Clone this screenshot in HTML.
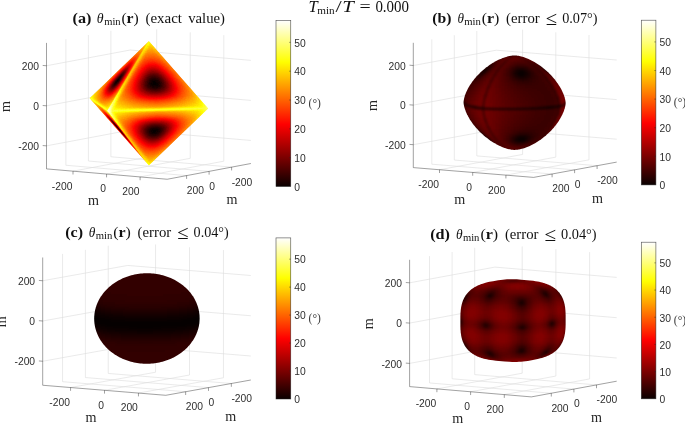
<!DOCTYPE html>
<html lang="en"><head><meta charset="utf-8"><title>theta min figure</title>
<style>
html,body{margin:0;padding:0;background:#fff;width:685px;height:423px;overflow:hidden}
svg{display:block}
.g{stroke:#dcdcdc;stroke-width:.6;fill:none}
.ax{stroke:#262626;stroke-width:.6;fill:none;stroke-opacity:.72}
.cbx{stroke:#262626;stroke-width:.62;fill:none;stroke-opacity:.8}
.tk{font-family:'Liberation Sans', sans-serif;font-size:10.3px;fill:#2e2e2e}
.m{font-family:'Liberation Serif', serif;font-size:14px;fill:#262626}
.deg{font-family:'Liberation Serif', serif;font-size:11.5px;fill:#3a3a3a}
.tt{font-family:'Liberation Serif', serif;font-size:14.4px;fill:#111}
.st{font-family:'Liberation Serif', serif;font-size:16px;fill:#111}
.b{font-weight:bold}
.i{font-style:italic}
.tt.sub{font-size:9.4px}
.tt.le{font-size:19.5px}
.st.sub{font-size:10.6px}
</style></head>
<body>
<svg width="685" height="423" viewBox="0 0 685 423">
<rect width="685" height="423" fill="#fff"/>
<defs>
<linearGradient id="hot" x1="0" y1="1" x2="0" y2="0">
<stop offset="0" stop-color="#0a0000"/><stop offset="0.375" stop-color="#ff0000"/>
<stop offset="0.75" stop-color="#ffff00"/><stop offset="1" stop-color="#ffffff"/>
</linearGradient>
<filter id="hm-a" x="-5%" y="-5%" width="110%" height="110%" color-interpolation-filters="sRGB"><feGaussianBlur stdDeviation="0.7"/><feComponentTransfer><feFuncR type="table" tableValues="0.02 0.3333 0.6667 1 1 1 1 1 1"/><feFuncG type="table" tableValues="0 0 0 0 0.3333 0.6667 1 1 1"/><feFuncB type="table" tableValues="0 0 0 0 0 0 0 0.5 1"/></feComponentTransfer></filter>
<filter id="hm-b" x="-5%" y="-5%" width="110%" height="110%" color-interpolation-filters="sRGB"><feGaussianBlur stdDeviation="0.8"/><feComponentTransfer><feFuncR type="table" tableValues="0.02 0.3333 0.6667 1 1 1 1 1 1"/><feFuncG type="table" tableValues="0 0 0 0 0.3333 0.6667 1 1 1"/><feFuncB type="table" tableValues="0 0 0 0 0 0 0 0.5 1"/></feComponentTransfer></filter>
<filter id="hm-c" x="-5%" y="-5%" width="110%" height="110%" color-interpolation-filters="sRGB"><feGaussianBlur stdDeviation="1.0"/><feComponentTransfer><feFuncR type="table" tableValues="0.02 0.3333 0.6667 1 1 1 1 1 1"/><feFuncG type="table" tableValues="0 0 0 0 0.3333 0.6667 1 1 1"/><feFuncB type="table" tableValues="0 0 0 0 0 0 0 0.5 1"/></feComponentTransfer></filter>
<filter id="hm-d" x="-5%" y="-5%" width="110%" height="110%" color-interpolation-filters="sRGB"><feGaussianBlur stdDeviation="0.8"/><feComponentTransfer><feFuncR type="table" tableValues="0.02 0.3333 0.6667 1 1 1 1 1 1"/><feFuncG type="table" tableValues="0 0 0 0 0.3333 0.6667 1 1 1"/><feFuncB type="table" tableValues="0 0 0 0 0 0 0 0.5 1"/></feComponentTransfer></filter>
</defs>
<g id="panel-a">
<g class="grid"><line class="g" x1="110.9" y1="156.78" x2="110.9" y2="30.78"/><line class="g" x1="46.5" y1="145.85" x2="130.2" y2="130.1"/><line class="g" x1="156.7" y1="155.42" x2="156.7" y2="29.42"/><line class="g" x1="130.2" y1="130.1" x2="250.9" y2="140.45"/><line class="g" x1="156.7" y1="155.42" x2="73" y2="171.17"/><line class="g" x1="110.9" y1="156.78" x2="231.6" y2="167.13"/><line class="g" x1="88.4" y1="161.02" x2="88.4" y2="35.02"/><line class="g" x1="46.5" y1="105.8" x2="130.2" y2="90.05"/><line class="g" x1="190.25" y1="158.3" x2="190.25" y2="32.3"/><line class="g" x1="130.2" y1="90.05" x2="250.9" y2="100.4"/><line class="g" x1="190.25" y1="158.3" x2="106.55" y2="174.05"/><line class="g" x1="88.4" y1="161.02" x2="209.1" y2="171.37"/><line class="g" x1="65.9" y1="165.25" x2="65.9" y2="39.25"/><line class="g" x1="46.5" y1="65.75" x2="130.2" y2="50"/><line class="g" x1="223.8" y1="161.18" x2="223.8" y2="35.18"/><line class="g" x1="130.2" y1="50" x2="250.9" y2="60.35"/><line class="g" x1="223.8" y1="161.18" x2="140.1" y2="176.93"/><line class="g" x1="65.9" y1="165.25" x2="186.6" y2="175.6"/></g>
<defs><g id="octa-face"><path fill="#000000" d="M24.97 23.97h3.06v1.06h-3.06zM23.97 24.97h4.06v1.06h-4.06zM23.97 25.97h4.06v1.06h-4.06zM23.97 26.97h3.06v1.06h-3.06z"/><path fill="#030303" d="M24.97 22.97h5.06v1.06h-5.06zM23.97 23.97h1.06v1.06h-1.06zM27.97 23.97h2.06v1.06h-2.06zM22.97 24.97h1.06v1.06h-1.06zM27.97 24.97h2.06v1.06h-2.06zM22.97 25.97h1.06v1.06h-1.06zM27.97 25.97h1.06v1.06h-1.06zM22.97 26.97h1.06v1.06h-1.06zM26.97 26.97h1.06v1.06h-1.06zM22.97 27.97h4.06v1.06h-4.06zM22.97 28.97h3.06v1.06h-3.06z"/><path fill="#060606" d="M24.97 21.97h5.06v1.06h-5.06zM23.97 22.97h1.06v1.06h-1.06zM29.97 22.97h1.06v1.06h-1.06zM22.97 23.97h1.06v1.06h-1.06zM29.97 23.97h1.06v1.06h-1.06zM21.97 24.97h1.06v1.06h-1.06zM21.97 25.97h1.06v1.06h-1.06zM28.97 25.97h1.06v1.06h-1.06zM21.97 26.97h1.06v1.06h-1.06zM27.97 26.97h1.06v1.06h-1.06zM21.97 27.97h1.06v1.06h-1.06zM26.97 27.97h1.06v1.06h-1.06zM21.97 28.97h1.06v1.06h-1.06zM25.97 28.97h1.06v1.06h-1.06zM22.97 29.97h2.06v1.06h-2.06z"/><path fill="#090909" d="M25.97 20.97h5.06v1.06h-5.06zM23.97 21.97h1.06v1.06h-1.06zM29.97 21.97h1.06v1.06h-1.06zM22.97 22.97h1.06v1.06h-1.06zM30.97 22.97h1.06v1.06h-1.06zM21.97 23.97h1.06v1.06h-1.06zM30.97 23.97h1.06v1.06h-1.06zM29.97 24.97h1.06v1.06h-1.06zM20.97 25.97h1.06v1.06h-1.06zM29.97 25.97h1.06v1.06h-1.06zM20.97 26.97h1.06v1.06h-1.06zM28.97 26.97h1.06v1.06h-1.06zM20.97 27.97h1.06v1.06h-1.06zM27.97 27.97h1.06v1.06h-1.06zM20.97 28.97h1.06v1.06h-1.06zM26.97 28.97h1.06v1.06h-1.06zM20.97 29.97h2.06v1.06h-2.06zM24.97 29.97h2.06v1.06h-2.06zM22.97 30.97h2.06v1.06h-2.06z"/><path fill="#0c0c0c" d="M26.97 19.97h3.06v1.06h-3.06zM23.97 20.97h2.06v1.06h-2.06zM30.97 20.97h1.06v1.06h-1.06zM22.97 21.97h1.06v1.06h-1.06zM30.97 21.97h1.06v1.06h-1.06zM21.97 22.97h1.06v1.06h-1.06zM20.97 23.97h1.06v1.06h-1.06zM20.97 24.97h1.06v1.06h-1.06zM30.97 24.97h1.06v1.06h-1.06zM19.97 26.97h1.06v1.06h-1.06zM29.97 26.97h1.06v1.06h-1.06zM19.97 27.97h1.06v1.06h-1.06zM28.97 27.97h1.06v1.06h-1.06zM19.97 28.97h1.06v1.06h-1.06zM27.97 28.97h1.06v1.06h-1.06zM26.97 29.97h1.06v1.06h-1.06zM20.97 30.97h2.06v1.06h-2.06zM24.97 30.97h1.06v1.06h-1.06z"/><path fill="#0f0f0f" d="M24.97 19.97h2.06v1.06h-2.06zM29.97 19.97h2.06v1.06h-2.06zM22.97 20.97h1.06v1.06h-1.06zM31.97 20.97h1.06v1.06h-1.06zM21.97 21.97h1.06v1.06h-1.06zM31.97 21.97h1.06v1.06h-1.06zM20.97 22.97h1.06v1.06h-1.06zM31.97 22.97h1.06v1.06h-1.06zM31.97 23.97h1.06v1.06h-1.06zM19.97 24.97h1.06v1.06h-1.06zM19.97 25.97h1.06v1.06h-1.06zM30.97 25.97h1.06v1.06h-1.06zM19.97 29.97h1.06v1.06h-1.06zM19.97 30.97h1.06v1.06h-1.06zM25.97 30.97h1.06v1.06h-1.06zM20.97 31.97h4.06v1.06h-4.06z"/><path fill="#121212" d="M25.97 18.97h6.06v1.06h-6.06zM23.97 19.97h1.06v1.06h-1.06zM31.97 19.97h1.06v1.06h-1.06zM32.97 20.97h1.06v1.06h-1.06zM32.97 21.97h1.06v1.06h-1.06zM32.97 22.97h1.06v1.06h-1.06zM19.97 23.97h1.06v1.06h-1.06zM31.97 24.97h1.06v1.06h-1.06zM18.97 25.97h1.06v1.06h-1.06zM18.97 26.97h1.06v1.06h-1.06zM30.97 26.97h1.06v1.06h-1.06zM18.97 27.97h1.06v1.06h-1.06zM29.97 27.97h1.06v1.06h-1.06zM18.97 28.97h1.06v1.06h-1.06zM28.97 28.97h1.06v1.06h-1.06zM18.97 29.97h1.06v1.06h-1.06zM27.97 29.97h1.06v1.06h-1.06zM18.97 30.97h1.06v1.06h-1.06zM26.97 30.97h1.06v1.06h-1.06zM19.97 31.97h1.06v1.06h-1.06zM24.97 31.97h1.06v1.06h-1.06zM20.97 32.97h3.06v1.06h-3.06z"/><path fill="#151515" d="M24.97 18.97h1.06v1.06h-1.06zM31.97 18.97h1.06v1.06h-1.06zM22.97 19.97h1.06v1.06h-1.06zM32.97 19.97h1.06v1.06h-1.06zM21.97 20.97h1.06v1.06h-1.06zM20.97 21.97h1.06v1.06h-1.06zM19.97 22.97h1.06v1.06h-1.06zM32.97 23.97h1.06v1.06h-1.06zM18.97 24.97h1.06v1.06h-1.06zM31.97 25.97h1.06v1.06h-1.06zM29.97 28.97h1.06v1.06h-1.06zM28.97 29.97h1.06v1.06h-1.06zM18.97 31.97h1.06v1.06h-1.06zM25.97 31.97h1.06v1.06h-1.06zM19.97 32.97h1.06v1.06h-1.06zM23.97 32.97h1.06v1.06h-1.06z"/><path fill="#181818" d="M25.97 17.97h6.06v1.06h-6.06zM23.97 18.97h1.06v1.06h-1.06zM32.97 18.97h1.06v1.06h-1.06zM21.97 19.97h1.06v1.06h-1.06zM33.97 19.97h1.06v1.06h-1.06zM20.97 20.97h1.06v1.06h-1.06zM33.97 20.97h1.06v1.06h-1.06zM19.97 21.97h1.06v1.06h-1.06zM33.97 21.97h1.06v1.06h-1.06zM33.97 22.97h1.06v1.06h-1.06zM18.97 23.97h1.06v1.06h-1.06zM32.97 24.97h1.06v1.06h-1.06zM17.97 25.97h1.06v1.06h-1.06zM17.97 26.97h1.06v1.06h-1.06zM31.97 26.97h1.06v1.06h-1.06zM17.97 27.97h1.06v1.06h-1.06zM30.97 27.97h1.06v1.06h-1.06zM17.97 28.97h1.06v1.06h-1.06zM17.97 29.97h1.06v1.06h-1.06zM17.97 30.97h1.06v1.06h-1.06zM27.97 30.97h1.06v1.06h-1.06zM26.97 31.97h1.06v1.06h-1.06zM18.97 32.97h1.06v1.06h-1.06zM24.97 32.97h1.06v1.06h-1.06zM19.97 33.97h4.06v1.06h-4.06z"/><path fill="#1b1b1b" d="M24.97 17.97h1.06v1.06h-1.06zM31.97 17.97h2.06v1.06h-2.06zM22.97 18.97h1.06v1.06h-1.06zM33.97 18.97h1.06v1.06h-1.06zM34.97 20.97h1.06v1.06h-1.06zM34.97 21.97h1.06v1.06h-1.06zM18.97 22.97h1.06v1.06h-1.06zM33.97 23.97h1.06v1.06h-1.06zM17.97 24.97h1.06v1.06h-1.06zM32.97 25.97h1.06v1.06h-1.06zM30.97 28.97h1.06v1.06h-1.06zM29.97 29.97h1.06v1.06h-1.06zM28.97 30.97h1.06v1.06h-1.06zM17.97 31.97h1.06v1.06h-1.06zM17.97 32.97h1.06v1.06h-1.06zM25.97 32.97h1.06v1.06h-1.06zM18.97 33.97h1.06v1.06h-1.06zM23.97 33.97h1.06v1.06h-1.06zM20.97 34.97h2.06v1.06h-2.06z"/><path fill="#1e1e1e" d="M26.97 16.97h6.06v1.06h-6.06zM23.97 17.97h1.06v1.06h-1.06zM33.97 17.97h1.06v1.06h-1.06zM21.97 18.97h1.06v1.06h-1.06zM34.97 18.97h1.06v1.06h-1.06zM20.97 19.97h1.06v1.06h-1.06zM34.97 19.97h1.06v1.06h-1.06zM19.97 20.97h1.06v1.06h-1.06zM18.97 21.97h1.06v1.06h-1.06zM34.97 22.97h1.06v1.06h-1.06zM17.97 23.97h1.06v1.06h-1.06zM33.97 24.97h1.06v1.06h-1.06zM16.97 26.97h1.06v1.06h-1.06zM32.97 26.97h1.06v1.06h-1.06zM16.97 27.97h1.06v1.06h-1.06zM31.97 27.97h1.06v1.06h-1.06zM16.97 28.97h1.06v1.06h-1.06zM16.97 29.97h1.06v1.06h-1.06zM16.97 30.97h1.06v1.06h-1.06zM16.97 31.97h1.06v1.06h-1.06zM27.97 31.97h1.06v1.06h-1.06zM26.97 32.97h1.06v1.06h-1.06zM17.97 33.97h1.06v1.06h-1.06zM24.97 33.97h1.06v1.06h-1.06zM18.97 34.97h2.06v1.06h-2.06zM22.97 34.97h1.06v1.06h-1.06z"/><path fill="#212121" d="M24.97 16.97h2.06v1.06h-2.06zM32.97 16.97h1.06v1.06h-1.06zM22.97 17.97h1.06v1.06h-1.06zM34.97 17.97h1.06v1.06h-1.06zM19.97 19.97h1.06v1.06h-1.06zM35.97 19.97h1.06v1.06h-1.06zM35.97 20.97h1.06v1.06h-1.06zM35.97 21.97h1.06v1.06h-1.06zM17.97 22.97h1.06v1.06h-1.06zM34.97 23.97h1.06v1.06h-1.06zM16.97 24.97h1.06v1.06h-1.06zM16.97 25.97h1.06v1.06h-1.06zM33.97 25.97h1.06v1.06h-1.06zM30.97 29.97h1.06v1.06h-1.06zM29.97 30.97h1.06v1.06h-1.06zM16.97 32.97h1.06v1.06h-1.06zM25.97 33.97h1.06v1.06h-1.06zM17.97 34.97h1.06v1.06h-1.06zM23.97 34.97h1.06v1.06h-1.06zM19.97 35.97h3.06v1.06h-3.06z"/><path fill="#242424" d="M26.97 15.97h6.06v1.06h-6.06zM23.97 16.97h1.06v1.06h-1.06zM33.97 16.97h2.06v1.06h-2.06zM21.97 17.97h1.06v1.06h-1.06zM35.97 17.97h1.06v1.06h-1.06zM20.97 18.97h1.06v1.06h-1.06zM35.97 18.97h1.06v1.06h-1.06zM18.97 20.97h1.06v1.06h-1.06zM17.97 21.97h1.06v1.06h-1.06zM35.97 22.97h1.06v1.06h-1.06zM16.97 23.97h1.06v1.06h-1.06zM34.97 24.97h1.06v1.06h-1.06zM15.97 26.97h1.06v1.06h-1.06zM33.97 26.97h1.06v1.06h-1.06zM15.97 27.97h1.06v1.06h-1.06zM32.97 27.97h1.06v1.06h-1.06zM15.97 28.97h1.06v1.06h-1.06zM31.97 28.97h1.06v1.06h-1.06zM15.97 29.97h1.06v1.06h-1.06zM15.97 30.97h1.06v1.06h-1.06zM15.97 31.97h1.06v1.06h-1.06zM28.97 31.97h1.06v1.06h-1.06zM27.97 32.97h1.06v1.06h-1.06zM16.97 33.97h1.06v1.06h-1.06zM26.97 33.97h1.06v1.06h-1.06zM16.97 34.97h1.06v1.06h-1.06zM24.97 34.97h1.06v1.06h-1.06zM17.97 35.97h2.06v1.06h-2.06zM22.97 35.97h1.06v1.06h-1.06z"/><path fill="#272727" d="M25.97 15.97h1.06v1.06h-1.06zM32.97 15.97h2.06v1.06h-2.06zM22.97 16.97h1.06v1.06h-1.06zM19.97 18.97h1.06v1.06h-1.06zM36.97 18.97h1.06v1.06h-1.06zM18.97 19.97h1.06v1.06h-1.06zM36.97 19.97h1.06v1.06h-1.06zM36.97 20.97h1.06v1.06h-1.06zM36.97 21.97h1.06v1.06h-1.06zM16.97 22.97h1.06v1.06h-1.06zM35.97 23.97h1.06v1.06h-1.06zM15.97 25.97h1.06v1.06h-1.06zM34.97 25.97h1.06v1.06h-1.06zM30.97 30.97h1.06v1.06h-1.06zM15.97 32.97h1.06v1.06h-1.06zM15.97 33.97h1.06v1.06h-1.06zM25.97 34.97h1.06v1.06h-1.06zM23.97 35.97h1.06v1.06h-1.06zM18.97 36.97h4.06v1.06h-4.06z"/><path fill="#2a2a2a" d="M27.97 14.97h5.06v1.06h-5.06zM23.97 15.97h2.06v1.06h-2.06zM34.97 15.97h1.06v1.06h-1.06zM21.97 16.97h1.06v1.06h-1.06zM35.97 16.97h1.06v1.06h-1.06zM20.97 17.97h1.06v1.06h-1.06zM36.97 17.97h1.06v1.06h-1.06zM17.97 20.97h1.06v1.06h-1.06zM16.97 21.97h1.06v1.06h-1.06zM36.97 22.97h1.06v1.06h-1.06zM15.97 23.97h1.06v1.06h-1.06zM15.97 24.97h1.06v1.06h-1.06zM35.97 24.97h1.06v1.06h-1.06zM14.97 27.97h1.06v1.06h-1.06zM33.97 27.97h1.06v1.06h-1.06zM14.97 28.97h1.06v1.06h-1.06zM32.97 28.97h1.06v1.06h-1.06zM14.97 29.97h1.06v1.06h-1.06zM31.97 29.97h1.06v1.06h-1.06zM14.97 30.97h1.06v1.06h-1.06zM14.97 31.97h1.06v1.06h-1.06zM29.97 31.97h1.06v1.06h-1.06zM28.97 32.97h1.06v1.06h-1.06zM27.97 33.97h1.06v1.06h-1.06zM15.97 34.97h1.06v1.06h-1.06zM16.97 35.97h1.06v1.06h-1.06zM24.97 35.97h1.06v1.06h-1.06zM17.97 36.97h1.06v1.06h-1.06zM22.97 36.97h1.06v1.06h-1.06z"/><path fill="#2d2d2d" d="M25.97 14.97h2.06v1.06h-2.06zM32.97 14.97h2.06v1.06h-2.06zM22.97 15.97h1.06v1.06h-1.06zM35.97 15.97h1.06v1.06h-1.06zM36.97 16.97h1.06v1.06h-1.06zM19.97 17.97h1.06v1.06h-1.06zM37.97 17.97h1.06v1.06h-1.06zM18.97 18.97h1.06v1.06h-1.06zM37.97 18.97h1.06v1.06h-1.06zM17.97 19.97h1.06v1.06h-1.06zM37.97 19.97h1.06v1.06h-1.06zM37.97 20.97h1.06v1.06h-1.06zM15.97 22.97h1.06v1.06h-1.06zM36.97 23.97h1.06v1.06h-1.06zM14.97 25.97h1.06v1.06h-1.06zM14.97 26.97h1.06v1.06h-1.06zM34.97 26.97h1.06v1.06h-1.06zM14.97 32.97h1.06v1.06h-1.06zM14.97 33.97h1.06v1.06h-1.06zM26.97 34.97h1.06v1.06h-1.06zM15.97 35.97h1.06v1.06h-1.06zM16.97 36.97h1.06v1.06h-1.06zM23.97 36.97h1.06v1.06h-1.06zM17.97 37.97h4.06v1.06h-4.06z"/><path fill="#303030" d="M24.97 14.97h1.06v1.06h-1.06zM34.97 14.97h1.06v1.06h-1.06zM36.97 15.97h1.06v1.06h-1.06zM20.97 16.97h1.06v1.06h-1.06zM37.97 16.97h1.06v1.06h-1.06zM16.97 20.97h1.06v1.06h-1.06zM37.97 21.97h1.06v1.06h-1.06zM37.97 22.97h1.06v1.06h-1.06zM14.97 24.97h1.06v1.06h-1.06zM35.97 25.97h1.06v1.06h-1.06zM33.97 28.97h1.06v1.06h-1.06zM32.97 29.97h1.06v1.06h-1.06zM31.97 30.97h1.06v1.06h-1.06zM30.97 31.97h1.06v1.06h-1.06zM29.97 32.97h1.06v1.06h-1.06zM28.97 33.97h1.06v1.06h-1.06zM14.97 34.97h1.06v1.06h-1.06zM25.97 35.97h1.06v1.06h-1.06zM15.97 36.97h1.06v1.06h-1.06zM16.97 37.97h1.06v1.06h-1.06zM21.97 37.97h2.06v1.06h-2.06z"/><path fill="#333333" d="M26.97 13.97h8.06v1.06h-8.06zM23.97 14.97h1.06v1.06h-1.06zM35.97 14.97h2.06v1.06h-2.06zM21.97 15.97h1.06v1.06h-1.06zM37.97 15.97h1.06v1.06h-1.06zM19.97 16.97h1.06v1.06h-1.06zM38.97 16.97h1.06v1.06h-1.06zM18.97 17.97h1.06v1.06h-1.06zM38.97 17.97h1.06v1.06h-1.06zM17.97 18.97h1.06v1.06h-1.06zM38.97 18.97h1.06v1.06h-1.06zM16.97 19.97h1.06v1.06h-1.06zM38.97 19.97h1.06v1.06h-1.06zM38.97 20.97h1.06v1.06h-1.06zM15.97 21.97h1.06v1.06h-1.06zM14.97 23.97h1.06v1.06h-1.06zM36.97 24.97h1.06v1.06h-1.06zM13.97 26.97h1.06v1.06h-1.06zM35.97 26.97h1.06v1.06h-1.06zM13.97 27.97h1.06v1.06h-1.06zM34.97 27.97h1.06v1.06h-1.06zM13.97 28.97h1.06v1.06h-1.06zM13.97 29.97h1.06v1.06h-1.06zM13.97 30.97h1.06v1.06h-1.06zM13.97 31.97h1.06v1.06h-1.06zM13.97 32.97h1.06v1.06h-1.06zM13.97 33.97h1.06v1.06h-1.06zM27.97 34.97h1.06v1.06h-1.06zM14.97 35.97h1.06v1.06h-1.06zM26.97 35.97h1.06v1.06h-1.06zM14.97 36.97h1.06v1.06h-1.06zM24.97 36.97h1.06v1.06h-1.06zM15.97 37.97h1.06v1.06h-1.06zM16.97 38.97h5.06v1.06h-5.06z"/><path fill="#363636" d="M25.97 13.97h1.06v1.06h-1.06zM34.97 13.97h2.06v1.06h-2.06zM22.97 14.97h1.06v1.06h-1.06zM37.97 14.97h1.06v1.06h-1.06zM20.97 15.97h1.06v1.06h-1.06zM38.97 15.97h1.06v1.06h-1.06zM17.97 17.97h1.06v1.06h-1.06zM39.97 18.97h1.06v1.06h-1.06zM15.97 20.97h1.06v1.06h-1.06zM38.97 21.97h1.06v1.06h-1.06zM14.97 22.97h1.06v1.06h-1.06zM37.97 23.97h1.06v1.06h-1.06zM13.97 25.97h1.06v1.06h-1.06zM36.97 25.97h1.06v1.06h-1.06zM32.97 30.97h1.06v1.06h-1.06zM31.97 31.97h1.06v1.06h-1.06zM30.97 32.97h1.06v1.06h-1.06zM13.97 34.97h1.06v1.06h-1.06zM13.97 35.97h1.06v1.06h-1.06zM25.97 36.97h1.06v1.06h-1.06zM14.97 37.97h1.06v1.06h-1.06zM23.97 37.97h1.06v1.06h-1.06zM15.97 38.97h1.06v1.06h-1.06zM21.97 38.97h1.06v1.06h-1.06zM18.97 39.97h1.06v1.06h-1.06z"/><path fill="#393939" d="M28.97 12.97h5.06v1.06h-5.06zM23.97 13.97h2.06v1.06h-2.06zM36.97 13.97h1.06v1.06h-1.06zM21.97 14.97h1.06v1.06h-1.06zM19.97 15.97h1.06v1.06h-1.06zM18.97 16.97h1.06v1.06h-1.06zM39.97 16.97h1.06v1.06h-1.06zM39.97 17.97h1.06v1.06h-1.06zM16.97 18.97h1.06v1.06h-1.06zM15.97 19.97h1.06v1.06h-1.06zM39.97 19.97h1.06v1.06h-1.06zM39.97 20.97h1.06v1.06h-1.06zM14.97 21.97h1.06v1.06h-1.06zM38.97 22.97h1.06v1.06h-1.06zM13.97 23.97h1.06v1.06h-1.06zM13.97 24.97h1.06v1.06h-1.06zM37.97 24.97h1.06v1.06h-1.06zM35.97 27.97h1.06v1.06h-1.06zM12.97 28.97h1.06v1.06h-1.06zM34.97 28.97h1.06v1.06h-1.06zM12.97 29.97h1.06v1.06h-1.06zM33.97 29.97h1.06v1.06h-1.06zM12.97 30.97h1.06v1.06h-1.06zM12.97 31.97h1.06v1.06h-1.06zM12.97 32.97h1.06v1.06h-1.06zM29.97 33.97h1.06v1.06h-1.06zM28.97 34.97h1.06v1.06h-1.06zM27.97 35.97h1.06v1.06h-1.06zM13.97 36.97h1.06v1.06h-1.06zM24.97 37.97h1.06v1.06h-1.06zM22.97 38.97h1.06v1.06h-1.06zM16.97 39.97h2.06v1.06h-2.06zM19.97 39.97h2.06v1.06h-2.06z"/><path fill="#3c3c3c" d="M26.97 12.97h2.06v1.06h-2.06zM33.97 12.97h3.06v1.06h-3.06zM22.97 13.97h1.06v1.06h-1.06zM37.97 13.97h1.06v1.06h-1.06zM20.97 14.97h1.06v1.06h-1.06zM38.97 14.97h1.06v1.06h-1.06zM39.97 15.97h1.06v1.06h-1.06zM17.97 16.97h1.06v1.06h-1.06zM16.97 17.97h1.06v1.06h-1.06zM40.97 17.97h1.06v1.06h-1.06zM40.97 18.97h1.06v1.06h-1.06zM14.97 20.97h1.06v1.06h-1.06zM39.97 21.97h1.06v1.06h-1.06zM13.97 22.97h1.06v1.06h-1.06zM38.97 23.97h1.06v1.06h-1.06zM12.97 26.97h1.06v1.06h-1.06zM36.97 26.97h1.06v1.06h-1.06zM12.97 27.97h1.06v1.06h-1.06zM12.97 33.97h1.06v1.06h-1.06zM12.97 34.97h1.06v1.06h-1.06zM12.97 35.97h1.06v1.06h-1.06zM26.97 36.97h1.06v1.06h-1.06zM13.97 37.97h1.06v1.06h-1.06zM14.97 38.97h1.06v1.06h-1.06zM23.97 38.97h1.06v1.06h-1.06zM15.97 39.97h1.06v1.06h-1.06zM21.97 39.97h1.06v1.06h-1.06zM17.97 40.97h2.06v1.06h-2.06z"/><path fill="#3f3f3f" d="M24.97 12.97h2.06v1.06h-2.06zM36.97 12.97h1.06v1.06h-1.06zM21.97 13.97h1.06v1.06h-1.06zM38.97 13.97h1.06v1.06h-1.06zM19.97 14.97h1.06v1.06h-1.06zM39.97 14.97h1.06v1.06h-1.06zM18.97 15.97h1.06v1.06h-1.06zM40.97 15.97h1.06v1.06h-1.06zM40.97 16.97h1.06v1.06h-1.06zM15.97 18.97h1.06v1.06h-1.06zM14.97 19.97h1.06v1.06h-1.06zM40.97 19.97h1.06v1.06h-1.06zM13.97 21.97h1.06v1.06h-1.06zM39.97 22.97h1.06v1.06h-1.06zM12.97 24.97h1.06v1.06h-1.06zM12.97 25.97h1.06v1.06h-1.06zM37.97 25.97h1.06v1.06h-1.06zM34.97 29.97h1.06v1.06h-1.06zM33.97 30.97h1.06v1.06h-1.06zM32.97 31.97h1.06v1.06h-1.06zM31.97 32.97h1.06v1.06h-1.06zM30.97 33.97h1.06v1.06h-1.06zM29.97 34.97h1.06v1.06h-1.06zM12.97 36.97h1.06v1.06h-1.06zM25.97 37.97h1.06v1.06h-1.06zM13.97 38.97h1.06v1.06h-1.06zM14.97 39.97h1.06v1.06h-1.06zM22.97 39.97h1.06v1.06h-1.06zM15.97 40.97h2.06v1.06h-2.06zM19.97 40.97h1.06v1.06h-1.06z"/><path fill="#424242" d="M27.97 11.97h8.06v1.06h-8.06zM23.97 12.97h1.06v1.06h-1.06zM37.97 12.97h1.06v1.06h-1.06zM20.97 13.97h1.06v1.06h-1.06zM39.97 13.97h1.06v1.06h-1.06zM40.97 14.97h1.06v1.06h-1.06zM17.97 15.97h1.06v1.06h-1.06zM16.97 16.97h1.06v1.06h-1.06zM41.97 16.97h1.06v1.06h-1.06zM15.97 17.97h1.06v1.06h-1.06zM41.97 17.97h1.06v1.06h-1.06zM41.97 18.97h1.06v1.06h-1.06zM13.97 20.97h1.06v1.06h-1.06zM40.97 20.97h1.06v1.06h-1.06zM12.97 23.97h1.06v1.06h-1.06zM38.97 24.97h1.06v1.06h-1.06zM11.97 27.97h1.06v1.06h-1.06zM36.97 27.97h1.06v1.06h-1.06zM11.97 28.97h1.06v1.06h-1.06zM35.97 28.97h1.06v1.06h-1.06zM11.97 29.97h1.06v1.06h-1.06zM11.97 30.97h1.06v1.06h-1.06zM11.97 31.97h1.06v1.06h-1.06zM11.97 32.97h1.06v1.06h-1.06zM11.97 33.97h1.06v1.06h-1.06zM11.97 34.97h1.06v1.06h-1.06zM28.97 35.97h1.06v1.06h-1.06zM27.97 36.97h1.06v1.06h-1.06zM12.97 37.97h1.06v1.06h-1.06zM24.97 38.97h1.06v1.06h-1.06zM13.97 39.97h1.06v1.06h-1.06zM14.97 40.97h1.06v1.06h-1.06zM20.97 40.97h1.06v1.06h-1.06zM16.97 41.97h3.06v1.06h-3.06z"/><path fill="#454545" d="M25.97 11.97h2.06v1.06h-2.06zM35.97 11.97h2.06v1.06h-2.06zM22.97 12.97h1.06v1.06h-1.06zM38.97 12.97h1.06v1.06h-1.06zM40.97 13.97h1.06v1.06h-1.06zM18.97 14.97h1.06v1.06h-1.06zM41.97 14.97h1.06v1.06h-1.06zM41.97 15.97h1.06v1.06h-1.06zM14.97 18.97h1.06v1.06h-1.06zM41.97 19.97h1.06v1.06h-1.06zM40.97 21.97h1.06v1.06h-1.06zM12.97 22.97h1.06v1.06h-1.06zM39.97 23.97h1.06v1.06h-1.06zM11.97 25.97h1.06v1.06h-1.06zM38.97 25.97h1.06v1.06h-1.06zM11.97 26.97h1.06v1.06h-1.06zM37.97 26.97h1.06v1.06h-1.06zM33.97 31.97h1.06v1.06h-1.06zM32.97 32.97h1.06v1.06h-1.06zM31.97 33.97h1.06v1.06h-1.06zM11.97 35.97h1.06v1.06h-1.06zM11.97 36.97h1.06v1.06h-1.06zM26.97 37.97h1.06v1.06h-1.06zM12.97 38.97h1.06v1.06h-1.06zM25.97 38.97h1.06v1.06h-1.06zM23.97 39.97h1.06v1.06h-1.06zM13.97 40.97h1.06v1.06h-1.06zM21.97 40.97h1.06v1.06h-1.06zM14.97 41.97h2.06v1.06h-2.06zM19.97 41.97h1.06v1.06h-1.06z"/><path fill="#484848" d="M28.97 10.97h6.06v1.06h-6.06zM23.97 11.97h2.06v1.06h-2.06zM37.97 11.97h2.06v1.06h-2.06zM21.97 12.97h1.06v1.06h-1.06zM39.97 12.97h2.06v1.06h-2.06zM19.97 13.97h1.06v1.06h-1.06zM41.97 13.97h1.06v1.06h-1.06zM17.97 14.97h1.06v1.06h-1.06zM16.97 15.97h1.06v1.06h-1.06zM42.97 15.97h1.06v1.06h-1.06zM15.97 16.97h1.06v1.06h-1.06zM42.97 16.97h1.06v1.06h-1.06zM14.97 17.97h1.06v1.06h-1.06zM42.97 17.97h1.06v1.06h-1.06zM13.97 19.97h1.06v1.06h-1.06zM41.97 20.97h1.06v1.06h-1.06zM12.97 21.97h1.06v1.06h-1.06zM40.97 22.97h1.06v1.06h-1.06zM11.97 23.97h1.06v1.06h-1.06zM11.97 24.97h1.06v1.06h-1.06zM39.97 24.97h1.06v1.06h-1.06zM10.97 28.97h1.06v1.06h-1.06zM36.97 28.97h1.06v1.06h-1.06zM10.97 29.97h1.06v1.06h-1.06zM35.97 29.97h1.06v1.06h-1.06zM10.97 30.97h1.06v1.06h-1.06zM34.97 30.97h1.06v1.06h-1.06zM10.97 31.97h1.06v1.06h-1.06zM10.97 32.97h1.06v1.06h-1.06zM10.97 33.97h1.06v1.06h-1.06zM30.97 34.97h1.06v1.06h-1.06zM29.97 35.97h1.06v1.06h-1.06zM28.97 36.97h1.06v1.06h-1.06zM11.97 37.97h1.06v1.06h-1.06zM11.97 38.97h1.06v1.06h-1.06zM12.97 39.97h1.06v1.06h-1.06zM24.97 39.97h1.06v1.06h-1.06zM12.97 40.97h1.06v1.06h-1.06zM22.97 40.97h1.06v1.06h-1.06zM13.97 41.97h1.06v1.06h-1.06zM20.97 41.97h1.06v1.06h-1.06zM15.97 42.97h3.06v1.06h-3.06z"/><path fill="#4b4b4b" d="M26.97 10.97h2.06v1.06h-2.06zM34.97 10.97h3.06v1.06h-3.06zM22.97 11.97h1.06v1.06h-1.06zM39.97 11.97h1.06v1.06h-1.06zM20.97 12.97h1.06v1.06h-1.06zM18.97 13.97h1.06v1.06h-1.06zM42.97 14.97h1.06v1.06h-1.06zM15.97 15.97h1.06v1.06h-1.06zM13.97 18.97h1.06v1.06h-1.06zM42.97 18.97h1.06v1.06h-1.06zM42.97 19.97h1.06v1.06h-1.06zM12.97 20.97h1.06v1.06h-1.06zM41.97 21.97h1.06v1.06h-1.06zM11.97 22.97h1.06v1.06h-1.06zM40.97 23.97h1.06v1.06h-1.06zM10.97 26.97h1.06v1.06h-1.06zM38.97 26.97h1.06v1.06h-1.06zM10.97 27.97h1.06v1.06h-1.06zM37.97 27.97h1.06v1.06h-1.06zM10.97 34.97h1.06v1.06h-1.06zM10.97 35.97h1.06v1.06h-1.06zM10.97 36.97h1.06v1.06h-1.06zM27.97 37.97h1.06v1.06h-1.06zM26.97 38.97h1.06v1.06h-1.06zM11.97 39.97h1.06v1.06h-1.06zM23.97 40.97h1.06v1.06h-1.06zM21.97 41.97h1.06v1.06h-1.06zM14.97 42.97h1.06v1.06h-1.06zM18.97 42.97h2.06v1.06h-2.06z"/><path fill="#4e4e4e" d="M24.97 10.97h2.06v1.06h-2.06zM37.97 10.97h2.06v1.06h-2.06zM21.97 11.97h1.06v1.06h-1.06zM40.97 11.97h1.06v1.06h-1.06zM19.97 12.97h1.06v1.06h-1.06zM41.97 12.97h1.06v1.06h-1.06zM17.97 13.97h1.06v1.06h-1.06zM42.97 13.97h1.06v1.06h-1.06zM16.97 14.97h1.06v1.06h-1.06zM43.97 14.97h1.06v1.06h-1.06zM43.97 15.97h1.06v1.06h-1.06zM14.97 16.97h1.06v1.06h-1.06zM43.97 16.97h1.06v1.06h-1.06zM13.97 17.97h1.06v1.06h-1.06zM43.97 17.97h1.06v1.06h-1.06zM12.97 19.97h1.06v1.06h-1.06zM42.97 20.97h1.06v1.06h-1.06zM11.97 21.97h1.06v1.06h-1.06zM41.97 22.97h1.06v1.06h-1.06zM10.97 24.97h1.06v1.06h-1.06zM10.97 25.97h1.06v1.06h-1.06zM39.97 25.97h1.06v1.06h-1.06zM35.97 30.97h1.06v1.06h-1.06zM34.97 31.97h1.06v1.06h-1.06zM33.97 32.97h1.06v1.06h-1.06zM32.97 33.97h1.06v1.06h-1.06zM31.97 34.97h1.06v1.06h-1.06zM30.97 35.97h1.06v1.06h-1.06zM10.97 37.97h1.06v1.06h-1.06zM10.97 38.97h1.06v1.06h-1.06zM25.97 39.97h1.06v1.06h-1.06zM11.97 40.97h1.06v1.06h-1.06zM12.97 41.97h1.06v1.06h-1.06zM22.97 41.97h1.06v1.06h-1.06zM13.97 42.97h1.06v1.06h-1.06zM20.97 42.97h1.06v1.06h-1.06zM14.97 43.97h4.06v1.06h-4.06z"/><path fill="#515151" d="M27.97 9.97h10.06v1.06h-10.06zM23.97 10.97h1.06v1.06h-1.06zM39.97 10.97h1.06v1.06h-1.06zM20.97 11.97h1.06v1.06h-1.06zM41.97 11.97h1.06v1.06h-1.06zM18.97 12.97h1.06v1.06h-1.06zM42.97 12.97h1.06v1.06h-1.06zM43.97 13.97h1.06v1.06h-1.06zM15.97 14.97h1.06v1.06h-1.06zM14.97 15.97h1.06v1.06h-1.06zM12.97 18.97h1.06v1.06h-1.06zM43.97 18.97h1.06v1.06h-1.06zM43.97 19.97h1.06v1.06h-1.06zM11.97 20.97h1.06v1.06h-1.06zM42.97 21.97h1.06v1.06h-1.06zM10.97 23.97h1.06v1.06h-1.06zM40.97 24.97h1.06v1.06h-1.06zM9.97 27.97h1.06v1.06h-1.06zM9.97 28.97h1.06v1.06h-1.06zM37.97 28.97h1.06v1.06h-1.06zM9.97 29.97h1.06v1.06h-1.06zM36.97 29.97h1.06v1.06h-1.06zM9.97 30.97h1.06v1.06h-1.06zM9.97 31.97h1.06v1.06h-1.06zM9.97 32.97h1.06v1.06h-1.06zM9.97 33.97h1.06v1.06h-1.06zM9.97 34.97h1.06v1.06h-1.06zM9.97 35.97h1.06v1.06h-1.06zM9.97 36.97h1.06v1.06h-1.06zM29.97 36.97h1.06v1.06h-1.06zM28.97 37.97h1.06v1.06h-1.06zM10.97 39.97h1.06v1.06h-1.06zM24.97 40.97h1.06v1.06h-1.06zM11.97 41.97h1.06v1.06h-1.06zM12.97 42.97h1.06v1.06h-1.06zM21.97 42.97h1.06v1.06h-1.06zM13.97 43.97h1.06v1.06h-1.06zM18.97 43.97h2.06v1.06h-2.06z"/><path fill="#545454" d="M25.97 9.97h2.06v1.06h-2.06zM37.97 9.97h2.06v1.06h-2.06zM21.97 10.97h2.06v1.06h-2.06zM40.97 10.97h2.06v1.06h-2.06zM19.97 11.97h1.06v1.06h-1.06zM42.97 11.97h1.06v1.06h-1.06zM17.97 12.97h1.06v1.06h-1.06zM43.97 12.97h1.06v1.06h-1.06zM16.97 13.97h1.06v1.06h-1.06zM44.97 13.97h1.06v1.06h-1.06zM44.97 14.97h1.06v1.06h-1.06zM44.97 15.97h1.06v1.06h-1.06zM13.97 16.97h1.06v1.06h-1.06zM44.97 16.97h1.06v1.06h-1.06zM12.97 17.97h1.06v1.06h-1.06zM44.97 17.97h1.06v1.06h-1.06zM11.97 19.97h1.06v1.06h-1.06zM43.97 20.97h1.06v1.06h-1.06zM10.97 21.97h1.06v1.06h-1.06zM10.97 22.97h1.06v1.06h-1.06zM41.97 23.97h1.06v1.06h-1.06zM9.97 25.97h1.06v1.06h-1.06zM9.97 26.97h1.06v1.06h-1.06zM39.97 26.97h1.06v1.06h-1.06zM38.97 27.97h1.06v1.06h-1.06zM33.97 33.97h1.06v1.06h-1.06zM9.97 37.97h1.06v1.06h-1.06zM9.97 38.97h1.06v1.06h-1.06zM27.97 38.97h1.06v1.06h-1.06zM26.97 39.97h1.06v1.06h-1.06zM10.97 40.97h1.06v1.06h-1.06zM10.97 41.97h1.06v1.06h-1.06zM23.97 41.97h1.06v1.06h-1.06zM11.97 42.97h1.06v1.06h-1.06zM12.97 43.97h1.06v1.06h-1.06zM20.97 43.97h1.06v1.06h-1.06zM13.97 44.97h5.06v1.06h-5.06z"/><path fill="#575757" d="M28.97 8.97h8.06v1.06h-8.06zM23.97 9.97h2.06v1.06h-2.06zM39.97 9.97h2.06v1.06h-2.06zM20.97 10.97h1.06v1.06h-1.06zM42.97 10.97h1.06v1.06h-1.06zM18.97 11.97h1.06v1.06h-1.06zM43.97 11.97h1.06v1.06h-1.06zM16.97 12.97h1.06v1.06h-1.06zM44.97 12.97h1.06v1.06h-1.06zM15.97 13.97h1.06v1.06h-1.06zM14.97 14.97h1.06v1.06h-1.06zM13.97 15.97h1.06v1.06h-1.06zM12.97 16.97h1.06v1.06h-1.06zM11.97 18.97h1.06v1.06h-1.06zM44.97 18.97h1.06v1.06h-1.06zM10.97 20.97h1.06v1.06h-1.06zM42.97 22.97h1.06v1.06h-1.06zM9.97 23.97h1.06v1.06h-1.06zM9.97 24.97h1.06v1.06h-1.06zM41.97 24.97h1.06v1.06h-1.06zM40.97 25.97h1.06v1.06h-1.06zM8.97 28.97h1.06v1.06h-1.06zM8.97 29.97h1.06v1.06h-1.06zM37.97 29.97h1.06v1.06h-1.06zM8.97 30.97h1.06v1.06h-1.06zM36.97 30.97h1.06v1.06h-1.06zM8.97 31.97h1.06v1.06h-1.06zM35.97 31.97h1.06v1.06h-1.06zM8.97 32.97h1.06v1.06h-1.06zM34.97 32.97h1.06v1.06h-1.06zM8.97 33.97h1.06v1.06h-1.06zM8.97 34.97h1.06v1.06h-1.06zM32.97 34.97h1.06v1.06h-1.06zM8.97 35.97h1.06v1.06h-1.06zM31.97 35.97h1.06v1.06h-1.06zM30.97 36.97h1.06v1.06h-1.06zM29.97 37.97h1.06v1.06h-1.06zM9.97 39.97h1.06v1.06h-1.06zM9.97 40.97h1.06v1.06h-1.06zM25.97 40.97h1.06v1.06h-1.06zM24.97 41.97h1.06v1.06h-1.06zM10.97 42.97h1.06v1.06h-1.06zM22.97 42.97h1.06v1.06h-1.06zM11.97 43.97h1.06v1.06h-1.06zM12.97 44.97h1.06v1.06h-1.06zM18.97 44.97h1.06v1.06h-1.06z"/><path fill="#5a5a5a" d="M26.97 8.97h2.06v1.06h-2.06zM36.97 8.97h3.06v1.06h-3.06zM22.97 9.97h1.06v1.06h-1.06zM41.97 9.97h1.06v1.06h-1.06zM19.97 10.97h1.06v1.06h-1.06zM43.97 10.97h1.06v1.06h-1.06zM17.97 11.97h1.06v1.06h-1.06zM44.97 11.97h1.06v1.06h-1.06zM45.97 12.97h1.06v1.06h-1.06zM14.97 13.97h1.06v1.06h-1.06zM45.97 13.97h1.06v1.06h-1.06zM13.97 14.97h1.06v1.06h-1.06zM45.97 14.97h1.06v1.06h-1.06zM45.97 15.97h1.06v1.06h-1.06zM45.97 16.97h1.06v1.06h-1.06zM11.97 17.97h1.06v1.06h-1.06zM45.97 17.97h1.06v1.06h-1.06zM10.97 19.97h1.06v1.06h-1.06zM44.97 19.97h1.06v1.06h-1.06zM43.97 21.97h1.06v1.06h-1.06zM9.97 22.97h1.06v1.06h-1.06zM42.97 23.97h1.06v1.06h-1.06zM8.97 26.97h1.06v1.06h-1.06zM8.97 27.97h1.06v1.06h-1.06zM39.97 27.97h1.06v1.06h-1.06zM38.97 28.97h1.06v1.06h-1.06zM8.97 36.97h1.06v1.06h-1.06zM8.97 37.97h1.06v1.06h-1.06zM8.97 38.97h1.06v1.06h-1.06zM28.97 38.97h1.06v1.06h-1.06zM27.97 39.97h1.06v1.06h-1.06zM9.97 41.97h1.06v1.06h-1.06zM23.97 42.97h1.06v1.06h-1.06zM10.97 43.97h1.06v1.06h-1.06zM21.97 43.97h1.06v1.06h-1.06zM11.97 44.97h1.06v1.06h-1.06zM19.97 44.97h1.06v1.06h-1.06zM12.97 45.97h6.06v1.06h-6.06z"/><path fill="#5d5d5d" d="M30.97 7.97h5.06v1.06h-5.06zM24.97 8.97h2.06v1.06h-2.06zM39.97 8.97h2.06v1.06h-2.06zM20.97 9.97h2.06v1.06h-2.06zM42.97 9.97h1.06v1.06h-1.06zM18.97 10.97h1.06v1.06h-1.06zM44.97 10.97h1.06v1.06h-1.06zM16.97 11.97h1.06v1.06h-1.06zM45.97 11.97h1.06v1.06h-1.06zM15.97 12.97h1.06v1.06h-1.06zM46.97 13.97h1.06v1.06h-1.06zM46.97 14.97h1.06v1.06h-1.06zM12.97 15.97h1.06v1.06h-1.06zM46.97 15.97h1.06v1.06h-1.06zM11.97 16.97h1.06v1.06h-1.06zM10.97 18.97h1.06v1.06h-1.06zM45.97 18.97h1.06v1.06h-1.06zM9.97 20.97h1.06v1.06h-1.06zM44.97 20.97h1.06v1.06h-1.06zM9.97 21.97h1.06v1.06h-1.06zM43.97 22.97h1.06v1.06h-1.06zM8.97 24.97h1.06v1.06h-1.06zM8.97 25.97h1.06v1.06h-1.06zM41.97 25.97h1.06v1.06h-1.06zM40.97 26.97h1.06v1.06h-1.06zM7.97 30.97h1.06v1.06h-1.06zM7.97 31.97h1.06v1.06h-1.06zM36.97 31.97h1.06v1.06h-1.06zM7.97 32.97h1.06v1.06h-1.06zM35.97 32.97h1.06v1.06h-1.06zM7.97 33.97h1.06v1.06h-1.06zM34.97 33.97h1.06v1.06h-1.06zM7.97 34.97h1.06v1.06h-1.06zM33.97 34.97h1.06v1.06h-1.06zM32.97 35.97h1.06v1.06h-1.06zM31.97 36.97h1.06v1.06h-1.06zM8.97 39.97h1.06v1.06h-1.06zM8.97 40.97h1.06v1.06h-1.06zM26.97 40.97h1.06v1.06h-1.06zM25.97 41.97h1.06v1.06h-1.06zM9.97 42.97h1.06v1.06h-1.06zM22.97 43.97h1.06v1.06h-1.06zM10.97 44.97h1.06v1.06h-1.06zM20.97 44.97h1.06v1.06h-1.06zM11.97 45.97h1.06v1.06h-1.06zM18.97 45.97h1.06v1.06h-1.06zM13.97 46.97h3.06v1.06h-3.06z"/><path fill="#606060" d="M26.97 7.97h4.06v1.06h-4.06zM35.97 7.97h4.06v1.06h-4.06zM22.97 8.97h2.06v1.06h-2.06zM41.97 8.97h2.06v1.06h-2.06zM19.97 9.97h1.06v1.06h-1.06zM43.97 9.97h2.06v1.06h-2.06zM17.97 10.97h1.06v1.06h-1.06zM45.97 10.97h1.06v1.06h-1.06zM46.97 11.97h1.06v1.06h-1.06zM14.97 12.97h1.06v1.06h-1.06zM46.97 12.97h1.06v1.06h-1.06zM13.97 13.97h1.06v1.06h-1.06zM12.97 14.97h1.06v1.06h-1.06zM46.97 16.97h1.06v1.06h-1.06zM10.97 17.97h1.06v1.06h-1.06zM46.97 17.97h1.06v1.06h-1.06zM9.97 19.97h1.06v1.06h-1.06zM45.97 19.97h1.06v1.06h-1.06zM44.97 21.97h1.06v1.06h-1.06zM8.97 22.97h1.06v1.06h-1.06zM8.97 23.97h1.06v1.06h-1.06zM42.97 24.97h1.06v1.06h-1.06zM7.97 26.97h1.06v1.06h-1.06zM7.97 27.97h1.06v1.06h-1.06zM7.97 28.97h1.06v1.06h-1.06zM39.97 28.97h1.06v1.06h-1.06zM7.97 29.97h1.06v1.06h-1.06zM38.97 29.97h1.06v1.06h-1.06zM37.97 30.97h1.06v1.06h-1.06zM7.97 35.97h1.06v1.06h-1.06zM7.97 36.97h1.06v1.06h-1.06zM7.97 37.97h1.06v1.06h-1.06zM30.97 37.97h1.06v1.06h-1.06zM7.97 38.97h1.06v1.06h-1.06zM29.97 38.97h1.06v1.06h-1.06zM28.97 39.97h1.06v1.06h-1.06zM8.97 41.97h1.06v1.06h-1.06zM8.97 42.97h1.06v1.06h-1.06zM24.97 42.97h1.06v1.06h-1.06zM9.97 43.97h1.06v1.06h-1.06zM9.97 44.97h1.06v1.06h-1.06zM21.97 44.97h1.06v1.06h-1.06zM10.97 45.97h1.06v1.06h-1.06zM19.97 45.97h1.06v1.06h-1.06zM11.97 46.97h2.06v1.06h-2.06zM16.97 46.97h2.06v1.06h-2.06z"/><path fill="#636363" d="M24.97 7.97h2.06v1.06h-2.06zM39.97 7.97h2.06v1.06h-2.06zM20.97 8.97h2.06v1.06h-2.06zM43.97 8.97h1.06v1.06h-1.06zM18.97 9.97h1.06v1.06h-1.06zM45.97 9.97h1.06v1.06h-1.06zM16.97 10.97h1.06v1.06h-1.06zM46.97 10.97h1.06v1.06h-1.06zM15.97 11.97h1.06v1.06h-1.06zM47.97 12.97h1.06v1.06h-1.06zM47.97 13.97h1.06v1.06h-1.06zM47.97 14.97h1.06v1.06h-1.06zM11.97 15.97h1.06v1.06h-1.06zM47.97 15.97h1.06v1.06h-1.06zM10.97 16.97h1.06v1.06h-1.06zM9.97 18.97h1.06v1.06h-1.06zM46.97 18.97h1.06v1.06h-1.06zM8.97 20.97h1.06v1.06h-1.06zM45.97 20.97h1.06v1.06h-1.06zM8.97 21.97h1.06v1.06h-1.06zM43.97 23.97h1.06v1.06h-1.06zM7.97 24.97h1.06v1.06h-1.06zM7.97 25.97h1.06v1.06h-1.06zM41.97 26.97h1.06v1.06h-1.06zM40.97 27.97h1.06v1.06h-1.06zM34.97 34.97h1.06v1.06h-1.06zM7.97 39.97h1.06v1.06h-1.06zM7.97 40.97h1.06v1.06h-1.06zM27.97 40.97h1.06v1.06h-1.06zM26.97 41.97h1.06v1.06h-1.06zM8.97 43.97h1.06v1.06h-1.06zM23.97 43.97h1.06v1.06h-1.06zM9.97 45.97h1.06v1.06h-1.06zM20.97 45.97h1.06v1.06h-1.06zM10.97 46.97h1.06v1.06h-1.06zM18.97 46.97h1.06v1.06h-1.06zM12.97 47.97h4.06v1.06h-4.06z"/><path fill="#666666" d="M27.97 6.97h12.06v1.06h-12.06zM22.97 7.97h2.06v1.06h-2.06zM41.97 7.97h2.06v1.06h-2.06zM19.97 8.97h1.06v1.06h-1.06zM44.97 8.97h1.06v1.06h-1.06zM17.97 9.97h1.06v1.06h-1.06zM46.97 9.97h1.06v1.06h-1.06zM15.97 10.97h1.06v1.06h-1.06zM47.97 10.97h1.06v1.06h-1.06zM14.97 11.97h1.06v1.06h-1.06zM47.97 11.97h1.06v1.06h-1.06zM13.97 12.97h1.06v1.06h-1.06zM12.97 13.97h1.06v1.06h-1.06zM48.97 13.97h1.06v1.06h-1.06zM11.97 14.97h1.06v1.06h-1.06zM10.97 15.97h1.06v1.06h-1.06zM47.97 16.97h1.06v1.06h-1.06zM9.97 17.97h1.06v1.06h-1.06zM47.97 17.97h1.06v1.06h-1.06zM8.97 19.97h1.06v1.06h-1.06zM46.97 19.97h1.06v1.06h-1.06zM45.97 21.97h1.06v1.06h-1.06zM7.97 22.97h1.06v1.06h-1.06zM44.97 22.97h1.06v1.06h-1.06zM7.97 23.97h1.06v1.06h-1.06zM42.97 25.97h1.06v1.06h-1.06zM6.97 27.97h1.06v1.06h-1.06zM6.97 28.97h1.06v1.06h-1.06zM6.97 29.97h1.06v1.06h-1.06zM39.97 29.97h1.06v1.06h-1.06zM6.97 30.97h1.06v1.06h-1.06zM38.97 30.97h1.06v1.06h-1.06zM6.97 31.97h1.06v1.06h-1.06zM37.97 31.97h1.06v1.06h-1.06zM6.97 32.97h1.06v1.06h-1.06zM36.97 32.97h1.06v1.06h-1.06zM6.97 33.97h1.06v1.06h-1.06zM35.97 33.97h1.06v1.06h-1.06zM6.97 34.97h1.06v1.06h-1.06zM6.97 35.97h1.06v1.06h-1.06zM33.97 35.97h1.06v1.06h-1.06zM6.97 36.97h1.06v1.06h-1.06zM32.97 36.97h1.06v1.06h-1.06zM6.97 37.97h1.06v1.06h-1.06zM31.97 37.97h1.06v1.06h-1.06zM6.97 38.97h1.06v1.06h-1.06zM30.97 38.97h1.06v1.06h-1.06zM29.97 39.97h1.06v1.06h-1.06zM7.97 41.97h1.06v1.06h-1.06zM7.97 42.97h1.06v1.06h-1.06zM25.97 42.97h1.06v1.06h-1.06zM8.97 44.97h1.06v1.06h-1.06zM22.97 44.97h1.06v1.06h-1.06zM21.97 45.97h1.06v1.06h-1.06zM9.97 46.97h1.06v1.06h-1.06zM19.97 46.97h1.06v1.06h-1.06zM10.97 47.97h2.06v1.06h-2.06zM16.97 47.97h2.06v1.06h-2.06zM13.97 48.97h1.06v1.06h-1.06z"/><path fill="#696969" d="M24.97 6.97h3.06v1.06h-3.06zM39.97 6.97h3.06v1.06h-3.06zM21.97 7.97h1.06v1.06h-1.06zM43.97 7.97h2.06v1.06h-2.06zM18.97 8.97h1.06v1.06h-1.06zM45.97 8.97h2.06v1.06h-2.06zM16.97 9.97h1.06v1.06h-1.06zM47.97 9.97h1.06v1.06h-1.06zM14.97 10.97h1.06v1.06h-1.06zM48.97 10.97h1.06v1.06h-1.06zM13.97 11.97h1.06v1.06h-1.06zM48.97 11.97h1.06v1.06h-1.06zM12.97 12.97h1.06v1.06h-1.06zM48.97 12.97h1.06v1.06h-1.06zM11.97 13.97h1.06v1.06h-1.06zM10.97 14.97h1.06v1.06h-1.06zM48.97 14.97h1.06v1.06h-1.06zM48.97 15.97h1.06v1.06h-1.06zM9.97 16.97h1.06v1.06h-1.06zM48.97 16.97h1.06v1.06h-1.06zM8.97 18.97h1.06v1.06h-1.06zM47.97 18.97h1.06v1.06h-1.06zM46.97 20.97h1.06v1.06h-1.06zM7.97 21.97h1.06v1.06h-1.06zM44.97 23.97h1.06v1.06h-1.06zM6.97 24.97h1.06v1.06h-1.06zM43.97 24.97h1.06v1.06h-1.06zM6.97 25.97h1.06v1.06h-1.06zM6.97 26.97h1.06v1.06h-1.06zM41.97 27.97h1.06v1.06h-1.06zM40.97 28.97h1.06v1.06h-1.06zM6.97 39.97h1.06v1.06h-1.06zM6.97 40.97h1.06v1.06h-1.06zM28.97 40.97h1.06v1.06h-1.06zM6.97 41.97h1.06v1.06h-1.06zM27.97 41.97h1.06v1.06h-1.06zM7.97 43.97h1.06v1.06h-1.06zM24.97 43.97h1.06v1.06h-1.06zM7.97 44.97h1.06v1.06h-1.06zM23.97 44.97h1.06v1.06h-1.06zM8.97 45.97h1.06v1.06h-1.06zM8.97 46.97h1.06v1.06h-1.06zM20.97 46.97h1.06v1.06h-1.06zM9.97 47.97h1.06v1.06h-1.06zM18.97 47.97h1.06v1.06h-1.06zM10.97 48.97h3.06v1.06h-3.06zM14.97 48.97h3.06v1.06h-3.06z"/><path fill="#6c6c6c" d="M27.97 5.97h13.06v1.06h-13.06zM22.97 6.97h2.06v1.06h-2.06zM42.97 6.97h2.06v1.06h-2.06zM19.97 7.97h2.06v1.06h-2.06zM45.97 7.97h1.06v1.06h-1.06zM17.97 8.97h1.06v1.06h-1.06zM47.97 8.97h1.06v1.06h-1.06zM15.97 9.97h1.06v1.06h-1.06zM48.97 9.97h1.06v1.06h-1.06zM12.97 11.97h1.06v1.06h-1.06zM49.97 11.97h1.06v1.06h-1.06zM11.97 12.97h1.06v1.06h-1.06zM49.97 12.97h1.06v1.06h-1.06zM49.97 13.97h1.06v1.06h-1.06zM49.97 14.97h1.06v1.06h-1.06zM9.97 15.97h1.06v1.06h-1.06zM8.97 17.97h1.06v1.06h-1.06zM48.97 17.97h1.06v1.06h-1.06zM7.97 19.97h1.06v1.06h-1.06zM47.97 19.97h1.06v1.06h-1.06zM7.97 20.97h1.06v1.06h-1.06zM6.97 22.97h1.06v1.06h-1.06zM45.97 22.97h1.06v1.06h-1.06zM6.97 23.97h1.06v1.06h-1.06zM43.97 25.97h1.06v1.06h-1.06zM42.97 26.97h1.06v1.06h-1.06zM5.97 27.97h1.06v1.06h-1.06zM5.97 28.97h1.06v1.06h-1.06zM5.97 29.97h1.06v1.06h-1.06zM5.97 30.97h1.06v1.06h-1.06zM5.97 31.97h1.06v1.06h-1.06zM38.97 31.97h1.06v1.06h-1.06zM5.97 32.97h1.06v1.06h-1.06zM37.97 32.97h1.06v1.06h-1.06zM5.97 33.97h1.06v1.06h-1.06zM36.97 33.97h1.06v1.06h-1.06zM5.97 34.97h1.06v1.06h-1.06zM35.97 34.97h1.06v1.06h-1.06zM5.97 35.97h1.06v1.06h-1.06zM34.97 35.97h1.06v1.06h-1.06zM5.97 36.97h1.06v1.06h-1.06zM33.97 36.97h1.06v1.06h-1.06zM5.97 37.97h1.06v1.06h-1.06zM32.97 37.97h1.06v1.06h-1.06zM5.97 38.97h1.06v1.06h-1.06zM31.97 38.97h1.06v1.06h-1.06zM5.97 39.97h1.06v1.06h-1.06zM6.97 42.97h1.06v1.06h-1.06zM26.97 42.97h1.06v1.06h-1.06zM6.97 43.97h1.06v1.06h-1.06zM25.97 43.97h1.06v1.06h-1.06zM7.97 45.97h1.06v1.06h-1.06zM22.97 45.97h1.06v1.06h-1.06zM8.97 47.97h1.06v1.06h-1.06zM19.97 47.97h1.06v1.06h-1.06zM9.97 48.97h1.06v1.06h-1.06zM17.97 48.97h1.06v1.06h-1.06zM11.97 49.97h4.06v1.06h-4.06z"/><path fill="#6f6f6f" d="M33.97 4.97h3.06v1.06h-3.06zM24.97 5.97h3.06v1.06h-3.06zM40.97 5.97h3.06v1.06h-3.06zM20.97 6.97h2.06v1.06h-2.06zM44.97 6.97h2.06v1.06h-2.06zM18.97 7.97h1.06v1.06h-1.06zM46.97 7.97h2.06v1.06h-2.06zM16.97 8.97h1.06v1.06h-1.06zM48.97 8.97h1.06v1.06h-1.06zM14.97 9.97h1.06v1.06h-1.06zM49.97 9.97h1.06v1.06h-1.06zM13.97 10.97h1.06v1.06h-1.06zM49.97 10.97h1.06v1.06h-1.06zM50.97 12.97h1.06v1.06h-1.06zM10.97 13.97h1.06v1.06h-1.06zM9.97 14.97h1.06v1.06h-1.06zM49.97 15.97h1.06v1.06h-1.06zM8.97 16.97h1.06v1.06h-1.06zM49.97 16.97h1.06v1.06h-1.06zM7.97 18.97h1.06v1.06h-1.06zM48.97 18.97h1.06v1.06h-1.06zM6.97 20.97h1.06v1.06h-1.06zM6.97 21.97h1.06v1.06h-1.06zM46.97 21.97h1.06v1.06h-1.06zM5.97 24.97h1.06v1.06h-1.06zM44.97 24.97h1.06v1.06h-1.06zM5.97 25.97h1.06v1.06h-1.06zM5.97 26.97h1.06v1.06h-1.06zM41.97 28.97h1.06v1.06h-1.06zM40.97 29.97h1.06v1.06h-1.06zM39.97 30.97h1.06v1.06h-1.06zM30.97 39.97h1.06v1.06h-1.06zM5.97 40.97h1.06v1.06h-1.06zM29.97 40.97h1.06v1.06h-1.06zM5.97 41.97h1.06v1.06h-1.06zM28.97 41.97h1.06v1.06h-1.06zM5.97 42.97h1.06v1.06h-1.06zM6.97 44.97h1.06v1.06h-1.06zM24.97 44.97h1.06v1.06h-1.06zM6.97 45.97h1.06v1.06h-1.06zM7.97 46.97h1.06v1.06h-1.06zM21.97 46.97h1.06v1.06h-1.06zM7.97 47.97h1.06v1.06h-1.06zM8.97 48.97h1.06v1.06h-1.06zM18.97 48.97h1.06v1.06h-1.06zM9.97 49.97h2.06v1.06h-2.06zM15.97 49.97h2.06v1.06h-2.06zM12.97 50.97h1.06v1.06h-1.06z"/><path fill="#727272" d="M27.97 4.97h6.06v1.06h-6.06zM36.97 4.97h6.06v1.06h-6.06zM22.97 5.97h2.06v1.06h-2.06zM43.97 5.97h3.06v1.06h-3.06zM19.97 6.97h1.06v1.06h-1.06zM46.97 6.97h2.06v1.06h-2.06zM16.97 7.97h2.06v1.06h-2.06zM48.97 7.97h1.06v1.06h-1.06zM15.97 8.97h1.06v1.06h-1.06zM49.97 8.97h1.06v1.06h-1.06zM13.97 9.97h1.06v1.06h-1.06zM50.97 9.97h1.06v1.06h-1.06zM12.97 10.97h1.06v1.06h-1.06zM50.97 10.97h1.06v1.06h-1.06zM11.97 11.97h1.06v1.06h-1.06zM50.97 11.97h1.06v1.06h-1.06zM10.97 12.97h1.06v1.06h-1.06zM9.97 13.97h1.06v1.06h-1.06zM50.97 13.97h1.06v1.06h-1.06zM50.97 14.97h1.06v1.06h-1.06zM8.97 15.97h1.06v1.06h-1.06zM50.97 15.97h1.06v1.06h-1.06zM7.97 16.97h1.06v1.06h-1.06zM7.97 17.97h1.06v1.06h-1.06zM49.97 17.97h1.06v1.06h-1.06zM6.97 19.97h1.06v1.06h-1.06zM48.97 19.97h1.06v1.06h-1.06zM47.97 20.97h1.06v1.06h-1.06zM5.97 22.97h1.06v1.06h-1.06zM46.97 22.97h1.06v1.06h-1.06zM5.97 23.97h1.06v1.06h-1.06zM45.97 23.97h1.06v1.06h-1.06zM43.97 26.97h1.06v1.06h-1.06zM42.97 27.97h1.06v1.06h-1.06zM4.97 28.97h1.06v1.06h-1.06zM4.97 29.97h1.06v1.06h-1.06zM4.97 30.97h1.06v1.06h-1.06zM4.97 31.97h1.06v1.06h-1.06zM4.97 32.97h1.06v1.06h-1.06zM4.97 33.97h1.06v1.06h-1.06zM37.97 33.97h1.06v1.06h-1.06zM4.97 34.97h1.06v1.06h-1.06zM36.97 34.97h1.06v1.06h-1.06zM4.97 35.97h1.06v1.06h-1.06zM35.97 35.97h1.06v1.06h-1.06zM4.97 36.97h1.06v1.06h-1.06zM34.97 36.97h1.06v1.06h-1.06zM4.97 37.97h1.06v1.06h-1.06zM33.97 37.97h1.06v1.06h-1.06zM4.97 38.97h1.06v1.06h-1.06zM4.97 39.97h1.06v1.06h-1.06zM27.97 42.97h1.06v1.06h-1.06zM5.97 43.97h1.06v1.06h-1.06zM26.97 43.97h1.06v1.06h-1.06zM5.97 44.97h1.06v1.06h-1.06zM23.97 45.97h1.06v1.06h-1.06zM6.97 46.97h1.06v1.06h-1.06zM22.97 46.97h1.06v1.06h-1.06zM6.97 47.97h1.06v1.06h-1.06zM20.97 47.97h1.06v1.06h-1.06zM7.97 48.97h1.06v1.06h-1.06zM19.97 48.97h1.06v1.06h-1.06zM8.97 49.97h1.06v1.06h-1.06zM17.97 49.97h1.06v1.06h-1.06zM9.97 50.97h3.06v1.06h-3.06zM13.97 50.97h3.06v1.06h-3.06z"/><path fill="#757575" d="M32.97 3.97h6.06v1.06h-6.06zM24.97 4.97h3.06v1.06h-3.06zM42.97 4.97h3.06v1.06h-3.06zM20.97 5.97h2.06v1.06h-2.06zM46.97 5.97h2.06v1.06h-2.06zM17.97 6.97h2.06v1.06h-2.06zM48.97 6.97h1.06v1.06h-1.06zM15.97 7.97h1.06v1.06h-1.06zM49.97 7.97h1.06v1.06h-1.06zM14.97 8.97h1.06v1.06h-1.06zM50.97 8.97h1.06v1.06h-1.06zM12.97 9.97h1.06v1.06h-1.06zM51.97 9.97h1.06v1.06h-1.06zM11.97 10.97h1.06v1.06h-1.06zM51.97 10.97h1.06v1.06h-1.06zM10.97 11.97h1.06v1.06h-1.06zM51.97 11.97h1.06v1.06h-1.06zM9.97 12.97h1.06v1.06h-1.06zM51.97 12.97h1.06v1.06h-1.06zM51.97 13.97h1.06v1.06h-1.06zM8.97 14.97h1.06v1.06h-1.06zM7.97 15.97h1.06v1.06h-1.06zM50.97 16.97h1.06v1.06h-1.06zM6.97 17.97h1.06v1.06h-1.06zM6.97 18.97h1.06v1.06h-1.06zM49.97 18.97h1.06v1.06h-1.06zM5.97 20.97h1.06v1.06h-1.06zM5.97 21.97h1.06v1.06h-1.06zM47.97 21.97h1.06v1.06h-1.06zM45.97 24.97h1.06v1.06h-1.06zM4.97 25.97h1.06v1.06h-1.06zM44.97 25.97h1.06v1.06h-1.06zM4.97 26.97h1.06v1.06h-1.06zM4.97 27.97h1.06v1.06h-1.06zM41.97 29.97h1.06v1.06h-1.06zM40.97 30.97h1.06v1.06h-1.06zM39.97 31.97h1.06v1.06h-1.06zM38.97 32.97h1.06v1.06h-1.06zM32.97 38.97h1.06v1.06h-1.06zM31.97 39.97h1.06v1.06h-1.06zM4.97 40.97h1.06v1.06h-1.06zM30.97 40.97h1.06v1.06h-1.06zM4.97 41.97h1.06v1.06h-1.06zM29.97 41.97h1.06v1.06h-1.06zM4.97 42.97h1.06v1.06h-1.06zM4.97 43.97h1.06v1.06h-1.06zM25.97 44.97h1.06v1.06h-1.06zM5.97 45.97h1.06v1.06h-1.06zM24.97 45.97h1.06v1.06h-1.06zM5.97 46.97h1.06v1.06h-1.06zM21.97 47.97h1.06v1.06h-1.06zM6.97 48.97h1.06v1.06h-1.06zM7.97 49.97h1.06v1.06h-1.06zM18.97 49.97h1.06v1.06h-1.06zM8.97 50.97h1.06v1.06h-1.06zM16.97 50.97h1.06v1.06h-1.06zM9.97 51.97h5.06v1.06h-5.06z"/><path fill="#787878" d="M27.97 3.97h5.06v1.06h-5.06zM38.97 3.97h5.06v1.06h-5.06zM22.97 4.97h2.06v1.06h-2.06zM45.97 4.97h2.06v1.06h-2.06zM18.97 5.97h2.06v1.06h-2.06zM48.97 5.97h1.06v1.06h-1.06zM16.97 6.97h1.06v1.06h-1.06zM49.97 6.97h2.06v1.06h-2.06zM14.97 7.97h1.06v1.06h-1.06zM50.97 7.97h1.06v1.06h-1.06zM13.97 8.97h1.06v1.06h-1.06zM51.97 8.97h1.06v1.06h-1.06zM11.97 9.97h1.06v1.06h-1.06zM10.97 10.97h1.06v1.06h-1.06zM52.97 10.97h1.06v1.06h-1.06zM9.97 11.97h1.06v1.06h-1.06zM52.97 11.97h1.06v1.06h-1.06zM52.97 12.97h1.06v1.06h-1.06zM8.97 13.97h1.06v1.06h-1.06zM7.97 14.97h1.06v1.06h-1.06zM51.97 14.97h1.06v1.06h-1.06zM51.97 15.97h1.06v1.06h-1.06zM6.97 16.97h1.06v1.06h-1.06zM50.97 17.97h1.06v1.06h-1.06zM5.97 18.97h1.06v1.06h-1.06zM5.97 19.97h1.06v1.06h-1.06zM49.97 19.97h1.06v1.06h-1.06zM48.97 20.97h1.06v1.06h-1.06zM4.97 22.97h1.06v1.06h-1.06zM47.97 22.97h1.06v1.06h-1.06zM4.97 23.97h1.06v1.06h-1.06zM46.97 23.97h1.06v1.06h-1.06zM4.97 24.97h1.06v1.06h-1.06zM43.97 27.97h1.06v1.06h-1.06zM42.97 28.97h1.06v1.06h-1.06zM3.97 32.97h1.06v1.06h-1.06zM3.97 33.97h1.06v1.06h-1.06zM3.97 34.97h1.06v1.06h-1.06zM37.97 34.97h1.06v1.06h-1.06zM3.97 35.97h1.06v1.06h-1.06zM36.97 35.97h1.06v1.06h-1.06zM3.97 36.97h1.06v1.06h-1.06zM35.97 36.97h1.06v1.06h-1.06zM3.97 37.97h1.06v1.06h-1.06zM34.97 37.97h1.06v1.06h-1.06zM28.97 42.97h1.06v1.06h-1.06zM27.97 43.97h1.06v1.06h-1.06zM4.97 44.97h1.06v1.06h-1.06zM4.97 45.97h1.06v1.06h-1.06zM23.97 46.97h1.06v1.06h-1.06zM5.97 47.97h1.06v1.06h-1.06zM22.97 47.97h1.06v1.06h-1.06zM5.97 48.97h1.06v1.06h-1.06zM20.97 48.97h1.06v1.06h-1.06zM6.97 49.97h1.06v1.06h-1.06zM19.97 49.97h1.06v1.06h-1.06zM6.97 50.97h2.06v1.06h-2.06zM17.97 50.97h1.06v1.06h-1.06zM8.97 51.97h1.06v1.06h-1.06zM14.97 51.97h2.06v1.06h-2.06zM10.97 52.97h3.06v1.06h-3.06z"/><path fill="#7b7b7b" d="M32.97 2.97h7.06v1.06h-7.06zM23.97 3.97h4.06v1.06h-4.06zM43.97 3.97h3.06v1.06h-3.06zM20.97 4.97h2.06v1.06h-2.06zM47.97 4.97h2.06v1.06h-2.06zM17.97 5.97h1.06v1.06h-1.06zM49.97 5.97h2.06v1.06h-2.06zM15.97 6.97h1.06v1.06h-1.06zM51.97 6.97h1.06v1.06h-1.06zM13.97 7.97h1.06v1.06h-1.06zM51.97 7.97h2.06v1.06h-2.06zM12.97 8.97h1.06v1.06h-1.06zM52.97 8.97h1.06v1.06h-1.06zM10.97 9.97h1.06v1.06h-1.06zM52.97 9.97h1.06v1.06h-1.06zM9.97 10.97h1.06v1.06h-1.06zM8.97 12.97h1.06v1.06h-1.06zM7.97 13.97h1.06v1.06h-1.06zM52.97 13.97h1.06v1.06h-1.06zM52.97 14.97h1.06v1.06h-1.06zM6.97 15.97h1.06v1.06h-1.06zM51.97 16.97h1.06v1.06h-1.06zM5.97 17.97h1.06v1.06h-1.06zM50.97 18.97h1.06v1.06h-1.06zM4.97 20.97h1.06v1.06h-1.06zM4.97 21.97h1.06v1.06h-1.06zM48.97 21.97h1.06v1.06h-1.06zM46.97 24.97h1.06v1.06h-1.06zM45.97 25.97h1.06v1.06h-1.06zM3.97 26.97h1.06v1.06h-1.06zM44.97 26.97h1.06v1.06h-1.06zM3.97 27.97h1.06v1.06h-1.06zM3.97 28.97h1.06v1.06h-1.06zM3.97 29.97h1.06v1.06h-1.06zM3.97 30.97h1.06v1.06h-1.06zM41.97 30.97h1.06v1.06h-1.06zM3.97 31.97h1.06v1.06h-1.06zM40.97 31.97h1.06v1.06h-1.06zM39.97 32.97h1.06v1.06h-1.06zM38.97 33.97h1.06v1.06h-1.06zM3.97 38.97h1.06v1.06h-1.06zM33.97 38.97h1.06v1.06h-1.06zM3.97 39.97h1.06v1.06h-1.06zM32.97 39.97h1.06v1.06h-1.06zM3.97 40.97h1.06v1.06h-1.06zM31.97 40.97h1.06v1.06h-1.06zM3.97 41.97h1.06v1.06h-1.06zM30.97 41.97h1.06v1.06h-1.06zM3.97 42.97h1.06v1.06h-1.06zM26.97 44.97h1.06v1.06h-1.06zM25.97 45.97h1.06v1.06h-1.06zM4.97 46.97h1.06v1.06h-1.06zM24.97 46.97h1.06v1.06h-1.06zM4.97 47.97h1.06v1.06h-1.06zM4.97 48.97h1.06v1.06h-1.06zM21.97 48.97h1.06v1.06h-1.06zM5.97 49.97h1.06v1.06h-1.06zM5.97 50.97h1.06v1.06h-1.06zM18.97 50.97h1.06v1.06h-1.06zM6.97 51.97h2.06v1.06h-2.06zM16.97 51.97h1.06v1.06h-1.06zM7.97 52.97h3.06v1.06h-3.06zM13.97 52.97h2.06v1.06h-2.06z"/><path fill="#7e7e7e" d="M27.97 2.97h5.06v1.06h-5.06zM39.97 2.97h6.06v1.06h-6.06zM21.97 3.97h2.06v1.06h-2.06zM46.97 3.97h3.06v1.06h-3.06zM18.97 4.97h2.06v1.06h-2.06zM49.97 4.97h2.06v1.06h-2.06zM15.97 5.97h2.06v1.06h-2.06zM51.97 5.97h1.06v1.06h-1.06zM14.97 6.97h1.06v1.06h-1.06zM52.97 6.97h1.06v1.06h-1.06zM12.97 7.97h1.06v1.06h-1.06zM53.97 7.97h1.06v1.06h-1.06zM11.97 8.97h1.06v1.06h-1.06zM53.97 8.97h1.06v1.06h-1.06zM53.97 9.97h1.06v1.06h-1.06zM53.97 10.97h1.06v1.06h-1.06zM8.97 11.97h1.06v1.06h-1.06zM53.97 11.97h1.06v1.06h-1.06zM7.97 12.97h1.06v1.06h-1.06zM53.97 12.97h1.06v1.06h-1.06zM53.97 13.97h1.06v1.06h-1.06zM6.97 14.97h1.06v1.06h-1.06zM5.97 15.97h1.06v1.06h-1.06zM52.97 15.97h1.06v1.06h-1.06zM5.97 16.97h1.06v1.06h-1.06zM51.97 17.97h1.06v1.06h-1.06zM4.97 18.97h1.06v1.06h-1.06zM4.97 19.97h1.06v1.06h-1.06zM50.97 19.97h1.06v1.06h-1.06zM49.97 20.97h1.06v1.06h-1.06zM3.97 23.97h1.06v1.06h-1.06zM47.97 23.97h1.06v1.06h-1.06zM3.97 24.97h1.06v1.06h-1.06zM3.97 25.97h1.06v1.06h-1.06zM44.97 27.97h1.06v1.06h-1.06zM43.97 28.97h1.06v1.06h-1.06zM42.97 29.97h1.06v1.06h-1.06zM37.97 35.97h1.06v1.06h-1.06zM36.97 36.97h1.06v1.06h-1.06zM35.97 37.97h1.06v1.06h-1.06zM29.97 42.97h1.06v1.06h-1.06zM3.97 43.97h1.06v1.06h-1.06zM28.97 43.97h1.06v1.06h-1.06zM3.97 44.97h1.06v1.06h-1.06zM27.97 44.97h1.06v1.06h-1.06zM3.97 45.97h1.06v1.06h-1.06zM23.97 47.97h1.06v1.06h-1.06zM4.97 49.97h1.06v1.06h-1.06zM20.97 49.97h1.06v1.06h-1.06zM19.97 50.97h1.06v1.06h-1.06zM5.97 51.97h1.06v1.06h-1.06zM17.97 51.97h1.06v1.06h-1.06zM6.97 52.97h1.06v1.06h-1.06zM15.97 52.97h1.06v1.06h-1.06zM7.97 53.97h7.06v1.06h-7.06z"/><path fill="#818181" d="M34.97 1.97h5.06v1.06h-5.06zM23.97 2.97h4.06v1.06h-4.06zM45.97 2.97h3.06v1.06h-3.06zM19.97 3.97h2.06v1.06h-2.06zM49.97 3.97h2.06v1.06h-2.06zM16.97 4.97h2.06v1.06h-2.06zM51.97 4.97h2.06v1.06h-2.06zM14.97 5.97h1.06v1.06h-1.06zM52.97 5.97h2.06v1.06h-2.06zM12.97 6.97h2.06v1.06h-2.06zM53.97 6.97h1.06v1.06h-1.06zM11.97 7.97h1.06v1.06h-1.06zM54.97 7.97h1.06v1.06h-1.06zM10.97 8.97h1.06v1.06h-1.06zM54.97 8.97h1.06v1.06h-1.06zM9.97 9.97h1.06v1.06h-1.06zM54.97 9.97h1.06v1.06h-1.06zM8.97 10.97h1.06v1.06h-1.06zM54.97 10.97h1.06v1.06h-1.06zM7.97 11.97h1.06v1.06h-1.06zM54.97 11.97h1.06v1.06h-1.06zM6.97 12.97h1.06v1.06h-1.06zM54.97 12.97h1.06v1.06h-1.06zM6.97 13.97h1.06v1.06h-1.06zM5.97 14.97h1.06v1.06h-1.06zM53.97 14.97h1.06v1.06h-1.06zM4.97 16.97h1.06v1.06h-1.06zM52.97 16.97h1.06v1.06h-1.06zM4.97 17.97h1.06v1.06h-1.06zM51.97 18.97h1.06v1.06h-1.06zM3.97 21.97h1.06v1.06h-1.06zM49.97 21.97h1.06v1.06h-1.06zM3.97 22.97h1.06v1.06h-1.06zM48.97 22.97h1.06v1.06h-1.06zM46.97 25.97h1.06v1.06h-1.06zM45.97 26.97h1.06v1.06h-1.06zM42.97 30.97h1.06v1.06h-1.06zM41.97 31.97h1.06v1.06h-1.06zM40.97 32.97h1.06v1.06h-1.06zM39.97 33.97h1.06v1.06h-1.06zM38.97 34.97h1.06v1.06h-1.06zM34.97 38.97h1.06v1.06h-1.06zM33.97 39.97h1.06v1.06h-1.06zM32.97 40.97h1.06v1.06h-1.06zM31.97 41.97h1.06v1.06h-1.06zM30.97 42.97h1.06v1.06h-1.06zM26.97 45.97h1.06v1.06h-1.06zM3.97 46.97h1.06v1.06h-1.06zM25.97 46.97h1.06v1.06h-1.06zM3.97 47.97h1.06v1.06h-1.06zM3.97 48.97h1.06v1.06h-1.06zM22.97 48.97h1.06v1.06h-1.06zM21.97 49.97h1.06v1.06h-1.06zM4.97 50.97h1.06v1.06h-1.06zM4.97 51.97h1.06v1.06h-1.06zM18.97 51.97h1.06v1.06h-1.06zM5.97 52.97h1.06v1.06h-1.06zM16.97 52.97h1.06v1.06h-1.06zM5.97 53.97h2.06v1.06h-2.06zM14.97 53.97h1.06v1.06h-1.06zM7.97 54.97h6.06v1.06h-6.06z"/><path fill="#848484" d="M28.97 1.97h6.06v1.06h-6.06zM39.97 1.97h6.06v1.06h-6.06zM21.97 2.97h2.06v1.06h-2.06zM48.97 2.97h2.06v1.06h-2.06zM17.97 3.97h2.06v1.06h-2.06zM51.97 3.97h2.06v1.06h-2.06zM15.97 4.97h1.06v1.06h-1.06zM53.97 4.97h1.06v1.06h-1.06zM13.97 5.97h1.06v1.06h-1.06zM54.97 5.97h1.06v1.06h-1.06zM11.97 6.97h1.06v1.06h-1.06zM54.97 6.97h1.06v1.06h-1.06zM10.97 7.97h1.06v1.06h-1.06zM55.97 7.97h1.06v1.06h-1.06zM9.97 8.97h1.06v1.06h-1.06zM55.97 8.97h1.06v1.06h-1.06zM8.97 9.97h1.06v1.06h-1.06zM55.97 9.97h1.06v1.06h-1.06zM7.97 10.97h1.06v1.06h-1.06zM55.97 10.97h1.06v1.06h-1.06zM6.97 11.97h1.06v1.06h-1.06zM55.97 11.97h1.06v1.06h-1.06zM5.97 13.97h1.06v1.06h-1.06zM54.97 13.97h1.06v1.06h-1.06zM4.97 15.97h1.06v1.06h-1.06zM53.97 15.97h1.06v1.06h-1.06zM52.97 17.97h1.06v1.06h-1.06zM3.97 19.97h1.06v1.06h-1.06zM51.97 19.97h1.06v1.06h-1.06zM3.97 20.97h1.06v1.06h-1.06zM50.97 20.97h1.06v1.06h-1.06zM48.97 23.97h1.06v1.06h-1.06zM47.97 24.97h1.06v1.06h-1.06zM45.97 27.97h1.06v1.06h-1.06zM2.97 28.97h1.06v1.06h-1.06zM44.97 28.97h1.06v1.06h-1.06zM2.97 29.97h1.06v1.06h-1.06zM43.97 29.97h1.06v1.06h-1.06zM2.97 30.97h1.06v1.06h-1.06zM2.97 31.97h1.06v1.06h-1.06zM2.97 32.97h1.06v1.06h-1.06zM2.97 33.97h1.06v1.06h-1.06zM2.97 34.97h1.06v1.06h-1.06zM2.97 35.97h1.06v1.06h-1.06zM38.97 35.97h1.06v1.06h-1.06zM2.97 36.97h1.06v1.06h-1.06zM37.97 36.97h1.06v1.06h-1.06zM2.97 37.97h1.06v1.06h-1.06zM36.97 37.97h1.06v1.06h-1.06zM2.97 38.97h1.06v1.06h-1.06zM35.97 38.97h1.06v1.06h-1.06zM2.97 39.97h1.06v1.06h-1.06zM2.97 40.97h1.06v1.06h-1.06zM2.97 41.97h1.06v1.06h-1.06zM29.97 43.97h1.06v1.06h-1.06zM28.97 44.97h1.06v1.06h-1.06zM27.97 45.97h1.06v1.06h-1.06zM24.97 47.97h1.06v1.06h-1.06zM23.97 48.97h1.06v1.06h-1.06zM3.97 49.97h1.06v1.06h-1.06zM3.97 50.97h1.06v1.06h-1.06zM20.97 50.97h1.06v1.06h-1.06zM19.97 51.97h1.06v1.06h-1.06zM4.97 52.97h1.06v1.06h-1.06zM17.97 52.97h1.06v1.06h-1.06zM4.97 53.97h1.06v1.06h-1.06zM15.97 53.97h1.06v1.06h-1.06zM5.97 54.97h2.06v1.06h-2.06zM13.97 54.97h1.06v1.06h-1.06zM7.97 55.97h5.06v1.06h-5.06z"/><path fill="#878787" d="M35.97 0.97h4.06v1.06h-4.06zM24.97 1.97h4.06v1.06h-4.06zM45.97 1.97h4.06v1.06h-4.06zM19.97 2.97h2.06v1.06h-2.06zM50.97 2.97h2.06v1.06h-2.06zM15.97 3.97h2.06v1.06h-2.06zM53.97 3.97h2.06v1.06h-2.06zM13.97 4.97h2.06v1.06h-2.06zM54.97 4.97h2.06v1.06h-2.06zM11.97 5.97h2.06v1.06h-2.06zM55.97 5.97h1.06v1.06h-1.06zM10.97 6.97h1.06v1.06h-1.06zM55.97 6.97h2.06v1.06h-2.06zM9.97 7.97h1.06v1.06h-1.06zM56.97 7.97h1.06v1.06h-1.06zM8.97 8.97h1.06v1.06h-1.06zM56.97 8.97h1.06v1.06h-1.06zM7.97 9.97h1.06v1.06h-1.06zM56.97 9.97h1.06v1.06h-1.06zM6.97 10.97h1.06v1.06h-1.06zM56.97 10.97h1.06v1.06h-1.06zM5.97 12.97h1.06v1.06h-1.06zM55.97 12.97h1.06v1.06h-1.06zM4.97 13.97h1.06v1.06h-1.06zM55.97 13.97h1.06v1.06h-1.06zM4.97 14.97h1.06v1.06h-1.06zM54.97 14.97h1.06v1.06h-1.06zM54.97 15.97h1.06v1.06h-1.06zM53.97 16.97h1.06v1.06h-1.06zM3.97 17.97h1.06v1.06h-1.06zM3.97 18.97h1.06v1.06h-1.06zM52.97 18.97h1.06v1.06h-1.06zM50.97 21.97h1.06v1.06h-1.06zM49.97 22.97h1.06v1.06h-1.06zM2.97 24.97h1.06v1.06h-1.06zM2.97 25.97h1.06v1.06h-1.06zM47.97 25.97h1.06v1.06h-1.06zM2.97 26.97h1.06v1.06h-1.06zM46.97 26.97h1.06v1.06h-1.06zM2.97 27.97h1.06v1.06h-1.06zM43.97 30.97h1.06v1.06h-1.06zM42.97 31.97h1.06v1.06h-1.06zM41.97 32.97h1.06v1.06h-1.06zM40.97 33.97h1.06v1.06h-1.06zM39.97 34.97h1.06v1.06h-1.06zM34.97 39.97h1.06v1.06h-1.06zM33.97 40.97h1.06v1.06h-1.06zM32.97 41.97h1.06v1.06h-1.06zM2.97 42.97h1.06v1.06h-1.06zM31.97 42.97h1.06v1.06h-1.06zM2.97 43.97h1.06v1.06h-1.06zM30.97 43.97h1.06v1.06h-1.06zM2.97 44.97h1.06v1.06h-1.06zM2.97 45.97h1.06v1.06h-1.06zM26.97 46.97h1.06v1.06h-1.06zM25.97 47.97h1.06v1.06h-1.06zM22.97 49.97h1.06v1.06h-1.06zM21.97 50.97h1.06v1.06h-1.06zM3.97 51.97h1.06v1.06h-1.06zM3.97 52.97h1.06v1.06h-1.06zM18.97 52.97h1.06v1.06h-1.06zM16.97 53.97h1.06v1.06h-1.06zM4.97 54.97h1.06v1.06h-1.06zM14.97 54.97h2.06v1.06h-2.06zM5.97 55.97h2.06v1.06h-2.06zM12.97 55.97h2.06v1.06h-2.06zM6.97 56.97h5.06v1.06h-5.06z"/><path fill="#8a8a8a" d="M28.97 0.97h7.06v1.06h-7.06zM39.97 0.97h7.06v1.06h-7.06zM21.97 1.97h3.06v1.06h-3.06zM49.97 1.97h2.06v1.06h-2.06zM17.97 2.97h2.06v1.06h-2.06zM52.97 2.97h2.06v1.06h-2.06zM14.97 3.97h1.06v1.06h-1.06zM55.97 3.97h1.06v1.06h-1.06zM12.97 4.97h1.06v1.06h-1.06zM56.97 4.97h1.06v1.06h-1.06zM10.97 5.97h1.06v1.06h-1.06zM56.97 5.97h1.06v1.06h-1.06zM9.97 6.97h1.06v1.06h-1.06zM57.97 6.97h1.06v1.06h-1.06zM8.97 7.97h1.06v1.06h-1.06zM57.97 7.97h1.06v1.06h-1.06zM7.97 8.97h1.06v1.06h-1.06zM57.97 8.97h1.06v1.06h-1.06zM6.97 9.97h1.06v1.06h-1.06zM57.97 9.97h1.06v1.06h-1.06zM5.97 10.97h1.06v1.06h-1.06zM5.97 11.97h1.06v1.06h-1.06zM56.97 11.97h1.06v1.06h-1.06zM4.97 12.97h1.06v1.06h-1.06zM56.97 12.97h1.06v1.06h-1.06zM55.97 14.97h1.06v1.06h-1.06zM3.97 15.97h1.06v1.06h-1.06zM3.97 16.97h1.06v1.06h-1.06zM54.97 16.97h1.06v1.06h-1.06zM53.97 17.97h1.06v1.06h-1.06zM52.97 19.97h1.06v1.06h-1.06zM51.97 20.97h1.06v1.06h-1.06zM2.97 21.97h1.06v1.06h-1.06zM2.97 22.97h1.06v1.06h-1.06zM50.97 22.97h1.06v1.06h-1.06zM2.97 23.97h1.06v1.06h-1.06zM49.97 23.97h1.06v1.06h-1.06zM48.97 24.97h1.06v1.06h-1.06zM46.97 27.97h1.06v1.06h-1.06zM45.97 28.97h1.06v1.06h-1.06zM44.97 29.97h1.06v1.06h-1.06zM40.97 34.97h1.06v1.06h-1.06zM39.97 35.97h1.06v1.06h-1.06zM38.97 36.97h1.06v1.06h-1.06zM37.97 37.97h1.06v1.06h-1.06zM36.97 38.97h1.06v1.06h-1.06zM35.97 39.97h1.06v1.06h-1.06zM34.97 40.97h1.06v1.06h-1.06zM29.97 44.97h1.06v1.06h-1.06zM28.97 45.97h1.06v1.06h-1.06zM2.97 46.97h1.06v1.06h-1.06zM27.97 46.97h1.06v1.06h-1.06zM2.97 47.97h1.06v1.06h-1.06zM24.97 48.97h1.06v1.06h-1.06zM23.97 49.97h1.06v1.06h-1.06zM22.97 50.97h1.06v1.06h-1.06zM20.97 51.97h1.06v1.06h-1.06zM19.97 52.97h1.06v1.06h-1.06zM3.97 53.97h1.06v1.06h-1.06zM17.97 53.97h1.06v1.06h-1.06zM16.97 54.97h1.06v1.06h-1.06zM4.97 55.97h1.06v1.06h-1.06zM14.97 55.97h1.06v1.06h-1.06zM5.97 56.97h1.06v1.06h-1.06zM11.97 56.97h2.06v1.06h-2.06zM6.97 57.97h4.06v1.06h-4.06z"/><path fill="#8d8d8d" d="M31.97 -0.03h14.06v1.06h-14.06zM25.97 0.97h3.06v1.06h-3.06zM46.97 0.97h4.06v1.06h-4.06zM19.97 1.97h2.06v1.06h-2.06zM51.97 1.97h2.06v1.06h-2.06zM15.97 2.97h2.06v1.06h-2.06zM54.97 2.97h2.06v1.06h-2.06zM12.97 3.97h2.06v1.06h-2.06zM56.97 3.97h2.06v1.06h-2.06zM10.97 4.97h2.06v1.06h-2.06zM57.97 4.97h1.06v1.06h-1.06zM9.97 5.97h1.06v1.06h-1.06zM57.97 5.97h2.06v1.06h-2.06zM8.97 6.97h1.06v1.06h-1.06zM58.97 6.97h1.06v1.06h-1.06zM7.97 7.97h1.06v1.06h-1.06zM58.97 7.97h1.06v1.06h-1.06zM6.97 8.97h1.06v1.06h-1.06zM58.97 8.97h1.06v1.06h-1.06zM5.97 9.97h1.06v1.06h-1.06zM57.97 10.97h1.06v1.06h-1.06zM4.97 11.97h1.06v1.06h-1.06zM57.97 11.97h1.06v1.06h-1.06zM3.97 13.97h1.06v1.06h-1.06zM56.97 13.97h1.06v1.06h-1.06zM3.97 14.97h1.06v1.06h-1.06zM55.97 15.97h1.06v1.06h-1.06zM54.97 17.97h1.06v1.06h-1.06zM53.97 18.97h1.06v1.06h-1.06zM2.97 19.97h1.06v1.06h-1.06zM2.97 20.97h1.06v1.06h-1.06zM52.97 20.97h1.06v1.06h-1.06zM51.97 21.97h1.06v1.06h-1.06zM49.97 24.97h1.06v1.06h-1.06zM48.97 25.97h1.06v1.06h-1.06zM47.97 26.97h1.06v1.06h-1.06zM44.97 30.97h1.06v1.06h-1.06zM43.97 31.97h1.06v1.06h-1.06zM42.97 32.97h1.06v1.06h-1.06zM41.97 33.97h1.06v1.06h-1.06zM33.97 41.97h1.06v1.06h-1.06zM32.97 42.97h1.06v1.06h-1.06zM31.97 43.97h1.06v1.06h-1.06zM30.97 44.97h1.06v1.06h-1.06zM26.97 47.97h1.06v1.06h-1.06zM2.97 48.97h1.06v1.06h-1.06zM25.97 48.97h1.06v1.06h-1.06zM2.97 49.97h1.06v1.06h-1.06zM24.97 49.97h1.06v1.06h-1.06zM2.97 50.97h1.06v1.06h-1.06zM21.97 51.97h1.06v1.06h-1.06zM20.97 52.97h1.06v1.06h-1.06zM18.97 53.97h1.06v1.06h-1.06zM3.97 54.97h1.06v1.06h-1.06zM17.97 54.97h1.06v1.06h-1.06zM3.97 55.97h1.06v1.06h-1.06zM15.97 55.97h1.06v1.06h-1.06zM4.97 56.97h1.06v1.06h-1.06zM13.97 56.97h1.06v1.06h-1.06zM4.97 57.97h2.06v1.06h-2.06zM10.97 57.97h2.06v1.06h-2.06zM6.97 58.97h3.06v1.06h-3.06z"/><path fill="#909090" d="M26.97 -0.03h5.06v1.06h-5.06zM45.97 -0.03h4.06v1.06h-4.06zM22.97 0.97h3.06v1.06h-3.06zM50.97 0.97h2.06v1.06h-2.06zM17.97 1.97h2.06v1.06h-2.06zM53.97 1.97h2.06v1.06h-2.06zM13.97 2.97h2.06v1.06h-2.06zM56.97 2.97h2.06v1.06h-2.06zM11.97 3.97h1.06v1.06h-1.06zM58.97 3.97h1.06v1.06h-1.06zM9.97 4.97h1.06v1.06h-1.06zM58.97 4.97h2.06v1.06h-2.06zM8.97 5.97h1.06v1.06h-1.06zM59.97 5.97h1.06v1.06h-1.06zM7.97 6.97h1.06v1.06h-1.06zM59.97 6.97h1.06v1.06h-1.06zM6.97 7.97h1.06v1.06h-1.06zM59.97 7.97h1.06v1.06h-1.06zM5.97 8.97h1.06v1.06h-1.06zM4.97 9.97h1.06v1.06h-1.06zM58.97 9.97h1.06v1.06h-1.06zM4.97 10.97h1.06v1.06h-1.06zM58.97 10.97h1.06v1.06h-1.06zM58.97 11.97h1.06v1.06h-1.06zM3.97 12.97h1.06v1.06h-1.06zM57.97 12.97h1.06v1.06h-1.06zM57.97 13.97h1.06v1.06h-1.06zM56.97 14.97h1.06v1.06h-1.06zM55.97 16.97h1.06v1.06h-1.06zM2.97 17.97h1.06v1.06h-1.06zM2.97 18.97h1.06v1.06h-1.06zM54.97 18.97h1.06v1.06h-1.06zM53.97 19.97h1.06v1.06h-1.06zM51.97 22.97h1.06v1.06h-1.06zM50.97 23.97h1.06v1.06h-1.06zM48.97 26.97h1.06v1.06h-1.06zM47.97 27.97h1.06v1.06h-1.06zM46.97 28.97h1.06v1.06h-1.06zM45.97 29.97h1.06v1.06h-1.06zM1.97 33.97h1.06v1.06h-1.06zM42.97 33.97h1.06v1.06h-1.06zM1.97 34.97h1.06v1.06h-1.06zM41.97 34.97h1.06v1.06h-1.06zM1.97 35.97h1.06v1.06h-1.06zM40.97 35.97h1.06v1.06h-1.06zM39.97 36.97h1.06v1.06h-1.06zM38.97 37.97h1.06v1.06h-1.06zM37.97 38.97h1.06v1.06h-1.06zM36.97 39.97h1.06v1.06h-1.06zM35.97 40.97h1.06v1.06h-1.06zM34.97 41.97h1.06v1.06h-1.06zM33.97 42.97h1.06v1.06h-1.06zM29.97 45.97h1.06v1.06h-1.06zM28.97 46.97h1.06v1.06h-1.06zM27.97 47.97h1.06v1.06h-1.06zM26.97 48.97h1.06v1.06h-1.06zM23.97 50.97h1.06v1.06h-1.06zM2.97 51.97h1.06v1.06h-1.06zM22.97 51.97h1.06v1.06h-1.06zM2.97 52.97h1.06v1.06h-1.06zM19.97 53.97h1.06v1.06h-1.06zM18.97 54.97h1.06v1.06h-1.06zM16.97 55.97h1.06v1.06h-1.06zM3.97 56.97h1.06v1.06h-1.06zM14.97 56.97h1.06v1.06h-1.06zM12.97 57.97h2.06v1.06h-2.06zM4.97 58.97h2.06v1.06h-2.06zM9.97 58.97h3.06v1.06h-3.06zM5.97 59.97h3.06v1.06h-3.06z"/><path fill="#939393" d="M23.97 -0.03h3.06v1.06h-3.06zM49.97 -0.03h3.06v1.06h-3.06zM20.97 0.97h2.06v1.06h-2.06zM52.97 0.97h3.06v1.06h-3.06zM15.97 1.97h2.06v1.06h-2.06zM55.97 1.97h2.06v1.06h-2.06zM12.97 2.97h1.06v1.06h-1.06zM58.97 2.97h1.06v1.06h-1.06zM10.97 3.97h1.06v1.06h-1.06zM59.97 3.97h1.06v1.06h-1.06zM8.97 4.97h1.06v1.06h-1.06zM60.97 4.97h1.06v1.06h-1.06zM7.97 5.97h1.06v1.06h-1.06zM60.97 5.97h1.06v1.06h-1.06zM6.97 6.97h1.06v1.06h-1.06zM60.97 6.97h1.06v1.06h-1.06zM5.97 7.97h1.06v1.06h-1.06zM60.97 7.97h1.06v1.06h-1.06zM4.97 8.97h1.06v1.06h-1.06zM59.97 8.97h1.06v1.06h-1.06zM59.97 9.97h1.06v1.06h-1.06zM3.97 10.97h1.06v1.06h-1.06zM59.97 10.97h1.06v1.06h-1.06zM3.97 11.97h1.06v1.06h-1.06zM58.97 12.97h1.06v1.06h-1.06zM57.97 14.97h1.06v1.06h-1.06zM2.97 15.97h1.06v1.06h-1.06zM56.97 15.97h1.06v1.06h-1.06zM2.97 16.97h1.06v1.06h-1.06zM56.97 16.97h1.06v1.06h-1.06zM55.97 17.97h1.06v1.06h-1.06zM53.97 20.97h1.06v1.06h-1.06zM52.97 21.97h1.06v1.06h-1.06zM51.97 23.97h1.06v1.06h-1.06zM50.97 24.97h1.06v1.06h-1.06zM1.97 25.97h1.06v1.06h-1.06zM49.97 25.97h1.06v1.06h-1.06zM1.97 26.97h1.06v1.06h-1.06zM1.97 27.97h1.06v1.06h-1.06zM1.97 28.97h1.06v1.06h-1.06zM1.97 29.97h1.06v1.06h-1.06zM46.97 29.97h1.06v1.06h-1.06zM1.97 30.97h1.06v1.06h-1.06zM45.97 30.97h1.06v1.06h-1.06zM1.97 31.97h1.06v1.06h-1.06zM44.97 31.97h1.06v1.06h-1.06zM1.97 32.97h1.06v1.06h-1.06zM43.97 32.97h1.06v1.06h-1.06zM1.97 36.97h1.06v1.06h-1.06zM40.97 36.97h1.06v1.06h-1.06zM1.97 37.97h1.06v1.06h-1.06zM39.97 37.97h1.06v1.06h-1.06zM1.97 38.97h1.06v1.06h-1.06zM38.97 38.97h1.06v1.06h-1.06zM1.97 39.97h1.06v1.06h-1.06zM37.97 39.97h1.06v1.06h-1.06zM1.97 40.97h1.06v1.06h-1.06zM36.97 40.97h1.06v1.06h-1.06zM1.97 41.97h1.06v1.06h-1.06zM1.97 42.97h1.06v1.06h-1.06zM1.97 43.97h1.06v1.06h-1.06zM32.97 43.97h1.06v1.06h-1.06zM31.97 44.97h1.06v1.06h-1.06zM30.97 45.97h1.06v1.06h-1.06zM29.97 46.97h1.06v1.06h-1.06zM25.97 49.97h1.06v1.06h-1.06zM24.97 50.97h1.06v1.06h-1.06zM23.97 51.97h1.06v1.06h-1.06zM21.97 52.97h1.06v1.06h-1.06zM2.97 53.97h1.06v1.06h-1.06zM20.97 53.97h1.06v1.06h-1.06zM2.97 54.97h1.06v1.06h-1.06zM17.97 55.97h1.06v1.06h-1.06zM15.97 56.97h2.06v1.06h-2.06zM3.97 57.97h1.06v1.06h-1.06zM14.97 57.97h1.06v1.06h-1.06zM3.97 58.97h1.06v1.06h-1.06zM12.97 58.97h1.06v1.06h-1.06zM4.97 59.97h1.06v1.06h-1.06zM8.97 59.97h3.06v1.06h-3.06zM5.97 60.97h3.06v1.06h-3.06z"/><path fill="#969696" d="M21.97 -0.03h2.06v1.06h-2.06zM52.97 -0.03h3.06v1.06h-3.06zM17.97 0.97h3.06v1.06h-3.06zM55.97 0.97h2.06v1.06h-2.06zM14.97 1.97h1.06v1.06h-1.06zM57.97 1.97h2.06v1.06h-2.06zM10.97 2.97h2.06v1.06h-2.06zM59.97 2.97h2.06v1.06h-2.06zM8.97 3.97h2.06v1.06h-2.06zM60.97 3.97h2.06v1.06h-2.06zM7.97 4.97h1.06v1.06h-1.06zM61.97 4.97h1.06v1.06h-1.06zM6.97 5.97h1.06v1.06h-1.06zM61.97 5.97h1.06v1.06h-1.06zM5.97 6.97h1.06v1.06h-1.06zM61.97 6.97h1.06v1.06h-1.06zM4.97 7.97h1.06v1.06h-1.06zM61.97 7.97h1.06v1.06h-1.06zM60.97 8.97h1.06v1.06h-1.06zM3.97 9.97h1.06v1.06h-1.06zM60.97 9.97h1.06v1.06h-1.06zM59.97 11.97h1.06v1.06h-1.06zM59.97 12.97h1.06v1.06h-1.06zM2.97 13.97h1.06v1.06h-1.06zM58.97 13.97h1.06v1.06h-1.06zM2.97 14.97h1.06v1.06h-1.06zM57.97 15.97h1.06v1.06h-1.06zM56.97 17.97h1.06v1.06h-1.06zM55.97 18.97h1.06v1.06h-1.06zM54.97 19.97h1.06v1.06h-1.06zM53.97 21.97h1.06v1.06h-1.06zM1.97 22.97h1.06v1.06h-1.06zM52.97 22.97h1.06v1.06h-1.06zM1.97 23.97h1.06v1.06h-1.06zM1.97 24.97h1.06v1.06h-1.06zM50.97 25.97h1.06v1.06h-1.06zM49.97 26.97h1.06v1.06h-1.06zM48.97 27.97h1.06v1.06h-1.06zM47.97 28.97h1.06v1.06h-1.06zM45.97 31.97h1.06v1.06h-1.06zM44.97 32.97h1.06v1.06h-1.06zM43.97 33.97h1.06v1.06h-1.06zM42.97 34.97h1.06v1.06h-1.06zM41.97 35.97h1.06v1.06h-1.06zM35.97 41.97h1.06v1.06h-1.06zM34.97 42.97h1.06v1.06h-1.06zM33.97 43.97h1.06v1.06h-1.06zM1.97 44.97h1.06v1.06h-1.06zM32.97 44.97h1.06v1.06h-1.06zM1.97 45.97h1.06v1.06h-1.06zM31.97 45.97h1.06v1.06h-1.06zM1.97 46.97h1.06v1.06h-1.06zM28.97 47.97h1.06v1.06h-1.06zM27.97 48.97h1.06v1.06h-1.06zM26.97 49.97h1.06v1.06h-1.06zM25.97 50.97h1.06v1.06h-1.06zM22.97 52.97h1.06v1.06h-1.06zM21.97 53.97h1.06v1.06h-1.06zM19.97 54.97h1.06v1.06h-1.06zM2.97 55.97h1.06v1.06h-1.06zM18.97 55.97h1.06v1.06h-1.06zM17.97 56.97h1.06v1.06h-1.06zM15.97 57.97h1.06v1.06h-1.06zM13.97 58.97h1.06v1.06h-1.06zM3.97 59.97h1.06v1.06h-1.06zM11.97 59.97h2.06v1.06h-2.06zM4.97 60.97h1.06v1.06h-1.06zM8.97 60.97h2.06v1.06h-2.06zM5.97 61.97h3.06v1.06h-3.06z"/><path fill="#999999" d="M19.97 -0.03h2.06v1.06h-2.06zM55.97 -0.03h2.06v1.06h-2.06zM16.97 0.97h1.06v1.06h-1.06zM57.97 0.97h1.06v1.06h-1.06zM12.97 1.97h2.06v1.06h-2.06zM59.97 1.97h2.06v1.06h-2.06zM9.97 2.97h1.06v1.06h-1.06zM61.97 2.97h1.06v1.06h-1.06zM7.97 3.97h1.06v1.06h-1.06zM62.97 3.97h1.06v1.06h-1.06zM6.97 4.97h1.06v1.06h-1.06zM62.97 4.97h1.06v1.06h-1.06zM5.97 5.97h1.06v1.06h-1.06zM62.97 5.97h1.06v1.06h-1.06zM4.97 6.97h1.06v1.06h-1.06zM62.97 6.97h1.06v1.06h-1.06zM3.97 8.97h1.06v1.06h-1.06zM61.97 8.97h1.06v1.06h-1.06zM61.97 9.97h1.06v1.06h-1.06zM60.97 10.97h1.06v1.06h-1.06zM2.97 11.97h1.06v1.06h-1.06zM60.97 11.97h1.06v1.06h-1.06zM2.97 12.97h1.06v1.06h-1.06zM59.97 13.97h1.06v1.06h-1.06zM58.97 14.97h1.06v1.06h-1.06zM58.97 15.97h1.06v1.06h-1.06zM57.97 16.97h1.06v1.06h-1.06zM56.97 18.97h1.06v1.06h-1.06zM1.97 19.97h1.06v1.06h-1.06zM55.97 19.97h1.06v1.06h-1.06zM1.97 20.97h1.06v1.06h-1.06zM54.97 20.97h1.06v1.06h-1.06zM1.97 21.97h1.06v1.06h-1.06zM53.97 22.97h1.06v1.06h-1.06zM52.97 23.97h1.06v1.06h-1.06zM51.97 24.97h1.06v1.06h-1.06zM49.97 27.97h1.06v1.06h-1.06zM48.97 28.97h1.06v1.06h-1.06zM47.97 29.97h1.06v1.06h-1.06zM46.97 30.97h1.06v1.06h-1.06zM44.97 33.97h1.06v1.06h-1.06zM43.97 34.97h1.06v1.06h-1.06zM42.97 35.97h1.06v1.06h-1.06zM41.97 36.97h1.06v1.06h-1.06zM40.97 37.97h1.06v1.06h-1.06zM39.97 38.97h1.06v1.06h-1.06zM38.97 39.97h1.06v1.06h-1.06zM37.97 40.97h1.06v1.06h-1.06zM36.97 41.97h1.06v1.06h-1.06zM35.97 42.97h1.06v1.06h-1.06zM34.97 43.97h1.06v1.06h-1.06zM33.97 44.97h1.06v1.06h-1.06zM30.97 46.97h1.06v1.06h-1.06zM1.97 47.97h1.06v1.06h-1.06zM29.97 47.97h1.06v1.06h-1.06zM1.97 48.97h1.06v1.06h-1.06zM28.97 48.97h1.06v1.06h-1.06zM1.97 49.97h1.06v1.06h-1.06zM27.97 49.97h1.06v1.06h-1.06zM24.97 51.97h1.06v1.06h-1.06zM23.97 52.97h1.06v1.06h-1.06zM22.97 53.97h1.06v1.06h-1.06zM20.97 54.97h1.06v1.06h-1.06zM19.97 55.97h1.06v1.06h-1.06zM2.97 56.97h1.06v1.06h-1.06zM18.97 56.97h1.06v1.06h-1.06zM2.97 57.97h1.06v1.06h-1.06zM16.97 57.97h1.06v1.06h-1.06zM14.97 58.97h2.06v1.06h-2.06zM13.97 59.97h1.06v1.06h-1.06zM3.97 60.97h1.06v1.06h-1.06zM10.97 60.97h2.06v1.06h-2.06zM4.97 61.97h1.06v1.06h-1.06zM8.97 61.97h2.06v1.06h-2.06zM4.97 62.97h3.06v1.06h-3.06z"/><path fill="#9c9c9c" d="M17.97 -0.03h2.06v1.06h-2.06zM57.97 -0.03h2.06v1.06h-2.06zM14.97 0.97h2.06v1.06h-2.06zM58.97 0.97h2.06v1.06h-2.06zM11.97 1.97h1.06v1.06h-1.06zM61.97 1.97h1.06v1.06h-1.06zM8.97 2.97h1.06v1.06h-1.06zM62.97 2.97h1.06v1.06h-1.06zM6.97 3.97h1.06v1.06h-1.06zM63.97 3.97h1.06v1.06h-1.06zM5.97 4.97h1.06v1.06h-1.06zM63.97 4.97h1.06v1.06h-1.06zM4.97 5.97h1.06v1.06h-1.06zM63.97 5.97h1.06v1.06h-1.06zM3.97 6.97h1.06v1.06h-1.06zM63.97 6.97h1.06v1.06h-1.06zM3.97 7.97h1.06v1.06h-1.06zM62.97 7.97h1.06v1.06h-1.06zM62.97 8.97h1.06v1.06h-1.06zM62.97 9.97h1.06v1.06h-1.06zM2.97 10.97h1.06v1.06h-1.06zM61.97 10.97h1.06v1.06h-1.06zM61.97 11.97h1.06v1.06h-1.06zM60.97 12.97h1.06v1.06h-1.06zM59.97 14.97h1.06v1.06h-1.06zM1.97 16.97h1.06v1.06h-1.06zM58.97 16.97h1.06v1.06h-1.06zM1.97 17.97h1.06v1.06h-1.06zM57.97 17.97h1.06v1.06h-1.06zM1.97 18.97h1.06v1.06h-1.06zM56.97 19.97h1.06v1.06h-1.06zM55.97 20.97h1.06v1.06h-1.06zM54.97 21.97h1.06v1.06h-1.06zM53.97 23.97h1.06v1.06h-1.06zM52.97 24.97h1.06v1.06h-1.06zM51.97 25.97h1.06v1.06h-1.06zM50.97 26.97h1.06v1.06h-1.06zM48.97 29.97h1.06v1.06h-1.06zM47.97 30.97h1.06v1.06h-1.06zM46.97 31.97h1.06v1.06h-1.06zM45.97 32.97h1.06v1.06h-1.06zM32.97 45.97h1.06v1.06h-1.06zM31.97 46.97h1.06v1.06h-1.06zM30.97 47.97h1.06v1.06h-1.06zM29.97 48.97h1.06v1.06h-1.06zM1.97 50.97h1.06v1.06h-1.06zM26.97 50.97h1.06v1.06h-1.06zM1.97 51.97h1.06v1.06h-1.06zM25.97 51.97h1.06v1.06h-1.06zM24.97 52.97h1.06v1.06h-1.06zM23.97 53.97h1.06v1.06h-1.06zM21.97 54.97h1.06v1.06h-1.06zM20.97 55.97h1.06v1.06h-1.06zM19.97 56.97h1.06v1.06h-1.06zM17.97 57.97h1.06v1.06h-1.06zM2.97 58.97h1.06v1.06h-1.06zM16.97 58.97h1.06v1.06h-1.06zM14.97 59.97h1.06v1.06h-1.06zM12.97 60.97h1.06v1.06h-1.06zM3.97 61.97h1.06v1.06h-1.06zM10.97 61.97h2.06v1.06h-2.06zM3.97 62.97h1.06v1.06h-1.06zM7.97 62.97h3.06v1.06h-3.06zM4.97 63.97h3.06v1.06h-3.06z"/><path fill="#9f9f9f" d="M15.97 -0.03h2.06v1.06h-2.06zM59.97 -0.03h1.06v1.06h-1.06zM12.97 0.97h2.06v1.06h-2.06zM60.97 0.97h2.06v1.06h-2.06zM9.97 1.97h2.06v1.06h-2.06zM62.97 1.97h1.06v1.06h-1.06zM6.97 2.97h2.06v1.06h-2.06zM63.97 2.97h2.06v1.06h-2.06zM5.97 3.97h1.06v1.06h-1.06zM64.97 3.97h1.06v1.06h-1.06zM4.97 4.97h1.06v1.06h-1.06zM64.97 4.97h1.06v1.06h-1.06zM3.97 5.97h1.06v1.06h-1.06zM64.97 5.97h1.06v1.06h-1.06zM64.97 6.97h1.06v1.06h-1.06zM63.97 7.97h1.06v1.06h-1.06zM2.97 8.97h1.06v1.06h-1.06zM63.97 8.97h1.06v1.06h-1.06zM2.97 9.97h1.06v1.06h-1.06zM62.97 10.97h1.06v1.06h-1.06zM61.97 12.97h1.06v1.06h-1.06zM60.97 13.97h1.06v1.06h-1.06zM1.97 14.97h1.06v1.06h-1.06zM60.97 14.97h1.06v1.06h-1.06zM1.97 15.97h1.06v1.06h-1.06zM59.97 15.97h1.06v1.06h-1.06zM58.97 17.97h1.06v1.06h-1.06zM57.97 18.97h1.06v1.06h-1.06zM56.97 20.97h1.06v1.06h-1.06zM55.97 21.97h1.06v1.06h-1.06zM54.97 22.97h1.06v1.06h-1.06zM52.97 25.97h1.06v1.06h-1.06zM51.97 26.97h1.06v1.06h-1.06zM50.97 27.97h1.06v1.06h-1.06zM49.97 28.97h1.06v1.06h-1.06zM0.97 31.97h1.06v1.06h-1.06zM0.97 32.97h1.06v1.06h-1.06zM0.97 33.97h1.06v1.06h-1.06zM0.97 34.97h1.06v1.06h-1.06zM0.97 35.97h1.06v1.06h-1.06zM43.97 35.97h1.06v1.06h-1.06zM0.97 36.97h1.06v1.06h-1.06zM42.97 36.97h1.06v1.06h-1.06zM41.97 37.97h1.06v1.06h-1.06zM40.97 38.97h1.06v1.06h-1.06zM39.97 39.97h1.06v1.06h-1.06zM38.97 40.97h1.06v1.06h-1.06zM37.97 41.97h1.06v1.06h-1.06zM36.97 42.97h1.06v1.06h-1.06zM35.97 43.97h1.06v1.06h-1.06zM28.97 49.97h1.06v1.06h-1.06zM27.97 50.97h1.06v1.06h-1.06zM26.97 51.97h1.06v1.06h-1.06zM1.97 52.97h1.06v1.06h-1.06zM25.97 52.97h1.06v1.06h-1.06zM1.97 53.97h1.06v1.06h-1.06zM22.97 54.97h1.06v1.06h-1.06zM21.97 55.97h1.06v1.06h-1.06zM20.97 56.97h1.06v1.06h-1.06zM18.97 57.97h1.06v1.06h-1.06zM17.97 58.97h1.06v1.06h-1.06zM2.97 59.97h1.06v1.06h-1.06zM15.97 59.97h1.06v1.06h-1.06zM2.97 60.97h1.06v1.06h-1.06zM13.97 60.97h2.06v1.06h-2.06zM12.97 61.97h1.06v1.06h-1.06zM10.97 62.97h1.06v1.06h-1.06zM3.97 63.97h1.06v1.06h-1.06zM7.97 63.97h2.06v1.06h-2.06zM4.97 64.97h3.06v1.06h-3.06z"/><path fill="#a2a2a2" d="M13.97 -0.03h2.06v1.06h-2.06zM60.97 -0.03h2.06v1.06h-2.06zM11.97 0.97h1.06v1.06h-1.06zM62.97 0.97h1.06v1.06h-1.06zM8.97 1.97h1.06v1.06h-1.06zM63.97 1.97h2.06v1.06h-2.06zM5.97 2.97h1.06v1.06h-1.06zM65.97 2.97h1.06v1.06h-1.06zM4.97 3.97h1.06v1.06h-1.06zM65.97 3.97h1.06v1.06h-1.06zM3.97 4.97h1.06v1.06h-1.06zM65.97 4.97h1.06v1.06h-1.06zM65.97 5.97h1.06v1.06h-1.06zM65.97 6.97h1.06v1.06h-1.06zM2.97 7.97h1.06v1.06h-1.06zM64.97 7.97h1.06v1.06h-1.06zM64.97 8.97h1.06v1.06h-1.06zM63.97 9.97h1.06v1.06h-1.06zM63.97 10.97h1.06v1.06h-1.06zM62.97 11.97h1.06v1.06h-1.06zM1.97 12.97h1.06v1.06h-1.06zM62.97 12.97h1.06v1.06h-1.06zM1.97 13.97h1.06v1.06h-1.06zM61.97 13.97h1.06v1.06h-1.06zM60.97 15.97h1.06v1.06h-1.06zM59.97 16.97h1.06v1.06h-1.06zM58.97 18.97h1.06v1.06h-1.06zM57.97 19.97h1.06v1.06h-1.06zM55.97 22.97h1.06v1.06h-1.06zM54.97 23.97h1.06v1.06h-1.06zM0.97 24.97h1.06v1.06h-1.06zM53.97 24.97h1.06v1.06h-1.06zM0.97 25.97h1.06v1.06h-1.06zM0.97 26.97h1.06v1.06h-1.06zM0.97 27.97h1.06v1.06h-1.06zM0.97 28.97h1.06v1.06h-1.06zM0.97 29.97h1.06v1.06h-1.06zM0.97 30.97h1.06v1.06h-1.06zM48.97 30.97h1.06v1.06h-1.06zM47.97 31.97h1.06v1.06h-1.06zM46.97 32.97h1.06v1.06h-1.06zM45.97 33.97h1.06v1.06h-1.06zM44.97 34.97h1.06v1.06h-1.06zM0.97 37.97h1.06v1.06h-1.06zM0.97 38.97h1.06v1.06h-1.06zM0.97 39.97h1.06v1.06h-1.06zM0.97 40.97h1.06v1.06h-1.06zM0.97 41.97h1.06v1.06h-1.06zM0.97 42.97h1.06v1.06h-1.06zM0.97 43.97h1.06v1.06h-1.06zM34.97 44.97h1.06v1.06h-1.06zM33.97 45.97h1.06v1.06h-1.06zM32.97 46.97h1.06v1.06h-1.06zM31.97 47.97h1.06v1.06h-1.06zM30.97 48.97h1.06v1.06h-1.06zM24.97 53.97h1.06v1.06h-1.06zM1.97 54.97h1.06v1.06h-1.06zM23.97 54.97h1.06v1.06h-1.06zM1.97 55.97h1.06v1.06h-1.06zM22.97 55.97h1.06v1.06h-1.06zM19.97 57.97h1.06v1.06h-1.06zM18.97 58.97h1.06v1.06h-1.06zM16.97 59.97h1.06v1.06h-1.06zM15.97 60.97h1.06v1.06h-1.06zM2.97 61.97h1.06v1.06h-1.06zM13.97 61.97h1.06v1.06h-1.06zM11.97 62.97h2.06v1.06h-2.06zM9.97 63.97h2.06v1.06h-2.06zM3.97 64.97h1.06v1.06h-1.06zM7.97 64.97h2.06v1.06h-2.06zM4.97 65.97h3.06v1.06h-3.06z"/><path fill="#a5a5a5" d="M12.97 -0.03h1.06v1.06h-1.06zM62.97 -0.03h2.06v1.06h-2.06zM9.97 0.97h2.06v1.06h-2.06zM63.97 0.97h2.06v1.06h-2.06zM6.97 1.97h2.06v1.06h-2.06zM65.97 1.97h1.06v1.06h-1.06zM4.97 2.97h1.06v1.06h-1.06zM66.97 2.97h1.06v1.06h-1.06zM3.97 3.97h1.06v1.06h-1.06zM66.97 3.97h1.06v1.06h-1.06zM66.97 4.97h1.06v1.06h-1.06zM66.97 5.97h1.06v1.06h-1.06zM2.97 6.97h1.06v1.06h-1.06zM66.97 6.97h1.06v1.06h-1.06zM65.97 7.97h1.06v1.06h-1.06zM65.97 8.97h1.06v1.06h-1.06zM64.97 9.97h1.06v1.06h-1.06zM64.97 10.97h1.06v1.06h-1.06zM1.97 11.97h1.06v1.06h-1.06zM63.97 11.97h1.06v1.06h-1.06zM62.97 13.97h1.06v1.06h-1.06zM61.97 14.97h1.06v1.06h-1.06zM61.97 15.97h1.06v1.06h-1.06zM60.97 16.97h1.06v1.06h-1.06zM59.97 17.97h1.06v1.06h-1.06zM58.97 19.97h1.06v1.06h-1.06zM0.97 20.97h1.06v1.06h-1.06zM57.97 20.97h1.06v1.06h-1.06zM0.97 21.97h1.06v1.06h-1.06zM56.97 21.97h1.06v1.06h-1.06zM0.97 22.97h1.06v1.06h-1.06zM0.97 23.97h1.06v1.06h-1.06zM52.97 26.97h1.06v1.06h-1.06zM51.97 27.97h1.06v1.06h-1.06zM50.97 28.97h1.06v1.06h-1.06zM49.97 29.97h1.06v1.06h-1.06zM0.97 44.97h1.06v1.06h-1.06zM0.97 45.97h1.06v1.06h-1.06zM0.97 46.97h1.06v1.06h-1.06zM29.97 49.97h1.06v1.06h-1.06zM28.97 50.97h1.06v1.06h-1.06zM27.97 51.97h1.06v1.06h-1.06zM26.97 52.97h1.06v1.06h-1.06zM1.97 56.97h1.06v1.06h-1.06zM21.97 56.97h1.06v1.06h-1.06zM1.97 57.97h1.06v1.06h-1.06zM20.97 57.97h1.06v1.06h-1.06zM19.97 58.97h1.06v1.06h-1.06zM17.97 59.97h1.06v1.06h-1.06zM16.97 60.97h1.06v1.06h-1.06zM14.97 61.97h2.06v1.06h-2.06zM2.97 62.97h1.06v1.06h-1.06zM13.97 62.97h1.06v1.06h-1.06zM2.97 63.97h1.06v1.06h-1.06zM11.97 63.97h1.06v1.06h-1.06zM9.97 64.97h2.06v1.06h-2.06zM3.97 65.97h1.06v1.06h-1.06zM7.97 65.97h2.06v1.06h-2.06zM4.97 66.97h3.06v1.06h-3.06z"/><path fill="#a8a8a8" d="M10.97 -0.03h2.06v1.06h-2.06zM64.97 -0.03h1.06v1.06h-1.06zM8.97 0.97h1.06v1.06h-1.06zM65.97 0.97h1.06v1.06h-1.06zM5.97 1.97h1.06v1.06h-1.06zM66.97 1.97h1.06v1.06h-1.06zM3.97 2.97h1.06v1.06h-1.06zM67.97 2.97h1.06v1.06h-1.06zM67.97 3.97h1.06v1.06h-1.06zM2.97 4.97h1.06v1.06h-1.06zM67.97 4.97h1.06v1.06h-1.06zM2.97 5.97h1.06v1.06h-1.06zM67.97 5.97h1.06v1.06h-1.06zM67.97 6.97h1.06v1.06h-1.06zM66.97 7.97h1.06v1.06h-1.06zM66.97 8.97h1.06v1.06h-1.06zM1.97 9.97h1.06v1.06h-1.06zM65.97 9.97h1.06v1.06h-1.06zM1.97 10.97h1.06v1.06h-1.06zM64.97 11.97h1.06v1.06h-1.06zM63.97 12.97h1.06v1.06h-1.06zM63.97 13.97h1.06v1.06h-1.06zM62.97 14.97h1.06v1.06h-1.06zM61.97 16.97h1.06v1.06h-1.06zM0.97 17.97h1.06v1.06h-1.06zM60.97 17.97h1.06v1.06h-1.06zM0.97 18.97h1.06v1.06h-1.06zM59.97 18.97h1.06v1.06h-1.06zM0.97 19.97h1.06v1.06h-1.06zM56.97 22.97h1.06v1.06h-1.06zM55.97 23.97h1.06v1.06h-1.06zM54.97 24.97h1.06v1.06h-1.06zM53.97 25.97h1.06v1.06h-1.06zM0.97 47.97h1.06v1.06h-1.06zM0.97 48.97h1.06v1.06h-1.06zM0.97 49.97h1.06v1.06h-1.06zM25.97 53.97h1.06v1.06h-1.06zM24.97 54.97h1.06v1.06h-1.06zM23.97 55.97h1.06v1.06h-1.06zM22.97 56.97h1.06v1.06h-1.06zM1.97 58.97h1.06v1.06h-1.06zM18.97 59.97h1.06v1.06h-1.06zM17.97 60.97h1.06v1.06h-1.06zM16.97 61.97h1.06v1.06h-1.06zM14.97 62.97h1.06v1.06h-1.06zM12.97 63.97h2.06v1.06h-2.06zM2.97 64.97h1.06v1.06h-1.06zM11.97 64.97h1.06v1.06h-1.06zM9.97 65.97h1.06v1.06h-1.06zM3.97 66.97h1.06v1.06h-1.06zM7.97 66.97h2.06v1.06h-2.06zM4.97 67.97h3.06v1.06h-3.06z"/><path fill="#ababab" d="M9.97 -0.03h1.06v1.06h-1.06zM65.97 -0.03h1.06v1.06h-1.06zM7.97 0.97h1.06v1.06h-1.06zM66.97 0.97h1.06v1.06h-1.06zM4.97 1.97h1.06v1.06h-1.06zM67.97 1.97h1.06v1.06h-1.06zM68.97 2.97h1.06v1.06h-1.06zM2.97 3.97h1.06v1.06h-1.06zM68.97 3.97h1.06v1.06h-1.06zM68.97 4.97h1.06v1.06h-1.06zM68.97 5.97h1.06v1.06h-1.06zM68.97 6.97h1.06v1.06h-1.06zM1.97 7.97h1.06v1.06h-1.06zM67.97 7.97h1.06v1.06h-1.06zM1.97 8.97h1.06v1.06h-1.06zM66.97 9.97h1.06v1.06h-1.06zM65.97 10.97h1.06v1.06h-1.06zM65.97 11.97h1.06v1.06h-1.06zM64.97 12.97h1.06v1.06h-1.06zM0.97 14.97h1.06v1.06h-1.06zM63.97 14.97h1.06v1.06h-1.06zM0.97 15.97h1.06v1.06h-1.06zM62.97 15.97h1.06v1.06h-1.06zM0.97 16.97h1.06v1.06h-1.06zM59.97 19.97h1.06v1.06h-1.06zM58.97 20.97h1.06v1.06h-1.06zM57.97 21.97h1.06v1.06h-1.06zM-0.03 25.97h1.06v1.06h-1.06zM-0.03 26.97h1.06v1.06h-1.06zM-0.03 27.97h1.06v1.06h-1.06zM-0.03 28.97h1.06v1.06h-1.06zM-0.03 29.97h1.06v1.06h-1.06zM-0.03 30.97h1.06v1.06h-1.06zM-0.03 31.97h1.06v1.06h-1.06zM-0.03 32.97h1.06v1.06h-1.06zM-0.03 33.97h1.06v1.06h-1.06zM-0.03 34.97h1.06v1.06h-1.06zM-0.03 35.97h1.06v1.06h-1.06zM-0.03 36.97h1.06v1.06h-1.06zM-0.03 37.97h1.06v1.06h-1.06zM-0.03 38.97h1.06v1.06h-1.06zM41.97 38.97h1.06v1.06h-1.06zM-0.03 39.97h1.06v1.06h-1.06zM40.97 39.97h1.06v1.06h-1.06zM-0.03 40.97h1.06v1.06h-1.06zM39.97 40.97h1.06v1.06h-1.06zM-0.03 41.97h1.06v1.06h-1.06zM38.97 41.97h1.06v1.06h-1.06zM0.97 50.97h1.06v1.06h-1.06zM0.97 51.97h1.06v1.06h-1.06zM0.97 52.97h1.06v1.06h-1.06zM21.97 57.97h1.06v1.06h-1.06zM20.97 58.97h1.06v1.06h-1.06zM1.97 59.97h1.06v1.06h-1.06zM19.97 59.97h1.06v1.06h-1.06zM1.97 60.97h1.06v1.06h-1.06zM15.97 62.97h1.06v1.06h-1.06zM14.97 63.97h1.06v1.06h-1.06zM12.97 64.97h1.06v1.06h-1.06zM2.97 65.97h1.06v1.06h-1.06zM10.97 65.97h2.06v1.06h-2.06zM9.97 66.97h1.06v1.06h-1.06zM3.97 67.97h1.06v1.06h-1.06zM7.97 67.97h1.06v1.06h-1.06zM4.97 68.97h2.06v1.06h-2.06z"/><path fill="#aeaeae" d="M8.97 -0.03h1.06v1.06h-1.06zM66.97 -0.03h2.06v1.06h-2.06zM5.97 0.97h2.06v1.06h-2.06zM67.97 0.97h1.06v1.06h-1.06zM3.97 1.97h1.06v1.06h-1.06zM68.97 1.97h1.06v1.06h-1.06zM2.97 2.97h1.06v1.06h-1.06zM69.97 2.97h1.06v1.06h-1.06zM69.97 3.97h1.06v1.06h-1.06zM69.97 4.97h1.06v1.06h-1.06zM69.97 5.97h1.06v1.06h-1.06zM1.97 6.97h1.06v1.06h-1.06zM68.97 7.97h1.06v1.06h-1.06zM67.97 8.97h1.06v1.06h-1.06zM67.97 9.97h1.06v1.06h-1.06zM66.97 10.97h1.06v1.06h-1.06zM66.97 11.97h1.06v1.06h-1.06zM0.97 12.97h1.06v1.06h-1.06zM65.97 12.97h1.06v1.06h-1.06zM0.97 13.97h1.06v1.06h-1.06zM64.97 13.97h1.06v1.06h-1.06zM62.97 16.97h1.06v1.06h-1.06zM61.97 17.97h1.06v1.06h-1.06zM60.97 18.97h1.06v1.06h-1.06zM-0.03 20.97h1.06v1.06h-1.06zM-0.03 21.97h1.06v1.06h-1.06zM-0.03 22.97h1.06v1.06h-1.06zM-0.03 23.97h1.06v1.06h-1.06zM-0.03 24.97h1.06v1.06h-1.06zM49.97 30.97h1.06v1.06h-1.06zM48.97 31.97h1.06v1.06h-1.06zM47.97 32.97h1.06v1.06h-1.06zM46.97 33.97h1.06v1.06h-1.06zM45.97 34.97h1.06v1.06h-1.06zM44.97 35.97h1.06v1.06h-1.06zM43.97 36.97h1.06v1.06h-1.06zM42.97 37.97h1.06v1.06h-1.06zM-0.03 42.97h1.06v1.06h-1.06zM37.97 42.97h1.06v1.06h-1.06zM-0.03 43.97h1.06v1.06h-1.06zM36.97 43.97h1.06v1.06h-1.06zM-0.03 44.97h1.06v1.06h-1.06zM35.97 44.97h1.06v1.06h-1.06zM-0.03 45.97h1.06v1.06h-1.06zM34.97 45.97h1.06v1.06h-1.06zM33.97 46.97h1.06v1.06h-1.06zM32.97 47.97h1.06v1.06h-1.06zM31.97 48.97h1.06v1.06h-1.06zM30.97 49.97h1.06v1.06h-1.06zM0.97 53.97h1.06v1.06h-1.06zM0.97 54.97h1.06v1.06h-1.06zM18.97 60.97h1.06v1.06h-1.06zM1.97 61.97h1.06v1.06h-1.06zM17.97 61.97h1.06v1.06h-1.06zM16.97 62.97h1.06v1.06h-1.06zM13.97 64.97h1.06v1.06h-1.06zM12.97 65.97h1.06v1.06h-1.06zM2.97 66.97h1.06v1.06h-1.06zM10.97 66.97h2.06v1.06h-2.06zM8.97 67.97h2.06v1.06h-2.06zM3.97 68.97h1.06v1.06h-1.06zM6.97 68.97h2.06v1.06h-2.06zM4.97 69.97h2.06v1.06h-2.06z"/><path fill="#b1b1b1" d="M6.97 -0.03h2.06v1.06h-2.06zM68.97 -0.03h1.06v1.06h-1.06zM4.97 0.97h1.06v1.06h-1.06zM68.97 0.97h2.06v1.06h-2.06zM2.97 1.97h1.06v1.06h-1.06zM69.97 1.97h2.06v1.06h-2.06zM70.97 2.97h1.06v1.06h-1.06zM70.97 3.97h1.06v1.06h-1.06zM1.97 4.97h1.06v1.06h-1.06zM70.97 4.97h1.06v1.06h-1.06zM1.97 5.97h1.06v1.06h-1.06zM70.97 5.97h1.06v1.06h-1.06zM69.97 6.97h1.06v1.06h-1.06zM69.97 7.97h1.06v1.06h-1.06zM68.97 8.97h1.06v1.06h-1.06zM68.97 9.97h1.06v1.06h-1.06zM0.97 10.97h1.06v1.06h-1.06zM67.97 10.97h1.06v1.06h-1.06zM0.97 11.97h1.06v1.06h-1.06zM65.97 13.97h1.06v1.06h-1.06zM64.97 14.97h1.06v1.06h-1.06zM63.97 15.97h1.06v1.06h-1.06zM-0.03 17.97h1.06v1.06h-1.06zM-0.03 18.97h1.06v1.06h-1.06zM-0.03 19.97h1.06v1.06h-1.06zM54.97 25.97h1.06v1.06h-1.06zM53.97 26.97h1.06v1.06h-1.06zM52.97 27.97h1.06v1.06h-1.06zM51.97 28.97h1.06v1.06h-1.06zM50.97 29.97h1.06v1.06h-1.06zM-0.03 46.97h1.06v1.06h-1.06zM-0.03 47.97h1.06v1.06h-1.06zM-0.03 48.97h1.06v1.06h-1.06zM29.97 50.97h1.06v1.06h-1.06zM28.97 51.97h1.06v1.06h-1.06zM27.97 52.97h1.06v1.06h-1.06zM26.97 53.97h1.06v1.06h-1.06zM25.97 54.97h1.06v1.06h-1.06zM0.97 55.97h1.06v1.06h-1.06zM0.97 56.97h1.06v1.06h-1.06zM1.97 62.97h1.06v1.06h-1.06zM1.97 63.97h1.06v1.06h-1.06zM15.97 63.97h1.06v1.06h-1.06zM14.97 64.97h1.06v1.06h-1.06zM13.97 65.97h1.06v1.06h-1.06zM2.97 67.97h1.06v1.06h-1.06zM10.97 67.97h1.06v1.06h-1.06zM8.97 68.97h2.06v1.06h-2.06zM3.97 69.97h1.06v1.06h-1.06zM6.97 69.97h2.06v1.06h-2.06zM4.97 70.97h2.06v1.06h-2.06z"/><path fill="#b4b4b4" d="M5.97 -0.03h1.06v1.06h-1.06zM69.97 -0.03h1.06v1.06h-1.06zM3.97 0.97h1.06v1.06h-1.06zM70.97 0.97h1.06v1.06h-1.06zM71.97 1.97h1.06v1.06h-1.06zM71.97 2.97h1.06v1.06h-1.06zM1.97 3.97h1.06v1.06h-1.06zM71.97 3.97h1.06v1.06h-1.06zM71.97 4.97h1.06v1.06h-1.06zM71.97 5.97h1.06v1.06h-1.06zM70.97 6.97h1.06v1.06h-1.06zM70.97 7.97h1.06v1.06h-1.06zM0.97 8.97h1.06v1.06h-1.06zM69.97 8.97h1.06v1.06h-1.06zM0.97 9.97h1.06v1.06h-1.06zM67.97 11.97h1.06v1.06h-1.06zM66.97 12.97h1.06v1.06h-1.06zM-0.03 14.97h1.06v1.06h-1.06zM-0.03 15.97h1.06v1.06h-1.06zM-0.03 16.97h1.06v1.06h-1.06zM59.97 20.97h1.06v1.06h-1.06zM58.97 21.97h1.06v1.06h-1.06zM57.97 22.97h1.06v1.06h-1.06zM56.97 23.97h1.06v1.06h-1.06zM55.97 24.97h1.06v1.06h-1.06zM-0.03 49.97h1.06v1.06h-1.06zM-0.03 50.97h1.06v1.06h-1.06zM-0.03 51.97h1.06v1.06h-1.06zM24.97 55.97h1.06v1.06h-1.06zM23.97 56.97h1.06v1.06h-1.06zM0.97 57.97h1.06v1.06h-1.06zM22.97 57.97h1.06v1.06h-1.06zM21.97 58.97h1.06v1.06h-1.06zM20.97 59.97h1.06v1.06h-1.06zM1.97 64.97h1.06v1.06h-1.06zM12.97 66.97h1.06v1.06h-1.06zM11.97 67.97h1.06v1.06h-1.06zM2.97 68.97h1.06v1.06h-1.06zM8.97 69.97h1.06v1.06h-1.06zM3.97 70.97h1.06v1.06h-1.06zM6.97 70.97h2.06v1.06h-2.06zM4.97 71.97h2.06v1.06h-2.06z"/><path fill="#b7b7b7" d="M4.97 -0.03h1.06v1.06h-1.06zM70.97 -0.03h1.06v1.06h-1.06zM2.97 0.97h1.06v1.06h-1.06zM71.97 0.97h1.06v1.06h-1.06zM1.97 1.97h1.06v1.06h-1.06zM72.97 1.97h1.06v1.06h-1.06zM1.97 2.97h1.06v1.06h-1.06zM72.97 2.97h1.06v1.06h-1.06zM72.97 3.97h1.06v1.06h-1.06zM72.97 4.97h1.06v1.06h-1.06zM72.97 5.97h1.06v1.06h-1.06zM0.97 6.97h1.06v1.06h-1.06zM71.97 6.97h1.06v1.06h-1.06zM0.97 7.97h1.06v1.06h-1.06zM70.97 8.97h1.06v1.06h-1.06zM69.97 9.97h1.06v1.06h-1.06zM68.97 10.97h1.06v1.06h-1.06zM-0.03 11.97h1.06v1.06h-1.06zM-0.03 12.97h1.06v1.06h-1.06zM-0.03 13.97h1.06v1.06h-1.06zM63.97 16.97h1.06v1.06h-1.06zM62.97 17.97h1.06v1.06h-1.06zM61.97 18.97h1.06v1.06h-1.06zM60.97 19.97h1.06v1.06h-1.06zM-0.03 52.97h1.06v1.06h-1.06zM-0.03 53.97h1.06v1.06h-1.06zM0.97 58.97h1.06v1.06h-1.06zM0.97 59.97h1.06v1.06h-1.06zM19.97 60.97h1.06v1.06h-1.06zM18.97 61.97h1.06v1.06h-1.06zM17.97 62.97h1.06v1.06h-1.06zM16.97 63.97h1.06v1.06h-1.06zM1.97 65.97h1.06v1.06h-1.06zM10.97 68.97h1.06v1.06h-1.06zM2.97 69.97h1.06v1.06h-1.06zM9.97 69.97h1.06v1.06h-1.06zM8.97 70.97h1.06v1.06h-1.06zM3.97 71.97h1.06v1.06h-1.06zM6.97 71.97h1.06v1.06h-1.06zM4.97 72.97h2.06v1.06h-2.06z"/><path fill="#bababa" d="M3.97 -0.03h1.06v1.06h-1.06zM71.97 -0.03h1.06v1.06h-1.06zM1.97 0.97h1.06v1.06h-1.06zM72.97 0.97h1.06v1.06h-1.06zM73.97 1.97h1.06v1.06h-1.06zM73.97 2.97h1.06v1.06h-1.06zM73.97 3.97h1.06v1.06h-1.06zM0.97 4.97h1.06v1.06h-1.06zM73.97 4.97h1.06v1.06h-1.06zM0.97 5.97h1.06v1.06h-1.06zM72.97 6.97h1.06v1.06h-1.06zM71.97 7.97h1.06v1.06h-1.06zM-0.03 9.97h1.06v1.06h-1.06zM-0.03 10.97h1.06v1.06h-1.06zM66.97 13.97h1.06v1.06h-1.06zM65.97 14.97h1.06v1.06h-1.06zM64.97 15.97h1.06v1.06h-1.06zM-0.03 54.97h1.06v1.06h-1.06zM-0.03 55.97h1.06v1.06h-1.06zM0.97 60.97h1.06v1.06h-1.06zM0.97 61.97h1.06v1.06h-1.06zM15.97 64.97h1.06v1.06h-1.06zM14.97 65.97h1.06v1.06h-1.06zM1.97 66.97h1.06v1.06h-1.06zM13.97 66.97h1.06v1.06h-1.06zM2.97 70.97h1.06v1.06h-1.06zM7.97 71.97h1.06v1.06h-1.06zM3.97 72.97h1.06v1.06h-1.06zM6.97 72.97h1.06v1.06h-1.06zM4.97 73.97h1.06v1.06h-1.06z"/><path fill="#bdbdbd" d="M1.97 -0.03h2.06v1.06h-2.06zM72.97 -0.03h1.06v1.06h-1.06zM73.97 0.97h1.06v1.06h-1.06zM74.97 1.97h1.06v1.06h-1.06zM74.97 2.97h1.06v1.06h-1.06zM0.97 3.97h1.06v1.06h-1.06zM74.97 3.97h1.06v1.06h-1.06zM74.97 4.97h1.06v1.06h-1.06zM73.97 5.97h1.06v1.06h-1.06zM-0.03 7.97h1.06v1.06h-1.06zM-0.03 8.97h1.06v1.06h-1.06zM69.97 10.97h1.06v1.06h-1.06zM68.97 11.97h1.06v1.06h-1.06zM67.97 12.97h1.06v1.06h-1.06zM43.97 37.97h1.06v1.06h-1.06zM42.97 38.97h1.06v1.06h-1.06zM41.97 39.97h1.06v1.06h-1.06zM40.97 40.97h1.06v1.06h-1.06zM39.97 41.97h1.06v1.06h-1.06zM38.97 42.97h1.06v1.06h-1.06zM37.97 43.97h1.06v1.06h-1.06zM-0.03 56.97h1.06v1.06h-1.06zM-0.03 57.97h1.06v1.06h-1.06zM0.97 62.97h1.06v1.06h-1.06zM1.97 67.97h1.06v1.06h-1.06zM12.97 67.97h1.06v1.06h-1.06zM1.97 68.97h1.06v1.06h-1.06zM11.97 68.97h1.06v1.06h-1.06zM10.97 69.97h1.06v1.06h-1.06zM2.97 71.97h1.06v1.06h-1.06zM3.97 73.97h1.06v1.06h-1.06zM5.97 73.97h1.06v1.06h-1.06zM4.97 74.97h1.06v1.06h-1.06z"/><path fill="#c0c0c0" d="M73.97 -0.03h1.06v1.06h-1.06zM74.97 0.97h1.06v1.06h-1.06zM0.97 1.97h1.06v1.06h-1.06zM75.97 1.97h1.06v1.06h-1.06zM0.97 2.97h1.06v1.06h-1.06zM75.97 2.97h1.06v1.06h-1.06zM75.97 3.97h1.06v1.06h-1.06zM-0.03 5.97h1.06v1.06h-1.06zM-0.03 6.97h1.06v1.06h-1.06zM72.97 7.97h1.06v1.06h-1.06zM71.97 8.97h1.06v1.06h-1.06zM70.97 9.97h1.06v1.06h-1.06zM55.97 25.97h1.06v1.06h-1.06zM54.97 26.97h1.06v1.06h-1.06zM53.97 27.97h1.06v1.06h-1.06zM52.97 28.97h1.06v1.06h-1.06zM51.97 29.97h1.06v1.06h-1.06zM50.97 30.97h1.06v1.06h-1.06zM49.97 31.97h1.06v1.06h-1.06zM48.97 32.97h1.06v1.06h-1.06zM47.97 33.97h1.06v1.06h-1.06zM46.97 34.97h1.06v1.06h-1.06zM45.97 35.97h1.06v1.06h-1.06zM44.97 36.97h1.06v1.06h-1.06zM36.97 44.97h1.06v1.06h-1.06zM35.97 45.97h1.06v1.06h-1.06zM34.97 46.97h1.06v1.06h-1.06zM33.97 47.97h1.06v1.06h-1.06zM32.97 48.97h1.06v1.06h-1.06zM31.97 49.97h1.06v1.06h-1.06zM30.97 50.97h1.06v1.06h-1.06zM29.97 51.97h1.06v1.06h-1.06zM28.97 52.97h1.06v1.06h-1.06zM27.97 53.97h1.06v1.06h-1.06zM26.97 54.97h1.06v1.06h-1.06zM25.97 55.97h1.06v1.06h-1.06zM-0.03 58.97h1.06v1.06h-1.06zM-0.03 59.97h1.06v1.06h-1.06zM0.97 63.97h1.06v1.06h-1.06zM1.97 69.97h1.06v1.06h-1.06zM9.97 70.97h1.06v1.06h-1.06zM8.97 71.97h1.06v1.06h-1.06zM2.97 72.97h1.06v1.06h-1.06zM7.97 72.97h1.06v1.06h-1.06zM3.97 74.97h1.06v1.06h-1.06z"/><path fill="#c3c3c3" d="M74.97 -0.03h1.06v1.06h-1.06zM0.97 0.97h1.06v1.06h-1.06zM75.97 0.97h1.06v1.06h-1.06zM76.97 1.97h1.06v1.06h-1.06zM76.97 2.97h1.06v1.06h-1.06zM-0.03 3.97h1.06v1.06h-1.06zM-0.03 4.97h1.06v1.06h-1.06zM75.97 4.97h1.06v1.06h-1.06zM74.97 5.97h1.06v1.06h-1.06zM73.97 6.97h1.06v1.06h-1.06zM63.97 17.97h1.06v1.06h-1.06zM62.97 18.97h1.06v1.06h-1.06zM61.97 19.97h1.06v1.06h-1.06zM60.97 20.97h1.06v1.06h-1.06zM59.97 21.97h1.06v1.06h-1.06zM58.97 22.97h1.06v1.06h-1.06zM57.97 23.97h1.06v1.06h-1.06zM56.97 24.97h1.06v1.06h-1.06zM24.97 56.97h1.06v1.06h-1.06zM23.97 57.97h1.06v1.06h-1.06zM22.97 58.97h1.06v1.06h-1.06zM21.97 59.97h1.06v1.06h-1.06zM-0.03 60.97h1.06v1.06h-1.06zM20.97 60.97h1.06v1.06h-1.06zM19.97 61.97h1.06v1.06h-1.06zM18.97 62.97h1.06v1.06h-1.06zM17.97 63.97h1.06v1.06h-1.06zM0.97 64.97h1.06v1.06h-1.06zM0.97 65.97h1.06v1.06h-1.06zM1.97 70.97h1.06v1.06h-1.06zM2.97 73.97h1.06v1.06h-1.06zM6.97 73.97h1.06v1.06h-1.06zM5.97 74.97h1.06v1.06h-1.06zM3.97 75.97h2.06v1.06h-2.06z"/><path fill="#c6c6c6" d="M0.97 -0.03h1.06v1.06h-1.06zM75.97 -0.03h1.06v1.06h-1.06zM76.97 0.97h1.06v1.06h-1.06zM-0.03 1.97h1.06v1.06h-1.06zM-0.03 2.97h1.06v1.06h-1.06zM77.97 2.97h1.06v1.06h-1.06zM76.97 3.97h1.06v1.06h-1.06zM70.97 10.97h1.06v1.06h-1.06zM69.97 11.97h1.06v1.06h-1.06zM68.97 12.97h1.06v1.06h-1.06zM67.97 13.97h1.06v1.06h-1.06zM66.97 14.97h1.06v1.06h-1.06zM65.97 15.97h1.06v1.06h-1.06zM64.97 16.97h1.06v1.06h-1.06zM-0.03 61.97h1.06v1.06h-1.06zM-0.03 62.97h1.06v1.06h-1.06zM16.97 64.97h1.06v1.06h-1.06zM15.97 65.97h1.06v1.06h-1.06zM0.97 66.97h1.06v1.06h-1.06zM14.97 66.97h1.06v1.06h-1.06zM13.97 67.97h1.06v1.06h-1.06zM12.97 68.97h1.06v1.06h-1.06zM11.97 69.97h1.06v1.06h-1.06zM10.97 70.97h1.06v1.06h-1.06zM1.97 71.97h1.06v1.06h-1.06zM2.97 74.97h1.06v1.06h-1.06zM3.97 76.97h1.06v1.06h-1.06z"/><path fill="#c9c9c9" d="M76.97 -0.03h1.06v1.06h-1.06zM-0.03 0.97h1.06v1.06h-1.06zM77.97 0.97h1.06v1.06h-1.06zM77.97 1.97h1.06v1.06h-1.06zM76.97 4.97h1.06v1.06h-1.06zM75.97 5.97h1.06v1.06h-1.06zM74.97 6.97h1.06v1.06h-1.06zM73.97 7.97h1.06v1.06h-1.06zM72.97 8.97h1.06v1.06h-1.06zM71.97 9.97h1.06v1.06h-1.06zM58.97 23.97h2.06v1.06h-2.06zM57.97 24.97h2.06v1.06h-2.06zM56.97 25.97h2.06v1.06h-2.06zM55.97 26.97h2.06v1.06h-2.06zM54.97 27.97h2.06v1.06h-2.06zM53.97 28.97h2.06v1.06h-2.06zM52.97 29.97h2.06v1.06h-2.06zM51.97 30.97h2.06v1.06h-2.06zM50.97 31.97h2.06v1.06h-2.06zM49.97 32.97h2.06v1.06h-2.06zM48.97 33.97h2.06v1.06h-2.06zM47.97 34.97h2.06v1.06h-2.06zM46.97 35.97h2.06v1.06h-2.06zM45.97 36.97h2.06v1.06h-2.06zM44.97 37.97h2.06v1.06h-2.06zM43.97 38.97h2.06v1.06h-2.06zM42.97 39.97h2.06v1.06h-2.06zM41.97 40.97h2.06v1.06h-2.06zM40.97 41.97h2.06v1.06h-2.06zM39.97 42.97h2.06v1.06h-2.06zM38.97 43.97h2.06v1.06h-2.06zM37.97 44.97h2.06v1.06h-2.06zM36.97 45.97h2.06v1.06h-2.06zM35.97 46.97h2.06v1.06h-2.06zM34.97 47.97h2.06v1.06h-2.06zM33.97 48.97h2.06v1.06h-2.06zM32.97 49.97h2.06v1.06h-2.06zM31.97 50.97h2.06v1.06h-2.06zM30.97 51.97h2.06v1.06h-2.06zM29.97 52.97h2.06v1.06h-2.06zM28.97 53.97h2.06v1.06h-2.06zM27.97 54.97h2.06v1.06h-2.06zM26.97 55.97h2.06v1.06h-2.06zM25.97 56.97h2.06v1.06h-2.06zM24.97 57.97h2.06v1.06h-2.06zM23.97 58.97h2.06v1.06h-2.06zM23.97 59.97h1.06v1.06h-1.06zM-0.03 63.97h1.06v1.06h-1.06zM0.97 67.97h1.06v1.06h-1.06zM9.97 71.97h1.06v1.06h-1.06zM1.97 72.97h1.06v1.06h-1.06zM8.97 72.97h1.06v1.06h-1.06zM7.97 73.97h1.06v1.06h-1.06zM6.97 74.97h1.06v1.06h-1.06zM2.97 75.97h1.06v1.06h-1.06zM5.97 75.97h1.06v1.06h-1.06zM4.97 76.97h1.06v1.06h-1.06z"/><path fill="#cccccc" d="M-0.03 -0.03h1.06v1.06h-1.06zM77.97 -0.03h1.06v1.06h-1.06zM78.97 0.97h1.06v1.06h-1.06zM78.97 1.97h1.06v1.06h-1.06zM78.97 2.97h1.06v1.06h-1.06zM77.97 3.97h1.06v1.06h-1.06zM73.97 8.97h2.06v1.06h-2.06zM72.97 9.97h2.06v1.06h-2.06zM71.97 10.97h2.06v1.06h-2.06zM70.97 11.97h2.06v1.06h-2.06zM69.97 12.97h2.06v1.06h-2.06zM68.97 13.97h2.06v1.06h-2.06zM67.97 14.97h2.06v1.06h-2.06zM66.97 15.97h2.06v1.06h-2.06zM65.97 16.97h2.06v1.06h-2.06zM64.97 17.97h2.06v1.06h-2.06zM63.97 18.97h2.06v1.06h-2.06zM62.97 19.97h2.06v1.06h-2.06zM61.97 20.97h2.06v1.06h-2.06zM60.97 21.97h2.06v1.06h-2.06zM59.97 22.97h2.06v1.06h-2.06zM22.97 59.97h1.06v1.06h-1.06zM21.97 60.97h2.06v1.06h-2.06zM20.97 61.97h2.06v1.06h-2.06zM19.97 62.97h2.06v1.06h-2.06zM18.97 63.97h2.06v1.06h-2.06zM-0.03 64.97h1.06v1.06h-1.06zM17.97 64.97h2.06v1.06h-2.06zM-0.03 65.97h1.06v1.06h-1.06zM16.97 65.97h2.06v1.06h-2.06zM15.97 66.97h2.06v1.06h-2.06zM14.97 67.97h2.06v1.06h-2.06zM0.97 68.97h1.06v1.06h-1.06zM13.97 68.97h2.06v1.06h-2.06zM12.97 69.97h2.06v1.06h-2.06zM11.97 70.97h2.06v1.06h-2.06zM10.97 71.97h2.06v1.06h-2.06zM9.97 72.97h2.06v1.06h-2.06zM1.97 73.97h1.06v1.06h-1.06zM8.97 73.97h2.06v1.06h-2.06zM8.97 74.97h1.06v1.06h-1.06zM2.97 76.97h1.06v1.06h-1.06zM3.97 77.97h1.06v1.06h-1.06z"/><path fill="#cfcfcf" d="M78.97 -0.03h1.06v1.06h-1.06zM79.97 1.97h1.06v1.06h-1.06zM79.97 2.97h2.06v1.06h-2.06zM78.97 3.97h2.06v1.06h-2.06zM77.97 4.97h2.06v1.06h-2.06zM76.97 5.97h2.06v1.06h-2.06zM75.97 6.97h2.06v1.06h-2.06zM74.97 7.97h2.06v1.06h-2.06zM-0.03 66.97h1.06v1.06h-1.06zM0.97 69.97h1.06v1.06h-1.06zM1.97 74.97h1.06v1.06h-1.06zM7.97 74.97h1.06v1.06h-1.06zM6.97 75.97h2.06v1.06h-2.06zM5.97 76.97h2.06v1.06h-2.06zM2.97 77.97h1.06v1.06h-1.06zM4.97 77.97h2.06v1.06h-2.06zM3.97 78.97h2.06v1.06h-2.06zM3.97 79.97h1.06v1.06h-1.06z"/><path fill="#d2d2d2" d="M79.97 -0.03h1.06v1.06h-1.06zM79.97 0.97h1.06v1.06h-1.06zM80.97 1.97h2.06v1.06h-2.06zM-0.03 67.97h1.06v1.06h-1.06zM0.97 70.97h1.06v1.06h-1.06zM0.97 71.97h1.06v1.06h-1.06zM1.97 75.97h1.06v1.06h-1.06zM2.97 78.97h1.06v1.06h-1.06z"/><path fill="#d5d5d5" d="M80.97 -0.03h1.06v1.06h-1.06zM80.97 0.97h1.06v1.06h-1.06zM-0.03 68.97h1.06v1.06h-1.06zM0.97 72.97h1.06v1.06h-1.06zM1.97 76.97h1.06v1.06h-1.06zM2.97 79.97h1.06v1.06h-1.06zM2.97 80.97h1.06v1.06h-1.06z"/><path fill="#d8d8d8" d="M81.97 -0.03h1.06v1.06h-1.06zM81.97 0.97h2.06v1.06h-2.06zM-0.03 69.97h1.06v1.06h-1.06zM-0.03 70.97h1.06v1.06h-1.06zM0.97 73.97h1.06v1.06h-1.06zM1.97 77.97h1.06v1.06h-1.06z"/><path fill="#dbdbdb" d="M82.97 -0.03h2.06v1.06h-2.06zM-0.03 71.97h1.06v1.06h-1.06zM0.97 74.97h1.06v1.06h-1.06zM1.97 78.97h1.06v1.06h-1.06z"/><path fill="#dedede" d="M-0.03 72.97h1.06v1.06h-1.06zM0.97 75.97h1.06v1.06h-1.06z"/><path fill="#e1e1e1" d="M-0.03 73.97h1.06v1.06h-1.06zM0.97 76.97h1.06v1.06h-1.06zM1.97 79.97h1.06v1.06h-1.06z"/><path fill="#e4e4e4" d="M-0.03 74.97h1.06v1.06h-1.06zM0.97 77.97h1.06v1.06h-1.06zM1.97 80.97h1.06v1.06h-1.06zM1.97 81.97h1.06v1.06h-1.06z"/><path fill="#e7e7e7" d="M-0.03 75.97h1.06v1.06h-1.06z"/><path fill="#eaeaea" d="M-0.03 76.97h1.06v1.06h-1.06zM0.97 78.97h1.06v1.06h-1.06z"/><path fill="#ededed" d="M-0.03 77.97h1.06v1.06h-1.06zM0.97 79.97h1.06v1.06h-1.06z"/><path fill="#f0f0f0" d="M-0.03 78.97h1.06v1.06h-1.06zM0.97 80.97h1.06v1.06h-1.06z"/><path fill="#f3f3f3" d="M-0.03 79.97h1.06v1.06h-1.06zM0.97 81.97h1.06v1.06h-1.06zM0.97 82.97h1.06v1.06h-1.06z"/><path fill="#f9f9f9" d="M-0.03 80.97h1.06v1.06h-1.06z"/><path fill="#fcfcfc" d="M-0.03 81.97h1.06v1.06h-1.06z"/><path fill="#ffffff" d="M-0.03 82.97h1.06v1.06h-1.06zM-0.03 83.97h1.06v1.06h-1.06z"/></g><clipPath id="octa-clip-0"><polygon points="149.3,40.53 89.21,98.4 107.63,111.39"/></clipPath><clipPath id="octa-clip-1"><polygon points="149.3,166.08 89.21,97.9 107.63,110.9"/></clipPath><clipPath id="octa-clip-2"><polygon points="148.83,40.49 208.92,108.67 107.16,111.35"/></clipPath><clipPath id="octa-clip-3"><polygon points="148.83,166.04 208.92,108.17 107.16,110.86"/></clipPath></defs>
<clipPath id="clip-a"><path d="M89.52 98.22L148.9 41.04L208.28 108.41L148.9 165.59Z"/></clipPath>
<g clip-path="url(#clip-a)"><g filter="url(#hm-a)"><path fill="#5a5a5a" d="M89.52 98.22L148.9 41.04L208.28 108.41L148.9 165.59Z"/><g clip-path="url(#octa-clip-0)"><use href="#octa-face" transform="matrix(-0.70695 0.68078 -0.49018 0.83364 149.499 40.280)"/><use href="#octa-face" transform="matrix(-0.70695 0.68078 -0.49018 0.83364 148.900 41.037)"/></g><g clip-path="url(#octa-clip-1)"><use href="#octa-face" transform="matrix(-0.70695 -0.80202 -0.49018 -0.64916 149.499 166.318)"/><use href="#octa-face" transform="matrix(-0.70695 -0.80202 -0.49018 -0.64916 148.900 165.593)"/></g><g clip-path="url(#octa-clip-2)"><use href="#octa-face" transform="matrix(0.70695 0.80202 -0.49018 0.83364 148.792 40.219)"/><use href="#octa-face" transform="matrix(0.70695 0.80202 -0.49018 0.83364 148.900 41.037)"/></g><g clip-path="url(#octa-clip-3)"><use href="#octa-face" transform="matrix(0.70695 -0.68078 -0.49018 -0.64916 148.792 166.258)"/><use href="#octa-face" transform="matrix(0.70695 -0.68078 -0.49018 -0.64916 148.900 165.593)"/></g></g></g>
<g class="axes"><line class="ax" x1="46.5" y1="168.9" x2="46.5" y2="42.9"/><line class="ax" x1="46.5" y1="168.9" x2="167.2" y2="179.25"/><line class="ax" x1="167.2" y1="179.25" x2="250.9" y2="163.5"/><line class="ax" x1="73" y1="171.17" x2="73" y2="174.47"/><line class="ax" x1="231.6" y1="167.13" x2="231.6" y2="170.43"/><line class="ax" x1="46.5" y1="145.85" x2="42.7" y2="145.55"/><line class="ax" x1="106.55" y1="174.05" x2="106.55" y2="177.35"/><line class="ax" x1="209.1" y1="171.37" x2="209.1" y2="174.67"/><line class="ax" x1="46.5" y1="105.8" x2="42.7" y2="105.5"/><line class="ax" x1="140.1" y1="176.93" x2="140.1" y2="180.23"/><line class="ax" x1="186.6" y1="175.6" x2="186.6" y2="178.9"/><line class="ax" x1="46.5" y1="65.75" x2="42.7" y2="65.45"/></g>
<text class="tk" text-anchor="end" x="72.4" y="189.57">-200</text><text class="tk" x="231.7" y="185.53">-200</text><text class="tk" text-anchor="end" x="38.9" y="150.05">-200</text><text class="tk" text-anchor="end" x="105.95" y="192.45">0</text><text class="tk" x="209.2" y="189.77">0</text><text class="tk" text-anchor="end" x="38.9" y="110">0</text><text class="tk" text-anchor="end" x="139.5" y="195.33">200</text><text class="tk" x="186.7" y="194">200</text><text class="tk" text-anchor="end" x="38.9" y="69.95">200</text>
<text class="m" textLength="11" lengthAdjust="spacingAndGlyphs" x="87.9" y="205.2">m</text>
<text class="m" textLength="11" lengthAdjust="spacingAndGlyphs" x="226.5" y="204.1">m</text>
<text class="m" textLength="11" lengthAdjust="spacingAndGlyphs" transform="translate(6.6 106.4) rotate(-90)" x="-5.6" y="3.3">m</text>
<rect x="276" y="20.45" width="14.75" height="166.05" fill="url(#hot)"/>
<rect class="cbx" x="276" y="20.45" width="14.75" height="166.05"/>
<text class="tk" x="294.35" y="190.8">0</text>
<line class="ax" x1="289.15" y1="157.67" x2="290.75" y2="157.67"/>
<text class="tk" x="294.35" y="161.97">10</text>
<line class="ax" x1="289.15" y1="128.84" x2="290.75" y2="128.84"/>
<text class="tk" x="294.35" y="133.14">20</text>
<line class="ax" x1="289.15" y1="100.02" x2="290.75" y2="100.02"/>
<text class="tk" x="294.35" y="104.32">30</text>
<line class="ax" x1="289.15" y1="71.19" x2="290.75" y2="71.19"/>
<text class="tk" x="294.35" y="75.49">40</text>
<line class="ax" x1="289.15" y1="42.36" x2="290.75" y2="42.36"/>
<text class="tk" x="294.35" y="46.66">50</text>
<text class="deg" x="308.6" y="106.7">(°)</text>
</g>
<g id="panel-b">
<g class="grid"><line class="g" x1="476.8" y1="155.91" x2="476.8" y2="31.11"/><line class="g" x1="413.3" y1="144.7" x2="496.4" y2="129.4"/><line class="g" x1="522.6" y1="154.43" x2="522.6" y2="29.63"/><line class="g" x1="496.4" y1="129.4" x2="616.7" y2="139.2"/><line class="g" x1="522.6" y1="154.43" x2="439.5" y2="169.73"/><line class="g" x1="476.8" y1="155.91" x2="597.1" y2="165.71"/><line class="g" x1="454.3" y1="160.05" x2="454.3" y2="35.25"/><line class="g" x1="413.3" y1="105.1" x2="496.4" y2="89.8"/><line class="g" x1="555.8" y1="157.14" x2="555.8" y2="32.34"/><line class="g" x1="496.4" y1="89.8" x2="616.7" y2="99.6"/><line class="g" x1="555.8" y1="157.14" x2="472.7" y2="172.44"/><line class="g" x1="454.3" y1="160.05" x2="574.6" y2="169.85"/><line class="g" x1="431.8" y1="164.19" x2="431.8" y2="39.39"/><line class="g" x1="413.3" y1="65.5" x2="496.4" y2="50.2"/><line class="g" x1="589" y1="159.84" x2="589" y2="35.04"/><line class="g" x1="496.4" y1="50.2" x2="616.7" y2="60"/><line class="g" x1="589" y1="159.84" x2="505.9" y2="175.14"/><line class="g" x1="431.8" y1="164.19" x2="552.1" y2="173.99"/></g>
<clipPath id="clip-b"><path d="M565.64 103.07L565.64 103.2L565.63 103.43L565.61 103.76L565.57 104.16L565.51 104.63L565.44 105.16L565.33 105.75L565.2 106.41L565.04 107.12L564.85 107.88L564.62 108.71L564.34 109.58L564.03 110.51L563.67 111.49L563.26 112.51L562.8 113.59L562.28 114.71L561.71 115.87L561.08 117.07L560.38 118.31L559.62 119.58L558.8 120.88L557.92 122.21L556.97 123.55L555.95 124.91L554.87 126.28L553.73 127.66L552.52 129.03L551.26 130.39L549.95 131.74L548.58 133.07L547.18 134.37L545.73 135.64L544.25 136.87L542.75 138.06L541.23 139.19L539.69 140.28L538.15 141.3L536.62 142.27L535.1 143.18L533.59 144.02L532.11 144.8L530.67 145.51L529.26 146.16L527.89 146.75L526.57 147.28L525.31 147.74L524.11 148.15L522.97 148.5L521.9 148.8L520.91 149.06L520 149.26L519.17 149.43L518.41 149.56L517.65 149.67L516.91 149.76L516.2 149.82L515.52 149.87L514.87 149.89L514.28 149.9L513.73 149.89L513.25 149.87L512.86 149.85L512.48 149.81L511.96 149.75L511.33 149.66L510.61 149.54L509.8 149.37L508.9 149.17L507.93 148.92L506.88 148.63L505.76 148.28L504.57 147.88L503.32 147.42L502.01 146.89L500.65 146.31L499.25 145.66L497.8 144.95L496.31 144.16L494.79 143.31L493.26 142.4L491.7 141.42L490.15 140.38L488.59 139.28L487.04 138.12L485.5 136.91L483.99 135.65L482.51 134.35L481.07 133.02L479.67 131.66L478.32 130.27L477.02 128.87L475.78 127.45L474.6 126.04L473.49 124.63L472.44 123.23L471.47 121.84L470.55 120.48L469.71 119.14L468.93 117.83L468.22 116.56L467.57 115.33L466.98 114.14L466.45 112.99L465.98 111.89L465.56 110.84L465.2 109.85L464.87 108.9L464.6 108.01L464.36 107.17L464.16 106.4L464 105.67L463.87 105.01L463.77 104.41L463.69 103.88L463.63 103.4L463.59 103L463.57 102.68L463.56 102.44L463.56 102.31L463.56 102.18L463.57 101.95L463.59 101.62L463.63 101.22L463.69 100.75L463.76 100.22L463.87 99.63L464 98.98L464.16 98.26L464.35 97.5L464.58 96.68L464.86 95.8L465.17 94.87L465.53 93.89L465.94 92.87L466.4 91.79L466.92 90.67L467.49 89.51L468.12 88.31L468.82 87.07L469.58 85.8L470.4 84.5L471.28 83.18L472.23 81.83L473.25 80.47L474.33 79.1L475.47 77.72L476.68 76.35L477.94 74.99L479.25 73.64L480.62 72.31L482.02 71.01L483.47 69.74L484.95 68.51L486.45 67.32L487.97 66.19L489.51 65.1L491.05 64.08L492.58 63.11L494.1 62.2L495.61 61.36L497.09 60.58L498.53 59.87L499.94 59.22L501.31 58.63L502.63 58.1L503.89 57.64L505.09 57.23L506.23 56.88L507.3 56.58L508.29 56.32L509.2 56.12L510.03 55.95L510.79 55.82L511.55 55.71L512.29 55.62L513 55.56L513.68 55.51L514.33 55.49L514.92 55.48L515.47 55.49L515.95 55.51L516.34 55.53L516.72 55.57L517.24 55.63L517.87 55.72L518.59 55.84L519.4 56.01L520.3 56.21L521.27 56.46L522.32 56.75L523.44 57.1L524.63 57.5L525.88 57.96L527.19 58.49L528.55 59.07L529.95 59.72L531.4 60.44L532.89 61.22L534.41 62.07L535.94 62.98L537.5 63.96L539.05 65L540.61 66.1L542.16 67.26L543.7 68.47L545.21 69.73L546.69 71.03L548.13 72.36L549.53 73.73L550.88 75.11L552.18 76.51L553.42 77.93L554.6 79.34L555.71 80.75L556.76 82.15L557.73 83.54L558.65 84.9L559.49 86.24L560.27 87.55L560.98 88.82L561.63 90.05L562.22 91.24L562.75 92.39L563.22 93.49L563.64 94.54L564 95.53L564.33 96.48L564.6 97.37L564.84 98.21L565.04 98.99L565.2 99.71L565.33 100.37L565.43 100.97L565.51 101.5L565.57 101.98L565.61 102.38L565.63 102.7L565.64 102.94Z"/></clipPath>
<g clip-path="url(#clip-b)"><g filter="url(#hm-b)" shape-rendering="crispEdges"><path fill="#010101" d="M543.94 65.44h3.12v1.62h-3.12zM543.94 66.94h4.62v1.62h-4.62zM485.44 68.44h1.62v1.62h-1.62zM543.94 68.44h3.12v1.62h-3.12zM483.94 69.94h1.62v1.62h-1.62zM519.94 71.44h3.12v1.62h-3.12zM519.94 72.94h3.12v1.62h-3.12zM459.94 101.44h3.12v1.62h-3.12zM555.94 105.94h3.12v1.62h-3.12zM534.94 107.44h6.12v1.62h-6.12zM482.44 134.44h1.62v1.62h-1.62zM480.94 135.94h4.62v1.62h-4.62zM482.44 137.44h3.12v1.62h-3.12zM521.44 137.44h1.62v1.62h-1.62zM519.94 138.94h3.12v1.62h-3.12z"/><path fill="#020202" d="M542.44 66.94h1.62v1.62h-1.62zM518.44 71.44h1.62v1.62h-1.62zM522.94 71.44h1.62v1.62h-1.62zM518.44 72.94h1.62v1.62h-1.62zM522.94 72.94h1.62v1.62h-1.62zM519.94 74.44h3.12v1.62h-3.12zM465.94 104.44h1.62v1.62h-1.62zM470.44 105.94h1.62v1.62h-1.62zM554.44 105.94h1.62v1.62h-1.62zM558.94 105.94h1.62v1.62h-1.62zM479.44 107.44h4.62v1.62h-4.62zM531.94 107.44h3.12v1.62h-3.12zM540.94 107.44h3.12v1.62h-3.12zM480.94 134.44h1.62v1.62h-1.62zM485.44 137.44h1.62v1.62h-1.62zM518.44 137.44h3.12v1.62h-3.12zM522.94 137.44h1.62v1.62h-1.62zM483.94 138.94h1.62v1.62h-1.62zM518.44 138.94h1.62v1.62h-1.62zM522.94 138.94h1.62v1.62h-1.62z"/><path fill="#030303" d="M542.44 65.44h1.62v1.62h-1.62zM546.94 68.44h1.62v1.62h-1.62zM519.94 69.94h1.62v1.62h-1.62zM482.44 71.44h1.62v1.62h-1.62zM516.94 71.44h1.62v1.62h-1.62zM516.94 72.94h1.62v1.62h-1.62zM524.44 72.94h1.62v1.62h-1.62zM518.44 74.44h1.62v1.62h-1.62zM522.94 74.44h1.62v1.62h-1.62zM471.94 105.94h1.62v1.62h-1.62zM552.94 105.94h1.62v1.62h-1.62zM477.94 107.44h1.62v1.62h-1.62zM528.94 107.44h3.12v1.62h-3.12zM543.94 107.44h1.62v1.62h-1.62zM524.44 137.44h1.62v1.62h-1.62zM485.44 138.94h1.62v1.62h-1.62zM516.94 138.94h1.62v1.62h-1.62zM519.94 140.44h1.62v1.62h-1.62z"/><path fill="#040404" d="M542.44 63.94h1.62v1.62h-1.62zM486.94 66.94h1.62v1.62h-1.62zM548.44 68.44h1.62v1.62h-1.62zM482.44 69.94h1.62v1.62h-1.62zM518.44 69.94h1.62v1.62h-1.62zM521.44 69.94h1.62v1.62h-1.62zM546.94 69.94h1.62v1.62h-1.62zM524.44 71.44h1.62v1.62h-1.62zM524.44 74.44h1.62v1.62h-1.62zM561.94 104.44h1.62v1.62h-1.62zM551.44 105.94h1.62v1.62h-1.62zM527.44 107.44h1.62v1.62h-1.62zM545.44 107.44h1.62v1.62h-1.62zM480.94 132.94h1.62v1.62h-1.62zM479.44 134.44h1.62v1.62h-1.62zM521.44 135.94h1.62v1.62h-1.62zM516.94 137.44h1.62v1.62h-1.62zM524.44 138.94h1.62v1.62h-1.62zM485.44 140.44h1.62v1.62h-1.62zM518.44 140.44h1.62v1.62h-1.62zM521.44 140.44h1.62v1.62h-1.62z"/><path fill="#050505" d="M540.94 65.44h1.62v1.62h-1.62zM516.94 69.94h1.62v1.62h-1.62zM522.94 69.94h1.62v1.62h-1.62zM545.44 69.94h1.62v1.62h-1.62zM480.94 71.44h1.62v1.62h-1.62zM480.94 72.94h1.62v1.62h-1.62zM515.44 72.94h1.62v1.62h-1.62zM525.94 72.94h1.62v1.62h-1.62zM516.94 74.44h1.62v1.62h-1.62zM519.94 75.94h4.62v1.62h-4.62zM467.44 104.44h1.62v1.62h-1.62zM549.94 105.94h1.62v1.62h-1.62zM483.94 107.44h1.62v1.62h-1.62zM524.44 107.44h3.12v1.62h-3.12zM546.94 107.44h1.62v1.62h-1.62zM479.44 132.94h1.62v1.62h-1.62zM519.94 135.94h1.62v1.62h-1.62zM522.94 135.94h3.12v1.62h-3.12zM525.94 137.44h1.62v1.62h-1.62zM486.94 138.94h1.62v1.62h-1.62zM515.44 138.94h1.62v1.62h-1.62zM516.94 140.44h1.62v1.62h-1.62zM522.94 140.44h1.62v1.62h-1.62z"/><path fill="#060606" d="M540.94 63.94h1.62v1.62h-1.62zM483.94 68.44h1.62v1.62h-1.62zM524.44 69.94h1.62v1.62h-1.62zM548.44 69.94h1.62v1.62h-1.62zM515.44 71.44h1.62v1.62h-1.62zM525.94 71.44h1.62v1.62h-1.62zM525.94 74.44h1.62v1.62h-1.62zM518.44 75.94h1.62v1.62h-1.62zM524.44 75.94h1.62v1.62h-1.62zM464.44 102.94h1.62v1.62h-1.62zM563.44 104.44h1.62v1.62h-1.62zM476.44 107.44h1.62v1.62h-1.62zM522.94 107.44h1.62v1.62h-1.62zM548.44 107.44h1.62v1.62h-1.62zM518.44 135.94h1.62v1.62h-1.62zM515.44 137.44h1.62v1.62h-1.62zM525.94 138.94h1.62v1.62h-1.62zM486.94 140.44h1.62v1.62h-1.62z"/><path fill="#070707" d="M486.94 68.44h1.62v1.62h-1.62zM518.44 68.44h4.62v1.62h-4.62zM485.44 69.94h1.62v1.62h-1.62zM515.44 69.94h1.62v1.62h-1.62zM515.44 74.44h1.62v1.62h-1.62zM516.94 75.94h1.62v1.62h-1.62zM462.94 101.44h1.62v1.62h-1.62zM473.44 105.94h1.62v1.62h-1.62zM548.44 105.94h1.62v1.62h-1.62zM485.44 107.44h1.62v1.62h-1.62zM519.94 107.44h3.12v1.62h-3.12zM479.44 131.44h1.62v1.62h-1.62zM477.94 132.94h1.62v1.62h-1.62zM516.94 135.94h1.62v1.62h-1.62zM525.94 135.94h1.62v1.62h-1.62zM488.44 138.94h1.62v1.62h-1.62zM515.44 140.44h1.62v1.62h-1.62zM524.44 140.44h1.62v1.62h-1.62z"/><path fill="#080808" d="M540.94 62.44h1.62v1.62h-1.62zM488.44 65.44h1.62v1.62h-1.62zM488.44 66.94h1.62v1.62h-1.62zM522.94 68.44h1.62v1.62h-1.62zM525.94 69.94h1.62v1.62h-1.62zM549.94 69.94h1.62v1.62h-1.62zM483.94 71.44h1.62v1.62h-1.62zM513.94 71.44h1.62v1.62h-1.62zM479.44 72.94h1.62v1.62h-1.62zM513.94 72.94h1.62v1.62h-1.62zM527.44 72.94h1.62v1.62h-1.62zM527.44 74.44h1.62v1.62h-1.62zM525.94 75.94h1.62v1.62h-1.62zM519.94 77.44h4.62v1.62h-4.62zM567.94 102.94h1.62v1.62h-1.62zM558.94 104.44h1.62v1.62h-1.62zM468.94 105.94h1.62v1.62h-1.62zM546.94 105.94h1.62v1.62h-1.62zM486.94 107.44h1.62v1.62h-1.62zM518.44 107.44h1.62v1.62h-1.62zM549.94 107.44h1.62v1.62h-1.62zM527.44 137.44h1.62v1.62h-1.62zM513.94 138.94h1.62v1.62h-1.62zM486.94 141.94h1.62v1.62h-1.62z"/><path fill="#090909" d="M539.44 63.94h1.62v1.62h-1.62zM516.94 68.44h1.62v1.62h-1.62zM527.44 71.44h1.62v1.62h-1.62zM548.44 71.44h1.62v1.62h-1.62zM479.44 74.44h1.62v1.62h-1.62zM513.94 74.44h1.62v1.62h-1.62zM515.44 75.94h1.62v1.62h-1.62zM527.44 75.94h1.62v1.62h-1.62zM518.44 77.44h1.62v1.62h-1.62zM524.44 77.44h1.62v1.62h-1.62zM462.94 102.94h1.62v1.62h-1.62zM564.94 102.94h3.12v1.62h-3.12zM488.44 107.44h1.62v1.62h-1.62zM515.44 107.44h3.12v1.62h-3.12zM501.94 108.94h15.12v1.62h-15.12zM477.94 131.44h1.62v1.62h-1.62zM519.94 134.44h6.12v1.62h-6.12zM527.44 135.94h1.62v1.62h-1.62zM513.94 137.44h1.62v1.62h-1.62zM527.44 138.94h1.62v1.62h-1.62zM488.44 140.44h1.62v1.62h-1.62zM513.94 140.44h1.62v1.62h-1.62zM518.44 141.94h3.12v1.62h-3.12z"/><path fill="#0a0a0a" d="M485.44 66.94h1.62v1.62h-1.62zM515.44 68.44h1.62v1.62h-1.62zM524.44 68.44h1.62v1.62h-1.62zM513.94 69.94h1.62v1.62h-1.62zM482.44 72.94h1.62v1.62h-1.62zM528.94 72.94h1.62v1.62h-1.62zM528.94 74.44h1.62v1.62h-1.62zM516.94 77.44h1.62v1.62h-1.62zM525.94 77.44h1.62v1.62h-1.62zM545.44 105.94h1.62v1.62h-1.62zM489.94 107.44h1.62v1.62h-1.62zM513.94 107.44h1.62v1.62h-1.62zM551.44 107.44h1.62v1.62h-1.62zM498.94 108.94h3.12v1.62h-3.12zM516.94 108.94h4.62v1.62h-4.62zM476.44 131.44h1.62v1.62h-1.62zM518.44 134.44h1.62v1.62h-1.62zM525.94 134.44h1.62v1.62h-1.62zM515.44 135.94h1.62v1.62h-1.62zM528.94 137.44h1.62v1.62h-1.62zM525.94 140.44h1.62v1.62h-1.62zM488.44 141.94h1.62v1.62h-1.62zM516.94 141.94h1.62v1.62h-1.62zM521.44 141.94h1.62v1.62h-1.62z"/><path fill="#0b0b0b" d="M539.44 62.44h1.62v1.62h-1.62zM489.94 65.44h1.62v1.62h-1.62zM527.44 69.94h1.62v1.62h-1.62zM512.44 71.44h1.62v1.62h-1.62zM528.94 71.44h1.62v1.62h-1.62zM546.94 71.44h1.62v1.62h-1.62zM549.94 71.44h1.62v1.62h-1.62zM512.44 72.94h1.62v1.62h-1.62zM477.94 74.44h1.62v1.62h-1.62zM513.94 75.94h1.62v1.62h-1.62zM528.94 75.94h1.62v1.62h-1.62zM527.44 77.44h1.62v1.62h-1.62zM521.44 78.94h3.12v1.62h-3.12zM543.94 105.94h1.62v1.62h-1.62zM491.44 107.44h3.12v1.62h-3.12zM509.44 107.44h4.62v1.62h-4.62zM552.94 107.44h1.62v1.62h-1.62zM495.94 108.94h3.12v1.62h-3.12zM521.44 108.94h3.12v1.62h-3.12zM477.94 129.94h1.62v1.62h-1.62zM527.44 134.44h1.62v1.62h-1.62zM528.94 135.94h1.62v1.62h-1.62zM486.94 137.44h1.62v1.62h-1.62zM512.44 138.94h1.62v1.62h-1.62zM489.94 140.44h1.62v1.62h-1.62zM515.44 141.94h1.62v1.62h-1.62zM522.94 141.94h1.62v1.62h-1.62z"/><path fill="#0c0c0c" d="M513.94 54.94h1.62v1.62h-1.62zM537.94 63.94h1.62v1.62h-1.62zM518.44 66.94h4.62v1.62h-4.62zM525.94 68.44h1.62v1.62h-1.62zM480.94 74.44h1.62v1.62h-1.62zM512.44 74.44h1.62v1.62h-1.62zM515.44 77.44h1.62v1.62h-1.62zM518.44 78.94h3.12v1.62h-3.12zM524.44 78.94h3.12v1.62h-3.12zM566.44 101.44h3.12v1.62h-3.12zM464.44 104.44h1.62v1.62h-1.62zM560.44 104.44h1.62v1.62h-1.62zM560.44 105.94h1.62v1.62h-1.62zM474.94 107.44h1.62v1.62h-1.62zM494.44 107.44h3.12v1.62h-3.12zM506.44 107.44h3.12v1.62h-3.12zM494.44 108.94h1.62v1.62h-1.62zM524.44 108.94h3.12v1.62h-3.12zM476.44 129.94h1.62v1.62h-1.62zM516.94 134.44h1.62v1.62h-1.62zM528.94 134.44h1.62v1.62h-1.62zM513.94 135.94h1.62v1.62h-1.62zM512.44 137.44h1.62v1.62h-1.62zM528.94 138.94h1.62v1.62h-1.62zM512.44 140.44h1.62v1.62h-1.62zM527.44 140.44h1.62v1.62h-1.62zM488.44 143.44h1.62v1.62h-1.62z"/><path fill="#0d0d0d" d="M539.44 60.94h1.62v1.62h-1.62zM516.94 66.94h1.62v1.62h-1.62zM522.94 66.94h1.62v1.62h-1.62zM536.44 66.94h1.62v1.62h-1.62zM513.94 68.44h1.62v1.62h-1.62zM537.94 68.44h1.62v1.62h-1.62zM512.44 69.94h1.62v1.62h-1.62zM528.94 69.94h1.62v1.62h-1.62zM539.44 69.94h1.62v1.62h-1.62zM540.94 71.44h1.62v1.62h-1.62zM551.44 71.44h1.62v1.62h-1.62zM530.44 72.94h1.62v1.62h-1.62zM542.44 72.94h1.62v1.62h-1.62zM530.44 74.44h1.62v1.62h-1.62zM477.94 75.94h1.62v1.62h-1.62zM530.44 75.94h1.62v1.62h-1.62zM528.94 77.44h1.62v1.62h-1.62zM527.44 78.94h1.62v1.62h-1.62zM564.94 101.44h1.62v1.62h-1.62zM474.94 105.94h1.62v1.62h-1.62zM542.44 105.94h1.62v1.62h-1.62zM497.44 107.44h9.12v1.62h-9.12zM558.94 107.44h1.62v1.62h-1.62zM492.94 108.94h1.62v1.62h-1.62zM527.44 108.94h1.62v1.62h-1.62zM519.94 132.94h7.62v1.62h-7.62zM515.44 134.44h1.62v1.62h-1.62zM530.44 135.94h1.62v1.62h-1.62zM530.44 137.44h1.62v1.62h-1.62zM536.44 140.44h1.62v1.62h-1.62zM489.94 141.94h1.62v1.62h-1.62zM513.94 141.94h1.62v1.62h-1.62zM524.44 141.94h1.62v1.62h-1.62z"/><path fill="#0e0e0e" d="M512.44 54.94h1.62v1.62h-1.62zM530.44 62.44h1.62v1.62h-1.62zM537.94 62.44h1.62v1.62h-1.62zM489.94 63.94h1.62v1.62h-1.62zM539.44 65.44h1.62v1.62h-1.62zM515.44 66.94h1.62v1.62h-1.62zM524.44 66.94h1.62v1.62h-1.62zM488.44 68.44h1.62v1.62h-1.62zM527.44 68.44h1.62v1.62h-1.62zM486.94 69.94h1.62v1.62h-1.62zM485.44 71.44h1.62v1.62h-1.62zM530.44 71.44h1.62v1.62h-1.62zM510.94 72.94h1.62v1.62h-1.62zM549.94 72.94h1.62v1.62h-1.62zM543.94 74.44h1.62v1.62h-1.62zM512.44 75.94h1.62v1.62h-1.62zM513.94 77.44h1.62v1.62h-1.62zM530.44 77.44h1.62v1.62h-1.62zM516.94 78.94h1.62v1.62h-1.62zM546.94 78.94h1.62v1.62h-1.62zM521.44 80.44h3.12v1.62h-3.12zM548.44 80.44h1.62v1.62h-1.62zM551.44 84.94h1.62v1.62h-1.62zM552.94 87.94h1.62v1.62h-1.62zM554.44 90.94h1.62v1.62h-1.62zM555.94 93.94h1.62v1.62h-1.62zM557.44 98.44h1.62v1.62h-1.62zM459.94 102.94h1.62v1.62h-1.62zM468.94 104.44h1.62v1.62h-1.62zM557.44 104.44h1.62v1.62h-1.62zM540.94 105.94h1.62v1.62h-1.62zM554.44 107.44h1.62v1.62h-1.62zM482.44 108.94h1.62v1.62h-1.62zM491.44 108.94h1.62v1.62h-1.62zM528.94 108.94h3.12v1.62h-3.12zM555.94 116.44h1.62v1.62h-1.62zM554.44 119.44h1.62v1.62h-1.62zM552.94 122.44h1.62v1.62h-1.62zM549.94 126.94h1.62v1.62h-1.62zM476.44 128.44h1.62v1.62h-1.62zM474.94 129.94h1.62v1.62h-1.62zM518.44 132.94h1.62v1.62h-1.62zM527.44 132.94h1.62v1.62h-1.62zM530.44 134.44h1.62v1.62h-1.62zM512.44 135.94h1.62v1.62h-1.62zM510.94 138.94h1.62v1.62h-1.62zM530.44 138.94h1.62v1.62h-1.62zM537.94 138.94h1.62v1.62h-1.62zM489.94 143.44h1.62v1.62h-1.62zM528.94 144.94h1.62v1.62h-1.62z"/><path fill="#0f0f0f" d="M515.44 54.94h1.62v1.62h-1.62zM525.94 59.44h1.62v1.62h-1.62zM491.44 63.94h1.62v1.62h-1.62zM531.94 63.94h1.62v1.62h-1.62zM534.94 65.44h1.62v1.62h-1.62zM489.94 66.94h1.62v1.62h-1.62zM525.94 66.94h1.62v1.62h-1.62zM512.44 68.44h1.62v1.62h-1.62zM510.94 71.44h1.62v1.62h-1.62zM531.94 72.94h1.62v1.62h-1.62zM510.94 74.44h1.62v1.62h-1.62zM531.94 74.44h1.62v1.62h-1.62zM476.44 75.94h1.62v1.62h-1.62zM479.44 75.94h1.62v1.62h-1.62zM531.94 75.94h1.62v1.62h-1.62zM515.44 78.94h1.62v1.62h-1.62zM528.94 78.94h1.62v1.62h-1.62zM519.94 80.44h1.62v1.62h-1.62zM524.44 80.44h3.12v1.62h-3.12zM549.94 83.44h1.62v1.62h-1.62zM459.94 99.94h1.62v1.62h-1.62zM461.44 102.94h1.62v1.62h-1.62zM539.44 105.94h1.62v1.62h-1.62zM531.94 108.94h1.62v1.62h-1.62zM557.44 111.94h1.62v1.62h-1.62zM557.44 113.44h1.62v1.62h-1.62zM548.44 128.44h1.62v1.62h-1.62zM528.94 132.94h1.62v1.62h-1.62zM513.94 134.44h1.62v1.62h-1.62zM531.94 134.44h1.62v1.62h-1.62zM485.44 135.94h1.62v1.62h-1.62zM531.94 135.94h1.62v1.62h-1.62zM510.94 137.44h1.62v1.62h-1.62zM531.94 137.44h1.62v1.62h-1.62zM510.94 140.44h1.62v1.62h-1.62zM528.94 140.44h1.62v1.62h-1.62zM525.94 141.94h1.62v1.62h-1.62z"/><path fill="#101010" d="M513.94 51.94h1.62v1.62h-1.62zM513.94 53.44h1.62v1.62h-1.62zM522.94 57.94h1.62v1.62h-1.62zM537.94 60.94h1.62v1.62h-1.62zM519.94 65.44h1.62v1.62h-1.62zM513.94 66.94h1.62v1.62h-1.62zM528.94 68.44h1.62v1.62h-1.62zM510.94 69.94h1.62v1.62h-1.62zM530.44 69.94h1.62v1.62h-1.62zM531.94 71.44h1.62v1.62h-1.62zM483.94 72.94h1.62v1.62h-1.62zM548.44 72.94h1.62v1.62h-1.62zM551.44 72.94h1.62v1.62h-1.62zM545.44 75.94h1.62v1.62h-1.62zM476.44 77.44h1.62v1.62h-1.62zM512.44 77.44h1.62v1.62h-1.62zM531.94 77.44h1.62v1.62h-1.62zM545.44 77.44h1.62v1.62h-1.62zM530.44 78.94h1.62v1.62h-1.62zM516.94 80.44h3.12v1.62h-3.12zM527.44 80.44h3.12v1.62h-3.12zM549.94 81.94h1.62v1.62h-1.62zM555.94 95.44h1.62v1.62h-1.62zM557.44 96.94h1.62v1.62h-1.62zM461.44 99.94h1.62v1.62h-1.62zM557.44 99.94h1.62v1.62h-1.62zM558.94 102.94h1.62v1.62h-1.62zM489.94 108.94h1.62v1.62h-1.62zM533.44 108.94h3.12v1.62h-3.12zM551.44 123.94h1.62v1.62h-1.62zM474.94 128.44h1.62v1.62h-1.62zM522.94 131.44h6.12v1.62h-6.12zM516.94 132.94h1.62v1.62h-1.62zM530.44 132.94h1.62v1.62h-1.62zM491.44 141.94h1.62v1.62h-1.62zM512.44 141.94h1.62v1.62h-1.62zM516.94 143.44h4.62v1.62h-4.62zM531.94 143.44h1.62v1.62h-1.62z"/><path fill="#111111" d="M504.94 51.94h6.12v1.62h-6.12zM506.44 53.44h4.62v1.62h-4.62zM506.44 54.94h4.62v1.62h-4.62zM519.94 56.44h1.62v1.62h-1.62zM528.94 60.94h1.62v1.62h-1.62zM536.44 62.44h1.62v1.62h-1.62zM482.44 65.44h3.12v1.62h-3.12zM491.44 65.44h1.62v1.62h-1.62zM516.94 65.44h3.12v1.62h-3.12zM521.44 65.44h3.12v1.62h-3.12zM533.44 65.44h1.62v1.62h-1.62zM480.94 66.94h4.62v1.62h-4.62zM527.44 66.94h1.62v1.62h-1.62zM540.94 66.94h1.62v1.62h-1.62zM479.44 68.44h4.62v1.62h-4.62zM480.94 69.94h1.62v1.62h-1.62zM509.44 72.94h1.62v1.62h-1.62zM533.44 72.94h1.62v1.62h-1.62zM482.44 74.44h1.62v1.62h-1.62zM533.44 74.44h1.62v1.62h-1.62zM510.94 75.94h1.62v1.62h-1.62zM533.44 75.94h1.62v1.62h-1.62zM543.94 75.94h1.62v1.62h-1.62zM474.94 77.44h1.62v1.62h-1.62zM477.94 77.44h1.62v1.62h-1.62zM533.44 77.44h1.62v1.62h-1.62zM513.94 78.94h1.62v1.62h-1.62zM531.94 78.94h1.62v1.62h-1.62zM530.44 80.44h1.62v1.62h-1.62zM521.44 81.94h7.62v1.62h-7.62zM551.44 86.44h1.62v1.62h-1.62zM554.44 104.44h3.12v1.62h-3.12zM467.44 105.94h1.62v1.62h-1.62zM537.94 105.94h1.62v1.62h-1.62zM555.94 107.44h3.12v1.62h-3.12zM488.44 108.94h1.62v1.62h-1.62zM536.44 108.94h3.12v1.62h-3.12zM557.44 110.44h1.62v1.62h-1.62zM555.94 114.94h1.62v1.62h-1.62zM551.44 125.44h1.62v1.62h-1.62zM474.94 126.94h1.62v1.62h-1.62zM473.44 128.44h1.62v1.62h-1.62zM546.94 129.94h1.62v1.62h-1.62zM519.94 131.44h3.12v1.62h-3.12zM528.94 131.44h3.12v1.62h-3.12zM515.44 132.94h1.62v1.62h-1.62zM531.94 132.94h1.62v1.62h-1.62zM512.44 134.44h1.62v1.62h-1.62zM533.44 134.44h1.62v1.62h-1.62zM510.94 135.94h1.62v1.62h-1.62zM533.44 135.94h1.62v1.62h-1.62zM533.44 137.44h1.62v1.62h-1.62zM539.44 137.44h1.62v1.62h-1.62zM509.44 138.94h1.62v1.62h-1.62zM531.94 138.94h1.62v1.62h-1.62zM527.44 141.94h1.62v1.62h-1.62zM533.44 141.94h1.62v1.62h-1.62zM491.44 143.44h1.62v1.62h-1.62zM515.44 143.44h1.62v1.62h-1.62zM521.44 143.44h1.62v1.62h-1.62zM521.44 147.94h1.62v1.62h-1.62zM512.44 149.44h3.12v1.62h-3.12zM516.94 149.44h6.12v1.62h-6.12zM512.44 150.94h3.12v1.62h-3.12zM516.94 150.94h6.12v1.62h-6.12zM512.44 152.44h3.12v1.62h-3.12zM516.94 152.44h4.62v1.62h-4.62z"/><path fill="#121212" d="M510.94 51.94h3.12v1.62h-3.12zM515.44 51.94h1.62v1.62h-1.62zM504.94 53.44h1.62v1.62h-1.62zM510.94 53.44h3.12v1.62h-3.12zM515.44 53.44h1.62v1.62h-1.62zM504.94 54.94h1.62v1.62h-1.62zM527.44 60.94h1.62v1.62h-1.62zM483.94 63.94h3.12v1.62h-3.12zM533.44 63.94h1.62v1.62h-1.62zM485.44 65.44h3.12v1.62h-3.12zM500.44 65.44h1.62v1.62h-1.62zM515.44 65.44h1.62v1.62h-1.62zM524.44 65.44h1.62v1.62h-1.62zM498.94 66.94h1.62v1.62h-1.62zM512.44 66.94h1.62v1.62h-1.62zM534.94 66.94h1.62v1.62h-1.62zM497.44 68.44h1.62v1.62h-1.62zM510.94 68.44h1.62v1.62h-1.62zM530.44 68.44h1.62v1.62h-1.62zM477.94 69.94h3.12v1.62h-3.12zM531.94 69.94h1.62v1.62h-1.62zM477.94 71.44h3.12v1.62h-3.12zM509.44 71.44h1.62v1.62h-1.62zM533.44 71.44h1.62v1.62h-1.62zM494.44 72.94h1.62v1.62h-1.62zM552.94 72.94h1.62v1.62h-1.62zM509.44 74.44h1.62v1.62h-1.62zM534.94 74.44h1.62v1.62h-1.62zM542.44 74.44h1.62v1.62h-1.62zM534.94 75.94h1.62v1.62h-1.62zM510.94 77.44h1.62v1.62h-1.62zM534.94 77.44h1.62v1.62h-1.62zM474.94 78.94h1.62v1.62h-1.62zM512.44 78.94h1.62v1.62h-1.62zM533.44 78.94h1.62v1.62h-1.62zM515.44 80.44h1.62v1.62h-1.62zM531.94 80.44h1.62v1.62h-1.62zM518.44 81.94h3.12v1.62h-3.12zM528.94 81.94h3.12v1.62h-3.12zM548.44 81.94h1.62v1.62h-1.62zM552.94 89.44h3.12v1.62h-3.12zM554.44 92.44h1.62v1.62h-1.62zM557.44 101.44h1.62v1.62h-1.62zM552.94 104.44h1.62v1.62h-1.62zM536.44 105.94h1.62v1.62h-1.62zM473.44 107.44h1.62v1.62h-1.62zM539.44 108.94h3.12v1.62h-3.12zM558.94 108.94h1.62v1.62h-1.62zM473.44 126.94h1.62v1.62h-1.62zM518.44 131.44h1.62v1.62h-1.62zM531.94 131.44h3.12v1.62h-3.12zM545.44 131.44h1.62v1.62h-1.62zM513.94 132.94h1.62v1.62h-1.62zM533.44 132.94h3.12v1.62h-3.12zM483.94 134.44h1.62v1.62h-1.62zM534.94 134.44h1.62v1.62h-1.62zM543.94 134.44h1.62v1.62h-1.62zM534.94 135.94h1.62v1.62h-1.62zM540.94 135.94h1.62v1.62h-1.62zM509.44 137.44h1.62v1.62h-1.62zM509.44 140.44h1.62v1.62h-1.62zM530.44 140.44h1.62v1.62h-1.62zM492.94 141.94h1.62v1.62h-1.62zM510.94 141.94h1.62v1.62h-1.62zM500.44 143.44h1.62v1.62h-1.62zM522.94 143.44h1.62v1.62h-1.62zM491.44 144.94h1.62v1.62h-1.62zM501.94 144.94h1.62v1.62h-1.62zM515.44 149.44h1.62v1.62h-1.62zM515.44 150.94h1.62v1.62h-1.62zM522.94 150.94h1.62v1.62h-1.62zM515.44 152.44h1.62v1.62h-1.62z"/><path fill="#131313" d="M503.44 53.44h1.62v1.62h-1.62zM510.94 54.94h1.62v1.62h-1.62zM507.94 57.94h1.62v1.62h-1.62zM536.44 60.94h1.62v1.62h-1.62zM485.44 62.44h3.12v1.62h-3.12zM492.94 62.44h1.62v1.62h-1.62zM486.94 63.94h3.12v1.62h-3.12zM492.94 63.94h1.62v1.62h-1.62zM501.94 63.94h1.62v1.62h-1.62zM525.94 65.44h1.62v1.62h-1.62zM528.94 66.94h1.62v1.62h-1.62zM536.44 68.44h1.62v1.62h-1.62zM509.44 69.94h1.62v1.62h-1.62zM533.44 69.94h1.62v1.62h-1.62zM537.94 69.94h1.62v1.62h-1.62zM476.44 71.44h1.62v1.62h-1.62zM495.94 71.44h1.62v1.62h-1.62zM539.44 71.44h1.62v1.62h-1.62zM474.94 72.94h4.62v1.62h-4.62zM534.94 72.94h1.62v1.62h-1.62zM540.94 72.94h1.62v1.62h-1.62zM476.44 74.44h1.62v1.62h-1.62zM551.44 74.44h1.62v1.62h-1.62zM480.94 75.94h1.62v1.62h-1.62zM492.94 75.94h1.62v1.62h-1.62zM509.44 75.94h1.62v1.62h-1.62zM536.44 75.94h1.62v1.62h-1.62zM536.44 77.44h1.62v1.62h-1.62zM546.94 77.44h1.62v1.62h-1.62zM476.44 78.94h1.62v1.62h-1.62zM534.94 78.94h3.12v1.62h-3.12zM513.94 80.44h1.62v1.62h-1.62zM533.44 80.44h3.12v1.62h-3.12zM516.94 81.94h1.62v1.62h-1.62zM531.94 81.94h3.12v1.62h-3.12zM521.44 83.44h10.62v1.62h-10.62zM552.94 86.44h1.62v1.62h-1.62zM555.94 92.44h1.62v1.62h-1.62zM555.94 96.94h1.62v1.62h-1.62zM558.94 101.44h1.62v1.62h-1.62zM549.94 104.44h3.12v1.62h-3.12zM482.44 105.94h1.62v1.62h-1.62zM534.94 105.94h1.62v1.62h-1.62zM486.94 108.94h1.62v1.62h-1.62zM542.44 108.94h3.12v1.62h-3.12zM557.44 108.94h1.62v1.62h-1.62zM554.44 117.94h1.62v1.62h-1.62zM552.94 120.94h1.62v1.62h-1.62zM473.44 125.44h1.62v1.62h-1.62zM471.94 126.94h1.62v1.62h-1.62zM521.44 129.94h13.62v1.62h-13.62zM516.94 131.44h1.62v1.62h-1.62zM534.94 131.44h1.62v1.62h-1.62zM536.44 132.94h1.62v1.62h-1.62zM543.94 132.94h3.12v1.62h-3.12zM510.94 134.44h1.62v1.62h-1.62zM536.44 134.44h1.62v1.62h-1.62zM542.44 134.44h1.62v1.62h-1.62zM492.94 135.94h1.62v1.62h-1.62zM509.44 135.94h1.62v1.62h-1.62zM494.44 137.44h1.62v1.62h-1.62zM534.94 137.44h1.62v1.62h-1.62zM495.94 138.94h1.62v1.62h-1.62zM533.44 138.94h1.62v1.62h-1.62zM498.94 141.94h1.62v1.62h-1.62zM513.94 143.44h1.62v1.62h-1.62zM524.44 143.44h1.62v1.62h-1.62zM522.94 147.94h1.62v1.62h-1.62zM522.94 149.44h1.62v1.62h-1.62z"/><path fill="#141414" d="M503.44 54.94h1.62v1.62h-1.62zM503.44 56.44h1.62v1.62h-1.62zM506.44 59.44h1.62v1.62h-1.62zM536.44 59.44h1.62v1.62h-1.62zM504.94 60.94h1.62v1.62h-1.62zM488.44 62.44h1.62v1.62h-1.62zM503.44 62.44h1.62v1.62h-1.62zM513.94 65.44h1.62v1.62h-1.62zM510.94 66.94h1.62v1.62h-1.62zM530.44 66.94h1.62v1.62h-1.62zM489.94 68.44h1.62v1.62h-1.62zM509.44 68.44h1.62v1.62h-1.62zM531.94 68.44h1.62v1.62h-1.62zM542.44 68.44h1.62v1.62h-1.62zM488.44 69.94h1.62v1.62h-1.62zM486.94 71.44h1.62v1.62h-1.62zM534.94 71.44h1.62v1.62h-1.62zM507.94 72.94h1.62v1.62h-1.62zM536.44 72.94h1.62v1.62h-1.62zM473.44 74.44h3.12v1.62h-3.12zM536.44 74.44h1.62v1.62h-1.62zM549.94 74.44h1.62v1.62h-1.62zM471.94 75.94h4.62v1.62h-4.62zM537.94 75.94h1.62v1.62h-1.62zM471.94 77.44h3.12v1.62h-3.12zM479.44 77.44h1.62v1.62h-1.62zM537.94 77.44h1.62v1.62h-1.62zM473.44 78.94h1.62v1.62h-1.62zM491.44 78.94h1.62v1.62h-1.62zM510.94 78.94h1.62v1.62h-1.62zM537.94 78.94h1.62v1.62h-1.62zM473.44 80.44h1.62v1.62h-1.62zM512.44 80.44h1.62v1.62h-1.62zM536.44 80.44h3.12v1.62h-3.12zM546.94 80.44h1.62v1.62h-1.62zM515.44 81.94h1.62v1.62h-1.62zM534.94 81.94h4.62v1.62h-4.62zM518.44 83.44h3.12v1.62h-3.12zM531.94 83.44h6.12v1.62h-6.12zM524.44 84.94h10.62v1.62h-10.62zM549.94 84.94h1.62v1.62h-1.62zM462.94 99.94h1.62v1.62h-1.62zM465.94 102.94h1.62v1.62h-1.62zM557.44 102.94h1.62v1.62h-1.62zM546.94 104.44h3.12v1.62h-3.12zM476.44 105.94h1.62v1.62h-1.62zM531.94 105.94h3.12v1.62h-3.12zM545.44 108.94h7.62v1.62h-7.62zM555.94 117.94h1.62v1.62h-1.62zM470.44 125.44h3.12v1.62h-3.12zM549.94 125.44h1.62v1.62h-1.62zM488.44 128.44h1.62v1.62h-1.62zM524.44 128.44h13.62v1.62h-13.62zM518.44 129.94h3.12v1.62h-3.12zM534.94 129.94h4.62v1.62h-4.62zM489.94 131.44h1.62v1.62h-1.62zM515.44 131.44h1.62v1.62h-1.62zM536.44 131.44h3.12v1.62h-3.12zM482.44 132.94h1.62v1.62h-1.62zM512.44 132.94h1.62v1.62h-1.62zM537.94 132.94h1.62v1.62h-1.62zM537.94 134.44h1.62v1.62h-1.62zM536.44 135.94h1.62v1.62h-1.62zM542.44 135.94h1.62v1.62h-1.62zM507.94 138.94h1.62v1.62h-1.62zM491.44 140.44h1.62v1.62h-1.62zM497.44 140.44h1.62v1.62h-1.62zM531.94 140.44h1.62v1.62h-1.62zM528.94 141.94h1.62v1.62h-1.62zM492.94 143.44h1.62v1.62h-1.62zM512.44 143.44h1.62v1.62h-1.62zM504.94 146.44h1.62v1.62h-1.62zM507.94 147.94h1.62v1.62h-1.62zM510.94 149.44h1.62v1.62h-1.62zM510.94 150.94h1.62v1.62h-1.62zM524.44 150.94h1.62v1.62h-1.62zM510.94 152.44h1.62v1.62h-1.62z"/><path fill="#151515" d="M516.94 51.94h1.62v1.62h-1.62zM501.94 53.44h1.62v1.62h-1.62zM516.94 53.44h1.62v1.62h-1.62zM488.44 60.94h1.62v1.62h-1.62zM489.94 62.44h1.62v1.62h-1.62zM528.94 62.44h1.62v1.62h-1.62zM518.44 63.94h6.12v1.62h-6.12zM527.44 65.44h1.62v1.62h-1.62zM491.44 66.94h1.62v1.62h-1.62zM533.44 68.44h1.62v1.62h-1.62zM495.94 69.94h3.12v1.62h-3.12zM507.94 69.94h1.62v1.62h-1.62zM534.94 69.94h1.62v1.62h-1.62zM507.94 71.44h1.62v1.62h-1.62zM536.44 71.44h1.62v1.62h-1.62zM485.44 72.94h1.62v1.62h-1.62zM507.94 74.44h1.62v1.62h-1.62zM537.94 74.44h1.62v1.62h-1.62zM552.94 74.44h1.62v1.62h-1.62zM539.44 75.94h1.62v1.62h-1.62zM470.44 77.44h1.62v1.62h-1.62zM491.44 77.44h1.62v1.62h-1.62zM509.44 77.44h1.62v1.62h-1.62zM539.44 77.44h1.62v1.62h-1.62zM468.94 78.94h4.62v1.62h-4.62zM539.44 78.94h3.12v1.62h-3.12zM467.44 80.44h6.12v1.62h-6.12zM474.94 80.44h1.62v1.62h-1.62zM489.94 80.44h1.62v1.62h-1.62zM539.44 80.44h3.12v1.62h-3.12zM467.44 81.94h6.12v1.62h-6.12zM489.94 81.94h1.62v1.62h-1.62zM513.94 81.94h1.62v1.62h-1.62zM539.44 81.94h4.62v1.62h-4.62zM465.94 83.44h4.62v1.62h-4.62zM516.94 83.44h1.62v1.62h-1.62zM537.94 83.44h7.62v1.62h-7.62zM488.44 84.94h1.62v1.62h-1.62zM519.94 84.94h4.62v1.62h-4.62zM534.94 84.94h10.62v1.62h-10.62zM524.44 86.44h22.62v1.62h-22.62zM486.94 87.94h1.62v1.62h-1.62zM531.94 87.94h15.12v1.62h-15.12zM536.44 89.44h12.12v1.62h-12.12zM539.44 90.94h10.62v1.62h-10.62zM540.94 92.44h9.12v1.62h-9.12zM542.44 93.94h9.12v1.62h-9.12zM554.44 93.94h1.62v1.62h-1.62zM543.94 95.44h7.62v1.62h-7.62zM543.94 96.94h9.12v1.62h-9.12zM543.94 98.44h9.12v1.62h-9.12zM545.44 99.94h9.12v1.62h-9.12zM545.44 101.44h9.12v1.62h-9.12zM545.44 102.94h9.12v1.62h-9.12zM563.44 102.94h1.62v1.62h-1.62zM543.94 104.44h3.12v1.62h-3.12zM530.44 105.94h1.62v1.62h-1.62zM483.94 108.94h3.12v1.62h-3.12zM552.94 108.94h3.12v1.62h-3.12zM545.44 110.44h9.12v1.62h-9.12zM545.44 111.94h9.12v1.62h-9.12zM545.44 113.44h7.62v1.62h-7.62zM555.94 113.44h1.62v1.62h-1.62zM543.94 114.94h9.12v1.62h-9.12zM543.94 116.44h7.62v1.62h-7.62zM543.94 117.94h7.62v1.62h-7.62zM542.44 119.44h7.62v1.62h-7.62zM540.94 120.94h9.12v1.62h-9.12zM554.44 120.94h1.62v1.62h-1.62zM539.44 122.44h9.12v1.62h-9.12zM468.94 123.94h4.62v1.62h-4.62zM536.44 123.94h10.62v1.62h-10.62zM486.94 125.44h1.62v1.62h-1.62zM531.94 125.44h15.12v1.62h-15.12zM525.94 126.94h19.62v1.62h-19.62zM521.44 128.44h3.12v1.62h-3.12zM537.94 128.44h6.12v1.62h-6.12zM516.94 129.94h1.62v1.62h-1.62zM539.44 129.94h4.62v1.62h-4.62zM480.94 131.44h1.62v1.62h-1.62zM513.94 131.44h1.62v1.62h-1.62zM539.44 131.44h3.12v1.62h-3.12zM546.94 131.44h1.62v1.62h-1.62zM491.44 132.94h1.62v1.62h-1.62zM539.44 132.94h1.62v1.62h-1.62zM509.44 134.44h1.62v1.62h-1.62zM539.44 134.44h1.62v1.62h-1.62zM537.94 135.94h1.62v1.62h-1.62zM507.94 137.44h1.62v1.62h-1.62zM536.44 137.44h1.62v1.62h-1.62zM534.94 138.94h1.62v1.62h-1.62zM507.94 140.44h1.62v1.62h-1.62zM534.94 140.44h1.62v1.62h-1.62zM509.44 141.94h1.62v1.62h-1.62zM525.94 143.44h1.62v1.62h-1.62zM492.94 144.94h1.62v1.62h-1.62zM524.44 147.94h1.62v1.62h-1.62zM524.44 149.44h1.62v1.62h-1.62z"/><path fill="#161616" d="M501.94 54.94h1.62v1.62h-1.62zM509.44 56.44h1.62v1.62h-1.62zM489.94 59.44h1.62v1.62h-1.62zM524.44 59.44h1.62v1.62h-1.62zM489.94 60.94h1.62v1.62h-1.62zM534.94 60.94h1.62v1.62h-1.62zM491.44 62.44h1.62v1.62h-1.62zM494.44 62.44h1.62v1.62h-1.62zM501.94 62.44h1.62v1.62h-1.62zM515.44 63.94h3.12v1.62h-3.12zM524.44 63.94h1.62v1.62h-1.62zM492.94 65.44h1.62v1.62h-1.62zM512.44 65.44h1.62v1.62h-1.62zM528.94 65.44h1.62v1.62h-1.62zM531.94 66.94h1.62v1.62h-1.62zM536.44 69.94h1.62v1.62h-1.62zM537.94 71.44h1.62v1.62h-1.62zM537.94 72.94h1.62v1.62h-1.62zM483.94 74.44h1.62v1.62h-1.62zM492.94 74.44h3.12v1.62h-3.12zM539.44 74.44h1.62v1.62h-1.62zM507.94 75.94h1.62v1.62h-1.62zM540.94 75.94h1.62v1.62h-1.62zM540.94 77.44h1.62v1.62h-1.62zM543.94 77.44h1.62v1.62h-1.62zM477.94 78.94h1.62v1.62h-1.62zM509.44 78.94h1.62v1.62h-1.62zM542.44 78.94h1.62v1.62h-1.62zM545.44 78.94h1.62v1.62h-1.62zM510.94 80.44h1.62v1.62h-1.62zM542.44 80.44h3.12v1.62h-3.12zM473.44 81.94h1.62v1.62h-1.62zM512.44 81.94h1.62v1.62h-1.62zM543.94 81.94h1.62v1.62h-1.62zM470.44 83.44h1.62v1.62h-1.62zM488.44 83.44h1.62v1.62h-1.62zM515.44 83.44h1.62v1.62h-1.62zM545.44 83.44h1.62v1.62h-1.62zM548.44 83.44h1.62v1.62h-1.62zM464.44 84.94h6.12v1.62h-6.12zM516.94 84.94h3.12v1.62h-3.12zM545.44 84.94h3.12v1.62h-3.12zM464.44 86.44h4.62v1.62h-4.62zM521.44 86.44h3.12v1.62h-3.12zM546.94 86.44h1.62v1.62h-1.62zM462.94 87.94h4.62v1.62h-4.62zM524.44 87.94h7.62v1.62h-7.62zM546.94 87.94h3.12v1.62h-3.12zM551.44 87.94h1.62v1.62h-1.62zM462.94 89.44h4.62v1.62h-4.62zM527.44 89.44h9.12v1.62h-9.12zM548.44 89.44h1.62v1.62h-1.62zM461.44 90.94h4.62v1.62h-4.62zM530.44 90.94h9.12v1.62h-9.12zM549.94 90.94h1.62v1.62h-1.62zM552.94 90.94h1.62v1.62h-1.62zM461.44 92.44h4.62v1.62h-4.62zM485.44 92.44h1.62v1.62h-1.62zM533.44 92.44h7.62v1.62h-7.62zM549.94 92.44h1.62v1.62h-1.62zM461.44 93.94h3.12v1.62h-3.12zM534.94 93.94h7.62v1.62h-7.62zM551.44 93.94h1.62v1.62h-1.62zM536.44 95.44h7.62v1.62h-7.62zM551.44 95.44h1.62v1.62h-1.62zM483.94 96.94h1.62v1.62h-1.62zM537.94 96.94h6.12v1.62h-6.12zM552.94 96.94h1.62v1.62h-1.62zM537.94 98.44h6.12v1.62h-6.12zM552.94 98.44h1.62v1.62h-1.62zM555.94 98.44h1.62v1.62h-1.62zM539.44 99.94h6.12v1.62h-6.12zM554.44 99.94h1.62v1.62h-1.62zM539.44 101.44h6.12v1.62h-6.12zM554.44 101.44h1.62v1.62h-1.62zM540.94 102.94h4.62v1.62h-4.62zM554.44 102.94h1.62v1.62h-1.62zM482.44 104.44h1.62v1.62h-1.62zM539.44 104.44h4.62v1.62h-4.62zM528.94 105.94h1.62v1.62h-1.62zM482.44 110.44h1.62v1.62h-1.62zM540.94 110.44h4.62v1.62h-4.62zM554.44 110.44h1.62v1.62h-1.62zM539.44 111.94h6.12v1.62h-6.12zM554.44 111.94h1.62v1.62h-1.62zM539.44 113.44h6.12v1.62h-6.12zM552.94 113.44h1.62v1.62h-1.62zM539.44 114.94h4.62v1.62h-4.62zM552.94 114.94h1.62v1.62h-1.62zM537.94 116.44h6.12v1.62h-6.12zM551.44 116.44h1.62v1.62h-1.62zM554.44 116.44h1.62v1.62h-1.62zM483.94 117.94h1.62v1.62h-1.62zM536.44 117.94h7.62v1.62h-7.62zM551.44 117.94h1.62v1.62h-1.62zM534.94 119.44h7.62v1.62h-7.62zM549.94 119.44h1.62v1.62h-1.62zM467.44 120.94h4.62v1.62h-4.62zM533.44 120.94h7.62v1.62h-7.62zM549.94 120.94h1.62v1.62h-1.62zM467.44 122.44h4.62v1.62h-4.62zM485.44 122.44h1.62v1.62h-1.62zM531.94 122.44h7.62v1.62h-7.62zM548.44 122.44h1.62v1.62h-1.62zM551.44 122.44h1.62v1.62h-1.62zM528.94 123.94h7.62v1.62h-7.62zM546.94 123.94h3.12v1.62h-3.12zM525.94 125.44h6.12v1.62h-6.12zM546.94 125.44h1.62v1.62h-1.62zM522.94 126.94h3.12v1.62h-3.12zM545.44 126.94h1.62v1.62h-1.62zM548.44 126.94h1.62v1.62h-1.62zM518.44 128.44h3.12v1.62h-3.12zM543.94 128.44h1.62v1.62h-1.62zM515.44 129.94h1.62v1.62h-1.62zM543.94 129.94h1.62v1.62h-1.62zM512.44 131.44h1.62v1.62h-1.62zM542.44 131.44h1.62v1.62h-1.62zM510.94 132.94h1.62v1.62h-1.62zM540.94 132.94h1.62v1.62h-1.62zM491.44 134.44h1.62v1.62h-1.62zM507.94 135.94h1.62v1.62h-1.62zM537.94 137.44h1.62v1.62h-1.62zM489.94 138.94h1.62v1.62h-1.62zM536.44 138.94h1.62v1.62h-1.62zM533.44 140.44h1.62v1.62h-1.62zM530.44 141.94h1.62v1.62h-1.62zM494.44 143.44h1.62v1.62h-1.62zM510.94 143.44h1.62v1.62h-1.62zM530.44 143.44h1.62v1.62h-1.62z"/><path fill="#171717" d="M501.94 56.44h1.62v1.62h-1.62zM518.44 56.44h1.62v1.62h-1.62zM491.44 59.44h1.62v1.62h-1.62zM534.94 59.44h1.62v1.62h-1.62zM491.44 60.94h1.62v1.62h-1.62zM494.44 60.94h1.62v1.62h-1.62zM503.44 60.94h1.62v1.62h-1.62zM494.44 63.94h1.62v1.62h-1.62zM500.44 63.94h1.62v1.62h-1.62zM525.94 63.94h1.62v1.62h-1.62zM530.44 63.94h1.62v1.62h-1.62zM510.94 65.44h1.62v1.62h-1.62zM530.44 65.44h3.12v1.62h-3.12zM509.44 66.94h1.62v1.62h-1.62zM533.44 66.94h1.62v1.62h-1.62zM507.94 68.44h1.62v1.62h-1.62zM534.94 68.44h1.62v1.62h-1.62zM543.94 69.94h1.62v1.62h-1.62zM506.44 71.44h1.62v1.62h-1.62zM506.44 72.94h1.62v1.62h-1.62zM539.44 72.94h1.62v1.62h-1.62zM506.44 74.44h1.62v1.62h-1.62zM540.94 74.44h1.62v1.62h-1.62zM554.44 74.44h1.62v1.62h-1.62zM482.44 75.94h1.62v1.62h-1.62zM542.44 75.94h1.62v1.62h-1.62zM551.44 75.94h1.62v1.62h-1.62zM507.94 77.44h1.62v1.62h-1.62zM542.44 77.44h1.62v1.62h-1.62zM543.94 78.94h1.62v1.62h-1.62zM476.44 80.44h1.62v1.62h-1.62zM509.44 80.44h1.62v1.62h-1.62zM545.44 80.44h1.62v1.62h-1.62zM510.94 81.94h1.62v1.62h-1.62zM545.44 81.94h3.12v1.62h-3.12zM471.94 83.44h1.62v1.62h-1.62zM513.94 83.44h1.62v1.62h-1.62zM546.94 83.44h1.62v1.62h-1.62zM470.44 84.94h1.62v1.62h-1.62zM515.44 84.94h1.62v1.62h-1.62zM548.44 84.94h1.62v1.62h-1.62zM468.94 86.44h1.62v1.62h-1.62zM518.44 86.44h3.12v1.62h-3.12zM548.44 86.44h3.12v1.62h-3.12zM467.44 87.94h1.62v1.62h-1.62zM519.94 87.94h4.62v1.62h-4.62zM549.94 87.94h1.62v1.62h-1.62zM486.94 89.44h1.62v1.62h-1.62zM522.94 89.44h4.62v1.62h-4.62zM549.94 89.44h3.12v1.62h-3.12zM465.94 90.94h1.62v1.62h-1.62zM485.44 90.94h1.62v1.62h-1.62zM525.94 90.94h4.62v1.62h-4.62zM551.44 90.94h1.62v1.62h-1.62zM527.44 92.44h6.12v1.62h-6.12zM551.44 92.44h3.12v1.62h-3.12zM459.94 93.94h1.62v1.62h-1.62zM464.44 93.94h1.62v1.62h-1.62zM528.94 93.94h6.12v1.62h-6.12zM552.94 93.94h1.62v1.62h-1.62zM459.94 95.44h4.62v1.62h-4.62zM530.44 95.44h6.12v1.62h-6.12zM552.94 95.44h3.12v1.62h-3.12zM459.94 96.94h4.62v1.62h-4.62zM531.94 96.94h6.12v1.62h-6.12zM554.44 96.94h1.62v1.62h-1.62zM459.94 98.44h4.62v1.62h-4.62zM483.94 98.44h1.62v1.62h-1.62zM533.44 98.44h4.62v1.62h-4.62zM554.44 98.44h1.62v1.62h-1.62zM533.44 99.94h6.12v1.62h-6.12zM555.94 99.94h1.62v1.62h-1.62zM534.94 101.44h4.62v1.62h-4.62zM555.94 101.44h1.62v1.62h-1.62zM482.44 102.94h1.62v1.62h-1.62zM534.94 102.94h6.12v1.62h-6.12zM555.94 102.94h1.62v1.62h-1.62zM459.94 104.44h4.62v1.62h-4.62zM470.44 104.44h1.62v1.62h-1.62zM536.44 104.44h3.12v1.62h-3.12zM527.44 105.94h1.62v1.62h-1.62zM555.94 108.94h1.62v1.62h-1.62zM534.94 110.44h6.12v1.62h-6.12zM555.94 110.44h1.62v1.62h-1.62zM482.44 111.94h1.62v1.62h-1.62zM534.94 111.94h4.62v1.62h-4.62zM555.94 111.94h1.62v1.62h-1.62zM465.94 113.44h1.62v1.62h-1.62zM534.94 113.44h4.62v1.62h-4.62zM554.44 113.44h1.62v1.62h-1.62zM462.94 114.94h4.62v1.62h-4.62zM533.44 114.94h6.12v1.62h-6.12zM554.44 114.94h1.62v1.62h-1.62zM464.44 116.44h4.62v1.62h-4.62zM483.94 116.44h1.62v1.62h-1.62zM533.44 116.44h4.62v1.62h-4.62zM552.94 116.44h1.62v1.62h-1.62zM464.44 117.94h4.62v1.62h-4.62zM531.94 117.94h4.62v1.62h-4.62zM552.94 117.94h1.62v1.62h-1.62zM465.94 119.44h4.62v1.62h-4.62zM530.44 119.44h4.62v1.62h-4.62zM551.44 119.44h3.12v1.62h-3.12zM485.44 120.94h1.62v1.62h-1.62zM528.94 120.94h4.62v1.62h-4.62zM551.44 120.94h1.62v1.62h-1.62zM471.94 122.44h1.62v1.62h-1.62zM527.44 122.44h4.62v1.62h-4.62zM549.94 122.44h1.62v1.62h-1.62zM524.44 123.94h4.62v1.62h-4.62zM549.94 123.94h1.62v1.62h-1.62zM521.44 125.44h4.62v1.62h-4.62zM548.44 125.44h1.62v1.62h-1.62zM519.94 126.94h3.12v1.62h-3.12zM546.94 126.94h1.62v1.62h-1.62zM477.94 128.44h1.62v1.62h-1.62zM516.94 128.44h1.62v1.62h-1.62zM545.44 128.44h3.12v1.62h-3.12zM479.44 129.94h1.62v1.62h-1.62zM513.94 129.94h1.62v1.62h-1.62zM545.44 129.94h1.62v1.62h-1.62zM510.94 131.44h1.62v1.62h-1.62zM543.94 131.44h1.62v1.62h-1.62zM509.44 132.94h1.62v1.62h-1.62zM542.44 132.94h1.62v1.62h-1.62zM507.94 134.44h1.62v1.62h-1.62zM540.94 134.44h1.62v1.62h-1.62zM539.44 135.94h1.62v1.62h-1.62zM506.44 137.44h1.62v1.62h-1.62zM506.44 138.94h1.62v1.62h-1.62zM507.94 141.94h1.62v1.62h-1.62zM531.94 141.94h1.62v1.62h-1.62zM527.44 143.44h1.62v1.62h-1.62zM494.44 144.94h1.62v1.62h-1.62zM515.44 144.94h7.62v1.62h-7.62zM525.94 149.44h1.62v1.62h-1.62z"/><path fill="#181818" d="M500.44 53.44h1.62v1.62h-1.62zM500.44 54.94h1.62v1.62h-1.62zM510.94 56.44h1.62v1.62h-1.62zM534.94 57.94h1.62v1.62h-1.62zM492.94 59.44h1.62v1.62h-1.62zM492.94 60.94h1.62v1.62h-1.62zM495.94 60.94h1.62v1.62h-1.62zM533.44 60.94h1.62v1.62h-1.62zM534.94 62.44h1.62v1.62h-1.62zM513.94 63.94h1.62v1.62h-1.62zM527.44 63.94h1.62v1.62h-1.62zM498.94 68.44h1.62v1.62h-1.62zM506.44 69.94h1.62v1.62h-1.62zM506.44 75.94h1.62v1.62h-1.62zM552.94 75.94h1.62v1.62h-1.62zM480.94 77.44h1.62v1.62h-1.62zM479.44 78.94h1.62v1.62h-1.62zM507.94 78.94h1.62v1.62h-1.62zM548.44 78.94h1.62v1.62h-1.62zM474.94 81.94h1.62v1.62h-1.62zM473.44 83.44h1.62v1.62h-1.62zM512.44 83.44h1.62v1.62h-1.62zM551.44 83.44h1.62v1.62h-1.62zM471.94 84.94h1.62v1.62h-1.62zM513.94 84.94h1.62v1.62h-1.62zM470.44 86.44h1.62v1.62h-1.62zM486.94 86.44h1.62v1.62h-1.62zM515.44 86.44h3.12v1.62h-3.12zM468.94 87.94h1.62v1.62h-1.62zM516.94 87.94h3.12v1.62h-3.12zM467.44 89.44h1.62v1.62h-1.62zM519.94 89.44h3.12v1.62h-3.12zM521.44 90.94h4.62v1.62h-4.62zM465.94 92.44h1.62v1.62h-1.62zM522.94 92.44h4.62v1.62h-4.62zM485.44 93.94h1.62v1.62h-1.62zM524.44 93.94h4.62v1.62h-4.62zM464.44 95.44h1.62v1.62h-1.62zM483.94 95.44h1.62v1.62h-1.62zM525.94 95.44h4.62v1.62h-4.62zM557.44 95.44h1.62v1.62h-1.62zM527.44 96.94h4.62v1.62h-4.62zM528.94 98.44h4.62v1.62h-4.62zM530.44 99.94h3.12v1.62h-3.12zM530.44 101.44h4.62v1.62h-4.62zM531.94 102.94h3.12v1.62h-3.12zM531.94 104.44h4.62v1.62h-4.62zM459.94 105.94h4.62v1.62h-4.62zM524.44 105.94h3.12v1.62h-3.12zM459.94 107.44h4.62v1.62h-4.62zM471.94 107.44h1.62v1.62h-1.62zM459.94 108.94h4.62v1.62h-4.62zM480.94 108.94h1.62v1.62h-1.62zM461.44 110.44h4.62v1.62h-4.62zM530.44 110.44h4.62v1.62h-4.62zM558.94 110.44h1.62v1.62h-1.62zM461.44 111.94h4.62v1.62h-4.62zM531.94 111.94h3.12v1.62h-3.12zM462.94 113.44h3.12v1.62h-3.12zM482.44 113.44h1.62v1.62h-1.62zM530.44 113.44h4.62v1.62h-4.62zM530.44 114.94h3.12v1.62h-3.12zM557.44 114.94h1.62v1.62h-1.62zM528.94 116.44h4.62v1.62h-4.62zM468.94 117.94h1.62v1.62h-1.62zM527.44 117.94h4.62v1.62h-4.62zM525.94 119.44h4.62v1.62h-4.62zM524.44 120.94h4.62v1.62h-4.62zM522.94 122.44h4.62v1.62h-4.62zM473.44 123.94h1.62v1.62h-1.62zM521.44 123.94h3.12v1.62h-3.12zM474.94 125.44h1.62v1.62h-1.62zM518.44 125.44h3.12v1.62h-3.12zM476.44 126.94h1.62v1.62h-1.62zM486.94 126.94h1.62v1.62h-1.62zM516.94 126.94h3.12v1.62h-3.12zM513.94 128.44h3.12v1.62h-3.12zM512.44 129.94h1.62v1.62h-1.62zM506.44 135.94h1.62v1.62h-1.62zM543.94 135.94h1.62v1.62h-1.62zM488.44 137.44h1.62v1.62h-1.62zM542.44 137.44h3.12v1.62h-3.12zM543.94 138.94h1.62v1.62h-1.62zM506.44 140.44h1.62v1.62h-1.62zM509.44 143.44h1.62v1.62h-1.62zM528.94 143.44h1.62v1.62h-1.62zM513.94 144.94h1.62v1.62h-1.62zM522.94 144.94h1.62v1.62h-1.62zM494.44 146.44h1.62v1.62h-1.62zM525.94 147.94h1.62v1.62h-1.62z"/><path fill="#191919" d="M500.44 56.44h1.62v1.62h-1.62zM492.94 57.94h1.62v1.62h-1.62zM521.44 57.94h1.62v1.62h-1.62zM494.44 59.44h1.62v1.62h-1.62zM504.94 59.44h1.62v1.62h-1.62zM495.94 62.44h1.62v1.62h-1.62zM516.94 62.44h9.12v1.62h-9.12zM531.94 62.44h1.62v1.62h-1.62zM512.44 63.94h1.62v1.62h-1.62zM528.94 63.94h1.62v1.62h-1.62zM536.44 63.94h1.62v1.62h-1.62zM498.94 65.44h1.62v1.62h-1.62zM509.44 65.44h1.62v1.62h-1.62zM507.94 66.94h1.62v1.62h-1.62zM491.44 68.44h1.62v1.62h-1.62zM506.44 68.44h1.62v1.62h-1.62zM489.94 69.94h1.62v1.62h-1.62zM488.44 71.44h1.62v1.62h-1.62zM545.44 71.44h1.62v1.62h-1.62zM486.94 72.94h1.62v1.62h-1.62zM504.94 72.94h1.62v1.62h-1.62zM504.94 74.44h1.62v1.62h-1.62zM554.44 75.94h1.62v1.62h-1.62zM492.94 77.44h1.62v1.62h-1.62zM506.44 77.44h1.62v1.62h-1.62zM506.44 78.94h1.62v1.62h-1.62zM477.94 80.44h1.62v1.62h-1.62zM507.94 80.44h1.62v1.62h-1.62zM509.44 81.94h1.62v1.62h-1.62zM510.94 83.44h1.62v1.62h-1.62zM512.44 84.94h1.62v1.62h-1.62zM513.94 86.44h1.62v1.62h-1.62zM515.44 87.94h1.62v1.62h-1.62zM516.94 89.44h3.12v1.62h-3.12zM467.44 90.94h1.62v1.62h-1.62zM518.44 90.94h3.12v1.62h-3.12zM519.94 92.44h3.12v1.62h-3.12zM521.44 93.94h3.12v1.62h-3.12zM522.94 95.44h3.12v1.62h-3.12zM464.44 96.94h1.62v1.62h-1.62zM524.44 96.94h3.12v1.62h-3.12zM524.44 98.44h4.62v1.62h-4.62zM525.94 99.94h4.62v1.62h-4.62zM464.44 101.44h1.62v1.62h-1.62zM482.44 101.44h1.62v1.62h-1.62zM527.44 101.44h3.12v1.62h-3.12zM527.44 102.94h4.62v1.62h-4.62zM528.94 104.44h3.12v1.62h-3.12zM465.94 105.94h1.62v1.62h-1.62zM521.44 105.94h3.12v1.62h-3.12zM464.44 108.94h1.62v1.62h-1.62zM525.94 110.44h4.62v1.62h-4.62zM527.44 111.94h4.62v1.62h-4.62zM527.44 113.44h3.12v1.62h-3.12zM467.44 114.94h1.62v1.62h-1.62zM525.94 114.94h4.62v1.62h-4.62zM525.94 116.44h3.12v1.62h-3.12zM524.44 117.94h3.12v1.62h-3.12zM483.94 119.44h1.62v1.62h-1.62zM522.94 119.44h3.12v1.62h-3.12zM521.44 120.94h3.12v1.62h-3.12zM519.94 122.44h3.12v1.62h-3.12zM518.44 123.94h3.12v1.62h-3.12zM516.94 125.44h1.62v1.62h-1.62zM513.94 126.94h3.12v1.62h-3.12zM512.44 128.44h1.62v1.62h-1.62zM488.44 129.94h3.12v1.62h-3.12zM510.94 129.94h1.62v1.62h-1.62zM548.44 129.94h1.62v1.62h-1.62zM509.44 131.44h1.62v1.62h-1.62zM507.94 132.94h1.62v1.62h-1.62zM492.94 134.44h1.62v1.62h-1.62zM506.44 134.44h1.62v1.62h-1.62zM545.44 134.44h1.62v1.62h-1.62zM486.94 135.94h1.62v1.62h-1.62zM545.44 135.94h3.12v1.62h-3.12zM504.94 137.44h1.62v1.62h-1.62zM540.94 137.44h1.62v1.62h-1.62zM545.44 137.44h3.12v1.62h-3.12zM504.94 138.94h1.62v1.62h-1.62zM540.94 138.94h3.12v1.62h-3.12zM540.94 140.44h3.12v1.62h-3.12zM495.94 143.44h1.62v1.62h-1.62zM495.94 144.94h1.62v1.62h-1.62zM512.44 144.94h1.62v1.62h-1.62zM524.44 144.94h1.62v1.62h-1.62zM527.44 144.94h1.62v1.62h-1.62zM524.44 146.44h3.12v1.62h-3.12z"/><path fill="#1a1a1a" d="M497.44 54.94h3.12v1.62h-3.12zM494.44 56.44h1.62v1.62h-1.62zM498.94 56.44h1.62v1.62h-1.62zM494.44 57.94h3.12v1.62h-3.12zM498.94 57.94h1.62v1.62h-1.62zM495.94 59.44h1.62v1.62h-1.62zM533.44 59.44h1.62v1.62h-1.62zM525.94 60.94h1.62v1.62h-1.62zM515.44 62.44h1.62v1.62h-1.62zM525.94 62.44h3.12v1.62h-3.12zM510.94 63.94h1.62v1.62h-1.62zM494.44 65.44h1.62v1.62h-1.62zM537.94 65.44h1.62v1.62h-1.62zM492.94 66.94h1.62v1.62h-1.62zM539.44 68.44h1.62v1.62h-1.62zM504.94 69.94h1.62v1.62h-1.62zM540.94 69.94h1.62v1.62h-1.62zM494.44 71.44h1.62v1.62h-1.62zM504.94 71.44h1.62v1.62h-1.62zM542.44 71.44h1.62v1.62h-1.62zM495.94 72.94h1.62v1.62h-1.62zM485.44 74.44h1.62v1.62h-1.62zM483.94 75.94h1.62v1.62h-1.62zM504.94 75.94h1.62v1.62h-1.62zM504.94 77.44h1.62v1.62h-1.62zM552.94 77.44h1.62v1.62h-1.62zM491.44 80.44h1.62v1.62h-1.62zM506.44 80.44h1.62v1.62h-1.62zM476.44 81.94h1.62v1.62h-1.62zM507.94 81.94h1.62v1.62h-1.62zM474.94 83.44h1.62v1.62h-1.62zM509.44 83.44h1.62v1.62h-1.62zM473.44 84.94h1.62v1.62h-1.62zM509.44 84.94h3.12v1.62h-3.12zM471.94 86.44h1.62v1.62h-1.62zM488.44 86.44h1.62v1.62h-1.62zM510.94 86.44h3.12v1.62h-3.12zM470.44 87.94h1.62v1.62h-1.62zM512.44 87.94h3.12v1.62h-3.12zM468.94 89.44h1.62v1.62h-1.62zM513.94 89.44h3.12v1.62h-3.12zM515.44 90.94h3.12v1.62h-3.12zM467.44 92.44h1.62v1.62h-1.62zM516.94 92.44h3.12v1.62h-3.12zM465.94 93.94h1.62v1.62h-1.62zM518.44 93.94h3.12v1.62h-3.12zM519.94 95.44h3.12v1.62h-3.12zM519.94 96.94h4.62v1.62h-4.62zM464.44 98.44h1.62v1.62h-1.62zM521.44 98.44h3.12v1.62h-3.12zM483.94 99.94h1.62v1.62h-1.62zM522.94 99.94h3.12v1.62h-3.12zM558.94 99.94h1.62v1.62h-1.62zM522.94 101.44h4.62v1.62h-4.62zM524.44 102.94h3.12v1.62h-3.12zM524.44 104.44h4.62v1.62h-4.62zM477.94 105.94h1.62v1.62h-1.62zM519.94 105.94h1.62v1.62h-1.62zM464.44 107.44h1.62v1.62h-1.62zM522.94 110.44h3.12v1.62h-3.12zM465.94 111.94h1.62v1.62h-1.62zM524.44 111.94h3.12v1.62h-3.12zM524.44 113.44h3.12v1.62h-3.12zM522.94 114.94h3.12v1.62h-3.12zM521.44 116.44h4.62v1.62h-4.62zM521.44 117.94h3.12v1.62h-3.12zM470.44 119.44h1.62v1.62h-1.62zM519.94 119.44h3.12v1.62h-3.12zM518.44 120.94h3.12v1.62h-3.12zM516.94 122.44h3.12v1.62h-3.12zM486.94 123.94h1.62v1.62h-1.62zM515.44 123.94h3.12v1.62h-3.12zM513.94 125.44h3.12v1.62h-3.12zM488.44 126.94h1.62v1.62h-1.62zM512.44 126.94h1.62v1.62h-1.62zM510.94 128.44h1.62v1.62h-1.62zM509.44 129.94h1.62v1.62h-1.62zM507.94 131.44h1.62v1.62h-1.62zM506.44 132.94h1.62v1.62h-1.62zM485.44 134.44h1.62v1.62h-1.62zM546.94 134.44h3.12v1.62h-3.12zM504.94 135.94h1.62v1.62h-1.62zM548.44 135.94h1.62v1.62h-1.62zM495.94 140.44h1.62v1.62h-1.62zM504.94 140.44h1.62v1.62h-1.62zM539.44 140.44h1.62v1.62h-1.62zM497.44 141.94h1.62v1.62h-1.62zM506.44 141.94h1.62v1.62h-1.62zM539.44 141.94h3.12v1.62h-3.12zM507.94 143.44h1.62v1.62h-1.62zM503.44 144.94h1.62v1.62h-1.62zM525.94 144.94h1.62v1.62h-1.62zM495.94 146.44h1.62v1.62h-1.62zM527.44 149.44h1.62v1.62h-1.62zM509.44 152.44h1.62v1.62h-1.62z"/><path fill="#1b1b1b" d="M495.94 56.44h3.12v1.62h-3.12zM497.44 57.94h1.62v1.62h-1.62zM524.44 57.94h1.62v1.62h-1.62zM533.44 57.94h1.62v1.62h-1.62zM497.44 59.44h1.62v1.62h-1.62zM497.44 60.94h1.62v1.62h-1.62zM513.94 62.44h1.62v1.62h-1.62zM495.94 63.94h1.62v1.62h-1.62zM507.94 65.44h1.62v1.62h-1.62zM500.44 66.94h1.62v1.62h-1.62zM506.44 66.94h1.62v1.62h-1.62zM537.94 66.94h3.12v1.62h-3.12zM504.94 68.44h1.62v1.62h-1.62zM503.44 72.94h1.62v1.62h-1.62zM546.94 72.94h1.62v1.62h-1.62zM503.44 74.44h1.62v1.62h-1.62zM555.94 75.94h1.62v1.62h-1.62zM482.44 77.44h1.62v1.62h-1.62zM554.44 77.44h1.62v1.62h-1.62zM480.94 78.94h1.62v1.62h-1.62zM504.94 78.94h1.62v1.62h-1.62zM479.44 80.44h1.62v1.62h-1.62zM477.94 81.94h1.62v1.62h-1.62zM506.44 81.94h1.62v1.62h-1.62zM489.94 83.44h1.62v1.62h-1.62zM507.94 83.44h1.62v1.62h-1.62zM507.94 84.94h1.62v1.62h-1.62zM509.44 86.44h1.62v1.62h-1.62zM471.94 87.94h1.62v1.62h-1.62zM510.94 87.94h1.62v1.62h-1.62zM470.44 89.44h1.62v1.62h-1.62zM512.44 89.44h1.62v1.62h-1.62zM468.94 90.94h1.62v1.62h-1.62zM512.44 90.94h3.12v1.62h-3.12zM513.94 92.44h3.12v1.62h-3.12zM467.44 93.94h1.62v1.62h-1.62zM515.44 93.94h3.12v1.62h-3.12zM465.94 95.44h1.62v1.62h-1.62zM516.94 95.44h3.12v1.62h-3.12zM465.94 96.94h1.62v1.62h-1.62zM516.94 96.94h3.12v1.62h-3.12zM518.44 98.44h3.12v1.62h-3.12zM464.44 99.94h1.62v1.62h-1.62zM519.94 99.94h3.12v1.62h-3.12zM519.94 101.44h3.12v1.62h-3.12zM521.44 102.94h3.12v1.62h-3.12zM521.44 104.44h3.12v1.62h-3.12zM464.44 105.94h1.62v1.62h-1.62zM516.94 105.94h3.12v1.62h-3.12zM561.94 105.94h1.62v1.62h-1.62zM465.94 110.44h1.62v1.62h-1.62zM518.44 110.44h4.62v1.62h-4.62zM521.44 111.94h3.12v1.62h-3.12zM467.44 113.44h1.62v1.62h-1.62zM521.44 113.44h3.12v1.62h-3.12zM483.94 114.94h1.62v1.62h-1.62zM519.94 114.94h3.12v1.62h-3.12zM468.94 116.44h1.62v1.62h-1.62zM518.44 116.44h3.12v1.62h-3.12zM518.44 117.94h3.12v1.62h-3.12zM516.94 119.44h3.12v1.62h-3.12zM471.94 120.94h1.62v1.62h-1.62zM515.44 120.94h3.12v1.62h-3.12zM473.44 122.44h1.62v1.62h-1.62zM513.94 122.44h3.12v1.62h-3.12zM485.44 123.94h1.62v1.62h-1.62zM512.44 123.94h3.12v1.62h-3.12zM552.94 123.94h1.62v1.62h-1.62zM512.44 125.44h1.62v1.62h-1.62zM510.94 126.94h1.62v1.62h-1.62zM509.44 128.44h1.62v1.62h-1.62zM507.94 129.94h1.62v1.62h-1.62zM506.44 131.44h1.62v1.62h-1.62zM483.94 132.94h1.62v1.62h-1.62zM504.94 132.94h1.62v1.62h-1.62zM548.44 132.94h1.62v1.62h-1.62zM504.94 134.44h1.62v1.62h-1.62zM549.94 134.44h1.62v1.62h-1.62zM503.44 137.44h1.62v1.62h-1.62zM494.44 138.94h1.62v1.62h-1.62zM503.44 138.94h1.62v1.62h-1.62zM537.94 140.44h1.62v1.62h-1.62zM494.44 141.94h1.62v1.62h-1.62zM537.94 141.94h1.62v1.62h-1.62zM539.44 143.44h1.62v1.62h-1.62zM497.44 144.94h1.62v1.62h-1.62zM510.94 144.94h1.62v1.62h-1.62zM527.44 146.44h1.62v1.62h-1.62zM495.94 147.94h1.62v1.62h-1.62zM527.44 147.94h1.62v1.62h-1.62zM509.44 149.44h1.62v1.62h-1.62zM509.44 150.94h1.62v1.62h-1.62z"/><path fill="#1c1c1c" d="M518.44 51.94h1.62v1.62h-1.62zM516.94 54.94h1.62v1.62h-1.62zM531.94 57.94h1.62v1.62h-1.62zM498.94 59.44h1.62v1.62h-1.62zM527.44 59.44h1.62v1.62h-1.62zM531.94 59.44h1.62v1.62h-1.62zM516.94 60.94h9.12v1.62h-9.12zM497.44 62.44h1.62v1.62h-1.62zM512.44 62.44h1.62v1.62h-1.62zM509.44 63.94h1.62v1.62h-1.62zM536.44 65.44h1.62v1.62h-1.62zM497.44 66.94h1.62v1.62h-1.62zM540.94 68.44h1.62v1.62h-1.62zM491.44 69.94h1.62v1.62h-1.62zM503.44 69.94h1.62v1.62h-1.62zM489.94 71.44h1.62v1.62h-1.62zM503.44 71.44h1.62v1.62h-1.62zM488.44 72.94h1.62v1.62h-1.62zM543.94 72.94h1.62v1.62h-1.62zM503.44 75.94h1.62v1.62h-1.62zM503.44 77.44h1.62v1.62h-1.62zM555.94 77.44h1.62v1.62h-1.62zM489.94 78.94h1.62v1.62h-1.62zM503.44 78.94h1.62v1.62h-1.62zM504.94 80.44h1.62v1.62h-1.62zM504.94 81.94h1.62v1.62h-1.62zM476.44 83.44h1.62v1.62h-1.62zM506.44 83.44h1.62v1.62h-1.62zM474.94 84.94h1.62v1.62h-1.62zM506.44 84.94h1.62v1.62h-1.62zM473.44 86.44h1.62v1.62h-1.62zM507.94 86.44h1.62v1.62h-1.62zM509.44 87.94h1.62v1.62h-1.62zM485.44 89.44h1.62v1.62h-1.62zM509.44 89.44h3.12v1.62h-3.12zM470.44 90.94h1.62v1.62h-1.62zM510.94 90.94h1.62v1.62h-1.62zM468.94 92.44h1.62v1.62h-1.62zM512.44 92.44h1.62v1.62h-1.62zM483.94 93.94h1.62v1.62h-1.62zM512.44 93.94h3.12v1.62h-3.12zM467.44 95.44h1.62v1.62h-1.62zM513.94 95.44h3.12v1.62h-3.12zM515.44 96.94h1.62v1.62h-1.62zM465.94 98.44h1.62v1.62h-1.62zM515.44 98.44h3.12v1.62h-3.12zM482.44 99.94h1.62v1.62h-1.62zM516.94 99.94h3.12v1.62h-3.12zM516.94 101.44h3.12v1.62h-3.12zM467.44 102.94h1.62v1.62h-1.62zM518.44 102.94h3.12v1.62h-3.12zM518.44 104.44h3.12v1.62h-3.12zM480.94 105.94h1.62v1.62h-1.62zM515.44 105.94h1.62v1.62h-1.62zM465.94 108.94h1.62v1.62h-1.62zM515.44 110.44h3.12v1.62h-3.12zM518.44 111.94h3.12v1.62h-3.12zM518.44 113.44h3.12v1.62h-3.12zM482.44 114.94h1.62v1.62h-1.62zM516.94 114.94h3.12v1.62h-3.12zM516.94 116.44h1.62v1.62h-1.62zM470.44 117.94h1.62v1.62h-1.62zM515.44 117.94h3.12v1.62h-3.12zM513.94 119.44h3.12v1.62h-3.12zM513.94 120.94h1.62v1.62h-1.62zM512.44 122.44h1.62v1.62h-1.62zM474.94 123.94h1.62v1.62h-1.62zM510.94 123.94h1.62v1.62h-1.62zM476.44 125.44h1.62v1.62h-1.62zM509.44 125.44h3.12v1.62h-3.12zM477.94 126.94h1.62v1.62h-1.62zM507.94 126.94h3.12v1.62h-3.12zM479.44 128.44h1.62v1.62h-1.62zM507.94 128.44h1.62v1.62h-1.62zM480.94 129.94h1.62v1.62h-1.62zM506.44 129.94h1.62v1.62h-1.62zM482.44 131.44h1.62v1.62h-1.62zM504.94 131.44h1.62v1.62h-1.62zM489.94 132.94h1.62v1.62h-1.62zM549.94 132.94h1.62v1.62h-1.62zM503.44 134.44h1.62v1.62h-1.62zM494.44 135.94h1.62v1.62h-1.62zM503.44 135.94h1.62v1.62h-1.62zM492.94 140.44h1.62v1.62h-1.62zM503.44 140.44h1.62v1.62h-1.62zM504.94 141.94h1.62v1.62h-1.62zM536.44 141.94h1.62v1.62h-1.62zM506.44 143.44h1.62v1.62h-1.62zM536.44 143.44h3.12v1.62h-3.12zM509.44 144.94h1.62v1.62h-1.62zM497.44 146.44h1.62v1.62h-1.62zM516.94 146.44h4.62v1.62h-4.62zM497.44 147.94h1.62v1.62h-1.62zM528.94 149.44h1.62v1.62h-1.62z"/><path fill="#1d1d1d" d="M518.44 53.44h1.62v1.62h-1.62zM531.94 56.44h1.62v1.62h-1.62zM506.44 57.94h1.62v1.62h-1.62zM509.44 57.94h1.62v1.62h-1.62zM522.94 59.44h1.62v1.62h-1.62zM498.94 60.94h1.62v1.62h-1.62zM513.94 60.94h3.12v1.62h-3.12zM531.94 60.94h1.62v1.62h-1.62zM510.94 62.44h1.62v1.62h-1.62zM533.44 62.44h1.62v1.62h-1.62zM507.94 63.94h1.62v1.62h-1.62zM534.94 63.94h1.62v1.62h-1.62zM495.94 65.44h1.62v1.62h-1.62zM501.94 65.44h1.62v1.62h-1.62zM506.44 65.44h1.62v1.62h-1.62zM494.44 66.94h1.62v1.62h-1.62zM504.94 66.94h1.62v1.62h-1.62zM492.94 68.44h1.62v1.62h-1.62zM503.44 68.44h1.62v1.62h-1.62zM542.44 69.94h1.62v1.62h-1.62zM501.94 72.94h1.62v1.62h-1.62zM486.94 74.44h1.62v1.62h-1.62zM501.94 74.44h1.62v1.62h-1.62zM548.44 74.44h1.62v1.62h-1.62zM485.44 75.94h1.62v1.62h-1.62zM491.44 75.94h1.62v1.62h-1.62zM501.94 75.94h1.62v1.62h-1.62zM483.94 77.44h1.62v1.62h-1.62zM501.94 77.44h1.62v1.62h-1.62zM482.44 78.94h1.62v1.62h-1.62zM554.44 78.94h1.62v1.62h-1.62zM480.94 80.44h1.62v1.62h-1.62zM503.44 80.44h1.62v1.62h-1.62zM479.44 81.94h1.62v1.62h-1.62zM488.44 81.94h1.62v1.62h-1.62zM503.44 81.94h1.62v1.62h-1.62zM477.94 83.44h1.62v1.62h-1.62zM504.94 83.44h1.62v1.62h-1.62zM476.44 84.94h1.62v1.62h-1.62zM504.94 84.94h1.62v1.62h-1.62zM474.94 86.44h1.62v1.62h-1.62zM506.44 86.44h1.62v1.62h-1.62zM473.44 87.94h1.62v1.62h-1.62zM506.44 87.94h3.12v1.62h-3.12zM471.94 89.44h1.62v1.62h-1.62zM507.94 89.44h1.62v1.62h-1.62zM486.94 90.94h1.62v1.62h-1.62zM509.44 90.94h1.62v1.62h-1.62zM509.44 92.44h3.12v1.62h-3.12zM468.94 93.94h1.62v1.62h-1.62zM510.94 93.94h1.62v1.62h-1.62zM485.44 95.44h1.62v1.62h-1.62zM510.94 95.44h3.12v1.62h-3.12zM467.44 96.94h1.62v1.62h-1.62zM512.44 96.94h3.12v1.62h-3.12zM512.44 98.44h3.12v1.62h-3.12zM465.94 99.94h1.62v1.62h-1.62zM513.94 99.94h3.12v1.62h-3.12zM465.94 101.44h1.62v1.62h-1.62zM513.94 101.44h3.12v1.62h-3.12zM515.44 102.94h3.12v1.62h-3.12zM471.94 104.44h1.62v1.62h-1.62zM515.44 104.44h3.12v1.62h-3.12zM512.44 105.94h3.12v1.62h-3.12zM465.94 107.44h1.62v1.62h-1.62zM470.44 107.44h1.62v1.62h-1.62zM510.94 110.44h4.62v1.62h-4.62zM467.44 111.94h1.62v1.62h-1.62zM515.44 111.94h3.12v1.62h-3.12zM515.44 113.44h3.12v1.62h-3.12zM468.94 114.94h1.62v1.62h-1.62zM513.94 114.94h3.12v1.62h-3.12zM513.94 116.44h3.12v1.62h-3.12zM512.44 117.94h3.12v1.62h-3.12zM471.94 119.44h1.62v1.62h-1.62zM485.44 119.44h1.62v1.62h-1.62zM512.44 119.44h1.62v1.62h-1.62zM510.94 120.94h3.12v1.62h-3.12zM509.44 122.44h3.12v1.62h-3.12zM509.44 123.94h1.62v1.62h-1.62zM507.94 125.44h1.62v1.62h-1.62zM506.44 126.94h1.62v1.62h-1.62zM506.44 128.44h1.62v1.62h-1.62zM504.94 129.94h1.62v1.62h-1.62zM503.44 131.44h1.62v1.62h-1.62zM549.94 131.44h3.12v1.62h-3.12zM503.44 132.94h1.62v1.62h-1.62zM551.44 132.94h1.62v1.62h-1.62zM501.94 135.94h1.62v1.62h-1.62zM489.94 137.44h1.62v1.62h-1.62zM501.94 137.44h1.62v1.62h-1.62zM491.44 138.94h1.62v1.62h-1.62zM501.94 138.94h1.62v1.62h-1.62zM539.44 138.94h1.62v1.62h-1.62zM534.94 141.94h1.62v1.62h-1.62zM498.94 143.44h1.62v1.62h-1.62zM501.94 143.44h1.62v1.62h-1.62zM534.94 143.44h1.62v1.62h-1.62zM534.94 144.94h3.12v1.62h-3.12zM498.94 146.44h1.62v1.62h-1.62zM503.44 146.44h1.62v1.62h-1.62zM513.94 146.44h3.12v1.62h-3.12zM521.44 146.44h3.12v1.62h-3.12zM528.94 146.44h1.62v1.62h-1.62zM519.94 147.94h1.62v1.62h-1.62zM528.94 147.94h1.62v1.62h-1.62z"/><path fill="#1e1e1e" d="M518.44 54.94h1.62v1.62h-1.62zM500.44 57.94h1.62v1.62h-1.62zM530.44 57.94h1.62v1.62h-1.62zM500.44 59.44h1.62v1.62h-1.62zM519.94 59.44h3.12v1.62h-3.12zM530.44 59.44h1.62v1.62h-1.62zM512.44 60.94h1.62v1.62h-1.62zM504.94 62.44h1.62v1.62h-1.62zM509.44 62.44h1.62v1.62h-1.62zM497.44 63.94h1.62v1.62h-1.62zM503.44 63.94h1.62v1.62h-1.62zM504.94 65.44h1.62v1.62h-1.62zM495.94 68.44h1.62v1.62h-1.62zM501.94 69.94h1.62v1.62h-1.62zM497.44 71.44h1.62v1.62h-1.62zM501.94 71.44h1.62v1.62h-1.62zM543.94 71.44h1.62v1.62h-1.62zM545.44 74.44h1.62v1.62h-1.62zM494.44 75.94h1.62v1.62h-1.62zM549.94 75.94h1.62v1.62h-1.62zM501.94 78.94h1.62v1.62h-1.62zM555.94 78.94h1.62v1.62h-1.62zM501.94 80.44h1.62v1.62h-1.62zM549.94 80.44h1.62v1.62h-1.62zM501.94 81.94h1.62v1.62h-1.62zM503.44 83.44h1.62v1.62h-1.62zM503.44 84.94h1.62v1.62h-1.62zM504.94 86.44h1.62v1.62h-1.62zM504.94 87.94h1.62v1.62h-1.62zM554.44 87.94h1.62v1.62h-1.62zM473.44 89.44h1.62v1.62h-1.62zM506.44 89.44h1.62v1.62h-1.62zM471.94 90.94h1.62v1.62h-1.62zM506.44 90.94h3.12v1.62h-3.12zM555.94 90.94h1.62v1.62h-1.62zM470.44 92.44h1.62v1.62h-1.62zM507.94 92.44h1.62v1.62h-1.62zM507.94 93.94h3.12v1.62h-3.12zM468.94 95.44h1.62v1.62h-1.62zM509.44 95.44h1.62v1.62h-1.62zM509.44 96.94h3.12v1.62h-3.12zM467.44 98.44h1.62v1.62h-1.62zM510.94 98.44h1.62v1.62h-1.62zM510.94 99.94h3.12v1.62h-3.12zM483.94 101.44h1.62v1.62h-1.62zM512.44 101.44h1.62v1.62h-1.62zM512.44 102.94h3.12v1.62h-3.12zM512.44 104.44h3.12v1.62h-3.12zM479.44 105.94h1.62v1.62h-1.62zM509.44 105.94h3.12v1.62h-3.12zM467.44 110.44h1.62v1.62h-1.62zM507.94 110.44h3.12v1.62h-3.12zM512.44 111.94h3.12v1.62h-3.12zM468.94 113.44h1.62v1.62h-1.62zM483.94 113.44h1.62v1.62h-1.62zM512.44 113.44h3.12v1.62h-3.12zM512.44 114.94h1.62v1.62h-1.62zM470.44 116.44h1.62v1.62h-1.62zM510.94 116.44h3.12v1.62h-3.12zM510.94 117.94h1.62v1.62h-1.62zM509.44 119.44h3.12v1.62h-3.12zM473.44 120.94h1.62v1.62h-1.62zM507.94 120.94h3.12v1.62h-3.12zM474.94 122.44h1.62v1.62h-1.62zM507.94 122.44h1.62v1.62h-1.62zM506.44 123.94h3.12v1.62h-3.12zM506.44 125.44h1.62v1.62h-1.62zM504.94 126.94h1.62v1.62h-1.62zM503.44 128.44h3.12v1.62h-3.12zM503.44 129.94h1.62v1.62h-1.62zM551.44 129.94h1.62v1.62h-1.62zM501.94 131.44h1.62v1.62h-1.62zM552.94 131.44h1.62v1.62h-1.62zM501.94 132.94h1.62v1.62h-1.62zM546.94 132.94h1.62v1.62h-1.62zM486.94 134.44h1.62v1.62h-1.62zM501.94 134.44h1.62v1.62h-1.62zM488.44 135.94h1.62v1.62h-1.62zM492.94 137.44h1.62v1.62h-1.62zM495.94 137.44h1.62v1.62h-1.62zM501.94 140.44h1.62v1.62h-1.62zM500.44 141.94h1.62v1.62h-1.62zM503.44 141.94h1.62v1.62h-1.62zM497.44 143.44h1.62v1.62h-1.62zM504.94 143.44h1.62v1.62h-1.62zM533.44 143.44h1.62v1.62h-1.62zM498.94 144.94h1.62v1.62h-1.62zM507.94 144.94h1.62v1.62h-1.62zM530.44 144.94h4.62v1.62h-4.62zM512.44 146.44h1.62v1.62h-1.62zM530.44 146.44h6.12v1.62h-6.12zM498.94 147.94h1.62v1.62h-1.62zM530.44 147.94h3.12v1.62h-3.12zM498.94 149.44h1.62v1.62h-1.62z"/><path fill="#1f1f1f" d="M521.44 56.44h1.62v1.62h-1.62zM530.44 56.44h1.62v1.62h-1.62zM501.94 57.94h1.62v1.62h-1.62zM519.94 57.94h1.62v1.62h-1.62zM507.94 59.44h1.62v1.62h-1.62zM515.44 59.44h4.62v1.62h-4.62zM506.44 60.94h1.62v1.62h-1.62zM510.94 60.94h1.62v1.62h-1.62zM530.44 60.94h1.62v1.62h-1.62zM498.94 62.44h1.62v1.62h-1.62zM507.94 62.44h1.62v1.62h-1.62zM506.44 63.94h1.62v1.62h-1.62zM495.94 66.94h1.62v1.62h-1.62zM503.44 66.94h1.62v1.62h-1.62zM494.44 68.44h1.62v1.62h-1.62zM501.94 68.44h1.62v1.62h-1.62zM492.94 69.94h1.62v1.62h-1.62zM498.94 69.94h1.62v1.62h-1.62zM491.44 71.44h1.62v1.62h-1.62zM500.44 71.44h1.62v1.62h-1.62zM489.94 72.94h1.62v1.62h-1.62zM492.94 72.94h1.62v1.62h-1.62zM500.44 72.94h1.62v1.62h-1.62zM545.44 72.94h1.62v1.62h-1.62zM488.44 74.44h1.62v1.62h-1.62zM500.44 74.44h1.62v1.62h-1.62zM486.94 75.94h1.62v1.62h-1.62zM500.44 75.94h1.62v1.62h-1.62zM485.44 77.44h1.62v1.62h-1.62zM500.44 77.44h1.62v1.62h-1.62zM551.44 77.44h1.62v1.62h-1.62zM483.94 78.94h1.62v1.62h-1.62zM500.44 78.94h1.62v1.62h-1.62zM557.44 78.94h1.62v1.62h-1.62zM482.44 80.44h1.62v1.62h-1.62zM500.44 80.44h1.62v1.62h-1.62zM480.94 81.94h1.62v1.62h-1.62zM479.44 83.44h1.62v1.62h-1.62zM501.94 83.44h1.62v1.62h-1.62zM477.94 84.94h1.62v1.62h-1.62zM486.94 84.94h1.62v1.62h-1.62zM501.94 84.94h1.62v1.62h-1.62zM476.44 86.44h1.62v1.62h-1.62zM503.44 86.44h1.62v1.62h-1.62zM474.94 87.94h1.62v1.62h-1.62zM503.44 87.94h1.62v1.62h-1.62zM503.44 89.44h3.12v1.62h-3.12zM504.94 90.94h1.62v1.62h-1.62zM471.94 92.44h1.62v1.62h-1.62zM504.94 92.44h3.12v1.62h-3.12zM470.44 93.94h1.62v1.62h-1.62zM506.44 93.94h1.62v1.62h-1.62zM506.44 95.44h3.12v1.62h-3.12zM468.94 96.94h1.62v1.62h-1.62zM507.94 96.94h1.62v1.62h-1.62zM507.94 98.44h3.12v1.62h-3.12zM467.44 99.94h1.62v1.62h-1.62zM509.44 99.94h1.62v1.62h-1.62zM467.44 101.44h1.62v1.62h-1.62zM509.44 101.44h3.12v1.62h-3.12zM509.44 102.94h3.12v1.62h-3.12zM510.94 104.44h1.62v1.62h-1.62zM507.94 105.94h1.62v1.62h-1.62zM467.44 107.44h3.12v1.62h-3.12zM467.44 108.94h1.62v1.62h-1.62zM506.44 110.44h1.62v1.62h-1.62zM468.94 111.94h1.62v1.62h-1.62zM510.94 111.94h1.62v1.62h-1.62zM509.44 113.44h3.12v1.62h-3.12zM470.44 114.94h1.62v1.62h-1.62zM509.44 114.94h3.12v1.62h-3.12zM509.44 116.44h1.62v1.62h-1.62zM471.94 117.94h1.62v1.62h-1.62zM507.94 117.94h3.12v1.62h-3.12zM473.44 119.44h1.62v1.62h-1.62zM507.94 119.44h1.62v1.62h-1.62zM483.94 120.94h1.62v1.62h-1.62zM506.44 120.94h1.62v1.62h-1.62zM506.44 122.44h1.62v1.62h-1.62zM476.44 123.94h1.62v1.62h-1.62zM504.94 123.94h1.62v1.62h-1.62zM477.94 125.44h1.62v1.62h-1.62zM503.44 125.44h3.12v1.62h-3.12zM479.44 126.94h1.62v1.62h-1.62zM503.44 126.94h1.62v1.62h-1.62zM480.94 128.44h1.62v1.62h-1.62zM501.94 128.44h1.62v1.62h-1.62zM549.94 128.44h1.62v1.62h-1.62zM482.44 129.94h1.62v1.62h-1.62zM501.94 129.94h1.62v1.62h-1.62zM552.94 129.94h3.12v1.62h-3.12zM483.94 131.44h1.62v1.62h-1.62zM491.44 131.44h1.62v1.62h-1.62zM485.44 132.94h1.62v1.62h-1.62zM500.44 132.94h1.62v1.62h-1.62zM500.44 134.44h1.62v1.62h-1.62zM500.44 135.94h1.62v1.62h-1.62zM500.44 137.44h1.62v1.62h-1.62zM497.44 138.94h1.62v1.62h-1.62zM500.44 138.94h1.62v1.62h-1.62zM498.94 140.44h1.62v1.62h-1.62zM495.94 141.94h1.62v1.62h-1.62zM501.94 141.94h1.62v1.62h-1.62zM503.44 143.44h1.62v1.62h-1.62zM506.44 144.94h1.62v1.62h-1.62zM500.44 146.44h1.62v1.62h-1.62zM506.44 146.44h1.62v1.62h-1.62zM510.94 146.44h1.62v1.62h-1.62zM500.44 147.94h1.62v1.62h-1.62zM500.44 149.44h1.62v1.62h-1.62z"/><path fill="#202020" d="M528.94 54.94h1.62v1.62h-1.62zM516.94 56.44h1.62v1.62h-1.62zM528.94 56.44h1.62v1.62h-1.62zM528.94 57.94h1.62v1.62h-1.62zM501.94 59.44h1.62v1.62h-1.62zM513.94 59.44h1.62v1.62h-1.62zM528.94 59.44h1.62v1.62h-1.62zM500.44 60.94h1.62v1.62h-1.62zM509.44 60.94h1.62v1.62h-1.62zM500.44 62.44h1.62v1.62h-1.62zM506.44 62.44h1.62v1.62h-1.62zM498.94 63.94h1.62v1.62h-1.62zM504.94 63.94h1.62v1.62h-1.62zM497.44 65.44h1.62v1.62h-1.62zM503.44 65.44h1.62v1.62h-1.62zM501.94 66.94h1.62v1.62h-1.62zM500.44 68.44h1.62v1.62h-1.62zM494.44 69.94h1.62v1.62h-1.62zM500.44 69.94h1.62v1.62h-1.62zM498.94 72.94h1.62v1.62h-1.62zM495.94 74.44h1.62v1.62h-1.62zM498.94 74.44h1.62v1.62h-1.62zM546.94 74.44h1.62v1.62h-1.62zM498.94 75.94h1.62v1.62h-1.62zM546.94 75.94h1.62v1.62h-1.62zM498.94 77.44h1.62v1.62h-1.62zM492.94 78.94h1.62v1.62h-1.62zM498.94 78.94h1.62v1.62h-1.62zM552.94 78.94h1.62v1.62h-1.62zM498.94 80.44h1.62v1.62h-1.62zM555.94 80.44h3.12v1.62h-3.12zM500.44 81.94h1.62v1.62h-1.62zM500.44 83.44h1.62v1.62h-1.62zM500.44 84.94h1.62v1.62h-1.62zM552.94 84.94h1.62v1.62h-1.62zM477.94 86.44h1.62v1.62h-1.62zM501.94 86.44h1.62v1.62h-1.62zM476.44 87.94h1.62v1.62h-1.62zM488.44 87.94h1.62v1.62h-1.62zM501.94 87.94h1.62v1.62h-1.62zM474.94 89.44h1.62v1.62h-1.62zM501.94 89.44h1.62v1.62h-1.62zM473.44 90.94h1.62v1.62h-1.62zM503.44 90.94h1.62v1.62h-1.62zM503.44 92.44h1.62v1.62h-1.62zM471.94 93.94h1.62v1.62h-1.62zM504.94 93.94h1.62v1.62h-1.62zM470.44 95.44h1.62v1.62h-1.62zM504.94 95.44h1.62v1.62h-1.62zM470.44 96.94h1.62v1.62h-1.62zM504.94 96.94h3.12v1.62h-3.12zM468.94 98.44h1.62v1.62h-1.62zM482.44 98.44h1.62v1.62h-1.62zM506.44 98.44h1.62v1.62h-1.62zM468.94 99.94h1.62v1.62h-1.62zM506.44 99.94h3.12v1.62h-3.12zM506.44 101.44h3.12v1.62h-3.12zM468.94 102.94h1.62v1.62h-1.62zM507.94 102.94h1.62v1.62h-1.62zM507.94 104.44h3.12v1.62h-3.12zM483.94 105.94h1.62v1.62h-1.62zM504.94 105.94h3.12v1.62h-3.12zM468.94 110.44h1.62v1.62h-1.62zM503.44 110.44h3.12v1.62h-3.12zM507.94 111.94h3.12v1.62h-3.12zM470.44 113.44h1.62v1.62h-1.62zM507.94 113.44h1.62v1.62h-1.62zM506.44 114.94h3.12v1.62h-3.12zM471.94 116.44h1.62v1.62h-1.62zM506.44 116.44h3.12v1.62h-3.12zM506.44 117.94h1.62v1.62h-1.62zM504.94 119.44h3.12v1.62h-3.12zM474.94 120.94h1.62v1.62h-1.62zM504.94 120.94h1.62v1.62h-1.62zM503.44 122.44h3.12v1.62h-3.12zM503.44 123.94h1.62v1.62h-1.62zM501.94 125.44h1.62v1.62h-1.62zM501.94 126.94h1.62v1.62h-1.62zM500.44 128.44h1.62v1.62h-1.62zM552.94 128.44h3.12v1.62h-3.12zM500.44 129.94h1.62v1.62h-1.62zM500.44 131.44h1.62v1.62h-1.62zM548.44 131.44h1.62v1.62h-1.62zM498.94 132.94h1.62v1.62h-1.62zM498.94 134.44h1.62v1.62h-1.62zM498.94 135.94h1.62v1.62h-1.62zM498.94 137.44h1.62v1.62h-1.62zM492.94 138.94h1.62v1.62h-1.62zM494.44 140.44h1.62v1.62h-1.62zM500.44 140.44h1.62v1.62h-1.62zM500.44 144.94h1.62v1.62h-1.62zM504.94 144.94h1.62v1.62h-1.62zM501.94 146.44h1.62v1.62h-1.62zM509.44 146.44h1.62v1.62h-1.62zM501.94 147.94h1.62v1.62h-1.62zM509.44 147.94h1.62v1.62h-1.62z"/><path fill="#212121" d="M504.94 56.44h1.62v1.62h-1.62zM527.44 56.44h1.62v1.62h-1.62zM503.44 57.94h1.62v1.62h-1.62zM516.94 57.94h3.12v1.62h-3.12zM527.44 57.94h1.62v1.62h-1.62zM510.94 59.44h3.12v1.62h-3.12zM501.94 60.94h1.62v1.62h-1.62zM507.94 60.94h1.62v1.62h-1.62zM492.94 71.44h1.62v1.62h-1.62zM498.94 71.44h1.62v1.62h-1.62zM491.44 72.94h1.62v1.62h-1.62zM497.44 72.94h1.62v1.62h-1.62zM489.94 74.44h1.62v1.62h-1.62zM488.44 75.94h1.62v1.62h-1.62zM497.44 75.94h1.62v1.62h-1.62zM548.44 75.94h1.62v1.62h-1.62zM486.94 77.44h1.62v1.62h-1.62zM497.44 77.44h1.62v1.62h-1.62zM548.44 77.44h1.62v1.62h-1.62zM485.44 78.94h1.62v1.62h-1.62zM497.44 78.94h1.62v1.62h-1.62zM483.94 80.44h1.62v1.62h-1.62zM554.44 80.44h1.62v1.62h-1.62zM558.94 80.44h1.62v1.62h-1.62zM482.44 81.94h1.62v1.62h-1.62zM491.44 81.94h1.62v1.62h-1.62zM498.94 81.94h1.62v1.62h-1.62zM557.44 81.94h1.62v1.62h-1.62zM480.94 83.44h1.62v1.62h-1.62zM498.94 83.44h1.62v1.62h-1.62zM479.44 84.94h1.62v1.62h-1.62zM489.94 84.94h1.62v1.62h-1.62zM498.94 84.94h1.62v1.62h-1.62zM498.94 86.44h3.12v1.62h-3.12zM500.44 87.94h1.62v1.62h-1.62zM500.44 89.44h1.62v1.62h-1.62zM474.94 90.94h1.62v1.62h-1.62zM500.44 90.94h3.12v1.62h-3.12zM473.44 92.44h1.62v1.62h-1.62zM501.94 92.44h1.62v1.62h-1.62zM501.94 93.94h3.12v1.62h-3.12zM557.44 93.94h1.62v1.62h-1.62zM471.94 95.44h1.62v1.62h-1.62zM503.44 95.44h1.62v1.62h-1.62zM503.44 96.94h1.62v1.62h-1.62zM470.44 98.44h1.62v1.62h-1.62zM503.44 98.44h3.12v1.62h-3.12zM558.94 98.44h1.62v1.62h-1.62zM504.94 99.94h1.62v1.62h-1.62zM468.94 101.44h1.62v1.62h-1.62zM504.94 101.44h1.62v1.62h-1.62zM483.94 102.94h1.62v1.62h-1.62zM504.94 102.94h3.12v1.62h-3.12zM506.44 104.44h1.62v1.62h-1.62zM501.94 105.94h3.12v1.62h-3.12zM468.94 108.94h1.62v1.62h-1.62zM479.44 108.94h1.62v1.62h-1.62zM501.94 110.44h1.62v1.62h-1.62zM470.44 111.94h1.62v1.62h-1.62zM506.44 111.94h1.62v1.62h-1.62zM558.94 111.94h1.62v1.62h-1.62zM504.94 113.44h3.12v1.62h-3.12zM471.94 114.94h1.62v1.62h-1.62zM504.94 114.94h1.62v1.62h-1.62zM482.44 116.44h1.62v1.62h-1.62zM504.94 116.44h1.62v1.62h-1.62zM473.44 117.94h1.62v1.62h-1.62zM503.44 117.94h3.12v1.62h-3.12zM503.44 119.44h1.62v1.62h-1.62zM501.94 120.94h3.12v1.62h-3.12zM476.44 122.44h1.62v1.62h-1.62zM486.94 122.44h1.62v1.62h-1.62zM501.94 122.44h1.62v1.62h-1.62zM477.94 123.94h1.62v1.62h-1.62zM501.94 123.94h1.62v1.62h-1.62zM479.44 125.44h1.62v1.62h-1.62zM500.44 125.44h1.62v1.62h-1.62zM500.44 126.94h1.62v1.62h-1.62zM552.94 126.94h3.12v1.62h-3.12zM486.94 128.44h1.62v1.62h-1.62zM489.94 128.44h1.62v1.62h-1.62zM498.94 128.44h1.62v1.62h-1.62zM551.44 128.44h1.62v1.62h-1.62zM555.94 128.44h1.62v1.62h-1.62zM498.94 129.94h1.62v1.62h-1.62zM549.94 129.94h1.62v1.62h-1.62zM498.94 131.44h1.62v1.62h-1.62zM488.44 134.44h1.62v1.62h-1.62zM497.44 134.44h1.62v1.62h-1.62zM489.94 135.94h3.12v1.62h-3.12zM497.44 135.94h1.62v1.62h-1.62zM491.44 137.44h1.62v1.62h-1.62zM497.44 137.44h1.62v1.62h-1.62zM498.94 138.94h1.62v1.62h-1.62zM507.94 146.44h1.62v1.62h-1.62zM503.44 147.94h1.62v1.62h-1.62zM515.44 147.94h4.62v1.62h-4.62zM501.94 149.44h1.62v1.62h-1.62zM507.94 150.94h1.62v1.62h-1.62zM507.94 152.44h1.62v1.62h-1.62z"/><path fill="#222222" d="M525.94 54.94h3.12v1.62h-3.12zM512.44 56.44h1.62v1.62h-1.62zM525.94 56.44h1.62v1.62h-1.62zM513.94 57.94h3.12v1.62h-3.12zM525.94 57.94h1.62v1.62h-1.62zM503.44 59.44h1.62v1.62h-1.62zM509.44 59.44h1.62v1.62h-1.62zM491.44 74.44h1.62v1.62h-1.62zM497.44 74.44h1.62v1.62h-1.62zM495.94 75.94h1.62v1.62h-1.62zM489.94 77.44h1.62v1.62h-1.62zM494.44 77.44h1.62v1.62h-1.62zM549.94 77.44h1.62v1.62h-1.62zM497.44 80.44h1.62v1.62h-1.62zM497.44 81.94h1.62v1.62h-1.62zM551.44 81.94h1.62v1.62h-1.62zM555.94 81.94h1.62v1.62h-1.62zM558.94 81.94h3.12v1.62h-3.12zM482.44 83.44h1.62v1.62h-1.62zM497.44 83.44h1.62v1.62h-1.62zM480.94 84.94h1.62v1.62h-1.62zM497.44 84.94h1.62v1.62h-1.62zM479.44 86.44h1.62v1.62h-1.62zM497.44 86.44h1.62v1.62h-1.62zM477.94 87.94h1.62v1.62h-1.62zM485.44 87.94h1.62v1.62h-1.62zM498.94 87.94h1.62v1.62h-1.62zM476.44 89.44h1.62v1.62h-1.62zM498.94 89.44h1.62v1.62h-1.62zM498.94 90.94h1.62v1.62h-1.62zM474.94 92.44h1.62v1.62h-1.62zM483.94 92.44h1.62v1.62h-1.62zM500.44 92.44h1.62v1.62h-1.62zM473.44 93.94h1.62v1.62h-1.62zM500.44 93.94h1.62v1.62h-1.62zM500.44 95.44h3.12v1.62h-3.12zM471.94 96.94h1.62v1.62h-1.62zM485.44 96.94h1.62v1.62h-1.62zM501.94 96.94h1.62v1.62h-1.62zM501.94 98.44h1.62v1.62h-1.62zM470.44 99.94h1.62v1.62h-1.62zM501.94 99.94h3.12v1.62h-3.12zM470.44 101.44h1.62v1.62h-1.62zM501.94 101.44h3.12v1.62h-3.12zM470.44 102.94h1.62v1.62h-1.62zM503.44 102.94h1.62v1.62h-1.62zM473.44 104.44h1.62v1.62h-1.62zM503.44 104.44h3.12v1.62h-3.12zM500.44 105.94h1.62v1.62h-1.62zM470.44 110.44h1.62v1.62h-1.62zM498.94 110.44h3.12v1.62h-3.12zM483.94 111.94h1.62v1.62h-1.62zM503.44 111.94h3.12v1.62h-3.12zM471.94 113.44h1.62v1.62h-1.62zM503.44 113.44h1.62v1.62h-1.62zM501.94 114.94h3.12v1.62h-3.12zM473.44 116.44h1.62v1.62h-1.62zM501.94 116.44h3.12v1.62h-3.12zM485.44 117.94h1.62v1.62h-1.62zM501.94 117.94h1.62v1.62h-1.62zM474.94 119.44h1.62v1.62h-1.62zM500.44 119.44h3.12v1.62h-3.12zM476.44 120.94h1.62v1.62h-1.62zM500.44 120.94h1.62v1.62h-1.62zM500.44 122.44h1.62v1.62h-1.62zM498.94 123.94h3.12v1.62h-3.12zM488.44 125.44h1.62v1.62h-1.62zM498.94 125.44h1.62v1.62h-1.62zM554.44 125.44h3.12v1.62h-3.12zM480.94 126.94h1.62v1.62h-1.62zM498.94 126.94h1.62v1.62h-1.62zM555.94 126.94h1.62v1.62h-1.62zM482.44 128.44h1.62v1.62h-1.62zM497.44 128.44h1.62v1.62h-1.62zM483.94 129.94h1.62v1.62h-1.62zM497.44 129.94h1.62v1.62h-1.62zM485.44 131.44h1.62v1.62h-1.62zM488.44 131.44h1.62v1.62h-1.62zM497.44 131.44h1.62v1.62h-1.62zM486.94 132.94h1.62v1.62h-1.62zM492.94 132.94h1.62v1.62h-1.62zM497.44 132.94h1.62v1.62h-1.62zM495.94 135.94h1.62v1.62h-1.62zM512.44 147.94h3.12v1.62h-3.12zM503.44 149.44h1.62v1.62h-1.62zM507.94 149.44h1.62v1.62h-1.62zM503.44 150.94h1.62v1.62h-1.62z"/><path fill="#232323" d="M519.94 51.94h1.62v1.62h-1.62zM519.94 53.44h1.62v1.62h-1.62zM525.94 53.44h1.62v1.62h-1.62zM519.94 54.94h1.62v1.62h-1.62zM524.44 54.94h1.62v1.62h-1.62zM506.44 56.44h3.12v1.62h-3.12zM515.44 56.44h1.62v1.62h-1.62zM524.44 56.44h1.62v1.62h-1.62zM504.94 57.94h1.62v1.62h-1.62zM510.94 57.94h3.12v1.62h-3.12zM489.94 75.94h1.62v1.62h-1.62zM488.44 77.44h1.62v1.62h-1.62zM495.94 77.44h1.62v1.62h-1.62zM486.94 78.94h1.62v1.62h-1.62zM495.94 78.94h1.62v1.62h-1.62zM549.94 78.94h3.12v1.62h-3.12zM485.44 80.44h1.62v1.62h-1.62zM488.44 80.44h1.62v1.62h-1.62zM495.94 80.44h1.62v1.62h-1.62zM552.94 80.44h1.62v1.62h-1.62zM483.94 81.94h1.62v1.62h-1.62zM495.94 81.94h1.62v1.62h-1.62zM495.94 83.44h1.62v1.62h-1.62zM557.44 83.44h4.62v1.62h-4.62zM495.94 84.94h1.62v1.62h-1.62zM495.94 86.44h1.62v1.62h-1.62zM479.44 87.94h1.62v1.62h-1.62zM497.44 87.94h1.62v1.62h-1.62zM477.94 89.44h1.62v1.62h-1.62zM497.44 89.44h1.62v1.62h-1.62zM476.44 90.94h1.62v1.62h-1.62zM497.44 90.94h1.62v1.62h-1.62zM486.94 92.44h1.62v1.62h-1.62zM497.44 92.44h3.12v1.62h-3.12zM474.94 93.94h1.62v1.62h-1.62zM498.94 93.94h1.62v1.62h-1.62zM473.44 95.44h1.62v1.62h-1.62zM498.94 95.44h1.62v1.62h-1.62zM473.44 96.94h1.62v1.62h-1.62zM498.94 96.94h3.12v1.62h-3.12zM471.94 98.44h1.62v1.62h-1.62zM500.44 98.44h1.62v1.62h-1.62zM471.94 99.94h1.62v1.62h-1.62zM500.44 99.94h1.62v1.62h-1.62zM500.44 101.44h1.62v1.62h-1.62zM500.44 102.94h3.12v1.62h-3.12zM483.94 104.44h1.62v1.62h-1.62zM501.94 104.44h1.62v1.62h-1.62zM497.44 105.94h3.12v1.62h-3.12zM470.44 108.94h1.62v1.62h-1.62zM477.94 108.94h1.62v1.62h-1.62zM497.44 110.44h1.62v1.62h-1.62zM471.94 111.94h1.62v1.62h-1.62zM501.94 111.94h1.62v1.62h-1.62zM500.44 113.44h3.12v1.62h-3.12zM473.44 114.94h1.62v1.62h-1.62zM500.44 114.94h1.62v1.62h-1.62zM500.44 116.44h1.62v1.62h-1.62zM474.94 117.94h1.62v1.62h-1.62zM498.94 117.94h3.12v1.62h-3.12zM498.94 119.44h1.62v1.62h-1.62zM555.94 119.44h1.62v1.62h-1.62zM498.94 120.94h1.62v1.62h-1.62zM477.94 122.44h1.62v1.62h-1.62zM498.94 122.44h1.62v1.62h-1.62zM479.44 123.94h1.62v1.62h-1.62zM497.44 123.94h1.62v1.62h-1.62zM555.94 123.94h3.12v1.62h-3.12zM485.44 125.44h1.62v1.62h-1.62zM497.44 125.44h1.62v1.62h-1.62zM557.44 125.44h1.62v1.62h-1.62zM497.44 126.94h1.62v1.62h-1.62zM551.44 126.94h1.62v1.62h-1.62zM495.94 128.44h1.62v1.62h-1.62zM495.94 129.94h1.62v1.62h-1.62zM495.94 131.44h1.62v1.62h-1.62zM495.94 132.94h1.62v1.62h-1.62zM489.94 134.44h1.62v1.62h-1.62zM494.44 134.44h3.12v1.62h-3.12zM504.94 147.94h3.12v1.62h-3.12zM510.94 147.94h1.62v1.62h-1.62zM504.94 149.44h3.12v1.62h-3.12zM504.94 150.94h3.12v1.62h-3.12z"/><path fill="#242424" d="M522.94 51.94h1.62v1.62h-1.62zM522.94 53.44h3.12v1.62h-3.12zM522.94 54.94h1.62v1.62h-1.62zM513.94 56.44h1.62v1.62h-1.62zM522.94 56.44h1.62v1.62h-1.62zM488.44 78.94h1.62v1.62h-1.62zM494.44 78.94h1.62v1.62h-1.62zM486.94 80.44h1.62v1.62h-1.62zM492.94 80.44h3.12v1.62h-3.12zM551.44 80.44h1.62v1.62h-1.62zM485.44 81.94h1.62v1.62h-1.62zM494.44 81.94h1.62v1.62h-1.62zM554.44 81.94h1.62v1.62h-1.62zM483.94 83.44h1.62v1.62h-1.62zM486.94 83.44h1.62v1.62h-1.62zM494.44 83.44h1.62v1.62h-1.62zM555.94 83.44h1.62v1.62h-1.62zM482.44 84.94h1.62v1.62h-1.62zM494.44 84.94h1.62v1.62h-1.62zM558.94 84.94h4.62v1.62h-4.62zM480.94 86.44h1.62v1.62h-1.62zM494.44 86.44h1.62v1.62h-1.62zM495.94 87.94h1.62v1.62h-1.62zM479.44 89.44h1.62v1.62h-1.62zM495.94 89.44h1.62v1.62h-1.62zM477.94 90.94h1.62v1.62h-1.62zM495.94 90.94h1.62v1.62h-1.62zM476.44 92.44h1.62v1.62h-1.62zM495.94 92.44h1.62v1.62h-1.62zM497.44 93.94h1.62v1.62h-1.62zM474.94 95.44h1.62v1.62h-1.62zM497.44 95.44h1.62v1.62h-1.62zM482.44 96.94h1.62v1.62h-1.62zM497.44 96.94h1.62v1.62h-1.62zM473.44 98.44h1.62v1.62h-1.62zM497.44 98.44h3.12v1.62h-3.12zM497.44 99.94h3.12v1.62h-3.12zM471.94 101.44h1.62v1.62h-1.62zM498.94 101.44h1.62v1.62h-1.62zM471.94 102.94h1.62v1.62h-1.62zM498.94 102.94h1.62v1.62h-1.62zM560.44 102.94h3.12v1.62h-3.12zM498.94 104.44h3.12v1.62h-3.12zM494.44 105.94h3.12v1.62h-3.12zM471.94 108.94h1.62v1.62h-1.62zM471.94 110.44h1.62v1.62h-1.62zM483.94 110.44h1.62v1.62h-1.62zM495.94 110.44h1.62v1.62h-1.62zM498.94 111.94h3.12v1.62h-3.12zM473.44 113.44h1.62v1.62h-1.62zM498.94 113.44h1.62v1.62h-1.62zM498.94 114.94h1.62v1.62h-1.62zM474.94 116.44h1.62v1.62h-1.62zM497.44 116.44h3.12v1.62h-3.12zM557.44 116.44h1.62v1.62h-1.62zM497.44 117.94h1.62v1.62h-1.62zM476.44 119.44h1.62v1.62h-1.62zM497.44 119.44h1.62v1.62h-1.62zM477.94 120.94h1.62v1.62h-1.62zM497.44 120.94h1.62v1.62h-1.62zM495.94 122.44h3.12v1.62h-3.12zM554.44 122.44h1.62v1.62h-1.62zM557.44 122.44h3.12v1.62h-3.12zM495.94 123.94h1.62v1.62h-1.62zM558.94 123.94h1.62v1.62h-1.62zM480.94 125.44h1.62v1.62h-1.62zM495.94 125.44h1.62v1.62h-1.62zM482.44 126.94h1.62v1.62h-1.62zM495.94 126.94h1.62v1.62h-1.62zM483.94 128.44h1.62v1.62h-1.62zM494.44 128.44h1.62v1.62h-1.62zM485.44 129.94h1.62v1.62h-1.62zM491.44 129.94h1.62v1.62h-1.62zM494.44 129.94h1.62v1.62h-1.62zM486.94 131.44h1.62v1.62h-1.62zM494.44 131.44h1.62v1.62h-1.62zM488.44 132.94h1.62v1.62h-1.62zM494.44 132.94h1.62v1.62h-1.62z"/><path fill="#252525" d="M521.44 51.94h1.62v1.62h-1.62zM521.44 53.44h1.62v1.62h-1.62zM521.44 54.94h1.62v1.62h-1.62zM486.94 81.94h1.62v1.62h-1.62zM492.94 81.94h1.62v1.62h-1.62zM552.94 81.94h1.62v1.62h-1.62zM485.44 83.44h1.62v1.62h-1.62zM491.44 83.44h3.12v1.62h-3.12zM552.94 83.44h3.12v1.62h-3.12zM483.94 84.94h1.62v1.62h-1.62zM492.94 84.94h1.62v1.62h-1.62zM557.44 84.94h1.62v1.62h-1.62zM482.44 86.44h1.62v1.62h-1.62zM489.94 86.44h1.62v1.62h-1.62zM554.44 86.44h1.62v1.62h-1.62zM558.94 86.44h6.12v1.62h-6.12zM480.94 87.94h1.62v1.62h-1.62zM494.44 87.94h1.62v1.62h-1.62zM488.44 89.44h1.62v1.62h-1.62zM494.44 89.44h1.62v1.62h-1.62zM479.44 90.94h1.62v1.62h-1.62zM494.44 90.94h1.62v1.62h-1.62zM477.94 92.44h1.62v1.62h-1.62zM494.44 92.44h1.62v1.62h-1.62zM476.44 93.94h1.62v1.62h-1.62zM494.44 93.94h3.12v1.62h-3.12zM476.44 95.44h1.62v1.62h-1.62zM495.94 95.44h1.62v1.62h-1.62zM474.94 96.94h1.62v1.62h-1.62zM495.94 96.94h1.62v1.62h-1.62zM474.94 98.44h1.62v1.62h-1.62zM495.94 98.44h1.62v1.62h-1.62zM473.44 99.94h1.62v1.62h-1.62zM495.94 99.94h1.62v1.62h-1.62zM473.44 101.44h1.62v1.62h-1.62zM495.94 101.44h3.12v1.62h-3.12zM495.94 102.94h3.12v1.62h-3.12zM474.94 104.44h1.62v1.62h-1.62zM480.94 104.44h1.62v1.62h-1.62zM497.44 104.44h1.62v1.62h-1.62zM567.94 104.44h1.62v1.62h-1.62zM491.44 105.94h3.12v1.62h-3.12zM560.44 107.44h1.62v1.62h-1.62zM473.44 108.94h4.62v1.62h-4.62zM473.44 110.44h1.62v1.62h-1.62zM480.94 110.44h1.62v1.62h-1.62zM492.94 110.44h3.12v1.62h-3.12zM473.44 111.94h1.62v1.62h-1.62zM497.44 111.94h1.62v1.62h-1.62zM495.94 113.44h3.12v1.62h-3.12zM474.94 114.94h1.62v1.62h-1.62zM495.94 114.94h3.12v1.62h-3.12zM495.94 116.44h1.62v1.62h-1.62zM476.44 117.94h1.62v1.62h-1.62zM495.94 117.94h1.62v1.62h-1.62zM477.94 119.44h1.62v1.62h-1.62zM495.94 119.44h1.62v1.62h-1.62zM494.44 120.94h3.12v1.62h-3.12zM557.44 120.94h4.62v1.62h-4.62zM479.44 122.44h1.62v1.62h-1.62zM483.94 122.44h1.62v1.62h-1.62zM494.44 122.44h1.62v1.62h-1.62zM560.44 122.44h1.62v1.62h-1.62zM480.94 123.94h1.62v1.62h-1.62zM494.44 123.94h1.62v1.62h-1.62zM482.44 125.44h1.62v1.62h-1.62zM494.44 125.44h1.62v1.62h-1.62zM552.94 125.44h1.62v1.62h-1.62zM494.44 126.94h1.62v1.62h-1.62zM492.94 128.44h1.62v1.62h-1.62zM486.94 129.94h1.62v1.62h-1.62zM492.94 129.94h1.62v1.62h-1.62zM492.94 131.44h1.62v1.62h-1.62z"/><path fill="#262626" d="M485.44 84.94h1.62v1.62h-1.62zM491.44 84.94h1.62v1.62h-1.62zM554.44 84.94h3.12v1.62h-3.12zM483.94 86.44h3.12v1.62h-3.12zM491.44 86.44h3.12v1.62h-3.12zM557.44 86.44h1.62v1.62h-1.62zM482.44 87.94h1.62v1.62h-1.62zM492.94 87.94h1.62v1.62h-1.62zM560.44 87.94h4.62v1.62h-4.62zM480.94 89.44h1.62v1.62h-1.62zM492.94 89.44h1.62v1.62h-1.62zM555.94 89.44h1.62v1.62h-1.62zM483.94 90.94h1.62v1.62h-1.62zM492.94 90.94h1.62v1.62h-1.62zM479.44 92.44h1.62v1.62h-1.62zM492.94 92.44h1.62v1.62h-1.62zM477.94 93.94h1.62v1.62h-1.62zM486.94 93.94h1.62v1.62h-1.62zM492.94 93.94h1.62v1.62h-1.62zM492.94 95.44h3.12v1.62h-3.12zM476.44 96.94h1.62v1.62h-1.62zM494.44 96.94h1.62v1.62h-1.62zM558.94 96.94h1.62v1.62h-1.62zM485.44 98.44h1.62v1.62h-1.62zM494.44 98.44h1.62v1.62h-1.62zM474.94 99.94h1.62v1.62h-1.62zM494.44 99.94h1.62v1.62h-1.62zM494.44 101.44h1.62v1.62h-1.62zM473.44 102.94h1.62v1.62h-1.62zM494.44 102.94h1.62v1.62h-1.62zM494.44 104.44h3.12v1.62h-3.12zM566.44 104.44h1.62v1.62h-1.62zM485.44 105.94h6.12v1.62h-6.12zM491.44 110.44h1.62v1.62h-1.62zM474.94 111.94h1.62v1.62h-1.62zM494.44 111.94h3.12v1.62h-3.12zM474.94 113.44h1.62v1.62h-1.62zM494.44 113.44h1.62v1.62h-1.62zM494.44 114.94h1.62v1.62h-1.62zM476.44 116.44h1.62v1.62h-1.62zM485.44 116.44h1.62v1.62h-1.62zM494.44 116.44h1.62v1.62h-1.62zM477.94 117.94h1.62v1.62h-1.62zM482.44 117.94h1.62v1.62h-1.62zM494.44 117.94h1.62v1.62h-1.62zM560.44 117.94h1.62v1.62h-1.62zM492.94 119.44h3.12v1.62h-3.12zM558.94 119.44h4.62v1.62h-4.62zM479.44 120.94h1.62v1.62h-1.62zM486.94 120.94h1.62v1.62h-1.62zM492.94 120.94h1.62v1.62h-1.62zM480.94 122.44h1.62v1.62h-1.62zM492.94 122.44h1.62v1.62h-1.62zM555.94 122.44h1.62v1.62h-1.62zM492.94 123.94h1.62v1.62h-1.62zM554.44 123.94h1.62v1.62h-1.62zM492.94 125.44h1.62v1.62h-1.62zM483.94 126.94h3.12v1.62h-3.12zM489.94 126.94h1.62v1.62h-1.62zM492.94 126.94h1.62v1.62h-1.62zM485.44 128.44h1.62v1.62h-1.62zM491.44 128.44h1.62v1.62h-1.62z"/><path fill="#272727" d="M555.94 86.44h1.62v1.62h-1.62zM483.94 87.94h1.62v1.62h-1.62zM489.94 87.94h3.12v1.62h-3.12zM555.94 87.94h1.62v1.62h-1.62zM558.94 87.94h1.62v1.62h-1.62zM482.44 89.44h1.62v1.62h-1.62zM491.44 89.44h1.62v1.62h-1.62zM560.44 89.44h6.12v1.62h-6.12zM480.94 90.94h1.62v1.62h-1.62zM488.44 90.94h1.62v1.62h-1.62zM491.44 90.94h1.62v1.62h-1.62zM561.94 90.94h1.62v1.62h-1.62zM491.44 92.44h1.62v1.62h-1.62zM557.44 92.44h1.62v1.62h-1.62zM479.44 93.94h1.62v1.62h-1.62zM491.44 93.94h1.62v1.62h-1.62zM477.94 95.44h1.62v1.62h-1.62zM482.44 95.44h1.62v1.62h-1.62zM491.44 95.44h1.62v1.62h-1.62zM477.94 96.94h1.62v1.62h-1.62zM491.44 96.94h3.12v1.62h-3.12zM476.44 98.44h1.62v1.62h-1.62zM491.44 98.44h3.12v1.62h-3.12zM476.44 99.94h1.62v1.62h-1.62zM492.94 99.94h1.62v1.62h-1.62zM566.44 99.94h3.12v1.62h-3.12zM474.94 101.44h1.62v1.62h-1.62zM492.94 101.44h1.62v1.62h-1.62zM474.94 102.94h1.62v1.62h-1.62zM480.94 102.94h1.62v1.62h-1.62zM492.94 102.94h1.62v1.62h-1.62zM476.44 104.44h1.62v1.62h-1.62zM492.94 104.44h1.62v1.62h-1.62zM564.94 104.44h1.62v1.62h-1.62zM474.94 110.44h1.62v1.62h-1.62zM489.94 110.44h1.62v1.62h-1.62zM480.94 111.94h1.62v1.62h-1.62zM492.94 111.94h1.62v1.62h-1.62zM476.44 113.44h1.62v1.62h-1.62zM492.94 113.44h1.62v1.62h-1.62zM558.94 113.44h1.62v1.62h-1.62zM476.44 114.94h1.62v1.62h-1.62zM492.94 114.94h1.62v1.62h-1.62zM477.94 116.44h1.62v1.62h-1.62zM492.94 116.44h1.62v1.62h-1.62zM560.44 116.44h4.62v1.62h-4.62zM491.44 117.94h3.12v1.62h-3.12zM561.94 117.94h3.12v1.62h-3.12zM479.44 119.44h1.62v1.62h-1.62zM491.44 119.44h1.62v1.62h-1.62zM491.44 120.94h1.62v1.62h-1.62zM555.94 120.94h1.62v1.62h-1.62zM491.44 122.44h1.62v1.62h-1.62zM482.44 123.94h1.62v1.62h-1.62zM488.44 123.94h1.62v1.62h-1.62zM491.44 123.94h1.62v1.62h-1.62zM483.94 125.44h1.62v1.62h-1.62zM489.94 125.44h3.12v1.62h-3.12zM491.44 126.94h1.62v1.62h-1.62z"/><path fill="#282828" d="M557.44 87.94h1.62v1.62h-1.62zM483.94 89.44h1.62v1.62h-1.62zM489.94 89.44h1.62v1.62h-1.62zM557.44 89.44h3.12v1.62h-3.12zM482.44 90.94h1.62v1.62h-1.62zM489.94 90.94h1.62v1.62h-1.62zM557.44 90.94h1.62v1.62h-1.62zM560.44 90.94h1.62v1.62h-1.62zM563.44 90.94h3.12v1.62h-3.12zM480.94 92.44h1.62v1.62h-1.62zM488.44 92.44h3.12v1.62h-3.12zM561.94 92.44h6.12v1.62h-6.12zM480.94 93.94h1.62v1.62h-1.62zM489.94 93.94h1.62v1.62h-1.62zM479.44 95.44h1.62v1.62h-1.62zM486.94 95.44h1.62v1.62h-1.62zM489.94 95.44h1.62v1.62h-1.62zM489.94 96.94h1.62v1.62h-1.62zM477.94 98.44h1.62v1.62h-1.62zM489.94 98.44h1.62v1.62h-1.62zM477.94 99.94h1.62v1.62h-1.62zM485.44 99.94h1.62v1.62h-1.62zM489.94 99.94h3.12v1.62h-3.12zM564.94 99.94h1.62v1.62h-1.62zM476.44 101.44h1.62v1.62h-1.62zM480.94 101.44h1.62v1.62h-1.62zM489.94 101.44h3.12v1.62h-3.12zM560.44 101.44h1.62v1.62h-1.62zM476.44 102.94h1.62v1.62h-1.62zM491.44 102.94h1.62v1.62h-1.62zM491.44 104.44h1.62v1.62h-1.62zM563.44 105.94h1.62v1.62h-1.62zM476.44 110.44h1.62v1.62h-1.62zM488.44 110.44h1.62v1.62h-1.62zM476.44 111.94h1.62v1.62h-1.62zM491.44 111.94h1.62v1.62h-1.62zM489.94 113.44h3.12v1.62h-3.12zM561.94 113.44h3.12v1.62h-3.12zM477.94 114.94h1.62v1.62h-1.62zM485.44 114.94h1.62v1.62h-1.62zM489.94 114.94h3.12v1.62h-3.12zM561.94 114.94h4.62v1.62h-4.62zM489.94 116.44h3.12v1.62h-3.12zM479.44 117.94h1.62v1.62h-1.62zM489.94 117.94h1.62v1.62h-1.62zM557.44 117.94h3.12v1.62h-3.12zM482.44 119.44h1.62v1.62h-1.62zM486.94 119.44h1.62v1.62h-1.62zM489.94 119.44h1.62v1.62h-1.62zM557.44 119.44h1.62v1.62h-1.62zM480.94 120.94h1.62v1.62h-1.62zM489.94 120.94h1.62v1.62h-1.62zM482.44 122.44h1.62v1.62h-1.62zM488.44 122.44h3.12v1.62h-3.12zM483.94 123.94h1.62v1.62h-1.62zM489.94 123.94h1.62v1.62h-1.62z"/><path fill="#292929" d="M558.94 90.94h1.62v1.62h-1.62zM482.44 92.44h1.62v1.62h-1.62zM558.94 92.44h3.12v1.62h-3.12zM482.44 93.94h1.62v1.62h-1.62zM488.44 93.94h1.62v1.62h-1.62zM558.94 93.94h1.62v1.62h-1.62zM561.94 93.94h6.12v1.62h-6.12zM480.94 95.44h1.62v1.62h-1.62zM488.44 95.44h1.62v1.62h-1.62zM558.94 95.44h1.62v1.62h-1.62zM563.44 95.44h3.12v1.62h-3.12zM479.44 96.94h1.62v1.62h-1.62zM486.94 96.94h3.12v1.62h-3.12zM479.44 98.44h1.62v1.62h-1.62zM488.44 98.44h1.62v1.62h-1.62zM480.94 99.94h1.62v1.62h-1.62zM488.44 99.94h1.62v1.62h-1.62zM477.94 101.44h1.62v1.62h-1.62zM485.44 101.44h1.62v1.62h-1.62zM488.44 101.44h1.62v1.62h-1.62zM477.94 102.94h1.62v1.62h-1.62zM488.44 102.94h3.12v1.62h-3.12zM477.94 104.44h1.62v1.62h-1.62zM488.44 104.44h3.12v1.62h-3.12zM560.44 108.94h1.62v1.62h-1.62zM477.94 110.44h1.62v1.62h-1.62zM486.94 110.44h1.62v1.62h-1.62zM563.44 110.44h1.62v1.62h-1.62zM477.94 111.94h1.62v1.62h-1.62zM488.44 111.94h3.12v1.62h-3.12zM563.44 111.94h4.62v1.62h-4.62zM477.94 113.44h1.62v1.62h-1.62zM480.94 113.44h1.62v1.62h-1.62zM488.44 113.44h1.62v1.62h-1.62zM564.94 113.44h1.62v1.62h-1.62zM479.44 114.94h1.62v1.62h-1.62zM488.44 114.94h1.62v1.62h-1.62zM558.94 114.94h3.12v1.62h-3.12zM479.44 116.44h1.62v1.62h-1.62zM488.44 116.44h1.62v1.62h-1.62zM558.94 116.44h1.62v1.62h-1.62zM480.94 117.94h1.62v1.62h-1.62zM486.94 117.94h3.12v1.62h-3.12zM480.94 119.44h1.62v1.62h-1.62zM488.44 119.44h1.62v1.62h-1.62zM482.44 120.94h1.62v1.62h-1.62zM488.44 120.94h1.62v1.62h-1.62z"/><path fill="#2a2a2a" d="M560.44 93.94h1.62v1.62h-1.62zM560.44 95.44h3.12v1.62h-3.12zM566.44 95.44h1.62v1.62h-1.62zM480.94 96.94h1.62v1.62h-1.62zM560.44 96.94h1.62v1.62h-1.62zM563.44 96.94h6.12v1.62h-6.12zM480.94 98.44h1.62v1.62h-1.62zM486.94 98.44h1.62v1.62h-1.62zM560.44 98.44h1.62v1.62h-1.62zM564.94 98.44h4.62v1.62h-4.62zM479.44 99.94h1.62v1.62h-1.62zM486.94 99.94h1.62v1.62h-1.62zM560.44 99.94h1.62v1.62h-1.62zM479.44 101.44h1.62v1.62h-1.62zM486.94 101.44h1.62v1.62h-1.62zM563.44 101.44h1.62v1.62h-1.62zM479.44 102.94h1.62v1.62h-1.62zM485.44 102.94h3.12v1.62h-3.12zM479.44 104.44h1.62v1.62h-1.62zM485.44 104.44h3.12v1.62h-3.12zM564.94 107.44h4.62v1.62h-4.62zM563.44 108.94h6.12v1.62h-6.12zM479.44 110.44h1.62v1.62h-1.62zM485.44 110.44h1.62v1.62h-1.62zM560.44 110.44h1.62v1.62h-1.62zM564.94 110.44h3.12v1.62h-3.12zM479.44 111.94h1.62v1.62h-1.62zM485.44 111.94h3.12v1.62h-3.12zM560.44 111.94h3.12v1.62h-3.12zM479.44 113.44h1.62v1.62h-1.62zM485.44 113.44h3.12v1.62h-3.12zM560.44 113.44h1.62v1.62h-1.62zM480.94 114.94h1.62v1.62h-1.62zM486.94 114.94h1.62v1.62h-1.62zM480.94 116.44h1.62v1.62h-1.62zM486.94 116.44h1.62v1.62h-1.62z"/><path fill="#2b2b2b" d="M561.94 96.94h1.62v1.62h-1.62zM561.94 98.44h3.12v1.62h-3.12zM561.94 99.94h3.12v1.62h-3.12zM561.94 101.44h1.62v1.62h-1.62zM564.94 105.94h4.62v1.62h-4.62zM561.94 107.44h3.12v1.62h-3.12zM561.94 108.94h1.62v1.62h-1.62zM561.94 110.44h1.62v1.62h-1.62z"/></g></g>
<g class="axes"><line class="ax" x1="413.3" y1="167.6" x2="413.3" y2="42.8"/><line class="ax" x1="413.3" y1="167.6" x2="533.6" y2="177.4"/><line class="ax" x1="533.6" y1="177.4" x2="616.7" y2="162.1"/><line class="ax" x1="439.5" y1="169.73" x2="439.5" y2="173.03"/><line class="ax" x1="597.1" y1="165.71" x2="597.1" y2="169.01"/><line class="ax" x1="413.3" y1="144.7" x2="409.5" y2="144.4"/><line class="ax" x1="472.7" y1="172.44" x2="472.7" y2="175.74"/><line class="ax" x1="574.6" y1="169.85" x2="574.6" y2="173.15"/><line class="ax" x1="413.3" y1="105.1" x2="409.5" y2="104.8"/><line class="ax" x1="505.9" y1="175.14" x2="505.9" y2="178.44"/><line class="ax" x1="552.1" y1="173.99" x2="552.1" y2="177.29"/><line class="ax" x1="413.3" y1="65.5" x2="409.5" y2="65.2"/></g>
<text class="tk" text-anchor="end" x="438.9" y="188.13">-200</text><text class="tk" x="597.2" y="184.11">-200</text><text class="tk" text-anchor="end" x="405.7" y="148.9">-200</text><text class="tk" text-anchor="end" x="472.1" y="190.84">0</text><text class="tk" x="574.7" y="188.25">0</text><text class="tk" text-anchor="end" x="405.7" y="109.3">0</text><text class="tk" text-anchor="end" x="505.3" y="193.54">200</text><text class="tk" x="552.2" y="192.39">200</text><text class="tk" text-anchor="end" x="405.7" y="69.7">200</text>
<text class="m" textLength="11" lengthAdjust="spacingAndGlyphs" x="454.2" y="203.9">m</text>
<text class="m" textLength="11" lengthAdjust="spacingAndGlyphs" x="591.9" y="203.1">m</text>
<text class="m" textLength="11" lengthAdjust="spacingAndGlyphs" transform="translate(373.3 105.3) rotate(-90)" x="-5.6" y="3.3">m</text>
<rect x="641.3" y="20.2" width="14.6" height="164.7" fill="url(#hot)"/>
<rect class="cbx" x="641.3" y="20.2" width="14.6" height="164.7"/>
<text class="tk" x="659.5" y="189.2">0</text>
<line class="ax" x1="654.3" y1="156.31" x2="655.9" y2="156.31"/>
<text class="tk" x="659.5" y="160.61">10</text>
<line class="ax" x1="654.3" y1="127.71" x2="655.9" y2="127.71"/>
<text class="tk" x="659.5" y="132.01">20</text>
<line class="ax" x1="654.3" y1="99.12" x2="655.9" y2="99.12"/>
<text class="tk" x="659.5" y="103.42">30</text>
<line class="ax" x1="654.3" y1="70.52" x2="655.9" y2="70.52"/>
<text class="tk" x="659.5" y="74.82">40</text>
<line class="ax" x1="654.3" y1="41.93" x2="655.9" y2="41.93"/>
<text class="tk" x="659.5" y="46.23">50</text>
<text class="deg" x="673.8" y="106">(°)</text>
</g>
<g id="panel-c">
<g class="grid"><line class="g" x1="108.25" y1="373.45" x2="108.25" y2="245.7"/><line class="g" x1="42.7" y1="361.25" x2="127.7" y2="345.95"/><line class="g" x1="155.55" y1="372.22" x2="155.55" y2="244.47"/><line class="g" x1="127.7" y1="345.95" x2="250.8" y2="356"/><line class="g" x1="155.55" y1="372.22" x2="70.55" y2="387.52"/><line class="g" x1="108.25" y1="373.45" x2="231.35" y2="383.5"/><line class="g" x1="85.4" y1="377.56" x2="85.4" y2="249.81"/><line class="g" x1="42.7" y1="321" x2="127.7" y2="305.7"/><line class="g" x1="189.5" y1="375" x2="189.5" y2="247.25"/><line class="g" x1="127.7" y1="305.7" x2="250.8" y2="315.75"/><line class="g" x1="189.5" y1="375" x2="104.5" y2="390.3"/><line class="g" x1="85.4" y1="377.56" x2="208.5" y2="387.61"/><line class="g" x1="62.55" y1="381.68" x2="62.55" y2="253.93"/><line class="g" x1="42.7" y1="280.75" x2="127.7" y2="265.45"/><line class="g" x1="223.45" y1="377.77" x2="223.45" y2="250.02"/><line class="g" x1="127.7" y1="265.45" x2="250.8" y2="275.5"/><line class="g" x1="223.45" y1="377.77" x2="138.45" y2="393.07"/><line class="g" x1="62.55" y1="381.68" x2="185.65" y2="391.73"/></g>
<clipPath id="clip-c"><path d="M199.63 318.32L199.61 319.33L199.57 320.35L199.51 321.37L199.41 322.38L199.29 323.4L199.14 324.41L198.97 325.43L198.77 326.44L198.54 327.46L198.28 328.47L198 329.48L197.68 330.49L197.34 331.49L196.97 332.5L196.57 333.5L196.14 334.5L195.68 335.49L195.2 336.49L194.68 337.47L194.13 338.45L193.54 339.43L192.93 340.4L192.29 341.37L191.61 342.33L190.9 343.28L190.16 344.22L189.38 345.15L188.57 346.08L187.73 346.99L186.85 347.89L185.94 348.78L185 349.65L184.02 350.51L183 351.35L181.95 352.18L180.87 352.99L179.75 353.77L178.6 354.54L177.42 355.29L176.21 356.01L174.96 356.71L173.68 357.39L172.37 358.03L171.03 358.65L169.66 359.24L168.26 359.8L166.84 360.32L165.39 360.81L163.91 361.27L162.42 361.69L160.91 362.08L159.37 362.42L157.82 362.73L156.26 363L154.68 363.23L153.09 363.42L151.49 363.56L149.89 363.67L148.28 363.73L146.68 363.75L145.07 363.73L143.46 363.67L141.86 363.56L140.27 363.42L138.69 363.23L137.12 363L135.56 362.73L134.02 362.43L132.49 362.08L130.99 361.7L129.51 361.28L128.05 360.83L126.61 360.34L125.2 359.82L123.82 359.27L122.46 358.69L121.13 358.08L119.84 357.44L118.57 356.77L117.34 356.08L116.14 355.37L114.97 354.63L113.83 353.87L112.73 353.09L111.66 352.29L110.63 351.48L109.62 350.64L108.66 349.8L107.72 348.93L106.82 348.06L105.96 347.17L105.13 346.27L104.33 345.35L103.56 344.43L102.83 343.5L102.12 342.56L101.45 341.62L100.82 340.66L100.21 339.7L99.63 338.73L99.09 337.76L98.58 336.78L98.09 335.8L97.64 334.81L97.21 333.82L96.81 332.83L96.45 331.83L96.11 330.83L95.8 329.83L95.51 328.83L95.26 327.82L95.03 326.81L94.83 325.8L94.65 324.79L94.51 323.78L94.39 322.76L94.29 321.75L94.23 320.73L94.19 319.72L94.17 318.7L94.19 317.69L94.23 316.67L94.29 315.65L94.39 314.64L94.51 313.62L94.66 312.6L94.83 311.59L95.03 310.58L95.26 309.56L95.52 308.55L95.8 307.54L96.12 306.53L96.46 305.52L96.83 304.52L97.23 303.52L97.66 302.52L98.12 301.52L98.6 300.53L99.12 299.55L99.67 298.56L100.26 297.59L100.87 296.62L101.51 295.65L102.19 294.69L102.9 293.74L103.64 292.8L104.42 291.87L105.23 290.94L106.07 290.03L106.95 289.13L107.86 288.24L108.8 287.37L109.78 286.51L110.8 285.67L111.85 284.84L112.93 284.03L114.05 283.24L115.2 282.48L116.38 281.73L117.59 281.01L118.84 280.31L120.12 279.63L121.43 278.99L122.77 278.37L124.14 277.78L125.54 277.22L126.96 276.7L128.41 276.21L129.89 275.75L131.38 275.33L132.89 274.94L134.43 274.6L135.98 274.29L137.54 274.02L139.12 273.79L140.71 273.6L142.31 273.46L143.91 273.35L145.52 273.29L147.12 273.27L148.73 273.29L150.34 273.35L151.94 273.46L153.53 273.6L155.11 273.79L156.68 274.02L158.24 274.28L159.78 274.59L161.31 274.94L162.81 275.32L164.29 275.74L165.75 276.19L167.19 276.68L168.6 277.2L169.98 277.75L171.34 278.33L172.67 278.94L173.96 279.58L175.23 280.25L176.46 280.94L177.66 281.65L178.83 282.39L179.97 283.15L181.07 283.93L182.14 284.73L183.17 285.54L184.18 286.38L185.14 287.22L186.08 288.09L186.98 288.96L187.84 289.85L188.67 290.75L189.47 291.66L190.24 292.59L190.97 293.52L191.68 294.46L192.35 295.4L192.98 296.36L193.59 297.32L194.17 298.29L194.71 299.26L195.22 300.24L195.71 301.22L196.16 302.21L196.59 303.2L196.99 304.19L197.35 305.19L197.69 306.19L198 307.19L198.29 308.19L198.54 309.2L198.77 310.21L198.97 311.22L199.15 312.23L199.29 313.24L199.41 314.26L199.51 315.27L199.57 316.28L199.61 317.3Z"/></clipPath>
<g clip-path="url(#clip-c)"><g filter="url(#hm-c)" shape-rendering="crispEdges"><path fill="#000000" d="M90.94 315.94h4.12v2.12h-4.12zM198.94 315.94h4.12v2.12h-4.12zM90.94 317.94h8.12v2.12h-8.12zM192.94 317.94h10.12v2.12h-10.12zM90.94 319.94h20.12v2.12h-20.12zM180.94 319.94h18.12v2.12h-18.12zM96.94 321.94h100.12v2.12h-100.12zM104.94 323.94h82.12v2.12h-82.12zM128.94 325.94h32.12v2.12h-32.12z"/><path fill="#010101" d="M90.94 313.94h4.12v2.12h-4.12zM198.94 313.94h4.12v2.12h-4.12zM94.94 315.94h4.12v2.12h-4.12zM194.94 315.94h4.12v2.12h-4.12zM98.94 317.94h10.12v2.12h-10.12zM182.94 317.94h10.12v2.12h-10.12zM110.94 319.94h70.12v2.12h-70.12zM198.94 319.94h4.12v2.12h-4.12zM90.94 321.94h2.12v2.12h-2.12zM94.94 321.94h2.12v2.12h-2.12zM196.94 321.94h2.12v2.12h-2.12zM96.94 323.94h8.12v2.12h-8.12zM186.94 323.94h8.12v2.12h-8.12zM106.94 325.94h22.12v2.12h-22.12zM160.94 325.94h24.12v2.12h-24.12zM136.94 327.94h16.12v2.12h-16.12z"/><path fill="#020202" d="M90.94 311.94h2.12v2.12h-2.12zM198.94 311.94h4.12v2.12h-4.12zM94.94 313.94h2.12v2.12h-2.12zM196.94 313.94h2.12v2.12h-2.12zM98.94 315.94h6.12v2.12h-6.12zM186.94 315.94h8.12v2.12h-8.12zM108.94 317.94h16.12v2.12h-16.12zM166.94 317.94h16.12v2.12h-16.12zM92.94 321.94h2.12v2.12h-2.12zM198.94 321.94h4.12v2.12h-4.12zM94.94 323.94h2.12v2.12h-2.12zM194.94 323.94h4.12v2.12h-4.12zM100.94 325.94h6.12v2.12h-6.12zM184.94 325.94h8.12v2.12h-8.12zM112.94 327.94h24.12v2.12h-24.12zM152.94 327.94h24.12v2.12h-24.12z"/><path fill="#030303" d="M92.94 311.94h2.12v2.12h-2.12zM96.94 313.94h4.12v2.12h-4.12zM192.94 313.94h4.12v2.12h-4.12zM104.94 315.94h8.12v2.12h-8.12zM178.94 315.94h8.12v2.12h-8.12zM124.94 317.94h42.12v2.12h-42.12zM90.94 323.94h4.12v2.12h-4.12zM198.94 323.94h4.12v2.12h-4.12zM96.94 325.94h4.12v2.12h-4.12zM192.94 325.94h2.12v2.12h-2.12zM104.94 327.94h8.12v2.12h-8.12zM176.94 327.94h10.12v2.12h-10.12zM126.94 329.94h36.12v2.12h-36.12z"/><path fill="#040404" d="M90.94 309.94h4.12v2.12h-4.12zM198.94 309.94h4.12v2.12h-4.12zM94.94 311.94h2.12v2.12h-2.12zM194.94 311.94h4.12v2.12h-4.12zM100.94 313.94h4.12v2.12h-4.12zM186.94 313.94h6.12v2.12h-6.12zM112.94 315.94h14.12v2.12h-14.12zM162.94 315.94h16.12v2.12h-16.12zM94.94 325.94h2.12v2.12h-2.12zM194.94 325.94h2.12v2.12h-2.12zM100.94 327.94h4.12v2.12h-4.12zM186.94 327.94h6.12v2.12h-6.12zM112.94 329.94h14.12v2.12h-14.12zM162.94 329.94h14.12v2.12h-14.12z"/><path fill="#050505" d="M196.94 309.94h2.12v2.12h-2.12zM96.94 311.94h4.12v2.12h-4.12zM192.94 311.94h2.12v2.12h-2.12zM104.94 313.94h8.12v2.12h-8.12zM178.94 313.94h8.12v2.12h-8.12zM126.94 315.94h36.12v2.12h-36.12zM90.94 325.94h4.12v2.12h-4.12zM196.94 325.94h6.12v2.12h-6.12zM96.94 327.94h4.12v2.12h-4.12zM192.94 327.94h2.12v2.12h-2.12zM106.94 329.94h6.12v2.12h-6.12zM176.94 329.94h8.12v2.12h-8.12zM128.94 331.94h32.12v2.12h-32.12z"/><path fill="#060606" d="M90.94 307.94h4.12v2.12h-4.12zM198.94 307.94h4.12v2.12h-4.12zM94.94 309.94h2.12v2.12h-2.12zM194.94 309.94h2.12v2.12h-2.12zM100.94 311.94h4.12v2.12h-4.12zM186.94 311.94h6.12v2.12h-6.12zM112.94 313.94h12.12v2.12h-12.12zM164.94 313.94h14.12v2.12h-14.12zM94.94 327.94h2.12v2.12h-2.12zM194.94 327.94h2.12v2.12h-2.12zM100.94 329.94h6.12v2.12h-6.12zM184.94 329.94h6.12v2.12h-6.12zM114.94 331.94h14.12v2.12h-14.12zM160.94 331.94h14.12v2.12h-14.12z"/><path fill="#070707" d="M196.94 307.94h2.12v2.12h-2.12zM96.94 309.94h4.12v2.12h-4.12zM192.94 309.94h2.12v2.12h-2.12zM104.94 311.94h8.12v2.12h-8.12zM178.94 311.94h8.12v2.12h-8.12zM124.94 313.94h40.12v2.12h-40.12zM90.94 327.94h4.12v2.12h-4.12zM196.94 327.94h6.12v2.12h-6.12zM98.94 329.94h2.12v2.12h-2.12zM190.94 329.94h4.12v2.12h-4.12zM106.94 331.94h8.12v2.12h-8.12zM174.94 331.94h8.12v2.12h-8.12zM136.94 333.94h16.12v2.12h-16.12z"/><path fill="#080808" d="M90.94 305.94h4.12v2.12h-4.12zM196.94 305.94h6.12v2.12h-6.12zM94.94 307.94h2.12v2.12h-2.12zM194.94 307.94h2.12v2.12h-2.12zM100.94 309.94h4.12v2.12h-4.12zM186.94 309.94h6.12v2.12h-6.12zM112.94 311.94h10.12v2.12h-10.12zM166.94 311.94h12.12v2.12h-12.12zM96.94 329.94h2.12v2.12h-2.12zM194.94 329.94h2.12v2.12h-2.12zM102.94 331.94h4.12v2.12h-4.12zM182.94 331.94h6.12v2.12h-6.12zM118.94 333.94h18.12v2.12h-18.12zM152.94 333.94h20.12v2.12h-20.12z"/><path fill="#090909" d="M200.94 303.94h2.12v2.12h-2.12zM94.94 305.94h2.12v2.12h-2.12zM96.94 307.94h4.12v2.12h-4.12zM192.94 307.94h2.12v2.12h-2.12zM104.94 309.94h6.12v2.12h-6.12zM178.94 309.94h8.12v2.12h-8.12zM122.94 311.94h44.12v2.12h-44.12zM90.94 329.94h6.12v2.12h-6.12zM198.94 329.94h4.12v2.12h-4.12zM98.94 331.94h4.12v2.12h-4.12zM188.94 331.94h4.12v2.12h-4.12zM108.94 333.94h10.12v2.12h-10.12zM172.94 333.94h10.12v2.12h-10.12z"/><path fill="#0a0a0a" d="M90.94 303.94h4.12v2.12h-4.12zM196.94 303.94h4.12v2.12h-4.12zM194.94 305.94h2.12v2.12h-2.12zM100.94 307.94h4.12v2.12h-4.12zM186.94 307.94h6.12v2.12h-6.12zM110.94 309.94h14.12v2.12h-14.12zM166.94 309.94h12.12v2.12h-12.12zM196.94 329.94h2.12v2.12h-2.12zM90.94 331.94h2.12v2.12h-2.12zM96.94 331.94h2.12v2.12h-2.12zM192.94 331.94h2.12v2.12h-2.12zM102.94 333.94h6.12v2.12h-6.12zM182.94 333.94h6.12v2.12h-6.12zM120.94 335.94h50.12v2.12h-50.12z"/><path fill="#0b0b0b" d="M90.94 301.94h2.12v2.12h-2.12zM198.94 301.94h4.12v2.12h-4.12zM94.94 303.94h2.12v2.12h-2.12zM96.94 305.94h4.12v2.12h-4.12zM190.94 305.94h4.12v2.12h-4.12zM104.94 307.94h8.12v2.12h-8.12zM178.94 307.94h8.12v2.12h-8.12zM124.94 309.94h42.12v2.12h-42.12zM92.94 331.94h4.12v2.12h-4.12zM194.94 331.94h8.12v2.12h-8.12zM100.94 333.94h2.12v2.12h-2.12zM188.94 333.94h4.12v2.12h-4.12zM110.94 335.94h10.12v2.12h-10.12zM170.94 335.94h10.12v2.12h-10.12z"/><path fill="#0c0c0c" d="M92.94 301.94h4.12v2.12h-4.12zM196.94 301.94h2.12v2.12h-2.12zM96.94 303.94h2.12v2.12h-2.12zM192.94 303.94h4.12v2.12h-4.12zM100.94 305.94h6.12v2.12h-6.12zM184.94 305.94h6.12v2.12h-6.12zM112.94 307.94h16.12v2.12h-16.12zM160.94 307.94h18.12v2.12h-18.12zM90.94 333.94h4.12v2.12h-4.12zM98.94 333.94h2.12v2.12h-2.12zM192.94 333.94h2.12v2.12h-2.12zM198.94 333.94h2.12v2.12h-2.12zM104.94 335.94h6.12v2.12h-6.12zM180.94 335.94h8.12v2.12h-8.12zM120.94 337.94h50.12v2.12h-50.12z"/><path fill="#0d0d0d" d="M92.94 299.94h2.12v2.12h-2.12zM196.94 299.94h4.12v2.12h-4.12zM96.94 301.94h2.12v2.12h-2.12zM194.94 301.94h2.12v2.12h-2.12zM98.94 303.94h4.12v2.12h-4.12zM188.94 303.94h4.12v2.12h-4.12zM106.94 305.94h12.12v2.12h-12.12zM172.94 305.94h12.12v2.12h-12.12zM128.94 307.94h32.12v2.12h-32.12zM94.94 333.94h4.12v2.12h-4.12zM194.94 333.94h4.12v2.12h-4.12zM100.94 335.94h4.12v2.12h-4.12zM188.94 335.94h4.12v2.12h-4.12zM108.94 337.94h12.12v2.12h-12.12zM170.94 337.94h12.12v2.12h-12.12zM138.94 339.94h14.12v2.12h-14.12z"/><path fill="#0e0e0e" d="M92.94 297.94h2.12v2.12h-2.12zM196.94 297.94h4.12v2.12h-4.12zM94.94 299.94h4.12v2.12h-4.12zM194.94 299.94h2.12v2.12h-2.12zM98.94 301.94h4.12v2.12h-4.12zM188.94 301.94h6.12v2.12h-6.12zM102.94 303.94h12.12v2.12h-12.12zM176.94 303.94h12.12v2.12h-12.12zM118.94 305.94h54.12v2.12h-54.12zM92.94 335.94h8.12v2.12h-8.12zM192.94 335.94h8.12v2.12h-8.12zM102.94 337.94h6.12v2.12h-6.12zM182.94 337.94h8.12v2.12h-8.12zM114.94 339.94h24.12v2.12h-24.12zM152.94 339.94h24.12v2.12h-24.12z"/><path fill="#0f0f0f" d="M94.94 295.94h2.12v2.12h-2.12zM196.94 295.94h2.12v2.12h-2.12zM94.94 297.94h4.12v2.12h-4.12zM192.94 297.94h4.12v2.12h-4.12zM98.94 299.94h4.12v2.12h-4.12zM188.94 299.94h6.12v2.12h-6.12zM102.94 301.94h12.12v2.12h-12.12zM176.94 301.94h12.12v2.12h-12.12zM114.94 303.94h62.12v2.12h-62.12zM92.94 337.94h10.12v2.12h-10.12zM190.94 337.94h2.12v2.12h-2.12zM194.94 337.94h4.12v2.12h-4.12zM104.94 339.94h10.12v2.12h-10.12zM176.94 339.94h12.12v2.12h-12.12zM116.94 341.94h58.12v2.12h-58.12z"/><path fill="#101010" d="M94.94 293.94h4.12v2.12h-4.12zM192.94 293.94h6.12v2.12h-6.12zM96.94 295.94h4.12v2.12h-4.12zM190.94 295.94h6.12v2.12h-6.12zM98.94 297.94h8.12v2.12h-8.12zM184.94 297.94h8.12v2.12h-8.12zM102.94 299.94h22.12v2.12h-22.12zM166.94 299.94h22.12v2.12h-22.12zM114.94 301.94h62.12v2.12h-62.12zM192.94 337.94h2.12v2.12h-2.12zM94.94 339.94h10.12v2.12h-10.12zM188.94 339.94h10.12v2.12h-10.12zM96.94 341.94h2.12v2.12h-2.12zM102.94 341.94h14.12v2.12h-14.12zM174.94 341.94h14.12v2.12h-14.12zM194.94 341.94h2.12v2.12h-2.12zM114.94 343.94h62.12v2.12h-62.12z"/><path fill="#111111" d="M100.94 287.94h4.12v2.12h-4.12zM188.94 287.94h4.12v2.12h-4.12zM98.94 289.94h6.12v2.12h-6.12zM186.94 289.94h8.12v2.12h-8.12zM96.94 291.94h14.12v2.12h-14.12zM180.94 291.94h16.12v2.12h-16.12zM98.94 293.94h28.12v2.12h-28.12zM162.94 293.94h30.12v2.12h-30.12zM100.94 295.94h90.12v2.12h-90.12zM106.94 297.94h78.12v2.12h-78.12zM124.94 299.94h42.12v2.12h-42.12zM98.94 341.94h4.12v2.12h-4.12zM188.94 341.94h6.12v2.12h-6.12zM98.94 343.94h16.12v2.12h-16.12zM176.94 343.94h18.12v2.12h-18.12zM98.94 345.94h94.12v2.12h-94.12zM100.94 347.94h2.12v2.12h-2.12zM110.94 347.94h72.12v2.12h-72.12zM126.94 349.94h38.12v2.12h-38.12z"/><path fill="#121212" d="M126.94 269.94h42.12v2.12h-42.12zM120.94 271.94h52.12v2.12h-52.12zM116.94 273.94h60.12v2.12h-60.12zM114.94 275.94h64.12v2.12h-64.12zM110.94 277.94h72.12v2.12h-72.12zM108.94 279.94h76.12v2.12h-76.12zM106.94 281.94h80.12v2.12h-80.12zM104.94 283.94h84.12v2.12h-84.12zM102.94 285.94h88.12v2.12h-88.12zM104.94 287.94h84.12v2.12h-84.12zM104.94 289.94h82.12v2.12h-82.12zM110.94 291.94h70.12v2.12h-70.12zM126.94 293.94h36.12v2.12h-36.12zM102.94 347.94h8.12v2.12h-8.12zM182.94 347.94h8.12v2.12h-8.12zM102.94 349.94h24.12v2.12h-24.12zM164.94 349.94h24.12v2.12h-24.12zM104.94 351.94h82.12v2.12h-82.12zM106.94 353.94h78.12v2.12h-78.12zM110.94 355.94h72.12v2.12h-72.12zM112.94 357.94h68.12v2.12h-68.12zM114.94 359.94h62.12v2.12h-62.12zM118.94 361.94h56.12v2.12h-56.12zM122.94 363.94h48.12v2.12h-48.12zM128.94 365.94h36.12v2.12h-36.12z"/></g></g>
<g class="axes"><line class="ax" x1="42.7" y1="385.25" x2="42.7" y2="257.5"/><line class="ax" x1="42.7" y1="385.25" x2="165.8" y2="395.3"/><line class="ax" x1="165.8" y1="395.3" x2="250.8" y2="380"/><line class="ax" x1="70.55" y1="387.52" x2="70.55" y2="390.82"/><line class="ax" x1="231.35" y1="383.5" x2="231.35" y2="386.8"/><line class="ax" x1="42.7" y1="361.25" x2="38.9" y2="360.95"/><line class="ax" x1="104.5" y1="390.3" x2="104.5" y2="393.6"/><line class="ax" x1="208.5" y1="387.61" x2="208.5" y2="390.91"/><line class="ax" x1="42.7" y1="321" x2="38.9" y2="320.7"/><line class="ax" x1="138.45" y1="393.07" x2="138.45" y2="396.37"/><line class="ax" x1="185.65" y1="391.73" x2="185.65" y2="395.03"/><line class="ax" x1="42.7" y1="280.75" x2="38.9" y2="280.45"/></g>
<text class="tk" text-anchor="end" x="69.95" y="405.92">-200</text><text class="tk" x="231.45" y="401.9">-200</text><text class="tk" text-anchor="end" x="35.1" y="365.45">-200</text><text class="tk" text-anchor="end" x="103.9" y="408.7">0</text><text class="tk" x="208.6" y="406.01">0</text><text class="tk" text-anchor="end" x="35.1" y="325.2">0</text><text class="tk" text-anchor="end" x="137.85" y="411.47">200</text><text class="tk" x="185.75" y="410.13">200</text><text class="tk" text-anchor="end" x="35.1" y="284.95">200</text>
<text class="m" textLength="11" lengthAdjust="spacingAndGlyphs" x="85.5" y="421.9">m</text>
<text class="m" textLength="11" lengthAdjust="spacingAndGlyphs" x="225.3" y="420.5">m</text>
<text class="m" textLength="11" lengthAdjust="spacingAndGlyphs" transform="translate(3 321.6) rotate(-90)" x="-5.6" y="3.3">m</text>
<rect x="276" y="237.9" width="14.75" height="161.1" fill="url(#hot)"/>
<rect class="cbx" x="276" y="237.9" width="14.75" height="161.1"/>
<text class="tk" x="294.35" y="403.3">0</text>
<line class="ax" x1="289.15" y1="371.03" x2="290.75" y2="371.03"/>
<text class="tk" x="294.35" y="375.33">10</text>
<line class="ax" x1="289.15" y1="343.06" x2="290.75" y2="343.06"/>
<text class="tk" x="294.35" y="347.36">20</text>
<line class="ax" x1="289.15" y1="315.09" x2="290.75" y2="315.09"/>
<text class="tk" x="294.35" y="319.39">30</text>
<line class="ax" x1="289.15" y1="287.12" x2="290.75" y2="287.12"/>
<text class="tk" x="294.35" y="291.43">40</text>
<line class="ax" x1="289.15" y1="259.16" x2="290.75" y2="259.16"/>
<text class="tk" x="294.35" y="263.46">50</text>
<text class="deg" x="308.6" y="321.9">(°)</text>
</g>
<g id="panel-d">
<g class="grid"><line class="g" x1="474.7" y1="374.62" x2="474.7" y2="247.82"/><line class="g" x1="409.6" y1="363.4" x2="494.9" y2="347.7"/><line class="g" x1="522.2" y1="373.21" x2="522.2" y2="246.41"/><line class="g" x1="494.9" y1="347.7" x2="616.7" y2="358"/><line class="g" x1="522.2" y1="373.21" x2="436.9" y2="388.91"/><line class="g" x1="474.7" y1="374.62" x2="596.5" y2="384.92"/><line class="g" x1="452.1" y1="378.78" x2="452.1" y2="251.98"/><line class="g" x1="409.6" y1="323.1" x2="494.9" y2="307.4"/><line class="g" x1="555.9" y1="376.06" x2="555.9" y2="249.26"/><line class="g" x1="494.9" y1="307.4" x2="616.7" y2="317.7"/><line class="g" x1="555.9" y1="376.06" x2="470.6" y2="391.76"/><line class="g" x1="452.1" y1="378.78" x2="573.9" y2="389.08"/><line class="g" x1="429.5" y1="382.94" x2="429.5" y2="256.14"/><line class="g" x1="409.6" y1="282.8" x2="494.9" y2="267.1"/><line class="g" x1="589.6" y1="378.91" x2="589.6" y2="252.11"/><line class="g" x1="494.9" y1="267.1" x2="616.7" y2="277.4"/><line class="g" x1="589.6" y1="378.91" x2="504.3" y2="394.61"/><line class="g" x1="429.5" y1="382.94" x2="551.3" y2="393.24"/></g>
<clipPath id="clip-d"><path d="M565.64 319.86L565.6 325.42L565.51 327.73L565.39 329.49L565.26 330.97L565.1 332.27L564.93 333.43L564.75 334.5L564.55 335.49L564.34 336.42L564.12 337.29L563.89 338.12L563.65 338.9L563.39 339.65L563.13 340.37L562.85 341.07L562.56 341.74L562.26 342.38L561.95 343.01L561.63 343.62L561.3 344.21L560.96 344.79L560.6 345.35L560.23 345.9L559.85 346.44L559.46 346.97L559.05 347.49L558.62 348L558.18 348.51L557.72 349L557.25 349.49L556.75 349.97L556.24 350.45L555.7 350.92L555.14 351.38L554.56 351.84L553.95 352.3L553.31 352.75L552.64 353.2L551.94 353.64L551.2 354.08L550.41 354.52L549.59 354.95L548.71 355.39L547.78 355.82L546.79 356.24L545.72 356.67L544.57 357.09L543.32 357.51L541.95 357.94L540.42 358.37L538.67 358.82L536.53 359.3L532.91 360.01L527.83 360.9L525.38 361.26L523.2 361.52L521.11 361.71L519.02 361.85L516.88 361.93L514.61 361.96L512.12 361.93L509.17 361.81L504.75 361.52L496.03 360.74L492.87 360.37L490.49 360.03L488.5 359.69L486.76 359.34L485.21 358.99L483.81 358.63L482.52 358.27L481.33 357.9L480.23 357.53L479.21 357.15L478.24 356.77L477.34 356.38L476.48 355.99L475.68 355.59L474.91 355.19L474.19 354.78L473.5 354.37L472.84 353.95L472.21 353.53L471.61 353.11L471.04 352.68L470.49 352.25L469.96 351.81L469.45 351.36L468.96 350.91L468.49 350.45L468.04 349.99L467.6 349.52L467.18 349.04L466.78 348.55L466.38 348.05L466 347.54L465.64 347.02L465.28 346.49L464.94 345.95L464.61 345.39L464.29 344.82L463.98 344.23L463.68 343.62L463.39 342.99L463.11 342.34L462.84 341.66L462.58 340.96L462.33 340.23L462.09 339.46L461.86 338.64L461.64 337.79L461.44 336.88L461.24 335.9L461.06 334.84L460.89 333.69L460.74 332.4L460.61 330.93L460.49 329.17L460.4 326.88L460.36 321.31L460.4 315.75L460.49 313.45L460.61 311.68L460.74 310.2L460.9 308.91L461.07 307.74L461.25 306.67L461.45 305.68L461.66 304.75L461.88 303.88L462.11 303.06L462.35 302.27L462.61 301.52L462.87 300.8L463.15 300.11L463.44 299.44L463.74 298.79L464.05 298.16L464.37 297.55L464.7 296.96L465.04 296.38L465.4 295.82L465.77 295.27L466.15 294.73L466.54 294.2L466.95 293.68L467.38 293.17L467.82 292.67L468.28 292.17L468.75 291.68L469.25 291.2L469.76 290.73L470.3 290.26L470.86 289.79L471.44 289.33L472.05 288.87L472.69 288.42L473.36 287.97L474.06 287.53L474.8 287.09L475.59 286.65L476.41 286.22L477.29 285.79L478.22 285.36L479.21 284.93L480.28 284.5L481.43 284.08L482.68 283.66L484.05 283.23L485.58 282.8L487.33 282.36L489.47 281.87L493.09 281.16L498.17 280.27L500.62 279.91L502.8 279.65L504.89 279.46L506.98 279.32L509.12 279.24L511.39 279.21L513.88 279.24L516.83 279.36L521.25 279.66L529.97 280.43L533.13 280.8L535.51 281.14L537.5 281.49L539.24 281.83L540.79 282.18L542.19 282.54L543.48 282.9L544.67 283.27L545.77 283.64L546.79 284.02L547.76 284.41L548.66 284.79L549.52 285.19L550.32 285.58L551.09 285.99L551.81 286.39L552.5 286.8L553.16 287.22L553.79 287.64L554.39 288.06L554.96 288.49L555.51 288.92L556.04 289.36L556.55 289.81L557.04 290.26L557.51 290.72L557.96 291.18L558.4 291.65L558.82 292.13L559.22 292.62L559.62 293.12L560 293.63L560.36 294.15L560.72 294.68L561.06 295.22L561.39 295.78L561.71 296.35L562.02 296.94L562.32 297.55L562.61 298.18L562.89 298.83L563.16 299.51L563.42 300.21L563.67 300.95L563.91 301.72L564.14 302.53L564.36 303.38L564.56 304.3L564.76 305.27L564.94 306.33L565.11 307.49L565.26 308.77L565.39 310.24L565.51 312L565.6 314.3Z"/></clipPath>
<g clip-path="url(#clip-d)"><g filter="url(#hm-d)" shape-rendering="crispEdges"><path fill="#020202" d="M520.94 349.54h1.72v1.72h-1.72z"/><path fill="#030303" d="M520.94 301.54h1.72v1.72h-1.72z"/><path fill="#040404" d="M544.94 293.54h1.72v1.72h-1.72z"/><path fill="#050505" d="M488.94 352.74h1.72v1.72h-1.72z"/><path fill="#060606" d="M488.94 295.14h1.72v1.72h-1.72z"/><path fill="#080808" d="M544.94 351.14h1.72v1.72h-1.72z"/><path fill="#090909" d="M490.54 293.54h1.72v1.72h-1.72zM463.34 298.34h1.72v1.72h-1.72zM519.34 301.54h1.72v1.72h-1.72zM520.94 303.14h1.72v1.72h-1.72zM460.14 320.74h1.72v1.72h-1.72zM551.34 322.34h1.72v1.72h-1.72zM520.94 325.54h1.72v1.72h-1.72zM519.34 349.54h1.72v1.72h-1.72z"/><path fill="#0a0a0a" d="M488.94 293.54h1.72v1.72h-1.72zM490.54 295.14h1.72v1.72h-1.72zM522.54 301.54h1.72v1.72h-1.72zM522.54 325.54h1.72v1.72h-1.72zM520.94 327.14h1.72v1.72h-1.72zM522.54 349.54h1.72v1.72h-1.72zM543.34 352.74h1.72v1.72h-1.72zM490.54 354.34h1.72v1.72h-1.72z"/><path fill="#0b0b0b" d="M543.34 291.94h1.72v1.72h-1.72zM520.94 299.94h1.72v1.72h-1.72zM484.14 323.94h3.32v1.72h-3.32zM485.74 325.54h1.72v1.72h-1.72zM522.54 327.14h1.72v1.72h-1.72zM464.94 346.34h1.72v1.72h-1.72zM520.94 351.14h1.72v1.72h-1.72zM490.54 352.74h1.72v1.72h-1.72z"/><path fill="#0c0c0c" d="M544.94 291.94h1.72v1.72h-1.72zM546.54 293.54h1.72v1.72h-1.72zM464.94 295.14h1.72v1.72h-1.72zM487.34 295.14h1.72v1.72h-1.72zM464.94 296.74h1.72v1.72h-1.72zM519.34 303.14h1.72v1.72h-1.72zM522.54 303.14h1.72v1.72h-1.72zM551.34 323.94h1.72v1.72h-1.72zM520.94 347.94h1.72v1.72h-1.72zM519.34 351.14h1.72v1.72h-1.72zM487.34 352.74h1.72v1.72h-1.72z"/><path fill="#0d0d0d" d="M562.54 291.94h1.72v1.72h-1.72zM543.34 293.54h1.72v1.72h-1.72zM560.94 293.54h4.92v1.72h-4.92zM546.54 295.14h1.72v1.72h-1.72zM560.94 295.14h1.72v1.72h-1.72zM488.94 296.74h1.72v1.72h-1.72zM519.34 299.94h1.72v1.72h-1.72zM460.14 322.34h1.72v1.72h-1.72zM484.14 325.54h1.72v1.72h-1.72zM463.34 343.14h1.72v1.72h-1.72zM463.34 344.74h1.72v1.72h-1.72zM460.14 346.34h4.92v1.72h-4.92zM522.54 347.94h1.72v1.72h-1.72zM522.54 351.14h1.72v1.72h-1.72zM546.54 351.14h1.72v1.72h-1.72zM544.94 352.74h1.72v1.72h-1.72zM488.94 354.34h1.72v1.72h-1.72z"/><path fill="#0e0e0e" d="M492.14 293.54h1.72v1.72h-1.72zM544.94 295.14h1.72v1.72h-1.72zM522.54 299.94h1.72v1.72h-1.72zM517.74 301.54h1.72v1.72h-1.72zM519.34 325.54h1.72v1.72h-1.72zM519.34 327.14h1.72v1.72h-1.72zM461.74 344.74h1.72v1.72h-1.72zM461.74 347.94h1.72v1.72h-1.72zM519.34 347.94h1.72v1.72h-1.72zM492.14 354.34h1.72v1.72h-1.72z"/><path fill="#0f0f0f" d="M560.94 291.94h1.72v1.72h-1.72zM487.34 293.54h1.72v1.72h-1.72zM562.54 295.14h1.72v1.72h-1.72zM487.34 296.74h1.72v1.72h-1.72zM520.94 304.74h1.72v1.72h-1.72zM549.74 322.34h1.72v1.72h-1.72zM549.74 323.94h1.72v1.72h-1.72zM524.14 325.54h1.72v1.72h-1.72zM460.14 344.74h1.72v1.72h-1.72zM517.74 349.54h1.72v1.72h-1.72zM546.54 349.54h1.72v1.72h-1.72zM487.34 351.14h3.32v1.72h-3.32zM517.74 351.14h1.72v1.72h-1.72z"/><path fill="#101010" d="M490.54 291.94h1.72v1.72h-1.72zM492.14 295.14h1.72v1.72h-1.72zM564.14 295.14h1.72v1.72h-1.72zM490.54 296.74h1.72v1.72h-1.72zM517.74 299.94h1.72v1.72h-1.72zM524.14 301.54h1.72v1.72h-1.72zM517.74 303.14h1.72v1.72h-1.72zM519.34 304.74h1.72v1.72h-1.72zM522.54 304.74h1.72v1.72h-1.72zM487.34 325.54h1.72v1.72h-1.72zM524.14 327.14h1.72v1.72h-1.72zM463.34 347.94h1.72v1.72h-1.72zM524.14 349.54h1.72v1.72h-1.72z"/><path fill="#111111" d="M543.34 290.34h1.72v1.72h-1.72zM488.94 291.94h1.72v1.72h-1.72zM492.14 291.94h1.72v1.72h-1.72zM541.74 291.94h1.72v1.72h-1.72zM559.34 291.94h1.72v1.72h-1.72zM463.34 299.94h1.72v1.72h-1.72zM524.14 299.94h1.72v1.72h-1.72zM524.14 303.14h1.72v1.72h-1.72zM460.14 319.14h1.72v1.72h-1.72zM487.34 323.94h1.72v1.72h-1.72zM461.74 343.14h1.72v1.72h-1.72zM464.94 347.94h1.72v1.72h-1.72zM524.14 347.94h1.72v1.72h-1.72zM524.14 351.14h1.72v1.72h-1.72zM492.14 352.74h1.72v1.72h-1.72z"/><path fill="#121212" d="M541.74 290.34h1.72v1.72h-1.72zM560.94 290.34h1.72v1.72h-1.72zM546.54 291.94h1.72v1.72h-1.72zM485.74 295.14h1.72v1.72h-1.72zM548.14 295.14h1.72v1.72h-1.72zM546.54 296.74h1.72v1.72h-1.72zM562.54 296.74h1.72v1.72h-1.72zM519.34 298.34h3.32v1.72h-3.32zM552.94 322.34h1.72v1.72h-1.72zM482.54 323.94h1.72v1.72h-1.72zM520.94 323.94h3.32v1.72h-3.32zM520.94 346.34h3.32v1.72h-3.32zM466.54 347.94h1.72v1.72h-1.72zM517.74 347.94h1.72v1.72h-1.72zM548.14 349.54h1.72v1.72h-1.72zM485.74 351.14h1.72v1.72h-1.72zM490.54 351.14h1.72v1.72h-1.72zM543.34 351.14h1.72v1.72h-1.72zM485.74 352.74h1.72v1.72h-1.72zM519.34 352.74h3.32v1.72h-3.32zM487.34 354.34h1.72v1.72h-1.72zM541.74 354.34h1.72v1.72h-1.72z"/><path fill="#131313" d="M466.54 293.54h1.72v1.72h-1.72zM493.74 293.54h1.72v1.72h-1.72zM466.54 295.14h1.72v1.72h-1.72zM543.34 295.14h1.72v1.72h-1.72zM485.74 296.74h1.72v1.72h-1.72zM492.14 296.74h1.72v1.72h-1.72zM487.34 298.34h3.32v1.72h-3.32zM522.54 298.34h1.72v1.72h-1.72zM516.14 301.54h1.72v1.72h-1.72zM551.34 320.74h1.72v1.72h-1.72zM482.54 325.54h1.72v1.72h-1.72zM517.74 325.54h1.72v1.72h-1.72zM517.74 327.14h1.72v1.72h-1.72zM520.94 328.74h3.32v1.72h-3.32zM460.14 343.14h1.72v1.72h-1.72zM519.34 346.34h1.72v1.72h-1.72zM463.34 349.54h1.72v1.72h-1.72zM516.14 349.54h1.72v1.72h-1.72zM544.94 349.54h1.72v1.72h-1.72zM516.14 351.14h1.72v1.72h-1.72zM541.74 352.74h1.72v1.72h-1.72zM493.74 354.34h1.72v1.72h-1.72zM492.14 355.94h1.72v1.72h-1.72z"/><path fill="#141414" d="M544.94 290.34h1.72v1.72h-1.72zM559.34 290.34h1.72v1.72h-1.72zM493.74 291.94h1.72v1.72h-1.72zM485.74 293.54h1.72v1.72h-1.72zM541.74 293.54h1.72v1.72h-1.72zM548.14 293.54h1.72v1.72h-1.72zM493.74 295.14h1.72v1.72h-1.72zM548.14 296.74h1.72v1.72h-1.72zM564.14 296.74h1.72v1.72h-1.72zM464.94 298.34h1.72v1.72h-1.72zM517.74 298.34h1.72v1.72h-1.72zM516.14 299.94h1.72v1.72h-1.72zM525.74 301.54h1.72v1.72h-1.72zM517.74 304.74h1.72v1.72h-1.72zM524.14 304.74h1.72v1.72h-1.72zM520.94 306.34h1.72v1.72h-1.72zM484.14 322.34h3.32v1.72h-3.32zM460.14 323.94h1.72v1.72h-1.72zM519.34 323.94h1.72v1.72h-1.72zM552.94 323.94h1.72v1.72h-1.72zM525.74 325.54h1.72v1.72h-1.72zM458.54 343.14h1.72v1.72h-1.72zM464.94 344.74h1.72v1.72h-1.72zM525.74 349.54h1.72v1.72h-1.72zM517.74 352.74h1.72v1.72h-1.72zM522.54 352.74h1.72v1.72h-1.72zM490.54 355.94h1.72v1.72h-1.72z"/><path fill="#151515" d="M487.34 291.94h1.72v1.72h-1.72zM544.94 296.74h1.72v1.72h-1.72zM565.74 296.74h1.72v1.72h-1.72zM485.74 298.34h1.72v1.72h-1.72zM490.54 298.34h1.72v1.72h-1.72zM524.14 298.34h1.72v1.72h-1.72zM525.74 299.94h1.72v1.72h-1.72zM516.14 303.14h1.72v1.72h-1.72zM525.74 303.14h1.72v1.72h-1.72zM519.34 306.34h1.72v1.72h-1.72zM522.54 306.34h1.72v1.72h-1.72zM565.74 319.14h3.32v1.72h-3.32zM456.94 320.74h3.32v1.72h-3.32zM524.14 323.94h1.72v1.72h-1.72zM551.34 325.54h1.72v1.72h-1.72zM485.74 327.14h1.72v1.72h-1.72zM525.74 327.14h1.72v1.72h-1.72zM519.34 328.74h1.72v1.72h-1.72zM461.74 341.54h1.72v1.72h-1.72zM524.14 346.34h1.72v1.72h-1.72zM548.14 347.94h1.72v1.72h-1.72zM464.94 349.54h1.72v1.72h-1.72zM487.34 349.54h3.32v1.72h-3.32zM525.74 351.14h1.72v1.72h-1.72zM548.14 351.14h1.72v1.72h-1.72zM543.34 354.34h1.72v1.72h-1.72zM493.74 355.94h1.72v1.72h-1.72z"/><path fill="#161616" d="M511.34 280.74h3.32v1.72h-3.32zM492.14 290.34h1.72v1.72h-1.72zM540.14 290.34h1.72v1.72h-1.72zM557.74 290.34h1.72v1.72h-1.72zM540.14 291.94h1.72v1.72h-1.72zM484.14 295.14h1.72v1.72h-1.72zM484.14 296.74h1.72v1.72h-1.72zM516.14 298.34h1.72v1.72h-1.72zM562.54 298.34h1.72v1.72h-1.72zM461.74 301.54h1.72v1.72h-1.72zM552.94 320.74h1.72v1.72h-1.72zM488.94 323.94h1.72v1.72h-1.72zM548.14 323.94h1.72v1.72h-1.72zM488.94 325.54h1.72v1.72h-1.72zM549.74 325.54h1.72v1.72h-1.72zM484.14 327.14h1.72v1.72h-1.72zM487.34 327.14h1.72v1.72h-1.72zM524.14 328.74h1.72v1.72h-1.72zM461.74 339.94h1.72v1.72h-1.72zM460.14 341.54h1.72v1.72h-1.72zM520.94 344.74h1.72v1.72h-1.72zM517.74 346.34h1.72v1.72h-1.72zM516.14 347.94h1.72v1.72h-1.72zM525.74 347.94h1.72v1.72h-1.72zM546.54 347.94h1.72v1.72h-1.72zM485.74 349.54h1.72v1.72h-1.72zM484.14 351.14h1.72v1.72h-1.72zM492.14 351.14h1.72v1.72h-1.72zM493.74 352.74h1.72v1.72h-1.72zM516.14 352.74h1.72v1.72h-1.72zM524.14 352.74h1.72v1.72h-1.72zM546.54 352.74h1.72v1.72h-1.72zM540.14 354.34h1.72v1.72h-1.72z"/><path fill="#171717" d="M509.74 280.74h1.72v1.72h-1.72zM559.34 288.74h1.72v1.72h-1.72zM490.54 290.34h1.72v1.72h-1.72zM548.14 291.94h1.72v1.72h-1.72zM461.74 293.54h1.72v1.72h-1.72zM495.34 293.54h1.72v1.72h-1.72zM559.34 293.54h1.72v1.72h-1.72zM460.14 295.14h4.92v1.72h-4.92zM463.34 296.74h1.72v1.72h-1.72zM466.54 296.74h1.72v1.72h-1.72zM493.74 296.74h1.72v1.72h-1.72zM519.34 296.74h3.32v1.72h-3.32zM525.74 298.34h1.72v1.72h-1.72zM564.14 298.34h1.72v1.72h-1.72zM514.54 299.94h1.72v1.72h-1.72zM514.54 301.54h1.72v1.72h-1.72zM516.14 304.74h1.72v1.72h-1.72zM517.74 306.34h1.72v1.72h-1.72zM524.14 306.34h1.72v1.72h-1.72zM565.74 317.54h3.32v1.72h-3.32zM456.94 319.14h3.32v1.72h-3.32zM549.74 320.74h1.72v1.72h-1.72zM482.54 322.34h1.72v1.72h-1.72zM487.34 322.34h1.72v1.72h-1.72zM480.94 323.94h1.72v1.72h-1.72zM517.74 323.94h1.72v1.72h-1.72zM517.74 328.74h1.72v1.72h-1.72zM458.54 341.54h1.72v1.72h-1.72zM560.94 343.14h1.72v1.72h-1.72zM522.54 344.74h1.72v1.72h-1.72zM560.94 344.74h4.92v1.72h-4.92zM466.54 349.54h1.72v1.72h-1.72zM514.54 349.54h1.72v1.72h-1.72zM514.54 351.14h1.72v1.72h-1.72zM484.14 352.74h1.72v1.72h-1.72zM485.74 354.34h1.72v1.72h-1.72zM495.34 354.34h1.72v1.72h-1.72zM488.94 355.94h1.72v1.72h-1.72z"/><path fill="#181818" d="M514.54 280.74h1.72v1.72h-1.72zM540.14 288.74h3.32v1.72h-3.32zM488.94 290.34h1.72v1.72h-1.72zM493.74 290.34h1.72v1.72h-1.72zM546.54 290.34h1.72v1.72h-1.72zM485.74 291.94h1.72v1.72h-1.72zM495.34 291.94h1.72v1.72h-1.72zM463.34 293.54h3.32v1.72h-3.32zM468.14 293.54h1.72v1.72h-1.72zM484.14 293.54h1.72v1.72h-1.72zM495.34 295.14h1.72v1.72h-1.72zM541.74 295.14h1.72v1.72h-1.72zM549.74 295.14h1.72v1.72h-1.72zM460.14 296.74h3.32v1.72h-3.32zM517.74 296.74h1.72v1.72h-1.72zM522.54 296.74h1.72v1.72h-1.72zM543.34 296.74h1.72v1.72h-1.72zM484.14 298.34h1.72v1.72h-1.72zM492.14 298.34h1.72v1.72h-1.72zM514.54 298.34h1.72v1.72h-1.72zM546.54 298.34h3.32v1.72h-3.32zM565.74 298.34h1.72v1.72h-1.72zM487.34 299.94h3.32v1.72h-3.32zM463.34 301.54h1.72v1.72h-1.72zM461.74 303.14h1.72v1.72h-1.72zM525.74 304.74h1.72v1.72h-1.72zM520.94 307.94h3.32v1.72h-3.32zM460.14 317.54h1.72v1.72h-1.72zM565.74 320.74h3.32v1.72h-3.32zM456.94 322.34h3.32v1.72h-3.32zM520.94 322.34h3.32v1.72h-3.32zM548.14 322.34h1.72v1.72h-1.72zM525.74 323.94h1.72v1.72h-1.72zM480.94 325.54h1.72v1.72h-1.72zM516.14 325.54h1.72v1.72h-1.72zM516.14 327.14h1.72v1.72h-1.72zM463.34 341.54h1.72v1.72h-1.72zM562.54 343.14h3.32v1.72h-3.32zM519.34 344.74h1.72v1.72h-1.72zM466.54 346.34h1.72v1.72h-1.72zM525.74 346.34h1.72v1.72h-1.72zM560.94 346.34h3.32v1.72h-3.32zM549.74 347.94h1.72v1.72h-1.72zM468.14 349.54h1.72v1.72h-1.72zM484.14 349.54h1.72v1.72h-1.72zM490.54 349.54h1.72v1.72h-1.72zM527.34 349.54h1.72v1.72h-1.72zM549.74 349.54h1.72v1.72h-1.72zM464.94 351.14h1.72v1.72h-1.72zM514.54 352.74h1.72v1.72h-1.72zM495.34 355.94h1.72v1.72h-1.72z"/><path fill="#191919" d="M508.14 280.74h1.72v1.72h-1.72zM543.34 288.74h1.72v1.72h-1.72zM557.74 288.74h1.72v1.72h-1.72zM463.34 291.94h1.72v1.72h-1.72zM468.14 291.94h1.72v1.72h-1.72zM540.14 293.54h1.72v1.72h-1.72zM549.74 293.54h1.72v1.72h-1.72zM516.14 296.74h1.72v1.72h-1.72zM524.14 296.74h1.72v1.72h-1.72zM549.74 296.74h1.72v1.72h-1.72zM461.74 298.34h1.72v1.72h-1.72zM485.74 299.94h1.72v1.72h-1.72zM527.34 299.94h1.72v1.72h-1.72zM527.34 301.54h1.72v1.72h-1.72zM514.54 303.14h1.72v1.72h-1.72zM519.34 307.94h1.72v1.72h-1.72zM461.74 322.34h1.72v1.72h-1.72zM527.34 325.54h1.72v1.72h-1.72zM482.54 327.14h1.72v1.72h-1.72zM525.74 328.74h1.72v1.72h-1.72zM520.94 330.34h3.32v1.72h-3.32zM460.14 339.94h1.72v1.72h-1.72zM562.54 341.54h1.72v1.72h-1.72zM524.14 344.74h1.72v1.72h-1.72zM516.14 346.34h1.72v1.72h-1.72zM559.34 346.34h1.72v1.72h-1.72zM560.94 347.94h1.72v1.72h-1.72zM543.34 349.54h1.72v1.72h-1.72zM527.34 351.14h1.72v1.72h-1.72zM541.74 351.14h1.72v1.72h-1.72zM495.34 352.74h1.72v1.72h-1.72zM525.74 352.74h1.72v1.72h-1.72zM540.14 352.74h1.72v1.72h-1.72zM517.74 354.34h4.92v1.72h-4.92zM540.14 355.94h1.72v1.72h-1.72z"/><path fill="#1a1a1a" d="M516.14 280.74h1.72v1.72h-1.72zM487.34 290.34h1.72v1.72h-1.72zM495.34 290.34h1.72v1.72h-1.72zM538.54 290.34h1.72v1.72h-1.72zM464.94 291.94h1.72v1.72h-1.72zM496.94 293.54h1.72v1.72h-1.72zM468.14 295.14h1.72v1.72h-1.72zM482.54 295.14h1.72v1.72h-1.72zM482.54 296.74h1.72v1.72h-1.72zM495.34 296.74h1.72v1.72h-1.72zM460.14 298.34h1.72v1.72h-1.72zM493.74 298.34h1.72v1.72h-1.72zM527.34 298.34h1.72v1.72h-1.72zM544.94 298.34h1.72v1.72h-1.72zM464.94 299.94h1.72v1.72h-1.72zM490.54 299.94h1.72v1.72h-1.72zM512.94 299.94h1.72v1.72h-1.72zM564.14 299.94h1.72v1.72h-1.72zM512.94 301.54h1.72v1.72h-1.72zM527.34 303.14h1.72v1.72h-1.72zM516.14 306.34h1.72v1.72h-1.72zM525.74 306.34h1.72v1.72h-1.72zM524.14 307.94h1.72v1.72h-1.72zM461.74 320.74h1.72v1.72h-1.72zM480.94 322.34h1.72v1.72h-1.72zM519.34 322.34h1.72v1.72h-1.72zM524.14 322.34h1.72v1.72h-1.72zM554.54 322.34h1.72v1.72h-1.72zM460.14 325.54h1.72v1.72h-1.72zM490.54 325.54h1.72v1.72h-1.72zM548.14 325.54h1.72v1.72h-1.72zM552.94 325.54h1.72v1.72h-1.72zM488.94 327.14h1.72v1.72h-1.72zM527.34 327.14h1.72v1.72h-1.72zM519.34 330.34h1.72v1.72h-1.72zM564.14 341.54h3.32v1.72h-3.32zM520.94 343.14h1.72v1.72h-1.72zM517.74 344.74h1.72v1.72h-1.72zM548.14 346.34h1.72v1.72h-1.72zM485.74 347.94h3.32v1.72h-3.32zM514.54 347.94h1.72v1.72h-1.72zM527.34 347.94h1.72v1.72h-1.72zM544.94 347.94h1.72v1.72h-1.72zM559.34 347.94h1.72v1.72h-1.72zM466.54 351.14h1.72v1.72h-1.72zM482.54 351.14h1.72v1.72h-1.72zM493.74 351.14h1.72v1.72h-1.72zM512.94 351.14h1.72v1.72h-1.72zM482.54 352.74h1.72v1.72h-1.72zM496.94 354.34h1.72v1.72h-1.72zM522.54 354.34h1.72v1.72h-1.72zM538.54 355.94h1.72v1.72h-1.72z"/><path fill="#1b1b1b" d="M538.54 288.74h1.72v1.72h-1.72zM556.14 288.74h1.72v1.72h-1.72zM466.54 291.94h1.72v1.72h-1.72zM484.14 291.94h1.72v1.72h-1.72zM496.94 291.94h1.72v1.72h-1.72zM538.54 291.94h1.72v1.72h-1.72zM549.74 291.94h1.72v1.72h-1.72zM482.54 293.54h1.72v1.72h-1.72zM496.94 295.14h1.72v1.72h-1.72zM540.14 295.14h1.72v1.72h-1.72zM514.54 296.74h1.72v1.72h-1.72zM525.74 296.74h1.72v1.72h-1.72zM458.54 298.34h1.72v1.72h-1.72zM466.54 298.34h1.72v1.72h-1.72zM482.54 298.34h1.72v1.72h-1.72zM512.94 298.34h1.72v1.72h-1.72zM549.74 298.34h1.72v1.72h-1.72zM461.74 299.94h1.72v1.72h-1.72zM484.14 299.94h1.72v1.72h-1.72zM565.74 299.94h1.72v1.72h-1.72zM514.54 304.74h1.72v1.72h-1.72zM527.34 304.74h1.72v1.72h-1.72zM517.74 307.94h1.72v1.72h-1.72zM520.94 309.54h1.72v1.72h-1.72zM565.74 315.94h3.32v1.72h-3.32zM456.94 317.54h3.32v1.72h-3.32zM551.34 319.14h1.72v1.72h-1.72zM484.14 320.74h3.32v1.72h-3.32zM488.94 322.34h1.72v1.72h-1.72zM490.54 323.94h1.72v1.72h-1.72zM516.14 323.94h1.72v1.72h-1.72zM527.34 323.94h1.72v1.72h-1.72zM485.74 328.74h1.72v1.72h-1.72zM516.14 328.74h1.72v1.72h-1.72zM524.14 330.34h1.72v1.72h-1.72zM461.74 338.34h1.72v1.72h-1.72zM458.54 339.94h1.72v1.72h-1.72zM562.54 339.94h3.32v1.72h-3.32zM464.94 343.14h1.72v1.72h-1.72zM519.34 343.14h1.72v1.72h-1.72zM522.54 343.14h1.72v1.72h-1.72zM525.74 344.74h1.72v1.72h-1.72zM549.74 346.34h1.72v1.72h-1.72zM468.14 347.94h1.72v1.72h-1.72zM484.14 347.94h1.72v1.72h-1.72zM488.94 347.94h1.72v1.72h-1.72zM482.54 349.54h1.72v1.72h-1.72zM492.14 349.54h1.72v1.72h-1.72zM512.94 349.54h1.72v1.72h-1.72zM512.94 352.74h1.72v1.72h-1.72zM527.34 352.74h1.72v1.72h-1.72zM484.14 354.34h1.72v1.72h-1.72zM516.14 354.34h1.72v1.72h-1.72zM524.14 354.34h1.72v1.72h-1.72zM538.54 354.34h1.72v1.72h-1.72zM544.94 354.34h1.72v1.72h-1.72zM487.34 355.94h1.72v1.72h-1.72zM496.94 355.94h1.72v1.72h-1.72zM493.74 357.54h1.72v1.72h-1.72z"/><path fill="#1c1c1c" d="M506.54 280.74h1.72v1.72h-1.72zM517.74 280.74h1.72v1.72h-1.72zM557.74 287.14h1.72v1.72h-1.72zM492.14 288.74h3.32v1.72h-3.32zM544.94 288.74h1.72v1.72h-1.72zM464.94 290.34h1.72v1.72h-1.72zM548.14 290.34h1.72v1.72h-1.72zM469.74 291.94h1.72v1.72h-1.72zM557.74 291.94h1.72v1.72h-1.72zM469.74 293.54h1.72v1.72h-1.72zM538.54 293.54h1.72v1.72h-1.72zM480.94 295.14h1.72v1.72h-1.72zM519.34 295.14h3.32v1.72h-3.32zM551.34 295.14h1.72v1.72h-1.72zM468.14 296.74h1.72v1.72h-1.72zM496.94 296.74h1.72v1.72h-1.72zM527.34 296.74h1.72v1.72h-1.72zM541.74 296.74h1.72v1.72h-1.72zM560.94 296.74h1.72v1.72h-1.72zM528.94 298.34h1.72v1.72h-1.72zM460.14 299.94h1.72v1.72h-1.72zM492.14 299.94h1.72v1.72h-1.72zM528.94 299.94h1.72v1.72h-1.72zM546.54 299.94h3.32v1.72h-3.32zM567.34 299.94h1.72v1.72h-1.72zM485.74 301.54h4.92v1.72h-4.92zM528.94 301.54h1.72v1.72h-1.72zM512.94 303.14h1.72v1.72h-1.72zM461.74 304.74h1.72v1.72h-1.72zM519.34 309.54h1.72v1.72h-1.72zM522.54 309.54h1.72v1.72h-1.72zM460.14 315.94h1.72v1.72h-1.72zM552.94 319.14h1.72v1.72h-1.72zM548.14 320.74h1.72v1.72h-1.72zM554.54 320.74h1.72v1.72h-1.72zM517.74 322.34h1.72v1.72h-1.72zM525.74 322.34h1.72v1.72h-1.72zM565.74 322.34h3.32v1.72h-3.32zM456.94 323.94h3.32v1.72h-3.32zM461.74 323.94h1.72v1.72h-1.72zM479.34 323.94h1.72v1.72h-1.72zM554.54 323.94h1.72v1.72h-1.72zM514.54 325.54h1.72v1.72h-1.72zM514.54 327.14h1.72v1.72h-1.72zM549.74 327.14h3.32v1.72h-3.32zM484.14 328.74h1.72v1.72h-1.72zM487.34 328.74h1.72v1.72h-1.72zM517.74 330.34h1.72v1.72h-1.72zM460.14 338.34h1.72v1.72h-1.72zM456.94 339.94h1.72v1.72h-1.72zM565.74 339.94h1.72v1.72h-1.72zM524.14 343.14h1.72v1.72h-1.72zM516.14 344.74h1.72v1.72h-1.72zM514.54 346.34h1.72v1.72h-1.72zM527.34 346.34h1.72v1.72h-1.72zM546.54 346.34h1.72v1.72h-1.72zM551.34 347.94h1.72v1.72h-1.72zM557.74 347.94h1.72v1.72h-1.72zM528.94 349.54h1.72v1.72h-1.72zM559.34 349.54h1.72v1.72h-1.72zM468.14 351.14h1.72v1.72h-1.72zM480.94 351.14h1.72v1.72h-1.72zM528.94 351.14h1.72v1.72h-1.72zM549.74 351.14h1.72v1.72h-1.72zM496.94 352.74h1.72v1.72h-1.72zM514.54 354.34h1.72v1.72h-1.72zM492.14 357.54h1.72v1.72h-1.72zM495.34 357.54h1.72v1.72h-1.72z"/><path fill="#1d1d1d" d="M540.14 287.14h1.72v1.72h-1.72zM490.54 288.74h1.72v1.72h-1.72zM495.34 288.74h1.72v1.72h-1.72zM466.54 290.34h1.72v1.72h-1.72zM485.74 290.34h1.72v1.72h-1.72zM496.94 290.34h1.72v1.72h-1.72zM482.54 291.94h1.72v1.72h-1.72zM480.94 293.54h1.72v1.72h-1.72zM498.54 293.54h1.72v1.72h-1.72zM551.34 293.54h1.72v1.72h-1.72zM498.54 295.14h1.72v1.72h-1.72zM516.14 295.14h3.32v1.72h-3.32zM522.54 295.14h3.32v1.72h-3.32zM480.94 296.74h1.72v1.72h-1.72zM512.94 296.74h1.72v1.72h-1.72zM551.34 296.74h1.72v1.72h-1.72zM495.34 298.34h1.72v1.72h-1.72zM511.34 298.34h1.72v1.72h-1.72zM543.34 298.34h1.72v1.72h-1.72zM458.54 299.94h1.72v1.72h-1.72zM511.34 299.94h1.72v1.72h-1.72zM549.74 299.94h1.72v1.72h-1.72zM511.34 301.54h1.72v1.72h-1.72zM564.14 301.54h1.72v1.72h-1.72zM463.34 303.14h1.72v1.72h-1.72zM528.94 303.14h1.72v1.72h-1.72zM514.54 306.34h1.72v1.72h-1.72zM516.14 307.94h1.72v1.72h-1.72zM525.74 307.94h1.72v1.72h-1.72zM524.14 309.54h1.72v1.72h-1.72zM461.74 319.14h1.72v1.72h-1.72zM549.74 319.14h1.72v1.72h-1.72zM482.54 320.74h1.72v1.72h-1.72zM487.34 320.74h1.72v1.72h-1.72zM519.34 320.74h4.92v1.72h-4.92zM546.54 323.94h1.72v1.72h-1.72zM479.34 325.54h1.72v1.72h-1.72zM528.94 325.54h1.72v1.72h-1.72zM460.14 327.14h1.72v1.72h-1.72zM480.94 327.14h1.72v1.72h-1.72zM490.54 327.14h1.72v1.72h-1.72zM527.34 328.74h1.72v1.72h-1.72zM525.74 330.34h1.72v1.72h-1.72zM520.94 331.94h3.32v1.72h-3.32zM458.54 338.34h1.72v1.72h-1.72zM564.14 338.34h1.72v1.72h-1.72zM520.94 341.54h3.32v1.72h-3.32zM517.74 343.14h1.72v1.72h-1.72zM482.54 347.94h1.72v1.72h-1.72zM490.54 347.94h1.72v1.72h-1.72zM512.94 347.94h1.72v1.72h-1.72zM528.94 347.94h1.72v1.72h-1.72zM469.74 349.54h1.72v1.72h-1.72zM480.94 349.54h1.72v1.72h-1.72zM551.34 349.54h1.72v1.72h-1.72zM557.74 349.54h1.72v1.72h-1.72zM469.74 351.14h1.72v1.72h-1.72zM495.34 351.14h1.72v1.72h-1.72zM511.34 351.14h1.72v1.72h-1.72zM540.14 351.14h1.72v1.72h-1.72zM466.54 352.74h1.72v1.72h-1.72zM480.94 352.74h1.72v1.72h-1.72zM511.34 352.74h1.72v1.72h-1.72zM528.94 352.74h1.72v1.72h-1.72zM538.54 352.74h1.72v1.72h-1.72zM548.14 352.74h1.72v1.72h-1.72zM498.54 354.34h1.72v1.72h-1.72zM512.94 354.34h1.72v1.72h-1.72zM525.74 354.34h1.72v1.72h-1.72zM498.54 355.94h1.72v1.72h-1.72z"/><path fill="#1e1e1e" d="M519.34 280.74h1.72v1.72h-1.72zM538.54 287.14h1.72v1.72h-1.72zM556.14 287.14h1.72v1.72h-1.72zM488.94 288.74h1.72v1.72h-1.72zM536.94 288.74h1.72v1.72h-1.72zM546.54 288.74h1.72v1.72h-1.72zM468.14 290.34h3.32v1.72h-3.32zM536.94 290.34h1.72v1.72h-1.72zM556.14 290.34h1.72v1.72h-1.72zM498.54 291.94h1.72v1.72h-1.72zM536.94 291.94h1.72v1.72h-1.72zM551.34 291.94h1.72v1.72h-1.72zM469.74 295.14h1.72v1.72h-1.72zM514.54 295.14h1.72v1.72h-1.72zM525.74 295.14h1.72v1.72h-1.72zM538.54 295.14h1.72v1.72h-1.72zM498.54 296.74h1.72v1.72h-1.72zM511.34 296.74h1.72v1.72h-1.72zM528.94 296.74h1.72v1.72h-1.72zM540.14 296.74h1.72v1.72h-1.72zM480.94 298.34h1.72v1.72h-1.72zM551.34 298.34h1.72v1.72h-1.72zM482.54 299.94h1.72v1.72h-1.72zM493.74 299.94h1.72v1.72h-1.72zM544.94 299.94h1.72v1.72h-1.72zM460.14 301.54h1.72v1.72h-1.72zM484.14 301.54h1.72v1.72h-1.72zM490.54 301.54h1.72v1.72h-1.72zM565.74 301.54h1.72v1.72h-1.72zM512.94 304.74h1.72v1.72h-1.72zM527.34 306.34h1.72v1.72h-1.72zM517.74 309.54h1.72v1.72h-1.72zM520.94 311.14h3.32v1.72h-3.32zM565.74 314.34h3.32v1.72h-3.32zM456.94 315.94h3.32v1.72h-3.32zM524.14 320.74h1.72v1.72h-1.72zM479.34 322.34h1.72v1.72h-1.72zM516.14 322.34h1.72v1.72h-1.72zM546.54 322.34h1.72v1.72h-1.72zM514.54 323.94h1.72v1.72h-1.72zM492.14 325.54h1.72v1.72h-1.72zM528.94 327.14h1.72v1.72h-1.72zM482.54 328.74h1.72v1.72h-1.72zM488.94 328.74h1.72v1.72h-1.72zM514.54 328.74h1.72v1.72h-1.72zM516.14 330.34h1.72v1.72h-1.72zM519.34 331.94h1.72v1.72h-1.72zM524.14 331.94h1.72v1.72h-1.72zM456.94 338.34h1.72v1.72h-1.72zM565.74 338.34h1.72v1.72h-1.72zM463.34 339.94h1.72v1.72h-1.72zM519.34 341.54h1.72v1.72h-1.72zM525.74 343.14h1.72v1.72h-1.72zM466.54 344.74h1.72v1.72h-1.72zM527.34 344.74h1.72v1.72h-1.72zM548.14 344.74h3.32v1.72h-3.32zM559.34 344.74h1.72v1.72h-1.72zM485.74 346.34h3.32v1.72h-3.32zM551.34 346.34h1.72v1.72h-1.72zM493.74 349.54h1.72v1.72h-1.72zM511.34 349.54h1.72v1.72h-1.72zM541.74 349.54h1.72v1.72h-1.72zM498.54 352.74h1.72v1.72h-1.72zM482.54 354.34h1.72v1.72h-1.72zM536.94 354.34h1.72v1.72h-1.72zM485.74 355.94h1.72v1.72h-1.72zM536.94 355.94h1.72v1.72h-1.72zM541.74 355.94h1.72v1.72h-1.72zM496.94 357.54h1.72v1.72h-1.72z"/><path fill="#1f1f1f" d="M511.34 279.14h4.92v1.72h-4.92zM504.94 280.74h1.72v1.72h-1.72zM536.94 287.14h1.72v1.72h-1.72zM541.74 287.14h1.72v1.72h-1.72zM466.54 288.74h1.72v1.72h-1.72zM496.94 288.74h1.72v1.72h-1.72zM484.14 290.34h1.72v1.72h-1.72zM498.54 290.34h1.72v1.72h-1.72zM549.74 290.34h1.72v1.72h-1.72zM471.34 291.94h1.72v1.72h-1.72zM480.94 291.94h1.72v1.72h-1.72zM471.34 293.54h1.72v1.72h-1.72zM479.34 293.54h1.72v1.72h-1.72zM500.14 293.54h1.72v1.72h-1.72zM536.94 293.54h1.72v1.72h-1.72zM479.34 295.14h1.72v1.72h-1.72zM500.14 295.14h1.72v1.72h-1.72zM512.94 295.14h1.72v1.72h-1.72zM527.34 295.14h1.72v1.72h-1.72zM559.34 295.14h1.72v1.72h-1.72zM479.34 296.74h1.72v1.72h-1.72zM509.74 296.74h1.72v1.72h-1.72zM530.54 296.74h1.72v1.72h-1.72zM496.94 298.34h1.72v1.72h-1.72zM509.74 298.34h1.72v1.72h-1.72zM530.54 298.34h1.72v1.72h-1.72zM541.74 298.34h1.72v1.72h-1.72zM466.54 299.94h1.72v1.72h-1.72zM509.74 299.94h1.72v1.72h-1.72zM530.54 299.94h1.72v1.72h-1.72zM562.54 299.94h1.72v1.72h-1.72zM456.94 301.54h3.32v1.72h-3.32zM464.94 301.54h1.72v1.72h-1.72zM492.14 301.54h1.72v1.72h-1.72zM530.54 301.54h1.72v1.72h-1.72zM548.14 301.54h1.72v1.72h-1.72zM567.34 301.54h1.72v1.72h-1.72zM487.34 303.14h1.72v1.72h-1.72zM511.34 303.14h1.72v1.72h-1.72zM528.94 304.74h1.72v1.72h-1.72zM525.74 309.54h1.72v1.72h-1.72zM519.34 311.14h1.72v1.72h-1.72zM524.14 311.14h1.72v1.72h-1.72zM460.14 314.34h1.72v1.72h-1.72zM520.94 319.14h3.32v1.72h-3.32zM480.94 320.74h1.72v1.72h-1.72zM517.74 320.74h1.72v1.72h-1.72zM525.74 320.74h1.72v1.72h-1.72zM490.54 322.34h1.72v1.72h-1.72zM527.34 322.34h1.72v1.72h-1.72zM492.14 323.94h1.72v1.72h-1.72zM528.94 323.94h1.72v1.72h-1.72zM565.74 323.94h3.32v1.72h-3.32zM456.94 325.54h3.32v1.72h-3.32zM461.74 325.54h1.72v1.72h-1.72zM512.94 325.54h1.72v1.72h-1.72zM546.54 325.54h1.72v1.72h-1.72zM512.94 327.14h1.72v1.72h-1.72zM548.14 327.14h1.72v1.72h-1.72zM552.94 327.14h1.72v1.72h-1.72zM517.74 331.94h1.72v1.72h-1.72zM520.94 333.54h1.72v1.72h-1.72zM460.14 336.74h3.32v1.72h-3.32zM564.14 336.74h1.72v1.72h-1.72zM567.34 338.34h1.72v1.72h-1.72zM520.94 339.94h1.72v1.72h-1.72zM524.14 341.54h1.72v1.72h-1.72zM516.14 343.14h1.72v1.72h-1.72zM514.54 344.74h1.72v1.72h-1.72zM468.14 346.34h1.72v1.72h-1.72zM484.14 346.34h1.72v1.72h-1.72zM488.94 346.34h1.72v1.72h-1.72zM512.94 346.34h1.72v1.72h-1.72zM528.94 346.34h1.72v1.72h-1.72zM469.74 347.94h1.72v1.72h-1.72zM480.94 347.94h1.72v1.72h-1.72zM492.14 347.94h1.72v1.72h-1.72zM543.34 347.94h1.72v1.72h-1.72zM479.34 349.54h1.72v1.72h-1.72zM530.54 349.54h1.72v1.72h-1.72zM556.14 349.54h1.72v1.72h-1.72zM471.34 351.14h1.72v1.72h-1.72zM479.34 351.14h1.72v1.72h-1.72zM496.94 351.14h1.72v1.72h-1.72zM509.74 351.14h1.72v1.72h-1.72zM530.54 351.14h1.72v1.72h-1.72zM557.74 351.14h1.72v1.72h-1.72zM468.14 352.74h1.72v1.72h-1.72zM509.74 352.74h1.72v1.72h-1.72zM530.54 352.74h1.72v1.72h-1.72zM500.14 354.34h1.72v1.72h-1.72zM511.34 354.34h1.72v1.72h-1.72zM527.34 354.34h1.72v1.72h-1.72zM500.14 355.94h1.72v1.72h-1.72zM517.74 355.94h3.32v1.72h-3.32zM490.54 357.54h1.72v1.72h-1.72z"/><path fill="#202020" d="M509.74 279.14h1.72v1.72h-1.72zM516.14 279.14h1.72v1.72h-1.72zM543.34 287.14h1.72v1.72h-1.72zM554.54 287.14h1.72v1.72h-1.72zM468.14 288.74h1.72v1.72h-1.72zM487.34 288.74h1.72v1.72h-1.72zM471.34 290.34h1.72v1.72h-1.72zM500.14 291.94h1.72v1.72h-1.72zM552.94 291.94h1.72v1.72h-1.72zM556.14 291.94h1.72v1.72h-1.72zM477.74 293.54h1.72v1.72h-1.72zM552.94 293.54h1.72v1.72h-1.72zM557.74 293.54h1.72v1.72h-1.72zM471.34 295.14h1.72v1.72h-1.72zM477.74 295.14h1.72v1.72h-1.72zM501.74 295.14h1.72v1.72h-1.72zM511.34 295.14h1.72v1.72h-1.72zM528.94 295.14h1.72v1.72h-1.72zM536.94 295.14h1.72v1.72h-1.72zM552.94 295.14h1.72v1.72h-1.72zM469.74 296.74h1.72v1.72h-1.72zM500.14 296.74h1.72v1.72h-1.72zM508.14 296.74h1.72v1.72h-1.72zM538.54 296.74h1.72v1.72h-1.72zM552.94 296.74h1.72v1.72h-1.72zM468.14 298.34h1.72v1.72h-1.72zM479.34 298.34h1.72v1.72h-1.72zM498.54 298.34h1.72v1.72h-1.72zM508.14 298.34h1.72v1.72h-1.72zM532.14 298.34h1.72v1.72h-1.72zM480.94 299.94h1.72v1.72h-1.72zM495.34 299.94h1.72v1.72h-1.72zM508.14 299.94h1.72v1.72h-1.72zM551.34 299.94h1.72v1.72h-1.72zM482.54 301.54h1.72v1.72h-1.72zM509.74 301.54h1.72v1.72h-1.72zM546.54 301.54h1.72v1.72h-1.72zM549.74 301.54h1.72v1.72h-1.72zM460.14 303.14h1.72v1.72h-1.72zM485.74 303.14h1.72v1.72h-1.72zM488.94 303.14h1.72v1.72h-1.72zM530.54 303.14h1.72v1.72h-1.72zM564.14 303.14h3.32v1.72h-3.32zM461.74 306.34h1.72v1.72h-1.72zM512.94 306.34h1.72v1.72h-1.72zM514.54 307.94h1.72v1.72h-1.72zM527.34 307.94h1.72v1.72h-1.72zM516.14 309.54h1.72v1.72h-1.72zM517.74 311.14h1.72v1.72h-1.72zM460.14 312.74h1.72v1.72h-1.72zM519.34 312.74h4.92v1.72h-4.92zM461.74 317.54h1.72v1.72h-1.72zM551.34 317.54h1.72v1.72h-1.72zM484.14 319.14h3.32v1.72h-3.32zM519.34 319.14h1.72v1.72h-1.72zM524.14 319.14h1.72v1.72h-1.72zM554.54 319.14h1.72v1.72h-1.72zM488.94 320.74h1.72v1.72h-1.72zM556.14 322.34h1.72v1.72h-1.72zM477.74 323.94h1.72v1.72h-1.72zM530.54 325.54h1.72v1.72h-1.72zM554.54 325.54h1.72v1.72h-1.72zM479.34 327.14h1.72v1.72h-1.72zM492.14 327.14h1.72v1.72h-1.72zM460.14 328.74h1.72v1.72h-1.72zM528.94 328.74h1.72v1.72h-1.72zM527.34 330.34h1.72v1.72h-1.72zM525.74 331.94h1.72v1.72h-1.72zM519.34 333.54h1.72v1.72h-1.72zM522.54 333.54h1.72v1.72h-1.72zM456.94 336.74h3.32v1.72h-3.32zM565.74 336.74h1.72v1.72h-1.72zM519.34 339.94h1.72v1.72h-1.72zM522.54 339.94h1.72v1.72h-1.72zM517.74 341.54h1.72v1.72h-1.72zM525.74 341.54h1.72v1.72h-1.72zM551.34 344.74h1.72v1.72h-1.72zM482.54 346.34h1.72v1.72h-1.72zM544.94 346.34h1.72v1.72h-1.72zM552.94 346.34h1.72v1.72h-1.72zM511.34 347.94h1.72v1.72h-1.72zM530.54 347.94h1.72v1.72h-1.72zM552.94 347.94h1.72v1.72h-1.72zM471.34 349.54h1.72v1.72h-1.72zM495.34 349.54h1.72v1.72h-1.72zM509.74 349.54h1.72v1.72h-1.72zM552.94 349.54h1.72v1.72h-1.72zM477.74 351.14h1.72v1.72h-1.72zM508.14 351.14h1.72v1.72h-1.72zM532.14 351.14h1.72v1.72h-1.72zM538.54 351.14h1.72v1.72h-1.72zM551.34 351.14h1.72v1.72h-1.72zM479.34 352.74h1.72v1.72h-1.72zM500.14 352.74h1.72v1.72h-1.72zM508.14 352.74h1.72v1.72h-1.72zM536.94 352.74h1.72v1.72h-1.72zM501.74 354.34h1.72v1.72h-1.72zM509.74 354.34h1.72v1.72h-1.72zM528.94 354.34h1.72v1.72h-1.72zM514.54 355.94h3.32v1.72h-3.32zM520.94 355.94h3.32v1.72h-3.32zM498.54 357.54h1.72v1.72h-1.72z"/><path fill="#212121" d="M508.14 279.14h1.72v1.72h-1.72zM520.94 280.74h1.72v1.72h-1.72zM556.14 285.54h1.72v1.72h-1.72zM493.74 287.14h3.32v1.72h-3.32zM498.54 288.74h1.72v1.72h-1.72zM535.34 288.74h1.72v1.72h-1.72zM548.14 288.74h1.72v1.72h-1.72zM554.54 288.74h1.72v1.72h-1.72zM482.54 290.34h1.72v1.72h-1.72zM500.14 290.34h1.72v1.72h-1.72zM535.34 290.34h1.72v1.72h-1.72zM551.34 290.34h1.72v1.72h-1.72zM554.54 290.34h1.72v1.72h-1.72zM472.94 291.94h1.72v1.72h-1.72zM479.34 291.94h1.72v1.72h-1.72zM535.34 291.94h1.72v1.72h-1.72zM554.54 291.94h1.72v1.72h-1.72zM472.94 293.54h4.92v1.72h-4.92zM501.74 293.54h1.72v1.72h-1.72zM517.74 293.54h8.12v1.72h-8.12zM535.34 293.54h1.72v1.72h-1.72zM554.54 293.54h1.72v1.72h-1.72zM472.94 295.14h1.72v1.72h-1.72zM476.14 295.14h1.72v1.72h-1.72zM503.34 295.14h1.72v1.72h-1.72zM508.14 295.14h3.32v1.72h-3.32zM530.54 295.14h6.52v1.72h-6.52zM477.74 296.74h1.72v1.72h-1.72zM501.74 296.74h6.52v1.72h-6.52zM532.14 296.74h6.52v1.72h-6.52zM500.14 298.34h1.72v1.72h-1.72zM506.54 298.34h1.72v1.72h-1.72zM540.14 298.34h1.72v1.72h-1.72zM496.94 299.94h1.72v1.72h-1.72zM532.14 299.94h1.72v1.72h-1.72zM543.34 299.94h1.72v1.72h-1.72zM493.74 301.54h1.72v1.72h-1.72zM456.94 303.14h3.32v1.72h-3.32zM484.14 303.14h1.72v1.72h-1.72zM490.54 303.14h1.72v1.72h-1.72zM509.74 303.14h1.72v1.72h-1.72zM567.34 303.14h1.72v1.72h-1.72zM463.34 304.74h1.72v1.72h-1.72zM511.34 304.74h1.72v1.72h-1.72zM528.94 306.34h1.72v1.72h-1.72zM460.14 309.54h1.72v1.72h-1.72zM460.14 311.14h1.72v1.72h-1.72zM525.74 311.14h1.72v1.72h-1.72zM524.14 312.74h1.72v1.72h-1.72zM565.74 312.74h3.32v1.72h-3.32zM456.94 314.34h3.32v1.72h-3.32zM520.94 314.34h3.32v1.72h-3.32zM520.94 315.94h3.32v1.72h-3.32zM520.94 317.54h3.32v1.72h-3.32zM549.74 317.54h1.72v1.72h-1.72zM552.94 317.54h1.72v1.72h-1.72zM482.54 319.14h1.72v1.72h-1.72zM548.14 319.14h1.72v1.72h-1.72zM516.14 320.74h1.72v1.72h-1.72zM546.54 320.74h1.72v1.72h-1.72zM556.14 320.74h1.72v1.72h-1.72zM463.34 322.34h1.72v1.72h-1.72zM477.74 322.34h1.72v1.72h-1.72zM514.54 322.34h1.72v1.72h-1.72zM512.94 323.94h1.72v1.72h-1.72zM477.74 325.54h1.72v1.72h-1.72zM493.74 325.54h1.72v1.72h-1.72zM456.94 327.14h1.72v1.72h-1.72zM530.54 327.14h1.72v1.72h-1.72zM480.94 328.74h1.72v1.72h-1.72zM490.54 328.74h1.72v1.72h-1.72zM512.94 328.74h1.72v1.72h-1.72zM549.74 328.74h3.32v1.72h-3.32zM460.14 330.34h1.72v1.72h-1.72zM484.14 330.34h4.92v1.72h-4.92zM514.54 330.34h1.72v1.72h-1.72zM460.14 331.94h1.72v1.72h-1.72zM516.14 331.94h1.72v1.72h-1.72zM524.14 333.54h1.72v1.72h-1.72zM460.14 335.14h1.72v1.72h-1.72zM520.94 335.14h3.32v1.72h-3.32zM564.14 335.14h1.72v1.72h-1.72zM520.94 336.74h3.32v1.72h-3.32zM567.34 336.74h1.72v1.72h-1.72zM520.94 338.34h3.32v1.72h-3.32zM524.14 339.94h1.72v1.72h-1.72zM464.94 341.54h1.72v1.72h-1.72zM527.34 343.14h1.72v1.72h-1.72zM549.74 343.14h1.72v1.72h-1.72zM485.74 344.74h1.72v1.72h-1.72zM528.94 344.74h1.72v1.72h-1.72zM546.54 344.74h1.72v1.72h-1.72zM490.54 346.34h1.72v1.72h-1.72zM557.74 346.34h1.72v1.72h-1.72zM479.34 347.94h1.72v1.72h-1.72zM554.54 347.94h3.32v1.72h-3.32zM472.94 349.54h1.72v1.72h-1.72zM477.74 349.54h1.72v1.72h-1.72zM532.14 349.54h1.72v1.72h-1.72zM540.14 349.54h1.72v1.72h-1.72zM554.54 349.54h1.72v1.72h-1.72zM472.94 351.14h4.92v1.72h-4.92zM498.54 351.14h1.72v1.72h-1.72zM556.14 351.14h1.72v1.72h-1.72zM469.74 352.74h1.72v1.72h-1.72zM477.74 352.74h1.72v1.72h-1.72zM501.74 352.74h6.52v1.72h-6.52zM532.14 352.74h4.92v1.72h-4.92zM468.14 354.34h1.72v1.72h-1.72zM480.94 354.34h1.72v1.72h-1.72zM503.34 354.34h6.52v1.72h-6.52zM530.54 354.34h1.72v1.72h-1.72zM535.34 354.34h1.72v1.72h-1.72zM484.14 355.94h1.72v1.72h-1.72zM501.74 355.94h1.72v1.72h-1.72zM512.94 355.94h1.72v1.72h-1.72zM524.14 355.94h1.72v1.72h-1.72zM535.34 355.94h1.72v1.72h-1.72zM500.14 357.54h1.72v1.72h-1.72zM536.94 357.54h1.72v1.72h-1.72z"/><path fill="#222222" d="M517.74 279.14h1.72v1.72h-1.72zM503.34 280.74h1.72v1.72h-1.72zM554.54 285.54h1.72v1.72h-1.72zM468.14 287.14h1.72v1.72h-1.72zM492.14 287.14h1.72v1.72h-1.72zM496.94 287.14h1.72v1.72h-1.72zM535.34 287.14h1.72v1.72h-1.72zM544.94 287.14h1.72v1.72h-1.72zM469.74 288.74h1.72v1.72h-1.72zM485.74 288.74h1.72v1.72h-1.72zM549.74 288.74h1.72v1.72h-1.72zM472.94 290.34h1.72v1.72h-1.72zM480.94 290.34h1.72v1.72h-1.72zM552.94 290.34h1.72v1.72h-1.72zM474.54 291.94h4.92v1.72h-4.92zM501.74 291.94h1.72v1.72h-1.72zM533.74 291.94h1.72v1.72h-1.72zM503.34 293.54h1.72v1.72h-1.72zM512.94 293.54h4.92v1.72h-4.92zM525.74 293.54h4.92v1.72h-4.92zM532.14 293.54h3.32v1.72h-3.32zM556.14 293.54h1.72v1.72h-1.72zM474.54 295.14h1.72v1.72h-1.72zM504.94 295.14h3.32v1.72h-3.32zM554.54 295.14h1.72v1.72h-1.72zM471.34 296.74h3.32v1.72h-3.32zM476.14 296.74h1.72v1.72h-1.72zM469.74 298.34h1.72v1.72h-1.72zM477.74 298.34h1.72v1.72h-1.72zM501.74 298.34h4.92v1.72h-4.92zM533.74 298.34h3.32v1.72h-3.32zM538.54 298.34h1.72v1.72h-1.72zM552.94 298.34h1.72v1.72h-1.72zM479.34 299.94h1.72v1.72h-1.72zM498.54 299.94h1.72v1.72h-1.72zM506.54 299.94h1.72v1.72h-1.72zM541.74 299.94h1.72v1.72h-1.72zM480.94 301.54h1.72v1.72h-1.72zM508.14 301.54h1.72v1.72h-1.72zM532.14 301.54h1.72v1.72h-1.72zM544.94 301.54h1.72v1.72h-1.72zM551.34 301.54h1.72v1.72h-1.72zM548.14 303.14h1.72v1.72h-1.72zM458.54 304.74h3.32v1.72h-3.32zM485.74 304.74h3.32v1.72h-3.32zM530.54 304.74h1.72v1.72h-1.72zM564.14 304.74h3.32v1.72h-3.32zM460.14 307.94h3.32v1.72h-3.32zM514.54 309.54h1.72v1.72h-1.72zM527.34 309.54h1.72v1.72h-1.72zM516.14 311.14h1.72v1.72h-1.72zM517.74 312.74h1.72v1.72h-1.72zM519.34 314.34h1.72v1.72h-1.72zM524.14 314.34h1.72v1.72h-1.72zM519.34 315.94h1.72v1.72h-1.72zM524.14 315.94h1.72v1.72h-1.72zM519.34 317.54h1.72v1.72h-1.72zM524.14 317.54h1.72v1.72h-1.72zM487.34 319.14h1.72v1.72h-1.72zM517.74 319.14h1.72v1.72h-1.72zM525.74 319.14h1.72v1.72h-1.72zM463.34 320.74h1.72v1.72h-1.72zM479.34 320.74h1.72v1.72h-1.72zM527.34 320.74h1.72v1.72h-1.72zM492.14 322.34h1.72v1.72h-1.72zM528.94 322.34h1.72v1.72h-1.72zM463.34 323.94h1.72v1.72h-1.72zM493.74 323.94h1.72v1.72h-1.72zM530.54 323.94h1.72v1.72h-1.72zM544.94 323.94h1.72v1.72h-1.72zM556.14 323.94h1.72v1.72h-1.72zM511.34 325.54h1.72v1.72h-1.72zM565.74 325.54h3.32v1.72h-3.32zM458.54 327.14h1.72v1.72h-1.72zM461.74 327.14h1.72v1.72h-1.72zM511.34 327.14h1.72v1.72h-1.72zM546.54 327.14h1.72v1.72h-1.72zM460.14 333.54h1.72v1.72h-1.72zM517.74 333.54h1.72v1.72h-1.72zM525.74 333.54h1.72v1.72h-1.72zM456.94 335.14h3.32v1.72h-3.32zM461.74 335.14h1.72v1.72h-1.72zM519.34 335.14h1.72v1.72h-1.72zM524.14 335.14h1.72v1.72h-1.72zM565.74 335.14h3.32v1.72h-3.32zM519.34 336.74h1.72v1.72h-1.72zM524.14 336.74h1.72v1.72h-1.72zM519.34 338.34h1.72v1.72h-1.72zM524.14 338.34h1.72v1.72h-1.72zM562.54 338.34h1.72v1.72h-1.72zM517.74 339.94h1.72v1.72h-1.72zM525.74 339.94h1.72v1.72h-1.72zM516.14 341.54h1.72v1.72h-1.72zM560.94 341.54h1.72v1.72h-1.72zM466.54 343.14h1.72v1.72h-1.72zM514.54 343.14h1.72v1.72h-1.72zM548.14 343.14h1.72v1.72h-1.72zM551.34 343.14h1.72v1.72h-1.72zM484.14 344.74h1.72v1.72h-1.72zM487.34 344.74h1.72v1.72h-1.72zM512.94 344.74h1.72v1.72h-1.72zM552.94 344.74h1.72v1.72h-1.72zM480.94 346.34h1.72v1.72h-1.72zM511.34 346.34h1.72v1.72h-1.72zM530.54 346.34h1.72v1.72h-1.72zM471.34 347.94h1.72v1.72h-1.72zM493.74 347.94h1.72v1.72h-1.72zM509.74 347.94h1.72v1.72h-1.72zM541.74 347.94h1.72v1.72h-1.72zM474.54 349.54h3.32v1.72h-3.32zM496.94 349.54h1.72v1.72h-1.72zM508.14 349.54h1.72v1.72h-1.72zM500.14 351.14h1.72v1.72h-1.72zM506.54 351.14h1.72v1.72h-1.72zM533.74 351.14h4.92v1.72h-4.92zM554.54 351.14h1.72v1.72h-1.72zM472.94 352.74h4.92v1.72h-4.92zM549.74 352.74h1.72v1.72h-1.72zM556.14 352.74h1.72v1.72h-1.72zM532.14 354.34h3.32v1.72h-3.32zM546.54 354.34h1.72v1.72h-1.72zM503.34 355.94h1.72v1.72h-1.72zM509.74 355.94h3.32v1.72h-3.32zM525.74 355.94h1.72v1.72h-1.72zM488.94 357.54h1.72v1.72h-1.72zM535.34 357.54h1.72v1.72h-1.72z"/><path fill="#232323" d="M506.54 279.14h1.72v1.72h-1.72zM522.54 280.74h1.72v1.72h-1.72zM535.34 285.54h4.92v1.72h-4.92zM469.74 287.14h1.72v1.72h-1.72zM490.54 287.14h1.72v1.72h-1.72zM471.34 288.74h1.72v1.72h-1.72zM484.14 288.74h1.72v1.72h-1.72zM500.14 288.74h1.72v1.72h-1.72zM551.34 288.74h3.32v1.72h-3.32zM474.54 290.34h1.72v1.72h-1.72zM479.34 290.34h1.72v1.72h-1.72zM501.74 290.34h1.72v1.72h-1.72zM533.74 290.34h1.72v1.72h-1.72zM503.34 291.94h1.72v1.72h-1.72zM504.94 293.54h8.12v1.72h-8.12zM530.54 293.54h1.72v1.72h-1.72zM556.14 295.14h3.32v1.72h-3.32zM474.54 296.74h1.72v1.72h-1.72zM554.54 296.74h1.72v1.72h-1.72zM559.34 296.74h1.72v1.72h-1.72zM476.14 298.34h1.72v1.72h-1.72zM536.94 298.34h1.72v1.72h-1.72zM560.94 298.34h1.72v1.72h-1.72zM468.14 299.94h1.72v1.72h-1.72zM500.14 299.94h6.52v1.72h-6.52zM533.74 299.94h1.72v1.72h-1.72zM552.94 299.94h1.72v1.72h-1.72zM466.54 301.54h1.72v1.72h-1.72zM495.34 301.54h1.72v1.72h-1.72zM506.54 301.54h1.72v1.72h-1.72zM464.94 303.14h1.72v1.72h-1.72zM482.54 303.14h1.72v1.72h-1.72zM492.14 303.14h1.72v1.72h-1.72zM508.14 303.14h1.72v1.72h-1.72zM532.14 303.14h1.72v1.72h-1.72zM549.74 303.14h1.72v1.72h-1.72zM456.94 304.74h1.72v1.72h-1.72zM484.14 304.74h1.72v1.72h-1.72zM488.94 304.74h1.72v1.72h-1.72zM509.74 304.74h1.72v1.72h-1.72zM567.34 304.74h1.72v1.72h-1.72zM460.14 306.34h1.72v1.72h-1.72zM511.34 306.34h1.72v1.72h-1.72zM565.74 306.34h1.72v1.72h-1.72zM512.94 307.94h1.72v1.72h-1.72zM528.94 307.94h1.72v1.72h-1.72zM565.74 311.14h3.32v1.72h-3.32zM456.94 312.74h3.32v1.72h-3.32zM525.74 312.74h1.72v1.72h-1.72zM517.74 314.34h1.72v1.72h-1.72zM461.74 315.94h1.72v1.72h-1.72zM517.74 315.94h1.72v1.72h-1.72zM517.74 317.54h1.72v1.72h-1.72zM525.74 317.54h1.72v1.72h-1.72zM480.94 319.14h1.72v1.72h-1.72zM516.14 319.14h1.72v1.72h-1.72zM556.14 319.14h1.72v1.72h-1.72zM564.14 319.14h1.72v1.72h-1.72zM490.54 320.74h1.72v1.72h-1.72zM564.14 320.74h1.72v1.72h-1.72zM544.94 322.34h1.72v1.72h-1.72zM476.14 323.94h1.72v1.72h-1.72zM511.34 323.94h1.72v1.72h-1.72zM532.14 325.54h1.72v1.72h-1.72zM544.94 325.54h1.72v1.72h-1.72zM493.74 327.14h1.72v1.72h-1.72zM567.34 327.14h1.72v1.72h-1.72zM456.94 328.74h3.32v1.72h-3.32zM492.14 328.74h1.72v1.72h-1.72zM530.54 328.74h1.72v1.72h-1.72zM548.14 328.74h1.72v1.72h-1.72zM482.54 330.34h1.72v1.72h-1.72zM488.94 330.34h1.72v1.72h-1.72zM528.94 330.34h1.72v1.72h-1.72zM527.34 331.94h1.72v1.72h-1.72zM456.94 333.54h3.32v1.72h-3.32zM516.14 333.54h1.72v1.72h-1.72zM564.14 333.54h3.32v1.72h-3.32zM517.74 335.14h1.72v1.72h-1.72zM517.74 336.74h1.72v1.72h-1.72zM463.34 338.34h1.72v1.72h-1.72zM517.74 338.34h1.72v1.72h-1.72zM525.74 338.34h1.72v1.72h-1.72zM527.34 341.54h1.72v1.72h-1.72zM528.94 343.14h1.72v1.72h-1.72zM468.14 344.74h1.72v1.72h-1.72zM482.54 344.74h1.72v1.72h-1.72zM488.94 344.74h1.72v1.72h-1.72zM469.74 346.34h1.72v1.72h-1.72zM492.14 346.34h1.72v1.72h-1.72zM543.34 346.34h1.72v1.72h-1.72zM554.54 346.34h3.32v1.72h-3.32zM472.94 347.94h1.72v1.72h-1.72zM477.74 347.94h1.72v1.72h-1.72zM532.14 347.94h1.72v1.72h-1.72zM498.54 349.54h1.72v1.72h-1.72zM506.54 349.54h1.72v1.72h-1.72zM533.74 349.54h1.72v1.72h-1.72zM538.54 349.54h1.72v1.72h-1.72zM501.74 351.14h4.92v1.72h-4.92zM552.94 351.14h1.72v1.72h-1.72zM471.34 352.74h1.72v1.72h-1.72zM469.74 354.34h1.72v1.72h-1.72zM479.34 354.34h1.72v1.72h-1.72zM504.94 355.94h4.92v1.72h-4.92zM527.34 355.94h1.72v1.72h-1.72zM533.74 355.94h1.72v1.72h-1.72zM501.74 357.54h1.72v1.72h-1.72zM496.94 359.14h1.72v1.72h-1.72z"/><path fill="#242424" d="M519.34 279.14h1.72v1.72h-1.72zM501.74 280.74h1.72v1.72h-1.72zM540.14 285.54h1.72v1.72h-1.72zM552.94 285.54h1.72v1.72h-1.72zM488.94 287.14h1.72v1.72h-1.72zM498.54 287.14h1.72v1.72h-1.72zM533.74 287.14h1.72v1.72h-1.72zM546.54 287.14h1.72v1.72h-1.72zM552.94 287.14h1.72v1.72h-1.72zM472.94 288.74h1.72v1.72h-1.72zM533.74 288.74h1.72v1.72h-1.72zM476.14 290.34h3.32v1.72h-3.32zM504.94 291.94h1.72v1.72h-1.72zM530.54 291.94h3.32v1.72h-3.32zM471.34 298.34h4.92v1.72h-4.92zM554.54 298.34h1.72v1.72h-1.72zM477.74 299.94h1.72v1.72h-1.72zM535.34 299.94h6.52v1.72h-6.52zM479.34 301.54h1.72v1.72h-1.72zM496.94 301.54h1.72v1.72h-1.72zM504.94 301.54h1.72v1.72h-1.72zM533.74 301.54h1.72v1.72h-1.72zM543.34 301.54h1.72v1.72h-1.72zM480.94 303.14h1.72v1.72h-1.72zM493.74 303.14h1.72v1.72h-1.72zM546.54 303.14h1.72v1.72h-1.72zM551.34 303.14h1.72v1.72h-1.72zM490.54 304.74h1.72v1.72h-1.72zM456.94 306.34h3.32v1.72h-3.32zM530.54 306.34h1.72v1.72h-1.72zM567.34 306.34h1.72v1.72h-1.72zM458.54 307.94h1.72v1.72h-1.72zM565.74 307.94h3.32v1.72h-3.32zM461.74 309.54h1.72v1.72h-1.72zM565.74 309.54h3.32v1.72h-3.32zM456.94 311.14h3.32v1.72h-3.32zM514.54 311.14h1.72v1.72h-1.72zM527.34 311.14h1.72v1.72h-1.72zM516.14 312.74h1.72v1.72h-1.72zM461.74 314.34h1.72v1.72h-1.72zM525.74 314.34h1.72v1.72h-1.72zM525.74 315.94h1.72v1.72h-1.72zM551.34 315.94h1.72v1.72h-1.72zM484.14 317.54h3.32v1.72h-3.32zM554.54 317.54h1.72v1.72h-1.72zM564.14 317.54h1.72v1.72h-1.72zM463.34 319.14h1.72v1.72h-1.72zM488.94 319.14h1.72v1.72h-1.72zM527.34 319.14h1.72v1.72h-1.72zM477.74 320.74h1.72v1.72h-1.72zM514.54 320.74h1.72v1.72h-1.72zM528.94 320.74h1.72v1.72h-1.72zM476.14 322.34h1.72v1.72h-1.72zM512.94 322.34h1.72v1.72h-1.72zM530.54 322.34h1.72v1.72h-1.72zM557.74 322.34h1.72v1.72h-1.72zM532.14 323.94h1.72v1.72h-1.72zM463.34 325.54h1.72v1.72h-1.72zM476.14 325.54h1.72v1.72h-1.72zM495.34 325.54h1.72v1.72h-1.72zM509.74 325.54h1.72v1.72h-1.72zM477.74 327.14h1.72v1.72h-1.72zM509.74 327.14h1.72v1.72h-1.72zM532.14 327.14h1.72v1.72h-1.72zM554.54 327.14h1.72v1.72h-1.72zM565.74 327.14h1.72v1.72h-1.72zM461.74 328.74h1.72v1.72h-1.72zM479.34 328.74h1.72v1.72h-1.72zM511.34 328.74h1.72v1.72h-1.72zM552.94 328.74h1.72v1.72h-1.72zM567.34 328.74h1.72v1.72h-1.72zM456.94 330.34h3.32v1.72h-3.32zM512.94 330.34h1.72v1.72h-1.72zM456.94 331.94h3.32v1.72h-3.32zM485.74 331.94h1.72v1.72h-1.72zM514.54 331.94h1.72v1.72h-1.72zM565.74 331.94h3.32v1.72h-3.32zM461.74 333.54h1.72v1.72h-1.72zM567.34 333.54h1.72v1.72h-1.72zM525.74 335.14h1.72v1.72h-1.72zM525.74 336.74h1.72v1.72h-1.72zM516.14 339.94h1.72v1.72h-1.72zM527.34 339.94h1.72v1.72h-1.72zM514.54 341.54h1.72v1.72h-1.72zM549.74 341.54h1.72v1.72h-1.72zM485.74 343.14h1.72v1.72h-1.72zM512.94 343.14h1.72v1.72h-1.72zM546.54 343.14h1.72v1.72h-1.72zM552.94 343.14h1.72v1.72h-1.72zM490.54 344.74h1.72v1.72h-1.72zM511.34 344.74h1.72v1.72h-1.72zM530.54 344.74h1.72v1.72h-1.72zM544.94 344.74h1.72v1.72h-1.72zM554.54 344.74h1.72v1.72h-1.72zM479.34 346.34h1.72v1.72h-1.72zM509.74 346.34h1.72v1.72h-1.72zM532.14 346.34h1.72v1.72h-1.72zM474.54 347.94h3.32v1.72h-3.32zM495.34 347.94h1.72v1.72h-1.72zM508.14 347.94h1.72v1.72h-1.72zM533.74 347.94h1.72v1.72h-1.72zM540.14 347.94h1.72v1.72h-1.72zM500.14 349.54h1.72v1.72h-1.72zM504.94 349.54h1.72v1.72h-1.72zM535.34 349.54h3.32v1.72h-3.32zM554.54 352.74h1.72v1.72h-1.72zM477.74 354.34h1.72v1.72h-1.72zM482.54 355.94h1.72v1.72h-1.72zM528.94 355.94h4.92v1.72h-4.92zM503.34 357.54h1.72v1.72h-1.72zM533.74 357.54h1.72v1.72h-1.72zM495.34 359.14h1.72v1.72h-1.72zM498.54 359.14h1.72v1.72h-1.72z"/><path fill="#252525" d="M504.94 279.14h1.72v1.72h-1.72zM554.54 283.94h1.72v1.72h-1.72zM469.74 285.54h1.72v1.72h-1.72zM533.74 285.54h1.72v1.72h-1.72zM541.74 285.54h1.72v1.72h-1.72zM471.34 287.14h1.72v1.72h-1.72zM487.34 287.14h1.72v1.72h-1.72zM548.14 287.14h1.72v1.72h-1.72zM482.54 288.74h1.72v1.72h-1.72zM501.74 288.74h1.72v1.72h-1.72zM503.34 290.34h1.72v1.72h-1.72zM532.14 290.34h1.72v1.72h-1.72zM506.54 291.94h1.72v1.72h-1.72zM517.74 291.94h12.92v1.72h-12.92zM556.14 296.74h3.32v1.72h-3.32zM469.74 299.94h1.72v1.72h-1.72zM476.14 299.94h1.72v1.72h-1.72zM498.54 301.54h6.52v1.72h-6.52zM535.34 301.54h1.72v1.72h-1.72zM541.74 301.54h1.72v1.72h-1.72zM552.94 301.54h1.72v1.72h-1.72zM562.54 301.54h1.72v1.72h-1.72zM495.34 303.14h1.72v1.72h-1.72zM506.54 303.14h1.72v1.72h-1.72zM533.74 303.14h1.72v1.72h-1.72zM544.94 303.14h1.72v1.72h-1.72zM482.54 304.74h1.72v1.72h-1.72zM492.14 304.74h1.72v1.72h-1.72zM508.14 304.74h1.72v1.72h-1.72zM532.14 304.74h1.72v1.72h-1.72zM548.14 304.74h3.32v1.72h-3.32zM463.34 306.34h1.72v1.72h-1.72zM485.74 306.34h3.32v1.72h-3.32zM509.74 306.34h1.72v1.72h-1.72zM564.14 306.34h1.72v1.72h-1.72zM456.94 307.94h1.72v1.72h-1.72zM511.34 307.94h1.72v1.72h-1.72zM456.94 309.54h3.32v1.72h-3.32zM512.94 309.54h1.72v1.72h-1.72zM528.94 309.54h1.72v1.72h-1.72zM461.74 311.14h1.72v1.72h-1.72zM461.74 312.74h1.72v1.72h-1.72zM527.34 312.74h1.72v1.72h-1.72zM516.14 314.34h1.72v1.72h-1.72zM516.14 315.94h1.72v1.72h-1.72zM549.74 315.94h1.72v1.72h-1.72zM552.94 315.94h1.72v1.72h-1.72zM482.54 317.54h1.72v1.72h-1.72zM487.34 317.54h1.72v1.72h-1.72zM516.14 317.54h1.72v1.72h-1.72zM527.34 317.54h1.72v1.72h-1.72zM548.14 317.54h1.72v1.72h-1.72zM479.34 319.14h1.72v1.72h-1.72zM546.54 319.14h1.72v1.72h-1.72zM557.74 320.74h1.72v1.72h-1.72zM464.94 322.34h1.72v1.72h-1.72zM493.74 322.34h1.72v1.72h-1.72zM564.14 322.34h1.72v1.72h-1.72zM474.54 323.94h1.72v1.72h-1.72zM495.34 323.94h1.72v1.72h-1.72zM543.34 323.94h1.72v1.72h-1.72zM556.14 325.54h1.72v1.72h-1.72zM495.34 327.14h1.72v1.72h-1.72zM544.94 327.14h1.72v1.72h-1.72zM546.54 328.74h1.72v1.72h-1.72zM565.74 328.74h1.72v1.72h-1.72zM461.74 330.34h1.72v1.72h-1.72zM480.94 330.34h1.72v1.72h-1.72zM490.54 330.34h1.72v1.72h-1.72zM549.74 330.34h3.32v1.72h-3.32zM565.74 330.34h3.32v1.72h-3.32zM461.74 331.94h1.72v1.72h-1.72zM484.14 331.94h1.72v1.72h-1.72zM487.34 331.94h1.72v1.72h-1.72zM528.94 331.94h1.72v1.72h-1.72zM527.34 333.54h1.72v1.72h-1.72zM516.14 335.14h1.72v1.72h-1.72zM516.14 336.74h1.72v1.72h-1.72zM516.14 338.34h1.72v1.72h-1.72zM527.34 338.34h1.72v1.72h-1.72zM464.94 339.94h1.72v1.72h-1.72zM528.94 341.54h1.72v1.72h-1.72zM548.14 341.54h1.72v1.72h-1.72zM551.34 341.54h1.72v1.72h-1.72zM484.14 343.14h1.72v1.72h-1.72zM487.34 343.14h1.72v1.72h-1.72zM559.34 343.14h1.72v1.72h-1.72zM480.94 344.74h1.72v1.72h-1.72zM556.14 344.74h3.32v1.72h-3.32zM471.34 346.34h1.72v1.72h-1.72zM477.74 346.34h1.72v1.72h-1.72zM493.74 346.34h1.72v1.72h-1.72zM496.94 347.94h1.72v1.72h-1.72zM506.54 347.94h1.72v1.72h-1.72zM535.34 347.94h1.72v1.72h-1.72zM501.74 349.54h3.32v1.72h-3.32zM552.94 352.74h1.72v1.72h-1.72zM471.34 354.34h1.72v1.72h-1.72zM476.14 354.34h1.72v1.72h-1.72zM554.54 354.34h1.72v1.72h-1.72zM469.74 355.94h1.72v1.72h-1.72zM543.34 355.94h1.72v1.72h-1.72zM487.34 357.54h1.72v1.72h-1.72zM504.94 357.54h1.72v1.72h-1.72zM538.54 357.54h1.72v1.72h-1.72zM500.14 359.14h1.72v1.72h-1.72z"/><path fill="#262626" d="M520.94 279.14h1.72v1.72h-1.72zM524.14 280.74h1.72v1.72h-1.72zM552.94 283.94h1.72v1.72h-1.72zM471.34 285.54h1.72v1.72h-1.72zM493.74 285.54h6.52v1.72h-6.52zM551.34 285.54h1.72v1.72h-1.72zM500.14 287.14h1.72v1.72h-1.72zM549.74 287.14h3.32v1.72h-3.32zM474.54 288.74h3.32v1.72h-3.32zM479.34 288.74h3.32v1.72h-3.32zM532.14 288.74h1.72v1.72h-1.72zM504.94 290.34h1.72v1.72h-1.72zM530.54 290.34h1.72v1.72h-1.72zM508.14 291.94h9.72v1.72h-9.72zM556.14 298.34h1.72v1.72h-1.72zM559.34 298.34h1.72v1.72h-1.72zM471.34 299.94h4.92v1.72h-4.92zM554.54 299.94h1.72v1.72h-1.72zM468.14 301.54h1.72v1.72h-1.72zM477.74 301.54h1.72v1.72h-1.72zM536.94 301.54h1.72v1.72h-1.72zM540.14 301.54h1.72v1.72h-1.72zM466.54 303.14h1.72v1.72h-1.72zM479.34 303.14h1.72v1.72h-1.72zM496.94 303.14h1.72v1.72h-1.72zM504.94 303.14h1.72v1.72h-1.72zM464.94 304.74h1.72v1.72h-1.72zM546.54 304.74h1.72v1.72h-1.72zM551.34 304.74h1.72v1.72h-1.72zM484.14 306.34h1.72v1.72h-1.72zM488.94 306.34h1.72v1.72h-1.72zM530.54 307.94h1.72v1.72h-1.72zM528.94 311.14h1.72v1.72h-1.72zM514.54 312.74h1.72v1.72h-1.72zM527.34 314.34h1.72v1.72h-1.72zM551.34 314.34h1.72v1.72h-1.72zM527.34 315.94h1.72v1.72h-1.72zM564.14 315.94h1.72v1.72h-1.72zM463.34 317.54h1.72v1.72h-1.72zM480.94 317.54h1.72v1.72h-1.72zM490.54 319.14h1.72v1.72h-1.72zM514.54 319.14h1.72v1.72h-1.72zM528.94 319.14h1.72v1.72h-1.72zM464.94 320.74h1.72v1.72h-1.72zM476.14 320.74h1.72v1.72h-1.72zM492.14 320.74h1.72v1.72h-1.72zM512.94 320.74h1.72v1.72h-1.72zM544.94 320.74h1.72v1.72h-1.72zM474.54 322.34h1.72v1.72h-1.72zM511.34 322.34h1.72v1.72h-1.72zM543.34 322.34h1.72v1.72h-1.72zM464.94 323.94h1.72v1.72h-1.72zM509.74 323.94h1.72v1.72h-1.72zM557.74 323.94h1.72v1.72h-1.72zM474.54 325.54h1.72v1.72h-1.72zM496.94 325.54h1.72v1.72h-1.72zM508.14 325.54h1.72v1.72h-1.72zM533.74 325.54h1.72v1.72h-1.72zM543.34 325.54h1.72v1.72h-1.72zM476.14 327.14h1.72v1.72h-1.72zM508.14 327.14h1.72v1.72h-1.72zM493.74 328.74h1.72v1.72h-1.72zM509.74 328.74h1.72v1.72h-1.72zM532.14 328.74h1.72v1.72h-1.72zM511.34 330.34h1.72v1.72h-1.72zM530.54 330.34h1.72v1.72h-1.72zM548.14 330.34h1.72v1.72h-1.72zM482.54 331.94h1.72v1.72h-1.72zM488.94 331.94h1.72v1.72h-1.72zM512.94 331.94h1.72v1.72h-1.72zM564.14 331.94h1.72v1.72h-1.72zM514.54 333.54h1.72v1.72h-1.72zM527.34 335.14h1.72v1.72h-1.72zM463.34 336.74h1.72v1.72h-1.72zM527.34 336.74h1.72v1.72h-1.72zM514.54 339.94h1.72v1.72h-1.72zM549.74 339.94h1.72v1.72h-1.72zM466.54 341.54h1.72v1.72h-1.72zM485.74 341.54h1.72v1.72h-1.72zM512.94 341.54h1.72v1.72h-1.72zM552.94 341.54h1.72v1.72h-1.72zM468.14 343.14h1.72v1.72h-1.72zM482.54 343.14h1.72v1.72h-1.72zM488.94 343.14h1.72v1.72h-1.72zM530.54 343.14h1.72v1.72h-1.72zM554.54 343.14h1.72v1.72h-1.72zM469.74 344.74h1.72v1.72h-1.72zM479.34 344.74h1.72v1.72h-1.72zM492.14 344.74h1.72v1.72h-1.72zM532.14 344.74h1.72v1.72h-1.72zM472.94 346.34h4.92v1.72h-4.92zM508.14 346.34h1.72v1.72h-1.72zM533.74 346.34h1.72v1.72h-1.72zM541.74 346.34h1.72v1.72h-1.72zM498.54 347.94h1.72v1.72h-1.72zM504.94 347.94h1.72v1.72h-1.72zM536.94 347.94h3.32v1.72h-3.32zM551.34 352.74h1.72v1.72h-1.72zM472.94 354.34h3.32v1.72h-3.32zM480.94 355.94h1.72v1.72h-1.72zM506.54 357.54h17.72v1.72h-17.72zM532.14 357.54h1.72v1.72h-1.72zM493.74 359.14h1.72v1.72h-1.72zM501.74 359.14h1.72v1.72h-1.72z"/><path fill="#272727" d="M503.34 279.14h1.72v1.72h-1.72zM522.54 279.14h1.72v1.72h-1.72zM500.14 280.74h1.72v1.72h-1.72zM471.34 283.94h1.72v1.72h-1.72zM532.14 283.94h4.92v1.72h-4.92zM472.94 285.54h1.72v1.72h-1.72zM492.14 285.54h1.72v1.72h-1.72zM532.14 285.54h1.72v1.72h-1.72zM543.34 285.54h1.72v1.72h-1.72zM472.94 287.14h1.72v1.72h-1.72zM485.74 287.14h1.72v1.72h-1.72zM501.74 287.14h1.72v1.72h-1.72zM532.14 287.14h1.72v1.72h-1.72zM477.74 288.74h1.72v1.72h-1.72zM503.34 288.74h1.72v1.72h-1.72zM506.54 290.34h1.72v1.72h-1.72zM528.94 290.34h1.72v1.72h-1.72zM557.74 298.34h1.72v1.72h-1.72zM560.94 299.94h1.72v1.72h-1.72zM469.74 301.54h1.72v1.72h-1.72zM476.14 301.54h1.72v1.72h-1.72zM538.54 301.54h1.72v1.72h-1.72zM554.54 301.54h1.72v1.72h-1.72zM498.54 303.14h6.52v1.72h-6.52zM535.34 303.14h1.72v1.72h-1.72zM543.34 303.14h1.72v1.72h-1.72zM552.94 303.14h1.72v1.72h-1.72zM480.94 304.74h1.72v1.72h-1.72zM493.74 304.74h1.72v1.72h-1.72zM506.54 304.74h1.72v1.72h-1.72zM533.74 304.74h1.72v1.72h-1.72zM482.54 306.34h1.72v1.72h-1.72zM490.54 306.34h1.72v1.72h-1.72zM508.14 306.34h1.72v1.72h-1.72zM532.14 306.34h1.72v1.72h-1.72zM548.14 306.34h4.92v1.72h-4.92zM463.34 307.94h1.72v1.72h-1.72zM484.14 307.94h4.92v1.72h-4.92zM509.74 307.94h1.72v1.72h-1.72zM511.34 309.54h1.72v1.72h-1.72zM530.54 309.54h1.72v1.72h-1.72zM512.94 311.14h1.72v1.72h-1.72zM528.94 312.74h1.72v1.72h-1.72zM514.54 314.34h1.72v1.72h-1.72zM549.74 314.34h1.72v1.72h-1.72zM552.94 314.34h1.72v1.72h-1.72zM484.14 315.94h4.92v1.72h-4.92zM514.54 315.94h1.72v1.72h-1.72zM548.14 315.94h1.72v1.72h-1.72zM554.54 315.94h1.72v1.72h-1.72zM488.94 317.54h1.72v1.72h-1.72zM514.54 317.54h1.72v1.72h-1.72zM528.94 317.54h1.72v1.72h-1.72zM556.14 317.54h1.72v1.72h-1.72zM477.74 319.14h1.72v1.72h-1.72zM557.74 319.14h1.72v1.72h-1.72zM530.54 320.74h1.72v1.72h-1.72zM559.34 320.74h1.72v1.72h-1.72zM495.34 322.34h1.72v1.72h-1.72zM532.14 322.34h1.72v1.72h-1.72zM472.94 323.94h1.72v1.72h-1.72zM496.94 323.94h1.72v1.72h-1.72zM508.14 323.94h1.72v1.72h-1.72zM533.74 323.94h1.72v1.72h-1.72zM541.74 323.94h1.72v1.72h-1.72zM564.14 323.94h1.72v1.72h-1.72zM506.54 325.54h1.72v1.72h-1.72zM535.34 325.54h1.72v1.72h-1.72zM463.34 327.14h1.72v1.72h-1.72zM496.94 327.14h1.72v1.72h-1.72zM533.74 327.14h1.72v1.72h-1.72zM477.74 328.74h1.72v1.72h-1.72zM554.54 328.74h1.72v1.72h-1.72zM479.34 330.34h1.72v1.72h-1.72zM492.14 330.34h1.72v1.72h-1.72zM552.94 330.34h1.72v1.72h-1.72zM549.74 331.94h3.32v1.72h-3.32zM484.14 333.54h4.92v1.72h-4.92zM528.94 333.54h1.72v1.72h-1.72zM514.54 335.14h1.72v1.72h-1.72zM514.54 336.74h1.72v1.72h-1.72zM514.54 338.34h1.72v1.72h-1.72zM528.94 339.94h1.72v1.72h-1.72zM551.34 339.94h1.72v1.72h-1.72zM482.54 341.54h3.32v1.72h-3.32zM487.34 341.54h1.72v1.72h-1.72zM546.54 341.54h1.72v1.72h-1.72zM480.94 343.14h1.72v1.72h-1.72zM490.54 343.14h1.72v1.72h-1.72zM511.34 343.14h1.72v1.72h-1.72zM544.94 343.14h1.72v1.72h-1.72zM477.74 344.74h1.72v1.72h-1.72zM509.74 344.74h1.72v1.72h-1.72zM543.34 344.74h1.72v1.72h-1.72zM495.34 346.34h1.72v1.72h-1.72zM540.14 346.34h1.72v1.72h-1.72zM500.14 347.94h4.92v1.72h-4.92zM552.94 354.34h1.72v1.72h-1.72zM471.34 355.94h1.72v1.72h-1.72zM524.14 357.54h8.12v1.72h-8.12z"/><path fill="#282828" d="M490.54 275.94h1.72v1.72h-1.72zM492.14 277.54h1.72v1.72h-1.72zM492.14 279.14h1.72v1.72h-1.72zM501.74 279.14h1.72v1.72h-1.72zM525.74 280.74h1.72v1.72h-1.72zM501.74 282.34h6.52v1.72h-6.52zM552.94 282.34h1.72v1.72h-1.72zM530.54 283.94h1.72v1.72h-1.72zM536.94 283.94h1.72v1.72h-1.72zM551.34 283.94h1.72v1.72h-1.72zM474.54 285.54h1.72v1.72h-1.72zM490.54 285.54h1.72v1.72h-1.72zM500.14 285.54h1.72v1.72h-1.72zM544.94 285.54h1.72v1.72h-1.72zM474.54 287.14h1.72v1.72h-1.72zM484.14 287.14h1.72v1.72h-1.72zM530.54 288.74h1.72v1.72h-1.72zM508.14 290.34h1.72v1.72h-1.72zM525.74 290.34h3.32v1.72h-3.32zM556.14 299.94h1.72v1.72h-1.72zM471.34 301.54h1.72v1.72h-1.72zM474.54 301.54h1.72v1.72h-1.72zM477.74 303.14h1.72v1.72h-1.72zM536.94 303.14h1.72v1.72h-1.72zM541.74 303.14h1.72v1.72h-1.72zM479.34 304.74h1.72v1.72h-1.72zM495.34 304.74h1.72v1.72h-1.72zM504.94 304.74h1.72v1.72h-1.72zM544.94 304.74h1.72v1.72h-1.72zM552.94 304.74h1.72v1.72h-1.72zM480.94 306.34h1.72v1.72h-1.72zM492.14 306.34h1.72v1.72h-1.72zM482.54 307.94h1.72v1.72h-1.72zM488.94 307.94h1.72v1.72h-1.72zM532.14 307.94h1.72v1.72h-1.72zM549.74 307.94h1.72v1.72h-1.72zM484.14 309.54h4.92v1.72h-4.92zM512.94 312.74h1.72v1.72h-1.72zM551.34 312.74h1.72v1.72h-1.72zM484.14 314.34h3.32v1.72h-3.32zM528.94 314.34h1.72v1.72h-1.72zM564.14 314.34h1.72v1.72h-1.72zM463.34 315.94h1.72v1.72h-1.72zM482.54 315.94h1.72v1.72h-1.72zM528.94 315.94h1.72v1.72h-1.72zM479.34 317.54h1.72v1.72h-1.72zM546.54 317.54h1.72v1.72h-1.72zM464.94 319.14h1.72v1.72h-1.72zM492.14 319.14h1.72v1.72h-1.72zM512.94 319.14h1.72v1.72h-1.72zM530.54 319.14h1.72v1.72h-1.72zM544.94 319.14h1.72v1.72h-1.72zM474.54 320.74h1.72v1.72h-1.72zM493.74 320.74h1.72v1.72h-1.72zM511.34 320.74h1.72v1.72h-1.72zM562.54 320.74h1.72v1.72h-1.72zM466.54 322.34h1.72v1.72h-1.72zM472.94 322.34h1.72v1.72h-1.72zM509.74 322.34h1.72v1.72h-1.72zM533.74 322.34h1.72v1.72h-1.72zM559.34 322.34h1.72v1.72h-1.72zM466.54 323.94h1.72v1.72h-1.72zM471.34 323.94h1.72v1.72h-1.72zM535.34 323.94h1.72v1.72h-1.72zM464.94 325.54h1.72v1.72h-1.72zM472.94 325.54h1.72v1.72h-1.72zM498.54 325.54h3.32v1.72h-3.32zM504.94 325.54h1.72v1.72h-1.72zM541.74 325.54h1.72v1.72h-1.72zM498.54 327.14h1.72v1.72h-1.72zM506.54 327.14h1.72v1.72h-1.72zM535.34 327.14h1.72v1.72h-1.72zM543.34 327.14h1.72v1.72h-1.72zM556.14 327.14h1.72v1.72h-1.72zM463.34 328.74h1.72v1.72h-1.72zM495.34 328.74h1.72v1.72h-1.72zM508.14 328.74h1.72v1.72h-1.72zM533.74 328.74h1.72v1.72h-1.72zM544.94 328.74h1.72v1.72h-1.72zM493.74 330.34h1.72v1.72h-1.72zM509.74 330.34h1.72v1.72h-1.72zM532.14 330.34h1.72v1.72h-1.72zM546.54 330.34h1.72v1.72h-1.72zM480.94 331.94h1.72v1.72h-1.72zM490.54 331.94h1.72v1.72h-1.72zM511.34 331.94h1.72v1.72h-1.72zM530.54 331.94h1.72v1.72h-1.72zM548.14 331.94h1.72v1.72h-1.72zM482.54 333.54h1.72v1.72h-1.72zM488.94 333.54h1.72v1.72h-1.72zM512.94 333.54h1.72v1.72h-1.72zM463.34 335.14h1.72v1.72h-1.72zM485.74 335.14h1.72v1.72h-1.72zM528.94 335.14h1.72v1.72h-1.72zM528.94 336.74h1.72v1.72h-1.72zM464.94 338.34h1.72v1.72h-1.72zM528.94 338.34h1.72v1.72h-1.72zM549.74 338.34h3.32v1.72h-3.32zM484.14 339.94h4.92v1.72h-4.92zM512.94 339.94h1.72v1.72h-1.72zM548.14 339.94h1.72v1.72h-1.72zM552.94 339.94h1.72v1.72h-1.72zM560.94 339.94h1.72v1.72h-1.72zM488.94 341.54h1.72v1.72h-1.72zM511.34 341.54h1.72v1.72h-1.72zM530.54 341.54h1.72v1.72h-1.72zM554.54 341.54h1.72v1.72h-1.72zM479.34 343.14h1.72v1.72h-1.72zM532.14 343.14h1.72v1.72h-1.72zM556.14 343.14h3.32v1.72h-3.32zM471.34 344.74h6.52v1.72h-6.52zM493.74 344.74h1.72v1.72h-1.72zM508.14 344.74h1.72v1.72h-1.72zM533.74 344.74h1.72v1.72h-1.72zM496.94 346.34h1.72v1.72h-1.72zM506.54 346.34h1.72v1.72h-1.72zM535.34 346.34h4.92v1.72h-4.92zM548.14 354.34h1.72v1.72h-1.72zM551.34 354.34h1.72v1.72h-1.72zM472.94 355.94h1.72v1.72h-1.72zM479.34 355.94h1.72v1.72h-1.72zM552.94 355.94h1.72v1.72h-1.72zM485.74 357.54h1.72v1.72h-1.72zM492.14 359.14h1.72v1.72h-1.72zM503.34 359.14h1.72v1.72h-1.72zM532.14 359.14h1.72v1.72h-1.72zM532.14 360.74h1.72v1.72h-1.72zM532.14 362.34h3.32v1.72h-3.32z"/><path fill="#292929" d="M492.14 275.94h1.72v1.72h-1.72zM522.54 275.94h4.92v1.72h-4.92zM488.94 277.54h3.32v1.72h-3.32zM493.74 277.54h1.72v1.72h-1.72zM522.54 277.54h4.92v1.72h-4.92zM490.54 279.14h1.72v1.72h-1.72zM493.74 279.14h1.72v1.72h-1.72zM524.14 279.14h1.72v1.72h-1.72zM498.54 280.74h1.72v1.72h-1.72zM500.14 282.34h1.72v1.72h-1.72zM508.14 282.34h3.32v1.72h-3.32zM524.14 282.34h6.52v1.72h-6.52zM551.34 282.34h1.72v1.72h-1.72zM472.94 283.94h3.32v1.72h-3.32zM496.94 283.94h6.52v1.72h-6.52zM538.54 283.94h1.72v1.72h-1.72zM549.74 283.94h1.72v1.72h-1.72zM488.94 285.54h1.72v1.72h-1.72zM501.74 285.54h1.72v1.72h-1.72zM530.54 285.54h1.72v1.72h-1.72zM546.54 285.54h4.92v1.72h-4.92zM476.14 287.14h1.72v1.72h-1.72zM480.94 287.14h3.32v1.72h-3.32zM503.34 287.14h1.72v1.72h-1.72zM530.54 287.14h1.72v1.72h-1.72zM504.94 288.74h1.72v1.72h-1.72zM528.94 288.74h1.72v1.72h-1.72zM509.74 290.34h16.12v1.72h-16.12zM557.74 299.94h3.32v1.72h-3.32zM472.94 301.54h1.72v1.72h-1.72zM468.14 303.14h1.72v1.72h-1.72zM476.14 303.14h1.72v1.72h-1.72zM538.54 303.14h3.32v1.72h-3.32zM554.54 303.14h1.72v1.72h-1.72zM562.54 303.14h1.72v1.72h-1.72zM466.54 304.74h1.72v1.72h-1.72zM496.94 304.74h3.32v1.72h-3.32zM503.34 304.74h1.72v1.72h-1.72zM535.34 304.74h1.72v1.72h-1.72zM543.34 304.74h1.72v1.72h-1.72zM464.94 306.34h1.72v1.72h-1.72zM493.74 306.34h1.72v1.72h-1.72zM506.54 306.34h1.72v1.72h-1.72zM533.74 306.34h1.72v1.72h-1.72zM546.54 306.34h1.72v1.72h-1.72zM552.94 306.34h1.72v1.72h-1.72zM490.54 307.94h1.72v1.72h-1.72zM508.14 307.94h1.72v1.72h-1.72zM548.14 307.94h1.72v1.72h-1.72zM551.34 307.94h1.72v1.72h-1.72zM564.14 307.94h1.72v1.72h-1.72zM463.34 309.54h1.72v1.72h-1.72zM482.54 309.54h1.72v1.72h-1.72zM488.94 309.54h1.72v1.72h-1.72zM509.74 309.54h1.72v1.72h-1.72zM549.74 309.54h3.32v1.72h-3.32zM484.14 311.14h4.92v1.72h-4.92zM511.34 311.14h1.72v1.72h-1.72zM530.54 311.14h1.72v1.72h-1.72zM549.74 311.14h3.32v1.72h-3.32zM484.14 312.74h4.92v1.72h-4.92zM549.74 312.74h1.72v1.72h-1.72zM552.94 312.74h1.72v1.72h-1.72zM463.34 314.34h1.72v1.72h-1.72zM482.54 314.34h1.72v1.72h-1.72zM487.34 314.34h1.72v1.72h-1.72zM512.94 314.34h1.72v1.72h-1.72zM548.14 314.34h1.72v1.72h-1.72zM554.54 314.34h1.72v1.72h-1.72zM480.94 315.94h1.72v1.72h-1.72zM488.94 315.94h1.72v1.72h-1.72zM512.94 315.94h1.72v1.72h-1.72zM556.14 315.94h1.72v1.72h-1.72zM490.54 317.54h1.72v1.72h-1.72zM512.94 317.54h1.72v1.72h-1.72zM557.74 317.54h1.72v1.72h-1.72zM476.14 319.14h1.72v1.72h-1.72zM559.34 319.14h1.72v1.72h-1.72zM562.54 319.14h1.72v1.72h-1.72zM466.54 320.74h1.72v1.72h-1.72zM532.14 320.74h1.72v1.72h-1.72zM543.34 320.74h1.72v1.72h-1.72zM560.94 320.74h1.72v1.72h-1.72zM468.14 322.34h4.92v1.72h-4.92zM496.94 322.34h1.72v1.72h-1.72zM508.14 322.34h1.72v1.72h-1.72zM541.74 322.34h1.72v1.72h-1.72zM560.94 322.34h3.32v1.72h-3.32zM468.14 323.94h3.32v1.72h-3.32zM498.54 323.94h1.72v1.72h-1.72zM506.54 323.94h1.72v1.72h-1.72zM536.94 323.94h4.92v1.72h-4.92zM559.34 323.94h1.72v1.72h-1.72zM466.54 325.54h1.72v1.72h-1.72zM501.74 325.54h3.32v1.72h-3.32zM536.94 325.54h4.92v1.72h-4.92zM557.74 325.54h1.72v1.72h-1.72zM564.14 325.54h1.72v1.72h-1.72zM474.54 327.14h1.72v1.72h-1.72zM500.14 327.14h6.52v1.72h-6.52zM541.74 327.14h1.72v1.72h-1.72zM476.14 328.74h1.72v1.72h-1.72zM496.94 328.74h1.72v1.72h-1.72zM506.54 328.74h1.72v1.72h-1.72zM463.34 330.34h1.72v1.72h-1.72zM554.54 330.34h1.72v1.72h-1.72zM564.14 330.34h1.72v1.72h-1.72zM492.14 331.94h1.72v1.72h-1.72zM552.94 331.94h1.72v1.72h-1.72zM463.34 333.54h1.72v1.72h-1.72zM530.54 333.54h1.72v1.72h-1.72zM549.74 333.54h3.32v1.72h-3.32zM484.14 335.14h1.72v1.72h-1.72zM487.34 335.14h1.72v1.72h-1.72zM512.94 335.14h1.72v1.72h-1.72zM549.74 335.14h3.32v1.72h-3.32zM484.14 336.74h4.92v1.72h-4.92zM512.94 336.74h1.72v1.72h-1.72zM549.74 336.74h3.32v1.72h-3.32zM562.54 336.74h1.72v1.72h-1.72zM484.14 338.34h4.92v1.72h-4.92zM512.94 338.34h1.72v1.72h-1.72zM548.14 338.34h1.72v1.72h-1.72zM552.94 338.34h1.72v1.72h-1.72zM466.54 339.94h1.72v1.72h-1.72zM482.54 339.94h1.72v1.72h-1.72zM488.94 339.94h1.72v1.72h-1.72zM530.54 339.94h1.72v1.72h-1.72zM468.14 341.54h1.72v1.72h-1.72zM480.94 341.54h1.72v1.72h-1.72zM490.54 341.54h1.72v1.72h-1.72zM559.34 341.54h1.72v1.72h-1.72zM469.74 343.14h1.72v1.72h-1.72zM477.74 343.14h1.72v1.72h-1.72zM492.14 343.14h1.72v1.72h-1.72zM509.74 343.14h1.72v1.72h-1.72zM495.34 344.74h1.72v1.72h-1.72zM541.74 344.74h1.72v1.72h-1.72zM498.54 346.34h3.32v1.72h-3.32zM503.34 346.34h3.32v1.72h-3.32zM549.74 354.34h1.72v1.72h-1.72zM551.34 355.94h1.72v1.72h-1.72zM504.94 359.14h1.72v1.72h-1.72zM530.54 359.14h1.72v1.72h-1.72zM533.74 359.14h1.72v1.72h-1.72zM500.14 360.74h3.32v1.72h-3.32zM530.54 360.74h1.72v1.72h-1.72zM533.74 360.74h1.72v1.72h-1.72zM498.54 362.34h4.92v1.72h-4.92zM530.54 362.34h1.72v1.72h-1.72zM535.34 362.34h1.72v1.72h-1.72zM498.54 363.94h4.92v1.72h-4.92z"/><path fill="#2a2a2a" d="M493.74 275.94h1.72v1.72h-1.72zM520.94 275.94h1.72v1.72h-1.72zM527.34 275.94h1.72v1.72h-1.72zM487.34 277.54h1.72v1.72h-1.72zM495.34 277.54h1.72v1.72h-1.72zM520.94 277.54h1.72v1.72h-1.72zM527.34 277.54h1.72v1.72h-1.72zM488.94 279.14h1.72v1.72h-1.72zM495.34 279.14h1.72v1.72h-1.72zM500.14 279.14h1.72v1.72h-1.72zM525.74 279.14h1.72v1.72h-1.72zM488.94 280.74h1.72v1.72h-1.72zM527.34 280.74h1.72v1.72h-1.72zM472.94 282.34h3.32v1.72h-3.32zM498.54 282.34h1.72v1.72h-1.72zM511.34 282.34h1.72v1.72h-1.72zM522.54 282.34h1.72v1.72h-1.72zM530.54 282.34h1.72v1.72h-1.72zM476.14 283.94h1.72v1.72h-1.72zM495.34 283.94h1.72v1.72h-1.72zM503.34 283.94h1.72v1.72h-1.72zM528.94 283.94h1.72v1.72h-1.72zM503.34 285.54h1.72v1.72h-1.72zM477.74 287.14h3.32v1.72h-3.32zM506.54 288.74h1.72v1.72h-1.72zM527.34 288.74h1.72v1.72h-1.72zM556.14 301.54h1.72v1.72h-1.72zM560.94 301.54h1.72v1.72h-1.72zM469.74 303.14h1.72v1.72h-1.72zM474.54 303.14h1.72v1.72h-1.72zM477.74 304.74h1.72v1.72h-1.72zM500.14 304.74h3.32v1.72h-3.32zM536.94 304.74h1.72v1.72h-1.72zM541.74 304.74h1.72v1.72h-1.72zM554.54 304.74h1.72v1.72h-1.72zM479.34 306.34h1.72v1.72h-1.72zM495.34 306.34h1.72v1.72h-1.72zM504.94 306.34h1.72v1.72h-1.72zM544.94 306.34h1.72v1.72h-1.72zM480.94 307.94h1.72v1.72h-1.72zM492.14 307.94h1.72v1.72h-1.72zM533.74 307.94h1.72v1.72h-1.72zM546.54 307.94h1.72v1.72h-1.72zM552.94 307.94h1.72v1.72h-1.72zM490.54 309.54h1.72v1.72h-1.72zM532.14 309.54h1.72v1.72h-1.72zM548.14 309.54h1.72v1.72h-1.72zM552.94 309.54h1.72v1.72h-1.72zM564.14 309.54h1.72v1.72h-1.72zM463.34 311.14h1.72v1.72h-1.72zM482.54 311.14h1.72v1.72h-1.72zM488.94 311.14h1.72v1.72h-1.72zM548.14 311.14h1.72v1.72h-1.72zM552.94 311.14h1.72v1.72h-1.72zM564.14 311.14h1.72v1.72h-1.72zM463.34 312.74h1.72v1.72h-1.72zM482.54 312.74h1.72v1.72h-1.72zM488.94 312.74h1.72v1.72h-1.72zM511.34 312.74h1.72v1.72h-1.72zM530.54 312.74h1.72v1.72h-1.72zM548.14 312.74h1.72v1.72h-1.72zM564.14 312.74h1.72v1.72h-1.72zM480.94 314.34h1.72v1.72h-1.72zM488.94 314.34h1.72v1.72h-1.72zM530.54 314.34h1.72v1.72h-1.72zM479.34 315.94h1.72v1.72h-1.72zM490.54 315.94h1.72v1.72h-1.72zM530.54 315.94h1.72v1.72h-1.72zM546.54 315.94h1.72v1.72h-1.72zM464.94 317.54h1.72v1.72h-1.72zM477.74 317.54h1.72v1.72h-1.72zM530.54 317.54h1.72v1.72h-1.72zM562.54 317.54h1.72v1.72h-1.72zM493.74 319.14h1.72v1.72h-1.72zM511.34 319.14h1.72v1.72h-1.72zM532.14 319.14h1.72v1.72h-1.72zM560.94 319.14h1.72v1.72h-1.72zM468.14 320.74h1.72v1.72h-1.72zM471.34 320.74h3.32v1.72h-3.32zM495.34 320.74h1.72v1.72h-1.72zM509.74 320.74h1.72v1.72h-1.72zM533.74 320.74h1.72v1.72h-1.72zM535.34 322.34h1.72v1.72h-1.72zM540.14 322.34h1.72v1.72h-1.72zM500.14 323.94h6.52v1.72h-6.52zM468.14 325.54h4.92v1.72h-4.92zM464.94 327.14h1.72v1.72h-1.72zM536.94 327.14h4.92v1.72h-4.92zM564.14 327.14h1.72v1.72h-1.72zM498.54 328.74h1.72v1.72h-1.72zM504.94 328.74h1.72v1.72h-1.72zM535.34 328.74h1.72v1.72h-1.72zM543.34 328.74h1.72v1.72h-1.72zM556.14 328.74h1.72v1.72h-1.72zM564.14 328.74h1.72v1.72h-1.72zM477.74 330.34h1.72v1.72h-1.72zM495.34 330.34h1.72v1.72h-1.72zM508.14 330.34h1.72v1.72h-1.72zM533.74 330.34h1.72v1.72h-1.72zM463.34 331.94h1.72v1.72h-1.72zM479.34 331.94h1.72v1.72h-1.72zM509.74 331.94h1.72v1.72h-1.72zM532.14 331.94h1.72v1.72h-1.72zM546.54 331.94h1.72v1.72h-1.72zM480.94 333.54h1.72v1.72h-1.72zM490.54 333.54h1.72v1.72h-1.72zM511.34 333.54h1.72v1.72h-1.72zM548.14 333.54h1.72v1.72h-1.72zM552.94 333.54h1.72v1.72h-1.72zM482.54 335.14h1.72v1.72h-1.72zM488.94 335.14h1.72v1.72h-1.72zM530.54 335.14h1.72v1.72h-1.72zM548.14 335.14h1.72v1.72h-1.72zM552.94 335.14h1.72v1.72h-1.72zM482.54 336.74h1.72v1.72h-1.72zM488.94 336.74h1.72v1.72h-1.72zM530.54 336.74h1.72v1.72h-1.72zM548.14 336.74h1.72v1.72h-1.72zM552.94 336.74h1.72v1.72h-1.72zM482.54 338.34h1.72v1.72h-1.72zM488.94 338.34h1.72v1.72h-1.72zM530.54 338.34h1.72v1.72h-1.72zM480.94 339.94h1.72v1.72h-1.72zM511.34 339.94h1.72v1.72h-1.72zM546.54 339.94h1.72v1.72h-1.72zM554.54 339.94h1.72v1.72h-1.72zM479.34 341.54h1.72v1.72h-1.72zM509.74 341.54h1.72v1.72h-1.72zM532.14 341.54h1.72v1.72h-1.72zM544.94 341.54h1.72v1.72h-1.72zM556.14 341.54h3.32v1.72h-3.32zM471.34 343.14h1.72v1.72h-1.72zM476.14 343.14h1.72v1.72h-1.72zM493.74 343.14h1.72v1.72h-1.72zM508.14 343.14h1.72v1.72h-1.72zM533.74 343.14h1.72v1.72h-1.72zM543.34 343.14h1.72v1.72h-1.72zM496.94 344.74h1.72v1.72h-1.72zM506.54 344.74h1.72v1.72h-1.72zM535.34 344.74h3.32v1.72h-3.32zM540.14 344.74h1.72v1.72h-1.72zM501.74 346.34h1.72v1.72h-1.72zM474.54 355.94h1.72v1.72h-1.72zM549.74 355.94h1.72v1.72h-1.72zM472.94 357.54h1.72v1.72h-1.72zM484.14 357.54h1.72v1.72h-1.72zM506.54 359.14h3.32v1.72h-3.32zM535.34 359.14h1.72v1.72h-1.72zM498.54 360.74h1.72v1.72h-1.72zM503.34 360.74h1.72v1.72h-1.72zM528.94 360.74h1.72v1.72h-1.72zM535.34 360.74h1.72v1.72h-1.72zM496.94 362.34h1.72v1.72h-1.72zM503.34 362.34h1.72v1.72h-1.72zM528.94 362.34h1.72v1.72h-1.72zM536.94 362.34h1.72v1.72h-1.72zM496.94 363.94h1.72v1.72h-1.72zM503.34 363.94h1.72v1.72h-1.72zM530.54 363.94h1.72v1.72h-1.72z"/><path fill="#2b2b2b" d="M495.34 275.94h1.72v1.72h-1.72zM519.34 275.94h1.72v1.72h-1.72zM528.94 275.94h1.72v1.72h-1.72zM485.74 277.54h1.72v1.72h-1.72zM519.34 277.54h1.72v1.72h-1.72zM528.94 277.54h1.72v1.72h-1.72zM485.74 279.14h3.32v1.72h-3.32zM496.94 279.14h1.72v1.72h-1.72zM527.34 279.14h1.72v1.72h-1.72zM487.34 280.74h1.72v1.72h-1.72zM496.94 280.74h1.72v1.72h-1.72zM476.14 282.34h1.72v1.72h-1.72zM496.94 282.34h1.72v1.72h-1.72zM512.94 282.34h9.72v1.72h-9.72zM532.14 282.34h1.72v1.72h-1.72zM549.74 282.34h1.72v1.72h-1.72zM477.74 283.94h1.72v1.72h-1.72zM493.74 283.94h1.72v1.72h-1.72zM504.94 283.94h1.72v1.72h-1.72zM527.34 283.94h1.72v1.72h-1.72zM540.14 283.94h1.72v1.72h-1.72zM548.14 283.94h1.72v1.72h-1.72zM476.14 285.54h1.72v1.72h-1.72zM487.34 285.54h1.72v1.72h-1.72zM528.94 285.54h1.72v1.72h-1.72zM504.94 287.14h1.72v1.72h-1.72zM528.94 287.14h1.72v1.72h-1.72zM508.14 288.74h3.32v1.72h-3.32zM525.74 288.74h1.72v1.72h-1.72zM557.74 301.54h3.32v1.72h-3.32zM471.34 303.14h3.32v1.72h-3.32zM556.14 303.14h1.72v1.72h-1.72zM468.14 304.74h1.72v1.72h-1.72zM476.14 304.74h1.72v1.72h-1.72zM538.54 304.74h3.32v1.72h-3.32zM466.54 306.34h1.72v1.72h-1.72zM477.74 306.34h1.72v1.72h-1.72zM496.94 306.34h1.72v1.72h-1.72zM503.34 306.34h1.72v1.72h-1.72zM535.34 306.34h1.72v1.72h-1.72zM554.54 306.34h1.72v1.72h-1.72zM464.94 307.94h1.72v1.72h-1.72zM479.34 307.94h1.72v1.72h-1.72zM493.74 307.94h1.72v1.72h-1.72zM506.54 307.94h1.72v1.72h-1.72zM480.94 309.54h1.72v1.72h-1.72zM508.14 309.54h1.72v1.72h-1.72zM480.94 311.14h1.72v1.72h-1.72zM490.54 311.14h1.72v1.72h-1.72zM509.74 311.14h1.72v1.72h-1.72zM532.14 311.14h1.72v1.72h-1.72zM480.94 312.74h1.72v1.72h-1.72zM554.54 312.74h1.72v1.72h-1.72zM490.54 314.34h1.72v1.72h-1.72zM511.34 314.34h1.72v1.72h-1.72zM511.34 315.94h1.72v1.72h-1.72zM476.14 317.54h1.72v1.72h-1.72zM492.14 317.54h1.72v1.72h-1.72zM511.34 317.54h1.72v1.72h-1.72zM544.94 317.54h1.72v1.72h-1.72zM559.34 317.54h1.72v1.72h-1.72zM466.54 319.14h1.72v1.72h-1.72zM474.54 319.14h1.72v1.72h-1.72zM509.74 319.14h1.72v1.72h-1.72zM543.34 319.14h1.72v1.72h-1.72zM469.74 320.74h1.72v1.72h-1.72zM508.14 320.74h1.72v1.72h-1.72zM541.74 320.74h1.72v1.72h-1.72zM498.54 322.34h3.32v1.72h-3.32zM504.94 322.34h3.32v1.72h-3.32zM536.94 322.34h3.32v1.72h-3.32zM560.94 323.94h3.32v1.72h-3.32zM466.54 327.14h1.72v1.72h-1.72zM472.94 327.14h1.72v1.72h-1.72zM557.74 327.14h1.72v1.72h-1.72zM464.94 328.74h1.72v1.72h-1.72zM474.54 328.74h1.72v1.72h-1.72zM500.14 328.74h4.92v1.72h-4.92zM536.94 328.74h1.72v1.72h-1.72zM541.74 328.74h1.72v1.72h-1.72zM496.94 330.34h1.72v1.72h-1.72zM506.54 330.34h1.72v1.72h-1.72zM544.94 330.34h1.72v1.72h-1.72zM493.74 331.94h1.72v1.72h-1.72zM554.54 331.94h1.72v1.72h-1.72zM479.34 333.54h1.72v1.72h-1.72zM492.14 333.54h1.72v1.72h-1.72zM480.94 335.14h1.72v1.72h-1.72zM490.54 335.14h1.72v1.72h-1.72zM511.34 335.14h1.72v1.72h-1.72zM464.94 336.74h1.72v1.72h-1.72zM480.94 336.74h1.72v1.72h-1.72zM511.34 336.74h1.72v1.72h-1.72zM480.94 338.34h1.72v1.72h-1.72zM511.34 338.34h1.72v1.72h-1.72zM546.54 338.34h1.72v1.72h-1.72zM554.54 338.34h1.72v1.72h-1.72zM479.34 339.94h1.72v1.72h-1.72zM490.54 339.94h1.72v1.72h-1.72zM532.14 339.94h1.72v1.72h-1.72zM556.14 339.94h1.72v1.72h-1.72zM469.74 341.54h1.72v1.72h-1.72zM477.74 341.54h1.72v1.72h-1.72zM492.14 341.54h1.72v1.72h-1.72zM472.94 343.14h3.32v1.72h-3.32zM535.34 343.14h1.72v1.72h-1.72zM541.74 343.14h1.72v1.72h-1.72zM498.54 344.74h1.72v1.72h-1.72zM503.34 344.74h3.32v1.72h-3.32zM538.54 344.74h1.72v1.72h-1.72zM476.14 355.94h3.32v1.72h-3.32zM546.54 355.94h3.32v1.72h-3.32zM474.54 357.54h1.72v1.72h-1.72zM548.14 357.54h3.32v1.72h-3.32zM509.74 359.14h4.92v1.72h-4.92zM528.94 359.14h1.72v1.72h-1.72zM536.94 359.14h1.72v1.72h-1.72zM496.94 360.74h1.72v1.72h-1.72zM504.94 360.74h1.72v1.72h-1.72zM527.34 360.74h1.72v1.72h-1.72zM536.94 360.74h3.32v1.72h-3.32zM495.34 362.34h1.72v1.72h-1.72zM504.94 362.34h1.72v1.72h-1.72zM538.54 362.34h1.72v1.72h-1.72zM495.34 363.94h1.72v1.72h-1.72zM504.94 363.94h1.72v1.72h-1.72zM528.94 363.94h1.72v1.72h-1.72z"/><path fill="#2c2c2c" d="M496.94 275.94h1.72v1.72h-1.72zM517.74 275.94h1.72v1.72h-1.72zM530.54 275.94h1.72v1.72h-1.72zM484.14 277.54h1.72v1.72h-1.72zM496.94 277.54h1.72v1.72h-1.72zM517.74 277.54h1.72v1.72h-1.72zM530.54 277.54h1.72v1.72h-1.72zM482.54 279.14h3.32v1.72h-3.32zM498.54 279.14h1.72v1.72h-1.72zM528.94 279.14h1.72v1.72h-1.72zM476.14 280.74h4.92v1.72h-4.92zM484.14 280.74h3.32v1.72h-3.32zM528.94 280.74h1.72v1.72h-1.72zM549.74 280.74h1.72v1.72h-1.72zM477.74 282.34h4.92v1.72h-4.92zM533.74 282.34h1.72v1.72h-1.72zM548.14 282.34h1.72v1.72h-1.72zM492.14 283.94h1.72v1.72h-1.72zM541.74 283.94h3.32v1.72h-3.32zM484.14 285.54h3.32v1.72h-3.32zM504.94 285.54h1.72v1.72h-1.72zM506.54 287.14h1.72v1.72h-1.72zM527.34 287.14h1.72v1.72h-1.72zM511.34 288.74h3.32v1.72h-3.32zM520.94 288.74h4.92v1.72h-4.92zM469.74 304.74h1.72v1.72h-1.72zM474.54 304.74h1.72v1.72h-1.72zM556.14 304.74h1.72v1.72h-1.72zM562.54 304.74h1.72v1.72h-1.72zM498.54 306.34h4.92v1.72h-4.92zM536.94 306.34h1.72v1.72h-1.72zM543.34 306.34h1.72v1.72h-1.72zM495.34 307.94h1.72v1.72h-1.72zM504.94 307.94h1.72v1.72h-1.72zM535.34 307.94h1.72v1.72h-1.72zM544.94 307.94h1.72v1.72h-1.72zM554.54 307.94h1.72v1.72h-1.72zM464.94 309.54h1.72v1.72h-1.72zM479.34 309.54h1.72v1.72h-1.72zM492.14 309.54h1.72v1.72h-1.72zM506.54 309.54h1.72v1.72h-1.72zM533.74 309.54h1.72v1.72h-1.72zM546.54 309.54h1.72v1.72h-1.72zM554.54 309.54h1.72v1.72h-1.72zM508.14 311.14h1.72v1.72h-1.72zM546.54 311.14h1.72v1.72h-1.72zM554.54 311.14h1.72v1.72h-1.72zM490.54 312.74h1.72v1.72h-1.72zM509.74 312.74h1.72v1.72h-1.72zM532.14 312.74h1.72v1.72h-1.72zM546.54 312.74h1.72v1.72h-1.72zM479.34 314.34h1.72v1.72h-1.72zM532.14 314.34h1.72v1.72h-1.72zM546.54 314.34h1.72v1.72h-1.72zM556.14 314.34h1.72v1.72h-1.72zM464.94 315.94h1.72v1.72h-1.72zM477.74 315.94h1.72v1.72h-1.72zM492.14 315.94h1.72v1.72h-1.72zM532.14 315.94h1.72v1.72h-1.72zM557.74 315.94h1.72v1.72h-1.72zM562.54 315.94h1.72v1.72h-1.72zM466.54 317.54h1.72v1.72h-1.72zM493.74 317.54h1.72v1.72h-1.72zM509.74 317.54h1.72v1.72h-1.72zM532.14 317.54h1.72v1.72h-1.72zM560.94 317.54h1.72v1.72h-1.72zM468.14 319.14h6.52v1.72h-6.52zM495.34 319.14h1.72v1.72h-1.72zM533.74 319.14h1.72v1.72h-1.72zM496.94 320.74h1.72v1.72h-1.72zM506.54 320.74h1.72v1.72h-1.72zM535.34 320.74h1.72v1.72h-1.72zM540.14 320.74h1.72v1.72h-1.72zM501.74 322.34h3.32v1.72h-3.32zM559.34 325.54h1.72v1.72h-1.72zM468.14 327.14h4.92v1.72h-4.92zM538.54 328.74h3.32v1.72h-3.32zM476.14 330.34h1.72v1.72h-1.72zM498.54 330.34h1.72v1.72h-1.72zM504.94 330.34h1.72v1.72h-1.72zM535.34 330.34h1.72v1.72h-1.72zM543.34 330.34h1.72v1.72h-1.72zM556.14 330.34h1.72v1.72h-1.72zM477.74 331.94h1.72v1.72h-1.72zM495.34 331.94h1.72v1.72h-1.72zM508.14 331.94h1.72v1.72h-1.72zM533.74 331.94h1.72v1.72h-1.72zM544.94 331.94h1.72v1.72h-1.72zM509.74 333.54h1.72v1.72h-1.72zM532.14 333.54h1.72v1.72h-1.72zM546.54 333.54h1.72v1.72h-1.72zM554.54 333.54h1.72v1.72h-1.72zM464.94 335.14h1.72v1.72h-1.72zM479.34 335.14h1.72v1.72h-1.72zM509.74 335.14h1.72v1.72h-1.72zM532.14 335.14h1.72v1.72h-1.72zM546.54 335.14h1.72v1.72h-1.72zM554.54 335.14h1.72v1.72h-1.72zM562.54 335.14h1.72v1.72h-1.72zM490.54 336.74h1.72v1.72h-1.72zM532.14 336.74h1.72v1.72h-1.72zM546.54 336.74h1.72v1.72h-1.72zM554.54 336.74h1.72v1.72h-1.72zM466.54 338.34h1.72v1.72h-1.72zM479.34 338.34h1.72v1.72h-1.72zM490.54 338.34h1.72v1.72h-1.72zM509.74 338.34h1.72v1.72h-1.72zM532.14 338.34h1.72v1.72h-1.72zM560.94 338.34h1.72v1.72h-1.72zM468.14 339.94h1.72v1.72h-1.72zM492.14 339.94h1.72v1.72h-1.72zM509.74 339.94h1.72v1.72h-1.72zM544.94 339.94h1.72v1.72h-1.72zM557.74 339.94h3.32v1.72h-3.32zM476.14 341.54h1.72v1.72h-1.72zM493.74 341.54h1.72v1.72h-1.72zM508.14 341.54h1.72v1.72h-1.72zM533.74 341.54h1.72v1.72h-1.72zM543.34 341.54h1.72v1.72h-1.72zM495.34 343.14h1.72v1.72h-1.72zM506.54 343.14h1.72v1.72h-1.72zM536.94 343.14h1.72v1.72h-1.72zM540.14 343.14h1.72v1.72h-1.72zM500.14 344.74h3.32v1.72h-3.32zM544.94 355.94h1.72v1.72h-1.72zM476.14 357.54h1.72v1.72h-1.72zM540.14 357.54h1.72v1.72h-1.72zM543.34 357.54h4.92v1.72h-4.92zM474.54 359.14h1.72v1.72h-1.72zM490.54 359.14h1.72v1.72h-1.72zM514.54 359.14h14.52v1.72h-14.52zM538.54 359.14h4.92v1.72h-4.92zM544.94 359.14h4.92v1.72h-4.92zM495.34 360.74h1.72v1.72h-1.72zM540.14 360.74h3.32v1.72h-3.32zM493.74 362.34h1.72v1.72h-1.72zM506.54 362.34h1.72v1.72h-1.72zM527.34 362.34h1.72v1.72h-1.72zM493.74 363.94h1.72v1.72h-1.72zM506.54 363.94h1.72v1.72h-1.72zM527.34 363.94h1.72v1.72h-1.72z"/><path fill="#2d2d2d" d="M498.54 275.94h1.72v1.72h-1.72zM516.14 275.94h1.72v1.72h-1.72zM532.14 275.94h1.72v1.72h-1.72zM498.54 277.54h1.72v1.72h-1.72zM516.14 277.54h1.72v1.72h-1.72zM532.14 277.54h1.72v1.72h-1.72zM479.34 279.14h3.32v1.72h-3.32zM530.54 279.14h1.72v1.72h-1.72zM480.94 280.74h3.32v1.72h-3.32zM490.54 280.74h1.72v1.72h-1.72zM495.34 280.74h1.72v1.72h-1.72zM530.54 280.74h1.72v1.72h-1.72zM548.14 280.74h1.72v1.72h-1.72zM482.54 282.34h1.72v1.72h-1.72zM495.34 282.34h1.72v1.72h-1.72zM535.34 282.34h1.72v1.72h-1.72zM546.54 282.34h1.72v1.72h-1.72zM490.54 283.94h1.72v1.72h-1.72zM506.54 283.94h1.72v1.72h-1.72zM525.74 283.94h1.72v1.72h-1.72zM544.94 283.94h3.32v1.72h-3.32zM477.74 285.54h6.52v1.72h-6.52zM506.54 285.54h1.72v1.72h-1.72zM527.34 285.54h1.72v1.72h-1.72zM508.14 287.14h1.72v1.72h-1.72zM525.74 287.14h1.72v1.72h-1.72zM514.54 288.74h6.52v1.72h-6.52zM557.74 303.14h4.92v1.72h-4.92zM471.34 304.74h3.32v1.72h-3.32zM468.14 306.34h1.72v1.72h-1.72zM476.14 306.34h1.72v1.72h-1.72zM538.54 306.34h4.92v1.72h-4.92zM466.54 307.94h1.72v1.72h-1.72zM477.74 307.94h1.72v1.72h-1.72zM496.94 307.94h3.32v1.72h-3.32zM501.74 307.94h3.32v1.72h-3.32zM543.34 307.94h1.72v1.72h-1.72zM493.74 309.54h1.72v1.72h-1.72zM544.94 309.54h1.72v1.72h-1.72zM464.94 311.14h1.72v1.72h-1.72zM479.34 311.14h1.72v1.72h-1.72zM492.14 311.14h1.72v1.72h-1.72zM533.74 311.14h1.72v1.72h-1.72zM464.94 312.74h1.72v1.72h-1.72zM479.34 312.74h1.72v1.72h-1.72zM492.14 312.74h1.72v1.72h-1.72zM508.14 312.74h1.72v1.72h-1.72zM556.14 312.74h1.72v1.72h-1.72zM464.94 314.34h1.72v1.72h-1.72zM477.74 314.34h1.72v1.72h-1.72zM492.14 314.34h1.72v1.72h-1.72zM509.74 314.34h1.72v1.72h-1.72zM476.14 315.94h1.72v1.72h-1.72zM509.74 315.94h1.72v1.72h-1.72zM544.94 315.94h1.72v1.72h-1.72zM559.34 315.94h1.72v1.72h-1.72zM474.54 317.54h1.72v1.72h-1.72zM533.74 317.54h1.72v1.72h-1.72zM543.34 317.54h1.72v1.72h-1.72zM508.14 319.14h1.72v1.72h-1.72zM535.34 319.14h1.72v1.72h-1.72zM541.74 319.14h1.72v1.72h-1.72zM498.54 320.74h3.32v1.72h-3.32zM504.94 320.74h1.72v1.72h-1.72zM536.94 320.74h3.32v1.72h-3.32zM560.94 325.54h3.32v1.72h-3.32zM466.54 328.74h1.72v1.72h-1.72zM472.94 328.74h1.72v1.72h-1.72zM557.74 328.74h1.72v1.72h-1.72zM464.94 330.34h1.72v1.72h-1.72zM474.54 330.34h1.72v1.72h-1.72zM500.14 330.34h4.92v1.72h-4.92zM536.94 330.34h1.72v1.72h-1.72zM541.74 330.34h1.72v1.72h-1.72zM464.94 331.94h1.72v1.72h-1.72zM476.14 331.94h1.72v1.72h-1.72zM496.94 331.94h1.72v1.72h-1.72zM506.54 331.94h1.72v1.72h-1.72zM464.94 333.54h1.72v1.72h-1.72zM477.74 333.54h1.72v1.72h-1.72zM493.74 333.54h1.72v1.72h-1.72zM508.14 333.54h1.72v1.72h-1.72zM533.74 333.54h1.72v1.72h-1.72zM492.14 335.14h1.72v1.72h-1.72zM479.34 336.74h1.72v1.72h-1.72zM492.14 336.74h1.72v1.72h-1.72zM509.74 336.74h1.72v1.72h-1.72zM492.14 338.34h1.72v1.72h-1.72zM544.94 338.34h1.72v1.72h-1.72zM556.14 338.34h1.72v1.72h-1.72zM477.74 339.94h1.72v1.72h-1.72zM493.74 339.94h1.72v1.72h-1.72zM508.14 339.94h1.72v1.72h-1.72zM533.74 339.94h1.72v1.72h-1.72zM471.34 341.54h4.92v1.72h-4.92zM495.34 341.54h1.72v1.72h-1.72zM506.54 341.54h1.72v1.72h-1.72zM535.34 341.54h1.72v1.72h-1.72zM541.74 341.54h1.72v1.72h-1.72zM496.94 343.14h3.32v1.72h-3.32zM503.34 343.14h3.32v1.72h-3.32zM538.54 343.14h1.72v1.72h-1.72zM477.74 357.54h1.72v1.72h-1.72zM541.74 357.54h1.72v1.72h-1.72zM476.14 359.14h1.72v1.72h-1.72zM543.34 359.14h1.72v1.72h-1.72zM493.74 360.74h1.72v1.72h-1.72zM506.54 360.74h1.72v1.72h-1.72zM525.74 360.74h1.72v1.72h-1.72zM543.34 360.74h1.72v1.72h-1.72zM492.14 362.34h1.72v1.72h-1.72zM508.14 362.34h1.72v1.72h-1.72zM525.74 362.34h1.72v1.72h-1.72zM492.14 363.94h1.72v1.72h-1.72zM508.14 363.94h1.72v1.72h-1.72zM525.74 363.94h1.72v1.72h-1.72z"/><path fill="#2e2e2e" d="M500.14 275.94h1.72v1.72h-1.72zM514.54 275.94h1.72v1.72h-1.72zM533.74 275.94h1.72v1.72h-1.72zM500.14 277.54h1.72v1.72h-1.72zM514.54 277.54h1.72v1.72h-1.72zM533.74 277.54h1.72v1.72h-1.72zM532.14 279.14h1.72v1.72h-1.72zM492.14 280.74h3.32v1.72h-3.32zM546.54 280.74h1.72v1.72h-1.72zM493.74 282.34h1.72v1.72h-1.72zM536.94 282.34h1.72v1.72h-1.72zM544.94 282.34h1.72v1.72h-1.72zM479.34 283.94h1.72v1.72h-1.72zM488.94 283.94h1.72v1.72h-1.72zM508.14 283.94h1.72v1.72h-1.72zM524.14 283.94h1.72v1.72h-1.72zM508.14 285.54h1.72v1.72h-1.72zM525.74 285.54h1.72v1.72h-1.72zM509.74 287.14h1.72v1.72h-1.72zM524.14 287.14h1.72v1.72h-1.72zM557.74 304.74h1.72v1.72h-1.72zM469.74 306.34h6.52v1.72h-6.52zM556.14 306.34h1.72v1.72h-1.72zM562.54 306.34h1.72v1.72h-1.72zM476.14 307.94h1.72v1.72h-1.72zM500.14 307.94h1.72v1.72h-1.72zM536.94 307.94h3.32v1.72h-3.32zM541.74 307.94h1.72v1.72h-1.72zM556.14 307.94h1.72v1.72h-1.72zM466.54 309.54h1.72v1.72h-1.72zM477.74 309.54h1.72v1.72h-1.72zM495.34 309.54h3.32v1.72h-3.32zM503.34 309.54h3.32v1.72h-3.32zM535.34 309.54h1.72v1.72h-1.72zM556.14 309.54h1.72v1.72h-1.72zM477.74 311.14h1.72v1.72h-1.72zM493.74 311.14h1.72v1.72h-1.72zM506.54 311.14h1.72v1.72h-1.72zM544.94 311.14h1.72v1.72h-1.72zM556.14 311.14h1.72v1.72h-1.72zM477.74 312.74h1.72v1.72h-1.72zM493.74 312.74h1.72v1.72h-1.72zM533.74 312.74h1.72v1.72h-1.72zM544.94 312.74h1.72v1.72h-1.72zM493.74 314.34h1.72v1.72h-1.72zM508.14 314.34h1.72v1.72h-1.72zM533.74 314.34h1.72v1.72h-1.72zM544.94 314.34h1.72v1.72h-1.72zM557.74 314.34h1.72v1.72h-1.72zM562.54 314.34h1.72v1.72h-1.72zM466.54 315.94h1.72v1.72h-1.72zM474.54 315.94h1.72v1.72h-1.72zM493.74 315.94h1.72v1.72h-1.72zM508.14 315.94h1.72v1.72h-1.72zM533.74 315.94h1.72v1.72h-1.72zM560.94 315.94h1.72v1.72h-1.72zM468.14 317.54h6.52v1.72h-6.52zM495.34 317.54h1.72v1.72h-1.72zM508.14 317.54h1.72v1.72h-1.72zM496.94 319.14h1.72v1.72h-1.72zM506.54 319.14h1.72v1.72h-1.72zM536.94 319.14h1.72v1.72h-1.72zM540.14 319.14h1.72v1.72h-1.72zM501.74 320.74h3.32v1.72h-3.32zM559.34 327.14h1.72v1.72h-1.72zM562.54 327.14h1.72v1.72h-1.72zM468.14 328.74h4.92v1.72h-4.92zM466.54 330.34h1.72v1.72h-1.72zM538.54 330.34h3.32v1.72h-3.32zM498.54 331.94h1.72v1.72h-1.72zM503.34 331.94h3.32v1.72h-3.32zM535.34 331.94h1.72v1.72h-1.72zM543.34 331.94h1.72v1.72h-1.72zM556.14 331.94h1.72v1.72h-1.72zM495.34 333.54h1.72v1.72h-1.72zM506.54 333.54h1.72v1.72h-1.72zM544.94 333.54h1.72v1.72h-1.72zM556.14 333.54h1.72v1.72h-1.72zM562.54 333.54h1.72v1.72h-1.72zM477.74 335.14h1.72v1.72h-1.72zM493.74 335.14h1.72v1.72h-1.72zM508.14 335.14h1.72v1.72h-1.72zM533.74 335.14h1.72v1.72h-1.72zM544.94 335.14h1.72v1.72h-1.72zM556.14 335.14h1.72v1.72h-1.72zM466.54 336.74h1.72v1.72h-1.72zM477.74 336.74h1.72v1.72h-1.72zM493.74 336.74h1.72v1.72h-1.72zM508.14 336.74h1.72v1.72h-1.72zM533.74 336.74h1.72v1.72h-1.72zM544.94 336.74h1.72v1.72h-1.72zM556.14 336.74h1.72v1.72h-1.72zM560.94 336.74h1.72v1.72h-1.72zM468.14 338.34h1.72v1.72h-1.72zM477.74 338.34h1.72v1.72h-1.72zM493.74 338.34h1.72v1.72h-1.72zM508.14 338.34h1.72v1.72h-1.72zM533.74 338.34h1.72v1.72h-1.72zM557.74 338.34h3.32v1.72h-3.32zM469.74 339.94h3.32v1.72h-3.32zM474.54 339.94h3.32v1.72h-3.32zM535.34 339.94h1.72v1.72h-1.72zM543.34 339.94h1.72v1.72h-1.72zM496.94 341.54h1.72v1.72h-1.72zM504.94 341.54h1.72v1.72h-1.72zM536.94 341.54h4.92v1.72h-4.92zM500.14 343.14h3.32v1.72h-3.32zM479.34 357.54h1.72v1.72h-1.72zM482.54 357.54h1.72v1.72h-1.72zM477.74 359.14h1.72v1.72h-1.72zM492.14 360.74h1.72v1.72h-1.72zM508.14 360.74h1.72v1.72h-1.72zM524.14 360.74h1.72v1.72h-1.72zM490.54 362.34h1.72v1.72h-1.72zM509.74 362.34h1.72v1.72h-1.72zM524.14 362.34h1.72v1.72h-1.72zM490.54 363.94h1.72v1.72h-1.72zM509.74 363.94h1.72v1.72h-1.72zM524.14 363.94h1.72v1.72h-1.72z"/><path fill="#2f2f2f" d="M501.74 275.94h1.72v1.72h-1.72zM512.94 275.94h1.72v1.72h-1.72zM535.34 275.94h3.32v1.72h-3.32zM501.74 277.54h1.72v1.72h-1.72zM512.94 277.54h1.72v1.72h-1.72zM535.34 277.54h1.72v1.72h-1.72zM533.74 279.14h3.32v1.72h-3.32zM544.94 279.14h3.32v1.72h-3.32zM532.14 280.74h1.72v1.72h-1.72zM543.34 280.74h3.32v1.72h-3.32zM492.14 282.34h1.72v1.72h-1.72zM538.54 282.34h1.72v1.72h-1.72zM487.34 283.94h1.72v1.72h-1.72zM509.74 283.94h1.72v1.72h-1.72zM522.54 283.94h1.72v1.72h-1.72zM509.74 285.54h1.72v1.72h-1.72zM524.14 285.54h1.72v1.72h-1.72zM511.34 287.14h4.92v1.72h-4.92zM519.34 287.14h4.92v1.72h-4.92zM559.34 304.74h3.32v1.72h-3.32zM557.74 306.34h1.72v1.72h-1.72zM468.14 307.94h3.32v1.72h-3.32zM474.54 307.94h1.72v1.72h-1.72zM540.14 307.94h1.72v1.72h-1.72zM562.54 307.94h1.72v1.72h-1.72zM476.14 309.54h1.72v1.72h-1.72zM498.54 309.54h4.92v1.72h-4.92zM536.94 309.54h1.72v1.72h-1.72zM543.34 309.54h1.72v1.72h-1.72zM466.54 311.14h1.72v1.72h-1.72zM476.14 311.14h1.72v1.72h-1.72zM495.34 311.14h1.72v1.72h-1.72zM504.94 311.14h1.72v1.72h-1.72zM535.34 311.14h1.72v1.72h-1.72zM466.54 312.74h1.72v1.72h-1.72zM476.14 312.74h1.72v1.72h-1.72zM495.34 312.74h1.72v1.72h-1.72zM506.54 312.74h1.72v1.72h-1.72zM535.34 312.74h1.72v1.72h-1.72zM557.74 312.74h1.72v1.72h-1.72zM562.54 312.74h1.72v1.72h-1.72zM466.54 314.34h1.72v1.72h-1.72zM476.14 314.34h1.72v1.72h-1.72zM495.34 314.34h1.72v1.72h-1.72zM506.54 314.34h1.72v1.72h-1.72zM559.34 314.34h3.32v1.72h-3.32zM468.14 315.94h1.72v1.72h-1.72zM472.94 315.94h1.72v1.72h-1.72zM495.34 315.94h1.72v1.72h-1.72zM506.54 315.94h1.72v1.72h-1.72zM543.34 315.94h1.72v1.72h-1.72zM496.94 317.54h1.72v1.72h-1.72zM506.54 317.54h1.72v1.72h-1.72zM535.34 317.54h1.72v1.72h-1.72zM541.74 317.54h1.72v1.72h-1.72zM498.54 319.14h8.12v1.72h-8.12zM538.54 319.14h1.72v1.72h-1.72zM560.94 327.14h1.72v1.72h-1.72zM559.34 328.74h1.72v1.72h-1.72zM562.54 328.74h1.72v1.72h-1.72zM468.14 330.34h1.72v1.72h-1.72zM471.34 330.34h3.32v1.72h-3.32zM557.74 330.34h1.72v1.72h-1.72zM466.54 331.94h1.72v1.72h-1.72zM474.54 331.94h1.72v1.72h-1.72zM500.14 331.94h3.32v1.72h-3.32zM536.94 331.94h1.72v1.72h-1.72zM541.74 331.94h1.72v1.72h-1.72zM562.54 331.94h1.72v1.72h-1.72zM466.54 333.54h1.72v1.72h-1.72zM476.14 333.54h1.72v1.72h-1.72zM496.94 333.54h1.72v1.72h-1.72zM504.94 333.54h1.72v1.72h-1.72zM535.34 333.54h1.72v1.72h-1.72zM543.34 333.54h1.72v1.72h-1.72zM466.54 335.14h1.72v1.72h-1.72zM476.14 335.14h1.72v1.72h-1.72zM495.34 335.14h1.72v1.72h-1.72zM506.54 335.14h1.72v1.72h-1.72zM468.14 336.74h1.72v1.72h-1.72zM476.14 336.74h1.72v1.72h-1.72zM557.74 336.74h3.32v1.72h-3.32zM469.74 338.34h1.72v1.72h-1.72zM474.54 338.34h3.32v1.72h-3.32zM495.34 338.34h1.72v1.72h-1.72zM506.54 338.34h1.72v1.72h-1.72zM535.34 338.34h1.72v1.72h-1.72zM543.34 338.34h1.72v1.72h-1.72zM472.94 339.94h1.72v1.72h-1.72zM495.34 339.94h1.72v1.72h-1.72zM504.94 339.94h3.32v1.72h-3.32zM536.94 339.94h1.72v1.72h-1.72zM541.74 339.94h1.72v1.72h-1.72zM498.54 341.54h6.52v1.72h-6.52zM480.94 357.54h1.72v1.72h-1.72zM479.34 359.14h3.32v1.72h-3.32zM477.74 360.74h3.32v1.72h-3.32zM488.94 360.74h3.32v1.72h-3.32zM509.74 360.74h1.72v1.72h-1.72zM522.54 360.74h1.72v1.72h-1.72zM487.34 362.34h3.32v1.72h-3.32zM511.34 362.34h1.72v1.72h-1.72zM522.54 362.34h1.72v1.72h-1.72zM511.34 363.94h1.72v1.72h-1.72zM522.54 363.94h1.72v1.72h-1.72z"/><path fill="#303030" d="M503.34 275.94h9.72v1.72h-9.72zM503.34 277.54h9.72v1.72h-9.72zM536.94 277.54h8.12v1.72h-8.12zM536.94 279.14h8.12v1.72h-8.12zM533.74 280.74h1.72v1.72h-1.72zM538.54 280.74h4.92v1.72h-4.92zM484.14 282.34h1.72v1.72h-1.72zM490.54 282.34h1.72v1.72h-1.72zM540.14 282.34h4.92v1.72h-4.92zM480.94 283.94h6.52v1.72h-6.52zM511.34 283.94h3.32v1.72h-3.32zM519.34 283.94h3.32v1.72h-3.32zM511.34 285.54h1.72v1.72h-1.72zM522.54 285.54h1.72v1.72h-1.72zM516.14 287.14h3.32v1.72h-3.32zM559.34 306.34h3.32v1.72h-3.32zM471.34 307.94h3.32v1.72h-3.32zM557.74 307.94h1.72v1.72h-1.72zM468.14 309.54h1.72v1.72h-1.72zM472.94 309.54h3.32v1.72h-3.32zM538.54 309.54h4.92v1.72h-4.92zM557.74 309.54h1.72v1.72h-1.72zM562.54 309.54h1.72v1.72h-1.72zM468.14 311.14h1.72v1.72h-1.72zM474.54 311.14h1.72v1.72h-1.72zM496.94 311.14h8.12v1.72h-8.12zM536.94 311.14h1.72v1.72h-1.72zM541.74 311.14h3.32v1.72h-3.32zM557.74 311.14h1.72v1.72h-1.72zM562.54 311.14h1.72v1.72h-1.72zM474.54 312.74h1.72v1.72h-1.72zM496.94 312.74h1.72v1.72h-1.72zM504.94 312.74h1.72v1.72h-1.72zM543.34 312.74h1.72v1.72h-1.72zM559.34 312.74h3.32v1.72h-3.32zM468.14 314.34h1.72v1.72h-1.72zM472.94 314.34h3.32v1.72h-3.32zM496.94 314.34h1.72v1.72h-1.72zM504.94 314.34h1.72v1.72h-1.72zM535.34 314.34h1.72v1.72h-1.72zM543.34 314.34h1.72v1.72h-1.72zM469.74 315.94h3.32v1.72h-3.32zM496.94 315.94h1.72v1.72h-1.72zM504.94 315.94h1.72v1.72h-1.72zM535.34 315.94h3.32v1.72h-3.32zM541.74 315.94h1.72v1.72h-1.72zM498.54 317.54h3.32v1.72h-3.32zM503.34 317.54h3.32v1.72h-3.32zM536.94 317.54h4.92v1.72h-4.92zM560.94 328.74h1.72v1.72h-1.72zM469.74 330.34h1.72v1.72h-1.72zM559.34 330.34h1.72v1.72h-1.72zM562.54 330.34h1.72v1.72h-1.72zM468.14 331.94h1.72v1.72h-1.72zM472.94 331.94h1.72v1.72h-1.72zM538.54 331.94h3.32v1.72h-3.32zM557.74 331.94h1.72v1.72h-1.72zM474.54 333.54h1.72v1.72h-1.72zM498.54 333.54h6.52v1.72h-6.52zM536.94 333.54h1.72v1.72h-1.72zM541.74 333.54h1.72v1.72h-1.72zM557.74 333.54h1.72v1.72h-1.72zM468.14 335.14h1.72v1.72h-1.72zM474.54 335.14h1.72v1.72h-1.72zM496.94 335.14h1.72v1.72h-1.72zM504.94 335.14h1.72v1.72h-1.72zM535.34 335.14h1.72v1.72h-1.72zM543.34 335.14h1.72v1.72h-1.72zM557.74 335.14h1.72v1.72h-1.72zM560.94 335.14h1.72v1.72h-1.72zM474.54 336.74h1.72v1.72h-1.72zM495.34 336.74h3.32v1.72h-3.32zM504.94 336.74h3.32v1.72h-3.32zM535.34 336.74h1.72v1.72h-1.72zM543.34 336.74h1.72v1.72h-1.72zM471.34 338.34h3.32v1.72h-3.32zM496.94 338.34h1.72v1.72h-1.72zM504.94 338.34h1.72v1.72h-1.72zM536.94 338.34h1.72v1.72h-1.72zM541.74 338.34h1.72v1.72h-1.72zM496.94 339.94h8.12v1.72h-8.12zM538.54 339.94h3.32v1.72h-3.32zM482.54 359.14h8.12v1.72h-8.12zM480.94 360.74h8.12v1.72h-8.12zM511.34 360.74h1.72v1.72h-1.72zM520.94 360.74h1.72v1.72h-1.72zM482.54 362.34h4.92v1.72h-4.92zM512.94 362.34h9.72v1.72h-9.72zM512.94 363.94h9.72v1.72h-9.72z"/><path fill="#313131" d="M535.34 280.74h3.32v1.72h-3.32zM485.74 282.34h4.92v1.72h-4.92zM514.54 283.94h4.92v1.72h-4.92zM512.94 285.54h9.72v1.72h-9.72zM559.34 307.94h3.32v1.72h-3.32zM469.74 309.54h3.32v1.72h-3.32zM559.34 309.54h3.32v1.72h-3.32zM469.74 311.14h4.92v1.72h-4.92zM538.54 311.14h3.32v1.72h-3.32zM559.34 311.14h3.32v1.72h-3.32zM468.14 312.74h6.52v1.72h-6.52zM498.54 312.74h6.52v1.72h-6.52zM536.94 312.74h6.52v1.72h-6.52zM469.74 314.34h3.32v1.72h-3.32zM498.54 314.34h6.52v1.72h-6.52zM536.94 314.34h6.52v1.72h-6.52zM498.54 315.94h6.52v1.72h-6.52zM538.54 315.94h3.32v1.72h-3.32zM501.74 317.54h1.72v1.72h-1.72zM560.94 330.34h1.72v1.72h-1.72zM469.74 331.94h3.32v1.72h-3.32zM559.34 331.94h3.32v1.72h-3.32zM468.14 333.54h6.52v1.72h-6.52zM538.54 333.54h3.32v1.72h-3.32zM559.34 333.54h3.32v1.72h-3.32zM469.74 335.14h4.92v1.72h-4.92zM498.54 335.14h6.52v1.72h-6.52zM536.94 335.14h6.52v1.72h-6.52zM559.34 335.14h1.72v1.72h-1.72zM469.74 336.74h4.92v1.72h-4.92zM498.54 336.74h6.52v1.72h-6.52zM536.94 336.74h6.52v1.72h-6.52zM498.54 338.34h6.52v1.72h-6.52zM538.54 338.34h3.32v1.72h-3.32zM512.94 360.74h8.12v1.72h-8.12z"/></g></g>
<g class="axes"><line class="ax" x1="409.6" y1="386.6" x2="409.6" y2="259.8"/><line class="ax" x1="409.6" y1="386.6" x2="531.4" y2="396.9"/><line class="ax" x1="531.4" y1="396.9" x2="616.7" y2="381.2"/><line class="ax" x1="436.9" y1="388.91" x2="436.9" y2="392.21"/><line class="ax" x1="596.5" y1="384.92" x2="596.5" y2="388.22"/><line class="ax" x1="409.6" y1="363.4" x2="405.8" y2="363.1"/><line class="ax" x1="470.6" y1="391.76" x2="470.6" y2="395.06"/><line class="ax" x1="573.9" y1="389.08" x2="573.9" y2="392.38"/><line class="ax" x1="409.6" y1="323.1" x2="405.8" y2="322.8"/><line class="ax" x1="504.3" y1="394.61" x2="504.3" y2="397.91"/><line class="ax" x1="551.3" y1="393.24" x2="551.3" y2="396.54"/><line class="ax" x1="409.6" y1="282.8" x2="405.8" y2="282.5"/></g>
<text class="tk" text-anchor="end" x="436.3" y="407.31">-200</text><text class="tk" x="596.6" y="403.32">-200</text><text class="tk" text-anchor="end" x="402" y="367.6">-200</text><text class="tk" text-anchor="end" x="470" y="410.16">0</text><text class="tk" x="574" y="407.48">0</text><text class="tk" text-anchor="end" x="402" y="327.3">0</text><text class="tk" text-anchor="end" x="503.7" y="413.01">200</text><text class="tk" x="551.4" y="411.64">200</text><text class="tk" text-anchor="end" x="402" y="287">200</text>
<text class="m" textLength="11" lengthAdjust="spacingAndGlyphs" x="452.2" y="422.9">m</text>
<text class="m" textLength="11" lengthAdjust="spacingAndGlyphs" x="590.9" y="421.8">m</text>
<text class="m" textLength="11" lengthAdjust="spacingAndGlyphs" transform="translate(369.8 323.7) rotate(-90)" x="-5.6" y="3.3">m</text>
<rect x="641.3" y="242.2" width="14.6" height="156.6" fill="url(#hot)"/>
<rect class="cbx" x="641.3" y="242.2" width="14.6" height="156.6"/>
<text class="tk" x="659.5" y="403.1">0</text>
<line class="ax" x1="654.3" y1="371.61" x2="655.9" y2="371.61"/>
<text class="tk" x="659.5" y="375.91">10</text>
<line class="ax" x1="654.3" y1="344.43" x2="655.9" y2="344.43"/>
<text class="tk" x="659.5" y="348.73">20</text>
<line class="ax" x1="654.3" y1="317.24" x2="655.9" y2="317.24"/>
<text class="tk" x="659.5" y="321.54">30</text>
<line class="ax" x1="654.3" y1="290.05" x2="655.9" y2="290.05"/>
<text class="tk" x="659.5" y="294.35">40</text>
<line class="ax" x1="654.3" y1="262.86" x2="655.9" y2="262.86"/>
<text class="tk" x="659.5" y="267.16">50</text>
<text class="deg" x="673.8" y="323.9">(°)</text>
</g>
<text class="st i" x="308.4" y="11.7" textLength="9.2" lengthAdjust="spacingAndGlyphs">T</text>
<text class="st sub" x="317.2" y="13.9" textLength="17.4" lengthAdjust="spacingAndGlyphs">min</text>
<text class="st" x="335.6" y="11.7" textLength="6.2" lengthAdjust="spacingAndGlyphs">/</text>
<text class="st i" x="342.2" y="11.7" textLength="11.6" lengthAdjust="spacingAndGlyphs">T</text>
<text class="st" x="359.5" y="11.7" textLength="11.2" lengthAdjust="spacingAndGlyphs">=</text>
<text class="st" x="375.4" y="11.7" textLength="33.6" lengthAdjust="spacingAndGlyphs">0.000</text>
<text class="tt b" x="72.6" y="22.9" textLength="18.9" lengthAdjust="spacingAndGlyphs">(a)</text>
<text class="tt i" x="96.8" y="22.9" textLength="6.8" lengthAdjust="spacingAndGlyphs">θ</text>
<text class="tt sub" x="104.2" y="24.9" textLength="16.4" lengthAdjust="spacingAndGlyphs">min</text>
<text class="tt" x="121.4" y="22.9" textLength="17.4" lengthAdjust="spacingAndGlyphs">(<tspan class="b">r</tspan>)</text>
<text class="tt" x="145.4" y="22.9" textLength="36.6" lengthAdjust="spacingAndGlyphs">(exact</text>
<text class="tt" x="188.2" y="22.9" textLength="36.8" lengthAdjust="spacingAndGlyphs">value)</text>
<text class="tt b" x="432.3" y="22.5" textLength="19.2" lengthAdjust="spacingAndGlyphs">(b)</text>
<text class="tt i" x="457.4" y="22.5" textLength="6.5" lengthAdjust="spacingAndGlyphs">θ</text>
<text class="tt sub" x="464.2" y="24.5" textLength="16.6" lengthAdjust="spacingAndGlyphs">min</text>
<text class="tt" x="481.7" y="22.5" textLength="17.7" lengthAdjust="spacingAndGlyphs">(<tspan class="b">r</tspan>)</text>
<text class="tt" x="506.1" y="22.5" textLength="33.6" lengthAdjust="spacingAndGlyphs">(error</text>
<text class="tt le" x="545.7" y="24.8" textLength="11.3" lengthAdjust="spacingAndGlyphs">≤</text>
<text class="tt" x="562.2" y="22.5" textLength="35.3" lengthAdjust="spacingAndGlyphs">0.07°)</text>
<text class="tt b" x="65.2" y="236.6" textLength="17.8" lengthAdjust="spacingAndGlyphs">(c)</text>
<text class="tt i" x="88.8" y="236.6" textLength="6.6" lengthAdjust="spacingAndGlyphs">θ</text>
<text class="tt sub" x="95.7" y="238.6" textLength="16.6" lengthAdjust="spacingAndGlyphs">min</text>
<text class="tt" x="113.2" y="236.6" textLength="17.7" lengthAdjust="spacingAndGlyphs">(<tspan class="b">r</tspan>)</text>
<text class="tt" x="137.6" y="236.6" textLength="33.6" lengthAdjust="spacingAndGlyphs">(error</text>
<text class="tt le" x="177.2" y="238.9" textLength="11.3" lengthAdjust="spacingAndGlyphs">≤</text>
<text class="tt" x="193.6" y="236.6" textLength="35.1" lengthAdjust="spacingAndGlyphs">0.04°)</text>
<text class="tt b" x="430.2" y="238.6" textLength="19.8" lengthAdjust="spacingAndGlyphs">(d)</text>
<text class="tt i" x="455.9" y="238.6" textLength="6.6" lengthAdjust="spacingAndGlyphs">θ</text>
<text class="tt sub" x="462.9" y="240.6" textLength="16.5" lengthAdjust="spacingAndGlyphs">min</text>
<text class="tt" x="480.4" y="238.6" textLength="17.8" lengthAdjust="spacingAndGlyphs">(<tspan class="b">r</tspan>)</text>
<text class="tt" x="504.9" y="238.6" textLength="33.6" lengthAdjust="spacingAndGlyphs">(error</text>
<text class="tt le" x="544.5" y="240.9" textLength="11.6" lengthAdjust="spacingAndGlyphs">≤</text>
<text class="tt" x="561" y="238.6" textLength="35.6" lengthAdjust="spacingAndGlyphs">0.04°)</text>
</svg>
</body></html>
